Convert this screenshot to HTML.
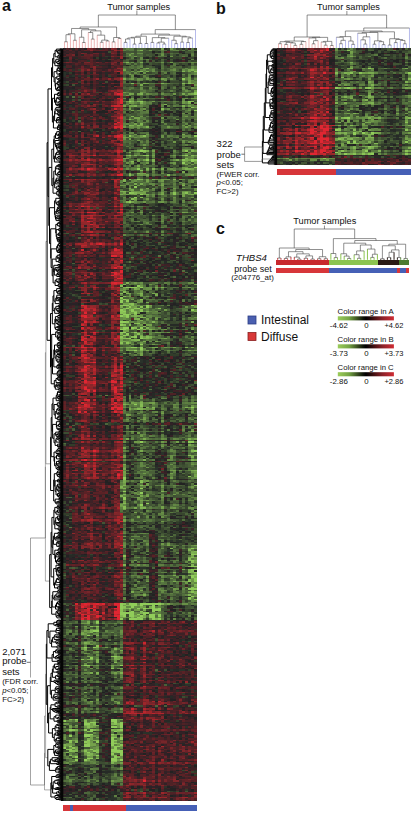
<!DOCTYPE html>
<html><head><meta charset="utf-8"><style>
html,body{margin:0;padding:0;background:#fff;}
body{width:413px;height:813px;overflow:hidden;position:relative;}
svg{position:absolute;left:0;top:0;}
text{font-family:"Liberation Sans",sans-serif;fill:#111;}
</style></head><body>
<svg width="413" height="813" viewBox="0 0 413 813">
<g shape-rendering="crispEdges" filter="url(#bl)"><path fill="none" stroke="#2a2225" stroke-width="1.5" d="M63 48.75h3m51 0h3m-42 1.5h3m-6 1.5h3m18 0h6m3 0h3m9 0h3m-54 1.5h3m6 0h3m21 3h3m62 1.5h3m-47 1.5h3m53 0h3m-107 1.5h6m18 0h6m32 0h3m39 0h3m6 0h3m-71 1.5h3m-57 1.5h3m18 1.5h3m-15 1.5h3m33 0h3m-42 1.5h3m33 0h3m-9 4.5h3m3 3h3m71 0h3m-104 1.5h3m30 0h3m-51 1.5h3m0 1.5h3m27 0h3m6 0h3m-39 1.5h3m45 0h3m-42 1.5h3m18 0h3m15 1.5h3m-54 1.5h3m3 0h3m3 0h3m3 0h3m3 0h3m83 0h3m-116 1.5h9m18 0h3m12 0h3m-3 1.5h3m-6 1.5h3m-33 3h3m-9 1.5h3m3 0h3m27 0h3m-36 1.5h3m27 0h3m35 0h3m27 0h3m-107 1.5h3m3 0h6m3 0h3m0 1.5h3m6 0h6m-30 1.5h3m6 0h3m-15 1.5h3m125 0h3m-128 1.5h3m3 0h3m-9 1.5h3m3 0h3m51 1.5h3m-63 1.5h3m15 0h3m21 0h3m-42 1.5h3m42 0h3m-48 1.5h3m18 0h3m18 0h3m56 0h3m-110 1.5h3m33 0h3m-33 1.5h3m27 0h3m-36 1.5h3m18 0h3m89 0h3m-24 1.5h3m-77 1.5h3m12 0h3m-27 1.5h3m12 0h3m12 0h6m41 0h3m21 0h3m-74 1.5h3m47 0h3m-86 1.5h3m24 0h3m3 0h3m-39 1.5h3m27 0h3m47 0h3m-89 1.5h3m33 0h3m-39 1.5h3m27 1.5h3m15 0h3m35 0h3m6 0h3m6 0h3m9 0h3m-95 1.5h3m12 0h3m-39 1.5h3m27 0h3m9 0h3m41 0h3m-86 1.5h3m27 0h3m50 0h3m-92 3h3m33 0h3m77 0h3m-104 1.5h3m3 0h3m65 0h3m-47 1.5h3m38 0h3m6 0h3m-95 1.5h9m9 0h3m65 0h3m-83 1.5h3m104 0h3m-77 1.5h3m-9 1.5h3m32 0h3m51 0h3m-113 1.5h3m9 0h3m9 0h3m3 0h3m-21 1.5h3m18 0h3m17 0h3m42 0h3m-15 1.5h3m-104 3h3m12 0h3m15 0h3m15 0h3m59 3h3m-95 1.5h3m15 0h3m29 0h3m-74 3h3m68 0h3m21 0h3m-98 1.5h3m30 0h3m56 0h3m-80 3h3m77 0h3m6 0h3m-107 1.5h3m9 0h3m30 3h3m-33 1.5h6m47 0h3m45 0h3m-74 4.5h3m3 0h3m53 0h3m-98 1.5h9m12 0h3m15 0h3m17 0h3m21 0h3m-50 3h3m-15 1.5h3m6 0h3m-45 6h3m18 0h3m12 0h3m-36 1.5h6m36 0h3m53 0h3m-104 1.5h3m30 0h3m9 3h3m-36 1.5h6m15 0h3m6 0h3m44 0h3m-89 1.5h3m-9 1.5h3m89 0h3m-95 1.5h3m119 0h3m-125 1.5h3m9 0h3m56 3h3m24 0h3m24 0h3m-83 3h3m18 0h2m18 0h3m15 0h3m3 0h3m-92 3h3m6 0h3m27 0h3m50 0h3m-27 1.5h3m-92 1.5h6m15 0h3m12 0h3m56 3h3m-83 1.5h3m-12 4.5h3m3 0h3m-15 3h3m45 0h3m6 0h3m-60 1.5h3m39 0h3m-39 1.5h3m24 0h3m18 0h3m35 0h6m15 0h3m-116 3h3m9 0h3m24 1.5h3m15 0h3m26 1.5h3m21 0h6m-98 1.5h3m33 0h3m41 0h3m6 0h6m-50 1.5h3m14 0h3m21 0h3m3 1.5h3m-98 1.5h3m42 0h3m3 0h2m9 0h3m6 0h3m21 0h6m6 0h3m-122 1.5h3m62 0h3m39 0h3m6 0h3m-12 1.5h3m-45 1.5h3m9 0h3m15 0h3m-59 1.5h3m21 0h2m6 0h3m51 0h3m-65 1.5h2m3 0h3m12 0h3m12 0h3m-95 1.5h3m24 0h3m35 0h3m39 0h3m-119 1.5h3m33 0h3m92 1.5h3m-101 1.5h3m50 0h3m30 0h3m3 0h3m-95 1.5h3m24 0h3m35 0h3m-101 1.5h3m3 0h3m39 0h3m77 0h6m-134 1.5h3m21 0h3m6 0h3m-36 1.5h3m92 0h3m3 0h3m12 0h3m-36 1.5h3m-83 1.5h3m54 0h3m41 0h3m-83 1.5h3m65 0h3m12 0h3m3 0h3m6 0h3m-89 1.5h3m47 1.5h3m-74 1.5h3m18 0h3m3 0h3m74 0h3m3 0h3m-104 1.5h3m3 0h3m65 0h6m-41 1.5h3m11 0h3m36 0h3m-59 1.5h3m8 0h6m18 0h6m9 0h3m18 0h3m-101 1.5h3m24 0h3m26 0h3m6 1.5h3m24 0h3m3 0h3m-107 1.5h3m6 0h3m32 0h3m-74 1.5h3m6 0h3m0 1.5h3m-15 3h3m33 0h3m6 0h3m47 0h3m3 0h3m3 0h3m-107 1.5h3m33 0h3m71 0h3m-77 3h3m-9 1.5h3m80 0h3m12 0h3m-125 1.5h3m80 0h3m18 0h3m-107 1.5h3m30 1.5h3m50 0h3m33 0h3m-134 1.5h9m30 0h3m3 0h3m9 0h3m-24 1.5h3m-27 1.5h3m-9 1.5h3m30 0h6m35 0h3m15 0h3m-101 3h15m74 0h3m15 0h3m18 0h3m-128 1.5h3m9 0h3m24 1.5h3m-45 1.5h3m12 0h3m21 0h3m3 0h3m59 0h3m-110 3h3m92 0h3m-92 1.5h6m24 0h3m-33 1.5h6m62 0h3m39 1.5h3m6 0h3m-113 1.5h3m-15 3h3m33 0h3m-30 1.5h3m24 1.5h3m26 0h3m51 0h3m-119 1.5h3m21 0h3m18 0h3m26 0h3m15 0h3m-98 1.5h3m12 0h3m21 0h3m59 0h3m18 0h3m-119 1.5h3m3 0h3m48 0h2m33 0h3m12 0h3m-104 1.5h3m-6 1.5h3m36 0h3m59 0h3m0 1.5h3m-77 1.5h3m56 0h3m-98 1.5h3m3 0h3m18 0h3m65 0h3m-101 1.5h3m101 0h3m3 3h3m-104 1.5h3m24 0h3m41 0h3m21 0h3m-101 1.5h6m92 0h3m-98 1.5h3m30 0h3m53 0h3m-92 1.5h3m95 0h3m-110 3h3m27 1.5h3m-24 1.5h3m21 0h3m-27 1.5h3m80 0h3m-83 1.5h3m18 0h3m9 0h3m-12 1.5h3m3 0h3m56 0h3m18 0h3m-51 1.5h3m15 0h3m15 0h3m15 0h3m-101 1.5h6m44 0h3m18 0h6m-15 1.5h3m-6 1.5h3m-86 1.5h3m30 0h3m15 0h3m26 0h3m3 0h3m33 0h3m-134 1.5h3m42 0h3m12 1.5h3m62 0h3m-128 1.5h3m42 0h3m15 0h3m35 1.5h3m24 0h3m-51 1.5h3m-74 1.5h6m56 0h3m42 0h3m3 0h3m-119 1.5h3m74 0h3m-53 1.5h3m35 0h3m6 0h3m18 0h3m-95 1.5h3m27 0h3m32 0h3m24 0h3m18 0h3m-116 1.5h3m24 0h3m35 0h3m48 0h9m-116 1.5h3m53 0h3m15 0h3m-18 1.5h3m12 1.5h3m15 0h3m-68 1.5h3m32 0h3m3 0h3m12 0h3m-101 1.5h3m33 0h3m50 0h3m12 0h3m3 0h3m-71 1.5h3m20 0h3m18 0h3m-77 1.5h3m50 0h3m21 0h3m-3 1.5h6m-98 1.5h3m3 0h3m48 0h3m3 0h8m18 0h3m9 0h3m24 0h3m-68 1.5h3m8 0h3m9 0h3m15 0h3m6 0h6m-110 1.5h3m0 1.5h3m48 0h3m17 0h3m-77 1.5h6m18 0h3m59 0h3m6 0h6m6 0h3m-119 1.5h6m-3 1.5h3m12 0h3m30 0h3m-51 3h3m36 4.5h3m-12 1.5h3m12 0h3m29 0h3m24 0h3m-77 3h3m9 0h3m-6 1.5h3m50 0h3m9 0h3m12 0h3m-113 1.5h6m15 0h3m3 0h3m-6 1.5h3m83 0h3m-89 1.5h3m56 0h3m-98 1.5h3m30 0h3m9 0h3m-30 1.5h3m15 0h3m50 0h3m15 0h3m9 0h3m-12 1.5h3m-113 3h6m27 0h3m59 0h3m18 0h3m3 0h3m-98 1.5h3m-15 1.5h3m18 0h3m3 0h3m6 0h3m32 0h3m18 0h3m3 0h3m6 1.5h3m-89 1.5h3m9 0h3m20 0h3m21 0h3m-95 1.5h3m39 0h3m47 0h3m6 0h3m-74 1.5h3m-36 1.5h3m9 3h3m18 0h3m6 0h3m12 0h3m23 0h6m27 0h3m12 0h3m-128 1.5h3m39 0h3m-42 1.5h3m110 0h3m-122 1.5h3m0 4.5h3m36 0h3m20 1.5h3m51 1.5h3m-80 1.5h3m23 0h3m18 0h3m6 0h3m-38 3h2m30 0h3m15 0h3m-24 1.5h3m3 0h3m-3 1.5h3m-59 1.5h3m15 0h3m2 4.5h3m-35 1.5h3m-39 1.5h3m15 0h3m15 0h3m27 0h2m27 0h3m18 0h3m-53 3h2m-53 3h3m50 0h3m30 0h3m-9 1.5h3m-80 3h3m12 0h3m56 0h3m9 0h3m9 0h3m-104 1.5h3m-18 3h3m24 0h3m12 0h3m18 0h3m5 0h3m-50 1.5h3m-18 3h3m12 0h6m15 0h3m59 1.5h3m-65 1.5h3m-21 1.5h3m38 1.5h3m-65 1.5h3m21 1.5h3m68 0h3m-98 1.5h3m21 0h3m35 0h3m-71 1.5h6m36 0h3m-42 1.5h3m9 0h3m-15 1.5h3m3 0h3m30 0h3m59 0h3m9 0h3m-119 1.5h3m21 3h3m-9 1.5h3m3 0h3m-12 1.5h3m30 0h3m65 0h3m-104 1.5h3m24 4.5h3m62 0h3m-107 1.5h3m24 0h3m6 0h3m21 0h3m44 0h3m6 3h3m-101 1.5h3m39 0h5m-2 1.5h2m27 0h3m-68 1.5h3m30 0h3m26 0h3m30 0h3m-119 3h3m45 0h3m-39 1.5h3m-18 1.5h3m62 0h3m6 0h3m39 0h3m-39 1.5h3m-59 1.5h6m-21 1.5h3m-15 1.5h3m110 0h3m-104 1.5h3m3 0h3m68 0h3m-80 1.5h3m24 0h3m3 0h3m-45 1.5h3m77 1.5h3m3 0h3m27 0h3m-83 1.5h3m-30 1.5h3m-15 1.5h3m9 0h3m3 0h3m-9 1.5h3m3 0h3m6 0h3m9 0h3m-36 1.5h3m21 0h3m27 0h5m-23 1.5h6m15 0h2m24 0h3m21 0h3m-101 1.5h3m24 0h3m9 0h3m14 0h3m27 0h3m-77 1.5h3m6 0h3m26 0h3m12 0h3m30 0h3m-116 1.5h3m21 0h3m9 0h3m-36 1.5h6m12 0h3m18 0h3m9 0h3m-39 1.5h3m15 0h3m47 0h3m-26 1.5h2m-56 1.5h3m3 0h3m3 0h3m9 0h3m62 0h3m-98 3h3m30 0h3m71 1.5h3m9 0h3m-116 1.5h6m18 0h3m47 0h6m-59 1.5h3m9 0h3m3 0h6m9 0h2m-65 1.5h3m39 1.5h3m35 0h3m0 1.5h3m-65 1.5h3m6 1.5h6m53 0h3m-95 1.5h3m36 0h3m47 0h3m-71 1.5h3m0 1.5h3m9 0h3m-33 1.5h3m6 0h3m21 0h6m41 0h3m3 0h3m-9 1.5h3m-80 1.5h3m77 0h3m-86 1.5h3m30 0h3m44 0h3m3 0h3m-53 1.5h3m3 0h3m41 0h3m-6 1.5h3m0 1.5h3m-86 1.5h3m27 0h3m-30 3h3m48 0h3m23 0h6m-74 1.5h3m12 0h3m-30 1.5h3m33 0h6m15 0h2m6 0h6m-44 1.5h3m21 0h3m11 0h3m27 0h3m9 3h3m-68 1.5h3m-12 3h3m83 0h3m-131 4.5h3m104 3h6m6 1.5h3m-107 1.5h3m48 0h2m6 0h3m6 0h3m15 0h3m9 0h6m-48 1.5h3m3 0h3m45 1.5h3m-113 1.5h3m18 0h3m21 0h3m20 0h3m12 0h6m15 0h3m6 0h3m-6 1.5h3m-57 1.5h3m3 0h3m12 0h3m18 1.5h3m9 0h3m-113 3h3m83 0h3m-24 1.5h3m-9 1.5h3m-47 1.5h3m30 0h3m32 0h3m15 0h3m3 0h3m6 0h3m-48 1.5h3m-80 1.5h3m27 0h3m26 0h3m36 0h3m21 0h3m-98 1.5h3m29 0h3m-68 4.5h3m33 0h3m21 0h3m11 0h3m15 0h3m9 0h6m-39 3h3m27 0h3m6 0h3m9 0h3m-89 1.5h3m18 0h3m14 0h3m3 0h3m15 0h3m-65 1.5h3m74 0h3m-113 1.5h3m6 0h3m27 0h3m26 0h3m-68 1.5h3m33 0h3m12 0h3m26 0h3m18 0h3m-27 1.5h3m12 0h3m15 0h3m-18 1.5h3m15 1.5h3m-80 1.5h3m35 0h6m-6 1.5h3m18 0h3m-68 1.5h3m3 0h3m74 0h3m-86 3h3m41 0h3m9 0h3m6 0h3m6 0h3m-107 1.5h3m3 0h3m24 0h3m15 0h3m-57 1.5h3m45 0h3m65 0h3m-42 1.5h3m-44 1.5h3m-30 1.5h3m21 0h3m32 0h3m-17 1.5h3m11 0h3m30 0h3m3 0h3m-101 1.5h3m27 0h3m26 0h3m51 1.5h3m-57 3h3m48 0h3m-122 1.5h3m9 0h3m9 0h3m3 0h3m24 0h3m50 0h6m-122 1.5h3m6 0h3m3 0h3m21 0h6m65 0h3m15 0h3m-6 1.5h3m-83 3h3m23 0h3m39 0h6m-104 1.5h3m107 0h3m-57 3h3m27 0h3m18 0h3m-89 1.5h3m-33 1.5h3m27 0h3m27 0h8m30 0h3m18 0h3m-122 1.5h3m98 0h3m15 0h3m-3 1.5h3m-27 1.5h3m-62 1.5h3m23 3h3m45 0h3m12 0h3m-134 1.5h3m45 0h3m20 0h3m15 0h3m24 0h3m-18 1.5h3m15 0h3m-45 1.5h3m15 0h6m-86 1.5h3m-3 1.5h3m3 0h3m33 0h3m-57 1.5h3m51 0h3m44 0h3m15 0h6m-113 1.5h3m30 0h6m20 0h3m51 0h3m-80 1.5h3m3 0h3m53 0h3m-9 1.5h3m12 0h3m6 0h3m-98 1.5h3m6 0h3m20 1.5h3m9 0h3m3 0h3m-44 1.5h3m18 0h2m3 0h3m9 0h3m6 0h3m-35 1.5h3m62 0h3m-89 1.5h3m29 0h3m42 0h3m-110 1.5h3m71 0h3m12 0h3m9 0h3m-74 3h3m65 0h3m6 0h3m6 0h3m-51 1.5h3m18 0h3m3 0h3m-47 1.5h3m8 0h3m21 0h3m0 1.5h3m-35 1.5h2m9 0h3m-44 1.5h3m21 0h6m56 0h3m-80 3h3m35 1.5h6m-12 1.5h3m18 0h3m18 0h3m-51 1.5h3m18 0h3m-35 1.5h3m29 0h3m-80 1.5h3m86 1.5h3m-9 1.5h3m12 0h3m-101 1.5h3m18 0h3m29 0h3m15 0h3m3 0h3m9 0h3m6 0h3m-33 1.5h3m18 0h3m-92 1.5h3m50 0h3m57 0h3m-86 1.5h3m18 0h2m27 0h3m15 0h3m9 0h3m-113 1.5h3m59 0h3m24 0h3m-92 1.5h3m45 0h3m11 0h3m36 0h3m6 3h3m-119 1.5h3m21 0h6m21 0h3m11 0h3m15 0h3m30 1.5h3m-110 1.5h3m15 0h3m27 1.5h2m15 0h3m6 0h3m30 0h3m-113 1.5h3m15 0h3m35 0h3m36 1.5h3m-77 1.5h3m32 0h3m24 0h3m12 0h3m-98 1.5h3m6 0h3m15 6h3m-36 1.5h3m116 0h3m-122 3h3m68 0h6m3 0h6m9 0h3m-104 1.5h3m9 0h3m15 0h3m9 0h3m3 0h3m6 0h3m-66 1.5h3m15 0h3m83 0h3m9 0h3m-101 1.5h3m12 0h3m21 0h6m17 0h6m3 0h3m33 0h3m-110 1.5h3m21 0h3m-36 1.5h6m101 0h3m-119 1.5h3m30 0h3m50 0h3m21 0h3m-71 3h3m62 0h3m-89 1.5h3m24 0h3m41 0h3m30 0h3"/>
<path fill="none" stroke="#502427" stroke-width="1.5" d="M66 48.75h3m42 1.5h3m-45 3h3m24 1.5h3m3 0h3m6 0h6m-33 3h3m68 0h3m-89 3h3m9 0h3m-12 1.5h3m18 0h3m12 0h3m-45 3h3m48 0h6m-57 1.5h6m24 0h6m18 0h3m-36 1.5h3m24 0h3m-54 1.5h3m24 0h3m3 0h3m12 0h3m-27 4.5h6m24 0h3m-27 1.5h3m62 0h3m-68 1.5h3m6 0h6m6 0h3m-42 1.5h3m33 0h3m-6 1.5h3m-18 1.5h3m0 1.5h3m18 0h3m-12 3h3m-27 1.5h3m6 0h3m21 0h3m-45 3h6m9 0h3m15 1.5h6m-21 1.5h6m3 0h3m6 0h3m-27 1.5h3m15 0h3m-33 1.5h3m24 0h3m6 0h3m12 0h3m26 0h3m21 0h3m-98 1.5h3m3 0h3m18 0h3m-39 1.5h3m89 0h3m-65 1.5h6m-42 1.5h3m3 0h3m3 0h3m18 0h3m-24 1.5h3m24 1.5h3m-42 3h3m15 0h3m62 0h3m-3 1.5h3m-80 1.5h3m33 1.5h3m-27 1.5h3m6 0h3m-30 3h3m15 0h3m12 0h3m6 0h3m-21 3h3m-6 1.5h3m3 0h3m-12 1.5h3m-24 1.5h3m12 0h3m21 0h3m-39 1.5h3m12 0h3m15 0h6m-9 1.5h6m74 3h3m-107 1.5h3m42 0h3m-57 3h3m36 0h3m-36 1.5h3m18 0h3m12 0h6m-30 3h3m9 0h3m-36 1.5h3m21 0h3m-15 1.5h3m9 0h3m3 1.5h3m53 1.5h3m-83 3h3m-6 1.5h3m33 1.5h3m-6 1.5h3m6 0h6m50 0h3m-83 3h3m21 0h3m-45 1.5h3m86 0h3m-86 3h3m9 0h3m12 0h3m-33 1.5h6m3 0h3m9 0h3m12 0h3m3 0h3m-48 1.5h9m24 3h3m6 0h3m-6 1.5h3m-42 1.5h3m3 0h3m30 0h3m-42 1.5h3m3 0h3m12 0h3m3 0h3m24 0h3m-21 1.5h3m6 0h3m-51 1.5h3m6 0h3m21 0h3m-6 1.5h3m38 0h3m51 0h3m-42 1.5h3m27 0h3m-86 1.5h3m-15 1.5h3m9 0h3m-36 1.5h3m12 0h3m9 0h3m-21 1.5h3m9 0h3m12 1.5h3m-27 1.5h3m3 0h3m3 0h3m24 1.5h3m50 0h3m-80 1.5h6m0 1.5h3m15 0h3m-39 1.5h3m18 0h3m-27 1.5h3m9 3h3m-15 1.5h3m15 0h3m6 0h3m-21 1.5h3m-6 1.5h3m9 0h6m-9 1.5h3m-18 1.5h3m21 0h6m-36 3h3m27 0h3m15 0h3m-45 3h3m12 0h3m-27 4.5h6m3 0h3m27 0h3m-42 1.5h3m36 1.5h3m-3 1.5h6m-45 1.5h3m6 0h6m30 0h3m6 0h3m-60 1.5h3m6 0h3m27 0h3m3 1.5h3m6 0h3m-18 1.5h3m-36 1.5h3m48 1.5h3m44 0h3m-101 1.5h6m15 0h3m12 0h3m9 0h3m-51 1.5h3m12 1.5h3m6 0h3m89 0h3m-119 1.5h3m6 0h3m27 0h3m9 0h3m-33 1.5h6m12 0h3m-30 1.5h3m-3 1.5h6m3 0h3m6 0h3m47 0h3m-47 1.5h3m6 0h3m-39 1.5h6m9 0h3m65 0h3m-47 3h3m44 0h3m18 0h3m-122 1.5h3m6 0h3m39 1.5h3m32 0h3m-77 1.5h3m21 0h3m-36 1.5h3m9 0h3m89 0h3m-110 1.5h3m3 0h3m21 0h6m80 0h3m-116 1.5h3m9 0h3m24 0h3m-48 1.5h3m9 0h3m9 0h3m3 0h3m56 1.5h3m-21 1.5h3m-71 1.5h6m15 0h3m6 0h3m-30 1.5h3m24 0h3m3 0h3m-24 1.5h3m18 0h3m32 0h3m-38 3h3m53 0h3m-59 1.5h3m68 1.5h3m-68 1.5h3m-48 3h6m6 0h3m27 0h6m18 0h2m-62 3h3m30 0h9m15 0h3m-51 1.5h6m-9 1.5h3m6 0h3m3 1.5h3m101 0h3m-131 1.5h3m9 0h3m15 1.5h3m18 1.5h3m59 0h3m-83 1.5h6m-9 1.5h3m-6 1.5h3m18 0h3m-24 3h3m-9 3h3m24 0h3m62 0h3m-65 1.5h3m50 0h6m-113 1.5h3m3 0h3m12 1.5h3m21 1.5h3m74 0h3m-77 1.5h3m-6 3h3m-42 1.5h3m-6 3h3m30 0h3m6 1.5h3m-15 1.5h3m3 1.5h3m-36 1.5h3m30 0h3m-36 1.5h3m-3 1.5h3m6 1.5h6m15 0h3m-15 4.5h3m-24 1.5h6m33 0h3m-39 1.5h3m15 1.5h3m53 0h3m39 0h3m-122 1.5h3m3 0h3m30 0h3m-15 3h3m-30 4.5h3m36 0h6m-42 1.5h3m9 0h3m12 0h3m-30 1.5h3m33 1.5h3m-24 1.5h3m71 0h3m-86 3h3m18 0h3m-30 1.5h3m33 0h3m-6 1.5h3m3 0h3m-9 1.5h3m-12 1.5h3m21 0h3m-42 1.5h3m33 0h6m-57 1.5h3m36 0h9m9 0h3m-51 1.5h6m27 0h3m23 0h3m-65 1.5h3m92 0h3m-98 1.5h3m107 0h3m-95 1.5h3m-12 1.5h3m74 0h3m-62 1.5h3m3 0h3m-9 1.5h3m18 0h3m38 0h3m-62 1.5h3m3 0h6m23 0h3m-68 1.5h3m57 0h2m-35 1.5h3m24 0h3m-63 1.5h3m92 0h3m18 0h3m-101 1.5h3m65 0h3m-71 1.5h3m45 0h2m3 0h3m12 0h3m-29 1.5h3m-54 1.5h3m24 0h3m77 0h3m-104 1.5h3m24 0h3m38 0h3m-77 1.5h3m95 0h3m-110 1.5h3m104 0h3m-68 1.5h3m-36 1.5h3m89 0h3m27 0h3m-134 1.5h3m3 0h3m3 0h3m-15 1.5h3m3 0h3m6 1.5h3m62 0h3m24 1.5h6m-18 1.5h3m6 0h3m-80 3h3m9 0h3m-15 1.5h3m12 0h3m-18 1.5h3m3 1.5h3m9 0h3m-42 1.5h3m24 0h3m-24 1.5h3m18 0h3m-33 1.5h3m6 1.5h3m18 0h6m-33 3h3m0 1.5h3m18 0h3m-15 1.5h3m36 0h3m-42 1.5h3m27 0h3m6 0h3m-42 1.5h3m3 0h3m0 1.5h3m3 0h3m-6 1.5h3m0 1.5h3m-15 1.5h3m24 1.5h3m-36 1.5h3m12 0h3m6 0h3m9 0h3m-36 1.5h3m27 0h3m3 1.5h3m-42 1.5h3m33 0h3m-15 1.5h3m12 0h3m-21 1.5h3m12 1.5h3m-9 3h3m53 1.5h3m-68 1.5h3m3 0h3m-18 1.5h3m-18 1.5h3m3 0h9m3 0h3m6 0h3m-15 1.5h3m-3 1.5h3m6 0h3m-24 1.5h3m-18 1.5h3m3 0h3m0 1.5h3m24 0h3m-33 3h3m89 0h3m-89 1.5h3m-3 1.5h3m107 0h3m-95 3h3m18 0h3m-15 3h3m-39 1.5h3m9 0h6m15 0h6m9 0h3m-48 1.5h3m33 0h3m0 3h3m-42 1.5h3m30 0h3m9 1.5h3m-54 1.5h3m3 0h3m24 0h3m-27 1.5h3m33 0h3m-12 1.5h3m3 0h3m-3 1.5h3m3 0h3m-48 1.5h3m21 0h3m9 0h3m9 0h3m-48 1.5h3m21 0h3m-21 1.5h3m21 0h3m-24 1.5h3m30 0h3m-51 1.5h3m9 0h3m3 0h3m12 0h3m-21 1.5h3m12 0h3m-15 1.5h3m15 0h6m6 0h3m-24 1.5h3m-12 1.5h3m83 0h3m-107 1.5h3m15 0h3m3 0h3m9 3h6m-24 1.5h3m3 0h3m9 0h3m-15 1.5h3m3 1.5h3m-12 1.5h6m21 0h3m-9 1.5h3m-39 1.5h3m6 0h3m9 0h6m-3 1.5h3m-21 1.5h3m30 0h3m-36 3h3m3 0h3m6 0h3m12 0h3m-3 1.5h3m-36 1.5h3m24 0h3m-24 1.5h3m12 0h3m-9 1.5h3m12 1.5h3m-27 1.5h3m15 0h3m3 0h3m3 0h3m-6 1.5h3m-9 3h3m9 0h3m-42 1.5h3m6 0h3m12 0h3m21 3h3m-48 1.5h3m12 0h3m12 0h3m3 0h3m-30 1.5h3m12 0h3m6 0h3m-6 3h3m6 0h3m32 0h3m-80 1.5h3m6 0h9m9 0h3m-33 1.5h3m24 0h6m3 0h6m-24 1.5h3m-15 1.5h3m-6 1.5h3m6 0h3m-6 1.5h3m3 0h3m-15 3h3m33 0h3m-36 1.5h3m12 0h3m3 0h3m-21 1.5h6m68 0h3m-74 1.5h3m21 0h3m-21 1.5h3m6 0h3m18 1.5h3m6 0h3m-15 1.5h3m-24 1.5h3m-18 3h6m21 0h3m41 0h3m-56 1.5h3m30 0h2m-17 1.5h3m-27 1.5h6m3 0h3m-24 4.5h3m-18 1.5h3m12 0h3m15 0h3m12 0h3m-18 1.5h3m15 0h6m6 0h3m-54 1.5h3m15 0h3m-21 1.5h3m6 0h3m3 0h3m6 0h3m3 0h3m-24 1.5h3m18 0h3m12 0h3m-48 1.5h3m3 0h3m9 0h3m0 1.5h3m0 3h3m-27 1.5h3m18 1.5h3m-24 3h3m21 0h3m-24 1.5h3m21 0h3m-27 1.5h3m18 0h3m-21 1.5h3m33 1.5h3m-48 1.5h3m18 0h3m24 0h3m-51 1.5h3m12 0h3m24 0h3m9 1.5h3m29 0h3m-89 1.5h3m-6 6h3m27 1.5h3m77 0h3m-110 1.5h3m3 0h3m86 0h3m-92 4.5h3m18 4.5h3m21 0h3m3 1.5h2m15 0h3m24 0h3m-42 1.5h3m-11 3h3m8 0h3m33 0h3m9 0h3m3 0h3m-33 1.5h3m12 0h6m-48 1.5h3m30 0h3m9 0h3m-21 1.5h3m6 0h3m-33 1.5h3m39 0h3m6 0h3m-57 1.5h3m12 0h3m18 0h3m-47 1.5h5m45 0h3m-36 1.5h6m30 0h3m-18 1.5h3m24 0h3m-63 1.5h3m-14 1.5h3m8 0h3m3 1.5h3m21 0h3m24 0h3m-48 1.5h3m18 0h3m-107 1.5h3m65 0h3m51 0h3m-9 1.5h3m3 0h3m3 0h3m-33 1.5h3m30 1.5h3m-57 1.5h3m12 0h3m24 0h3m-18 1.5h3m6 0h3m6 0h3m-59 1.5h2m3 0h3m21 0h3m30 0h3m-57 1.5h6m15 0h3m12 0h6m-45 1.5h3m33 0h3m12 0h6m-60 3h3m24 0h3m-32 1.5h2m6 0h3m18 0h3m18 0h3m0 1.5h3m-6 1.5h3m3 0h3m-57 1.5h6m24 0h3m30 0h3m-45 1.5h3m30 0h3m-110 1.5h3m45 0h3m62 0h3m-71 1.5h3m53 0h3m6 0h3m-30 3h6m6 0h3m18 0h3m-63 1.5h3m30 0h3m-39 1.5h3m42 0h3m6 0h6m-68 1.5h3m32 0h3m30 1.5h3m-39 1.5h3m3 0h6m3 0h3m-95 1.5h3m50 0h3m33 0h3m-9 1.5h3m-33 1.5h3m24 0h3m6 0h3m15 0h3m6 0h3m-3 1.5h3m-119 1.5h3m45 0h8m24 0h3m-30 1.5h3m27 0h3m27 0h3m-54 1.5h6m39 0h3m-39 1.5h6m24 0h3m-48 1.5h3m6 0h3m39 0h3m-65 1.5h3m20 0h3m-18 1.5h3m18 0h3m6 0h3m-41 1.5h3m-3 1.5h3m-3 1.5h3m8 0h3m18 0h3m15 0h3m-42 1.5h3m39 0h3m-101 1.5h3m-3 1.5h3m89 0h3m3 0h3m-18 1.5h3m21 0h3m3 0h3m-48 1.5h3m24 0h6m-15 1.5h3m6 0h3m-12 1.5h3m-95 1.5h3m86 0h3m-83 1.5h3m42 0h3m14 1.5h3m3 1.5h3m24 0h3m12 0h3m-71 1.5h3m5 0h3m-32 1.5h3m56 0h3m30 0h3m-74 1.5h3m44 0h3m9 0h3m-42 1.5h3m15 0h3m3 0h3m3 0h3m18 0h3m-60 1.5h3m36 0h3m-50 1.5h2m33 0h3m15 0h3m9 0h3m-54 1.5h3m12 0h3m15 0h3m-21 1.5h3m3 0h3m24 0h3m-128 1.5h3m30 0h3m62 0h3m-41 1.5h3m23 0h3m27 0h3m-62 3h6m23 0h3m6 0h3m3 0h3m-15 1.5h9m3 0h3m12 0h3m9 0h3m-60 1.5h6m24 0h6m18 0h3m-65 1.5h2m9 1.5h3m24 0h3m-36 1.5h6m18 0h3m-35 1.5h8m15 0h3m12 0h3m27 0h3m-68 1.5h5m51 0h3m6 0h3m-48 1.5h3m21 0h3m-47 1.5h5m36 0h3m18 0h3m-71 1.5h3m11 0h9m42 0h6m-77 3h3m29 0h3m6 0h3m18 0h3m3 0h3m-30 1.5h3m-18 1.5h3m18 0h6m-27 1.5h3m3 0h3m30 0h6m-65 1.5h3m26 0h3m39 0h3m-42 1.5h3m24 0h3m-33 1.5h3m15 0h3m-6 1.5h3m-44 1.5h3m50 0h6m-62 1.5h3m3 0h5m33 0h3m6 0h3m-45 1.5h3m3 0h3m18 0h3m27 0h3m-63 1.5h3m15 0h3m-21 1.5h3m54 0h3m-51 1.5h6m27 0h3m-42 1.5h3m33 0h3m3 0h3m3 0h3m6 0h6m-63 1.5h3m24 0h6m-18 1.5h3m9 0h3m30 0h3m-36 1.5h3m6 0h3m18 0h3m-63 1.5h3m9 0h3m12 0h3m9 0h3m-47 1.5h3m38 0h6m12 0h3m-51 1.5h3m6 0h3m27 0h3m-110 1.5h6m59 0h3m54 0h6m-113 1.5h3m59 0h3m36 0h3m6 0h3m-101 1.5h3m62 0h3m-18 3h3m6 0h3m12 0h6m0 1.5h3m-12 3h3m3 0h3m-53 1.5h3m35 0h6m6 0h3m18 0h3m-95 1.5h3m24 0h2m15 0h3m18 0h3m9 0h3"/>
<path fill="none" stroke="#3d2326" stroke-width="1.5" d="M69 48.75h3m9 0h3m12 0h3m9 0h3m77 0h3m-116 1.5h3m30 0h3m-45 1.5h6m18 0h3m71 0h3m-104 1.5h3m6 0h3m15 0h3m6 0h3m15 0h3m-54 3h3m6 0h3m15 0h3m-18 1.5h3m33 0h3m-3 1.5h3m-24 1.5h3m53 0h3m15 0h3m-95 1.5h3m-12 1.5h3m3 0h3m6 0h3m12 0h3m6 0h3m9 0h3m-33 1.5h3m3 0h3m15 0h3m53 0h3m-95 1.5h6m3 0h6m12 0h6m6 0h3m-6 1.5h3m-48 1.5h3m36 0h3m-42 1.5h3m21 0h3m6 0h3m9 0h3m-39 1.5h3m24 0h3m6 0h3m-45 1.5h3m12 0h3m-12 1.5h3m6 0h3m9 0h3m21 0h3m-27 1.5h3m-21 1.5h3m18 0h3m-27 1.5h3m18 1.5h3m-36 1.5h3m3 0h3m18 0h3m12 0h6m-27 1.5h3m21 0h3m47 0h3m-65 1.5h3m59 0h3m-86 1.5h6m6 0h3m18 0h3m47 1.5h3m-92 1.5h6m21 0h3m-36 1.5h3m3 0h3m9 0h3m6 0h3m9 0h3m-42 3h3m33 0h3m-6 1.5h3m6 0h3m50 0h3m3 0h3m-92 1.5h3m27 0h3m-24 1.5h3m-18 1.5h3m27 0h3m-36 1.5h3m18 0h3m3 0h3m-12 1.5h3m18 0h3m50 0h3m33 0h3m-101 1.5h3m-12 1.5h6m3 0h3m3 0h3m3 0h3m-36 1.5h3m3 0h3m12 0h6m-3 1.5h3m3 0h3m-42 1.5h3m0 1.5h3m9 0h3m24 0h3m3 0h3m-39 1.5h6m24 1.5h3m-48 1.5h3m18 0h3m9 0h3m56 0h3m-89 1.5h3m24 0h3m27 1.5h3m-42 1.5h3m9 0h3m-12 1.5h3m9 0h3m-42 1.5h3m42 0h3m-45 3h6m3 0h3m6 1.5h3m21 0h3m-36 1.5h3m56 0h3m18 0h3m-74 1.5h3m-12 1.5h3m36 0h3m-18 1.5h3m53 0h3m-92 1.5h3m27 0h3m56 0h3m-83 1.5h3m3 0h3m12 0h9m-36 1.5h3m6 0h3m9 0h3m62 0h3m-89 3h3m24 0h6m3 0h3m-33 1.5h3m21 0h3m9 0h3m-48 1.5h3m12 1.5h3m30 0h3m50 3h3m-86 1.5h3m9 0h3m9 0h3m56 1.5h3m-12 1.5h3m-98 1.5h3m9 0h3m18 0h3m3 0h3m3 1.5h3m50 0h3m-98 4.5h3m95 0h3m-68 1.5h3m-36 1.5h3m9 1.5h3m15 0h3m0 4.5h3m32 0h3m-71 1.5h3m6 0h3m27 1.5h3m9 1.5h6m32 0h3m-68 1.5h3m83 0h3m-107 3h6m21 0h3m6 0h3m-39 1.5h3m21 0h3m-18 1.5h3m9 0h3m3 0h6m3 0h3m-30 1.5h3m9 0h3m6 0h3m50 0h3m21 0h3m-89 1.5h3m6 0h6m-3 1.5h3m-36 3h3m30 0h3m3 0h3m-9 1.5h3m-27 1.5h3m-15 1.5h3m3 0h3m24 0h3m-36 3h6m24 0h3m6 0h6m-33 1.5h3m12 0h3m6 0h3m80 0h3m-125 1.5h3m36 1.5h3m3 0h3m-48 1.5h3m36 0h3m3 0h3m-9 1.5h3m71 1.5h3m-80 1.5h6m-36 1.5h3m30 0h3m-42 1.5h3m36 0h3m-30 1.5h3m21 0h3m6 3h3m-48 3h3m9 0h3m21 1.5h3m-27 1.5h3m15 0h3m71 0h3m-95 3h3m18 0h3m6 0h3m47 0h3m-95 1.5h3m3 0h9m74 0h3m-86 1.5h3m39 0h3m74 0h3m-110 1.5h3m24 0h3m26 3h3m3 0h3m-74 1.5h3m33 0h3m-45 1.5h3m57 0h2m24 0h3m-92 1.5h3m18 0h3m89 0h3m12 0h3m-131 1.5h3m39 0h3m12 0h3m32 0h3m-86 1.5h3m21 0h3m9 0h3m3 0h3m71 0h3m-122 1.5h3m-3 1.5h3m-9 1.5h3m77 1.5h3m24 0h3m-98 1.5h3m9 0h3m15 0h3m68 0h3m12 0h3m-134 1.5h3m3 0h3m15 0h3m53 0h3m9 0h3m9 0h3m-104 1.5h3m36 0h3m23 1.5h3m33 0h3m-107 1.5h6m6 0h3m48 0h3m2 0h6m9 0h3m15 0h3m-101 1.5h3m80 0h3m18 0h3m6 0h3m-101 1.5h3m30 0h6m17 0h3m-74 1.5h3m33 0h6m-33 1.5h6m12 0h3m6 0h6m23 0h3m6 0h3m-59 1.5h3m12 0h3m3 0h3m0 1.5h3m-48 1.5h3m24 0h3m6 0h3m29 0h6m27 0h6m-80 1.5h3m-21 1.5h3m21 0h3m65 0h3m9 0h3m9 0h3m-116 1.5h3m33 0h3m15 0h2m48 0h3m-116 1.5h6m3 0h3m24 0h3m0 1.5h3m50 0h3m-62 1.5h3m-39 1.5h3m3 0h3m57 0h2m30 0h3m-101 1.5h6m92 1.5h3m21 0h3m3 0h3m-125 1.5h3m18 0h3m9 0h6m3 0h3m38 0h3m3 0h3m3 0h3m15 0h3m-98 1.5h3m-15 3h3m9 0h6m-24 1.5h3m-6 1.5h3m-6 1.5h3m12 0h3m18 0h3m6 1.5h3m65 0h3m-92 1.5h3m89 0h3m-68 1.5h3m-36 1.5h3m33 0h3m-15 1.5h3m65 0h3m-86 1.5h3m6 1.5h6m-39 1.5h3m48 0h3m74 0h3m-134 1.5h3m6 0h3m30 0h3m-12 1.5h3m15 0h3m32 0h3m36 0h3m-119 1.5h3m-6 1.5h3m6 0h3m21 0h3m74 0h3m-77 1.5h3m-42 1.5h3m33 0h3m-3 1.5h3m-27 3h3m12 0h3m12 0h3m62 0h3m-110 1.5h3m36 0h3m-45 1.5h3m6 0h3m30 0h3m-45 1.5h3m12 1.5h3m24 0h6m-48 1.5h3m6 0h3m30 0h6m-45 1.5h3m24 0h9m6 0h3m68 0h3m-65 1.5h3m-30 1.5h3m3 0h3m3 3h3m-27 1.5h3m30 0h3m50 0h3m-92 1.5h3m12 1.5h3m3 0h3m47 0h3m-50 1.5h3m-30 1.5h3m27 0h3m-9 3h6m-30 1.5h3m104 1.5h3m-113 1.5h6m95 1.5h3m6 0h3m-77 3h3m-9 1.5h3m9 1.5h6m62 0h3m-119 3h3m39 0h3m6 0h3m-51 1.5h3m74 0h3m9 0h3m33 0h3m-60 1.5h3m9 0h3m33 0h3m-122 1.5h3m39 1.5h3m3 0h3m12 0h3m2 0h6m-71 1.5h3m27 0h3m9 0h3m41 0h3m15 1.5h3m9 0h3m-68 1.5h3m9 0h2m60 0h3m-63 1.5h3m18 0h3m18 0h3m-101 1.5h3m27 0h3m-36 1.5h3m95 0h3m-101 1.5h3m77 0h3m-86 1.5h3m30 0h3m65 0h3m21 0h3m-101 1.5h3m62 0h6m-89 1.5h3m18 0h3m86 0h3m-125 1.5h3m30 0h3m6 0h3m68 0h3m6 0h3m-86 1.5h3m32 0h3m12 0h3m-92 1.5h3m33 0h3m56 0h3m-3 3h3m-98 1.5h3m3 0h3m3 0h3m18 0h3m80 0h3m-113 1.5h3m21 0h3m27 0h3m17 0h3m42 0h3m-98 1.5h3m71 0h6m-68 1.5h3m77 0h3m-57 1.5h3m27 0h3m6 0h6m9 0h3m-42 1.5h3m3 0h3m-59 1.5h3m3 0h3m26 0h3m-65 3h3m33 0h6m29 0h3m-53 1.5h3m83 1.5h3m-86 1.5h3m3 0h3m-39 1.5h3m3 1.5h3m24 0h3m3 0h3m-42 1.5h6m0 4.5h3m30 0h3m41 0h3m-47 1.5h6m-36 1.5h3m12 0h3m18 0h3m-36 1.5h3m9 0h3m21 0h3m-54 1.5h3m63 0h2m39 0h3m12 0h3m-122 1.5h3m36 0h3m3 0h6m-42 1.5h6m33 0h3m47 0h3m-101 1.5h3m95 1.5h3m18 0h3m-101 1.5h3m30 0h3m32 0h3m18 0h3m3 0h6m-113 1.5h3m15 0h3m6 0h3m9 0h3m77 1.5h3m-95 1.5h3m-36 1.5h3m21 0h3m-33 1.5h6m24 0h3m3 0h3m-27 1.5h6m9 0h3m3 1.5h3m3 0h3m44 0h3m-86 1.5h3m21 0h3m6 0h3m-12 1.5h6m9 0h3m-12 1.5h3m-36 1.5h3m86 0h3m15 0h6m-95 3h6m15 0h3m0 1.5h6m-48 1.5h12m21 0h3m6 0h3m-30 1.5h3m-15 1.5h3m36 0h3m-30 1.5h3m-18 1.5h3m9 0h3m53 0h3m21 0h3m-62 1.5h3m-36 3h3m6 0h3m24 0h3m-30 1.5h3m6 0h3m18 0h3m6 0h3m41 0h3m21 0h3m-48 3h3m30 0h3m-104 1.5h6m48 0h3m-45 1.5h3m48 0h2m-68 3h3m12 0h3m83 0h3m-77 1.5h3m3 0h3m-30 1.5h3m6 0h3m-6 1.5h3m86 1.5h3m-68 1.5h3m-39 1.5h3m3 0h3m6 1.5h3m-9 1.5h3m83 0h3m3 0h3m-95 1.5h3m12 0h3m74 0h3m-89 1.5h6m15 0h6m6 0h3m3 0h3m-42 1.5h3m62 0h3m30 0h3m-68 3h3m-48 1.5h3m6 0h3m6 0h3m12 0h3m-15 1.5h3m15 0h3m-42 1.5h3m12 0h3m-15 1.5h3m21 1.5h3m-30 1.5h3m48 1.5h3m-48 1.5h3m27 0h3m-27 1.5h3m9 0h3m15 0h3m-21 1.5h3m12 0h3m-30 1.5h3m18 0h3m-30 1.5h6m12 0h3m6 0h3m-36 1.5h3m9 1.5h3m-9 1.5h3m18 0h3m3 1.5h3m-15 1.5h3m21 0h3m-18 6h6m3 0h3m3 0h3m-15 4.5h3m12 0h3m65 0h3m-74 1.5h3m-27 1.5h3m6 0h3m18 0h3m65 0h3m-104 1.5h3m-9 1.5h3m104 0h3m3 0h3m-131 1.5h3m51 0h3m9 0h2m18 0h6m-83 1.5h3m18 0h3m12 0h3m-45 3h9m6 0h6m18 0h3m44 0h3m-89 1.5h3m86 0h3m-50 1.5h3m38 0h3m-89 3h3m6 0h3m9 0h3m3 0h3m3 0h3m-21 1.5h3m27 0h3m38 0h3m-86 1.5h3m83 0h3m-53 1.5h3m-3 1.5h3m47 0h3m-53 1.5h3m50 0h3m-47 1.5h3m12 0h3m20 0h3m3 0h3m21 0h3m-113 1.5h3m3 0h3m21 0h3m9 0h3m3 0h3m29 0h3m-86 1.5h3m3 0h3m3 0h3m-3 1.5h3m71 0h3m24 0h3m-33 1.5h3m15 0h3m-59 1.5h3m6 0h3m29 0h3m-89 1.5h3m15 0h3m12 0h3m-27 1.5h3m-12 1.5h3m6 0h3m33 0h6m-51 1.5h3m24 0h3m18 0h6m6 0h3m-54 3h3m48 0h3m50 0h3m-113 3h3m57 0h2m-29 1.5h3m21 0h3m23 0h6m21 0h3m-92 1.5h3m6 1.5h3m-36 1.5h6m6 0h3m-3 1.5h3m74 0h3m-86 1.5h3m36 0h6m-27 1.5h3m-18 1.5h3m27 0h3m3 1.5h3m35 0h3m27 0h3m-107 1.5h3m101 0h3m-98 1.5h3m12 0h6m3 0h3m15 0h3m56 0h3m-113 1.5h3m24 0h3m9 0h3m62 0h3m-116 1.5h3m30 0h3m-15 1.5h3m18 0h3m-45 1.5h3m30 0h3m9 0h3m41 0h3m-89 1.5h3m3 0h3m33 0h3m-39 1.5h3m6 0h3m21 0h3m-39 1.5h3m15 0h3m21 0h3m-18 1.5h6m62 0h3m-104 1.5h3m12 0h3m12 0h3m-6 1.5h6m18 0h3m59 1.5h3m-110 1.5h3m-6 3h6m92 1.5h3m-74 1.5h3m-36 1.5h3m39 0h3m-42 1.5h3m36 0h3m-42 1.5h3m3 0h3m36 0h3m0 3h3m41 3h3m-35 1.5h3m26 0h3m-29 1.5h2m24 0h3m9 0h3m24 0h3m-68 1.5h2m9 0h6m12 0h3m9 0h3m6 0h3m12 1.5h3m-66 1.5h3m18 0h3m27 0h3m-107 1.5h3m45 0h3m2 0h3m9 0h3m-6 1.5h3m12 0h3m9 1.5h3m-36 1.5h3m39 0h9m3 0h3m-57 1.5h3m21 0h3m3 0h3m27 0h3m-68 1.5h2m36 0h3m6 0h3m-48 1.5h6m36 0h3m6 0h6m3 0h3m-95 1.5h3m21 0h3m17 0h3m27 0h6m12 0h3m-36 1.5h3m6 0h3m21 0h3m-39 1.5h3m21 0h6m9 0h3m-9 1.5h3m-77 1.5h3m12 0h2m18 0h3m9 0h3m30 0h3m-51 1.5h3m39 0h3m-12 1.5h3m3 0h3m-95 1.5h3m3 0h3m47 0h3m3 0h3m12 0h3m-15 1.5h3m15 0h3m6 0h3m6 0h3m-68 1.5h2m27 0h3m21 0h3m6 0h3m-27 1.5h3m9 0h3m-45 3h3m9 0h3m21 0h3m-21 1.5h3m15 0h3m18 0h3m-57 1.5h6m6 0h3m-32 1.5h3m26 0h3m6 0h3m9 0h3m18 0h3m-68 1.5h2m15 0h3m9 0h3m12 1.5h3m-36 1.5h3m30 0h3m15 0h3m-39 1.5h9m6 0h6m3 0h3m-83 1.5h3m6 0h3m12 0h3m8 0h3m-3 3h3m15 0h3m15 0h3m15 0h3m3 0h3m-63 1.5h3m39 0h3m-39 1.5h3m3 0h3m15 0h3m12 0h3m3 0h6m-39 1.5h6m24 0h3m-51 1.5h3m3 0h3m6 0h3m15 0h3m15 0h3m6 0h3m-42 1.5h3m-12 1.5h3m12 1.5h3m30 0h3m-107 1.5h3m41 3h6m33 0h3m9 0h3m-48 1.5h3m9 0h3m6 0h3m30 0h3m-71 1.5h3m17 0h3m24 0h3m3 0h3m-56 1.5h3m5 0h3m51 0h3m-128 1.5h3m12 0h3m48 0h5m60 0h3m-74 1.5h3m26 0h3m9 0h3m6 0h6m-116 1.5h3m92 0h6m27 0h3m-65 1.5h2m9 0h3m48 0h3m-125 1.5h3m95 0h3m12 0h3m-9 1.5h3m6 0h3m-6 3h3m-113 1.5h3m9 0h3m12 0h3m65 0h6m-12 1.5h3m3 0h3m15 0h6m-83 1.5h3m26 0h3m36 0h3m15 0h3m-119 1.5h3m53 0h3m30 0h3m21 0h6m-21 1.5h3m-113 1.5h3m3 0h3m101 0h3m-101 1.5h3m3 0h3m3 0h3m33 0h3m26 0h3m36 0h3m-51 1.5h3m6 0h3m12 0h3m12 0h3m6 0h3m-98 1.5h3m65 0h3m3 0h3m6 0h3m6 0h3m-128 1.5h3m39 0h3m77 0h3m-65 1.5h3m29 0h3m9 0h6m18 0h3m-63 1.5h3m9 0h3m15 0h3m15 0h3m-36 1.5h3m21 0h9m6 0h6m-86 1.5h3m15 0h3m20 0h3m39 0h3m-45 1.5h3m6 0h3m30 0h3m-54 1.5h3m9 0h3m-47 1.5h3m-3 1.5h3m15 0h3m14 0h3m3 0h3m21 1.5h3m12 0h3m-51 1.5h3m30 0h6m6 0h3m-45 1.5h3m18 0h3m6 0h3m12 0h3m-86 1.5h3m41 0h3m30 0h3m-48 1.5h3m24 0h3m3 0h3m3 0h3m-53 1.5h5m57 0h3m-39 1.5h3m27 0h3m-62 1.5h3m17 0h3m6 0h3m21 0h3m9 0h3m-36 1.5h3m6 0h3m24 0h3m-21 1.5h3m-71 1.5h3m-6 1.5h9m29 0h3m18 0h3m-62 1.5h3m59 0h3m9 0h6m-77 1.5h3m65 0h3m-68 1.5h3m18 0h2m6 0h3m6 0h3m-47 1.5h3m18 0h3m3 0h5m36 0h3m21 0h3m-74 1.5h3m3 0h2m12 0h3m15 0h3m9 0h3m9 0h3m-65 1.5h6m2 0h3m21 0h3m27 0h3m-65 1.5h6m8 0h3m36 0h3m-74 1.5h3m77 0h3m-57 1.5h3m-17 1.5h3m26 0h6m9 0h3m12 0h3m-116 1.5h3m65 0h3m6 0h3m6 0h3m9 0h3m9 0h3m6 0h6m3 0h3m-116 1.5h3m48 0h2m60 0h3m-60 1.5h3m3 0h3m6 0h3m12 0h3m21 0h9m-134 1.5h3m104 0h3m6 0h3m-56 1.5h3m17 0h3m9 0h3m6 0h3m12 0h3m-101 1.5h3m36 0h3m44 0h3m18 0h3m-27 1.5h6m15 0h3m-51 3h3m33 0h3m9 0h3m-39 1.5h3m-18 3h3m6 0h6m24 0h6m-59 1.5h3m-39 1.5h3m12 0h3m62 0h3m3 0h3m-71 1.5h3m21 0h2m45 0h3m3 0h9m-119 1.5h3m15 0h3m62 0h3m9 0h3m-47 1.5h3m3 0h2m51 0h3m-119 1.5h3m39 0h3m71 0h3m-27 1.5h3m-83 1.5h3m21 0h3m50 0h3m15 0h3m12 0h3m-60 1.5h3m24 0h3m15 0h3m-48 1.5h3m0 1.5h3m6 0h6m-50 1.5h3m21 0h3m5 0h6m39 0h3"/>
<path fill="none" stroke="#262b27" stroke-width="1.5" d="M72 48.75h3m89 0h3m-83 3h3m107 0h3m-89 1.5h3m-30 1.5h3m15 0h3m-27 3h3m24 0h3m12 0h3m23 0h3m6 0h3m30 0h3m-110 1.5h3m24 0h3m50 0h3m24 0h3m6 0h3m-131 1.5h3m33 0h3m38 0h3m9 0h3m15 0h3m-30 3h3m15 0h3m3 0h3m15 0h3m-119 1.5h3m27 0h3m71 0h3m-21 1.5h3m-95 1.5h3m-3 4.5h3m21 0h3m12 0h3m68 0h6m-110 1.5h3m30 0h3m71 0h3m-113 1.5h3m27 0h3m35 0h3m12 0h3m36 0h3m-86 1.5h3m56 3h3m9 0h3m-110 1.5h3m24 0h3m-36 1.5h3m6 1.5h6m18 0h3m83 0h3m-83 1.5h3m26 0h3m18 0h3m9 1.5h3m-107 1.5h3m3 0h6m21 0h3m65 0h3m12 0h3m-27 1.5h3m-95 6h3m77 0h3m6 0h3m21 0h3m3 0h3m3 0h3m-125 1.5h3m110 0h3m-119 1.5h9m98 0h3m3 0h3m6 0h3m-30 3h3m-98 1.5h3m113 0h3m-33 1.5h3m-74 1.5h3m18 0h3m65 0h3m-92 1.5h3m-18 1.5h3m83 0h3m-65 1.5h3m77 0h3m6 0h3m-83 1.5h3m50 0h3m15 0h3m-68 1.5h3m47 0h3m21 0h3m12 0h3m-125 1.5h6m3 0h3m-15 1.5h3m3 0h3m30 0h3m44 1.5h6m-89 1.5h3m24 0h3m12 0h3m44 0h3m6 0h3m21 0h3m-36 1.5h3m18 0h3m-24 1.5h3m-89 1.5h3m80 0h3m-80 3h3m45 0h3m-42 1.5h3m74 0h3m27 0h3m-113 1.5h3m12 0h3m3 0h3m41 0h3m6 0h3m21 0h3m-95 1.5h3m56 0h3m3 0h3m9 0h3m9 0h3m-119 1.5h3m42 0h3m47 0h3m15 0h3m12 0h3m-36 3h3m-95 3h3m30 1.5h3m-36 1.5h3m89 0h3m3 0h3m-95 1.5h3m59 0h3m-35 1.5h3m62 0h3m6 0h6m-77 1.5h3m50 0h3m18 0h3m-107 1.5h3m6 0h3m77 0h3m3 0h3m-83 7.5h3m30 0h3m29 0h3m-9 1.5h3m24 0h3m-18 1.5h3m-86 4.5h3m53 0h3m30 0h3m-39 1.5h3m30 3h3m-104 1.5h3m89 0h3m-74 1.5h3m21 0h3m38 0h3m12 0h3m-9 1.5h3m9 0h3m-110 3h3m9 0h3m53 0h3m9 0h3m-83 1.5h3m33 0h3m65 0h3m-44 1.5h3m-66 1.5h6m110 0h3m-59 1.5h3m-60 1.5h3m57 3h3m62 0h3m-30 3h3m-98 1.5h3m83 0h3m9 1.5h3m-107 3h3m60 0h3m14 0h3m-83 1.5h3m6 0h3m24 0h3m77 0h3m-104 1.5h3m86 0h3m-98 1.5h3m62 0h6m24 3h3m-62 1.5h3m29 0h3m21 0h3m-9 1.5h3m3 0h6m-107 1.5h3m57 0h3m8 0h3m15 0h9m-6 1.5h6m-98 1.5h3m51 0h3m14 0h3m27 0h3m-33 1.5h3m9 0h3m27 1.5h3m0 1.5h3m-33 1.5h3m18 0h3m3 0h6m-48 3h3m39 0h3m-15 1.5h3m-56 1.5h3m53 1.5h3m21 0h3m-125 1.5h3m3 0h3m68 0h6m21 0h3m-113 3h6m21 0h3m6 0h6m29 0h3m15 0h3m24 0h3m-27 1.5h6m6 0h6m-44 3h2m6 0h3m39 0h3m-116 1.5h3m89 0h3m-56 1.5h3m23 0h3m33 0h3m9 0h3m-110 1.5h3m62 0h3m9 0h3m18 0h3m-110 1.5h3m3 0h3m39 0h3m29 0h3m9 0h3m-21 1.5h3m24 0h3m21 0h3m-54 1.5h3m12 0h3m15 0h3m18 0h3m-65 1.5h2m9 0h3m6 0h9m6 0h3m3 0h3m9 0h6m-33 1.5h3m-47 1.5h3m9 0h3m23 0h3m6 0h3m6 0h3m15 0h3m-122 1.5h3m18 0h3m15 0h3m29 0h3m21 0h3m21 0h3m-65 1.5h3m3 0h2m18 0h6m15 0h3m15 0h3m-45 1.5h3m12 0h3m30 0h3m-54 1.5h3m9 0h3m6 0h3m-24 1.5h3m9 0h3m-86 1.5h3m77 0h3m39 0h3m-122 1.5h3m27 0h6m23 0h3m9 0h3m-50 1.5h3m77 0h3m-110 1.5h3m24 0h3m35 0h3m21 0h3m3 0h3m24 0h3m-63 1.5h3m21 0h3m3 0h3m6 0h3m-107 1.5h3m24 0h6m24 0h5m21 0h3m9 0h3m12 0h3m-116 1.5h3m71 0h3m48 0h3m-57 1.5h3m3 0h3m6 0h3m6 0h3m9 0h3m12 0h3m-39 1.5h3m3 0h3m6 0h3m3 0h3m18 0h3m-116 1.5h3m53 0h3m9 0h6m3 0h3m-38 1.5h3m3 0h2m27 0h3m27 0h3m-68 1.5h3m3 0h2m42 0h6m9 0h3m3 0h3m-21 1.5h3m-45 1.5h3m3 0h6m39 0h3m6 0h3m-48 1.5h3m24 0h3m9 1.5h3m-65 1.5h3m2 0h3m9 0h3m9 0h3m36 0h3m-131 1.5h6m30 0h3m3 0h3m26 0h3m12 0h3m9 0h3m21 0h3m-119 3h3m3 0h3m21 0h3m-42 1.5h3m33 0h3m44 0h3m15 0h3m3 0h6m-113 1.5h3m9 0h3m-12 1.5h3m3 0h3m15 0h3m59 0h3m9 0h3m12 0h3m-116 1.5h3m3 0h3m24 0h3m56 0h3m9 0h6m9 0h3m-122 1.5h6m18 0h3m6 0h3m6 0h3m18 0h2m54 0h3m3 0h3m-116 1.5h3m77 0h3m12 0h3m-110 1.5h6m6 0h3m9 0h3m74 0h3m6 0h6m-30 1.5h3m21 0h3m-110 1.5h3m3 0h3m3 0h6m6 0h3m9 0h3m53 0h3m12 0h3m-113 1.5h3m3 0h3m101 0h3m6 1.5h3m3 0h3m-128 1.5h3m104 0h3m-83 1.5h3m12 0h3m50 0h3m12 0h3m-116 1.5h3m9 0h3m95 0h3m-113 1.5h3m104 0h3m-98 1.5h3m110 1.5h3m-116 1.5h3m98 0h3m-113 1.5h3m36 0h3m35 0h3m24 0h3m-98 1.5h3m92 1.5h6m-104 3h3m-12 1.5h3m9 0h3m18 0h3m71 0h3m3 0h3m15 0h3m-125 3h6m27 1.5h3m62 0h9m-80 1.5h3m59 0h3m-89 1.5h3m24 0h3m65 0h3m9 0h3m3 1.5h3m-125 1.5h3m36 0h6m71 0h3m-77 3h3m50 0h3m9 0h3m9 0h3m6 0h3m-119 1.5h3m110 0h3m-116 1.5h3m-9 3h3m33 1.5h3m65 0h3m-9 3h6m3 0h3m-77 1.5h9m23 0h3m12 0h3m9 0h3m-101 4.5h3m57 1.5h3m20 0h3m24 0h3m-107 1.5h3m3 0h3m24 0h3m18 1.5h3m5 1.5h3m15 0h3m21 0h3m-6 1.5h3m-68 1.5h3m15 0h3m44 0h3m18 0h3m-89 1.5h3m32 0h3m-9 1.5h3m3 0h3m24 0h3m18 0h3m-86 1.5h3m29 0h3m24 0h3m-98 1.5h3m51 0h3m14 0h3m24 0h3m-6 1.5h6m21 0h3m-95 1.5h3m38 0h6m12 0h3m-18 1.5h3m-9 1.5h3m3 0h3m33 0h3m9 0h3m-45 1.5h3m-47 1.5h3m41 0h3m27 0h3m-77 1.5h3m41 0h3m-29 1.5h3m26 0h3m-92 1.5h3m77 0h6m6 0h3m-30 1.5h3m36 0h3m-30 1.5h3m21 0h3m9 0h6m-56 1.5h2m48 0h3m9 0h3m-57 1.5h3m12 0h3m3 0h3m33 0h3m-68 1.5h2m12 0h3m36 0h3m-51 1.5h9m3 0h3m33 0h3m-42 1.5h6m3 0h3m3 0h3m6 0h3m3 0h3m6 0h3m-48 1.5h3m3 0h6m3 0h3m15 0h3m18 0h3m-128 1.5h3m65 0h3m39 0h3m3 0h3m3 0h3m-89 1.5h3m26 0h3m18 0h3m3 0h3m-71 1.5h3m53 0h3m3 0h3m9 0h3m18 0h6m-125 1.5h6m80 0h3m24 0h3m-56 1.5h3m8 0h3m48 0h3m-95 1.5h3m27 0h3m41 0h3m6 3h3m-3 3h3m-56 3h3m38 0h3m-95 1.5h3m21 0h3m6 0h3m41 0h6m-92 1.5h3m86 1.5h3m6 1.5h3m12 0h3m-30 1.5h6m-86 1.5h3m80 0h3m9 0h3m-21 1.5h3m33 0h3m6 0h3m-39 1.5h3m-98 1.5h9m30 0h6m15 0h8m9 0h3m15 0h3m-80 1.5h3m18 0h3m32 0h3m-74 1.5h6m57 0h2m21 0h3m15 0h3m3 0h3m-107 1.5h6m12 0h3m30 0h3m8 0h6m30 1.5h3m6 0h3m-107 1.5h3m18 0h3m24 0h3m3 0h2m54 0h3m-24 1.5h3m-62 1.5h3m56 0h3m6 0h3m18 0h3m-33 1.5h3m12 0h3m-107 1.5h3m3 4.5h3m24 0h6m41 0h3m3 0h3m12 0h3m-50 1.5h2m-56 1.5h3m53 0h3m24 0h3m-32 4.5h2m-68 1.5h3m60 0h8m42 0h3m-53 3h3m47 1.5h3m6 0h3m-36 3h3m27 0h3m-122 1.5h3m24 0h3m3 0h3m32 0h3m9 0h3m3 0h6m27 0h3m-27 1.5h3m-89 1.5h3m12 0h3m21 0h3m29 0h3m-20 1.5h3m26 0h3m18 0h3m-116 1.5h3m39 0h3m53 0h3m12 0h3m-24 1.5h3m-83 1.5h3m107 1.5h3m-30 1.5h3m3 0h3m-9 3h3m-24 3h3m15 0h3m-29 1.5h2m15 0h3m-86 1.5h3m9 0h3m30 0h3m15 0h3m2 0h3m15 0h3m24 0h3m3 0h3m-18 1.5h3m-33 1.5h3m54 1.5h3m-12 1.5h3m-42 1.5h3m3 1.5h3m-9 1.5h3m-15 1.5h3m-29 1.5h3m15 0h3m-24 1.5h3m50 0h3m27 0h3m-113 1.5h3m-18 1.5h3m104 0h3m12 1.5h3m-24 1.5h3m-47 1.5h3m29 0h3m-86 1.5h3m3 0h3m30 0h3m80 3h3m-128 3h3m62 0h3m9 0h3m-3 1.5h3m18 0h3m-104 1.5h3m-3 4.5h6m80 0h3m21 0h3m-113 1.5h3m110 0h3m12 0h6m-128 4.5h3m21 0h3m38 0h3m18 0h3m6 0h3m6 0h3m12 0h3m-92 1.5h6m21 0h3m11 0h6m6 0h3m21 0h3m6 0h6m-122 1.5h3m30 0h3m24 0h2m18 0h3m6 0h3m12 0h3m-21 1.5h6m18 0h3m-116 1.5h3m60 0h2m39 0h3m3 0h3m3 0h3m-107 1.5h3m83 0h3m-101 1.5h3m77 0h3m6 0h3m6 0h3m3 0h3m-104 1.5h3m6 0h3m45 1.5h3m56 0h3m-125 3h3m89 0h3m18 0h3m9 1.5h3m3 0h3m-68 1.5h2m60 0h3m-39 1.5h3m18 0h3m-53 4.5h3m20 0h3m-89 1.5h3m15 1.5h3m15 0h3m12 0h3m12 0h2m12 0h3m-6 1.5h3m9 1.5h3m-92 1.5h3m6 0h3m54 0h2m45 0h3m-110 1.5h6m6 0h6m-24 1.5h3m3 0h3m33 0h3m21 0h2m24 0h3m21 0h3m-107 1.5h3m3 0h3m6 0h3m86 0h3m-119 1.5h3m101 0h3m-101 1.5h3m-3 1.5h3m30 0h3m35 0h3m-38 1.5h3m-42 1.5h3m18 1.5h3m9 0h3m44 0h3m3 4.5h3m24 0h3m-77 1.5h3m21 0h2m18 0h3m12 0h3m12 3h3m-39 1.5h3m-47 1.5h3m3 0h3m-3 3h3m18 0h3m5 0h3m-11 1.5h3m-66 1.5h3m6 0h3m21 0h3m62 0h3m6 0h3m-98 3h3m101 0h3m-30 1.5h3m-80 1.5h3m74 1.5h3m-6 1.5h3m-74 1.5h3m18 0h3m6 0h3m-3 1.5h3m32 0h3m33 0h3m-107 1.5h3m12 0h3m15 0h6m35 0h3m3 0h3m-95 1.5h9m6 0h3m39 0h3m11 0h3m24 0h3m12 0h3m-116 1.5h3m12 0h6m18 0h3m35 0h3m48 3h3m-131 1.5h6m113 0h3m-122 1.5h3m6 0h3m-12 1.5h3m3 0h3m-3 1.5h3m74 0h3m15 0h3m6 0h3m-104 1.5h3m-6 1.5h3m104 1.5h3m-110 1.5h3m107 0h3m-12 1.5h3m-104 1.5h3m33 0h3m32 0h3m39 0h3m6 0h3m-122 4.5h6m95 0h3m12 0h3m-113 1.5h3m33 0h3m20 3h3m24 1.5h3m-74 4.5h3m38 1.5h3m36 0h3m-104 1.5h3m3 0h3m80 0h3m-89 1.5h3m15 0h3m41 0h3m39 0h3m6 0h3m-116 1.5h3m39 0h3m44 0h3m12 0h3m3 1.5h3m-119 3h3m65 0h3m12 0h3m9 0h3m15 0h3m-74 1.5h3m-36 1.5h3m27 1.5h3m62 0h3m3 0h3m3 0h3m6 3h3m-134 1.5h3m15 0h3m36 0h3m23 0h3m15 0h3m15 0h3m3 0h3m-113 3h3m24 0h6m-6 1.5h3m-45 1.5h3m39 0h3m29 0h3m9 1.5h3m-89 1.5h3m68 0h3m33 0h6m-98 1.5h3m-15 1.5h3m30 0h3m6 0h3m44 0h3m-53 3h3m50 0h3m12 0h6m-77 1.5h3m50 1.5h3m36 3h3m-92 3h3m74 0h3m-74 1.5h3m-48 3h3m18 0h6m3 0h3m18 0h9m38 0h3m-101 1.5h3m12 0h6m6 0h3m18 0h3m3 0h3m11 0h3m21 0h3m21 0h3m-104 1.5h3m15 0h3m-33 3h3m21 0h3m6 0h3m32 0h3m6 0h3m-86 1.5h6m42 0h6m12 0h2m24 0h3m-65 3h3m15 0h3m32 0h3m39 0h3m-89 1.5h3m59 1.5h3m3 0h3m6 0h3m-36 1.5h3m-71 1.5h3m-18 3h3m12 0h3m27 3h6m71 0h3m-107 1.5h3m24 0h3m-21 3h3m44 0h3m24 0h3m-104 1.5h3m24 1.5h3m12 0h3m-27 1.5h3m24 0h9m47 0h3m9 0h3m12 0h3m-128 1.5h3m15 0h3m21 0h3m-42 1.5h3m3 0h3m86 3h6m-41 1.5h2m39 0h3m-92 1.5h3m12 0h3m0 1.5h3m-21 3h3m18 0h3m18 0h6m-24 1.5h3m-45 3h3m65 0h3m18 0h3m36 0h3m-122 1.5h3m24 0h3m-24 1.5h3m24 0h3m9 0h3m14 0h3m42 0h3m3 0h3m-89 1.5h6m86 0h3m-113 1.5h3m24 1.5h3m32 1.5h3m30 0h3m-45 1.5h3m45 0h3m-59 1.5h3m47 0h3m9 0h3m-86 1.5h6m-30 1.5h3m18 0h3m38 3h3m-38 1.5h3m12 1.5h3m59 0h3m-110 1.5h3m107 1.5h3m-45 1.5h3m-44 1.5h3m29 1.5h3m3 0h3m42 0h3m-113 3h3m18 0h3m3 1.5h3m9 0h3m-21 1.5h3m35 0h3m-38 1.5h3m-30 1.5h3m48 0h3m8 0h3m-38 1.5h9m44 0h3m27 0h3m-125 1.5h6m24 0h3m-24 3h3m27 0h3m-21 1.5h3m12 1.5h3m-24 3h3m113 0h3m-89 1.5h3m-12 1.5h3m-15 3h3m3 0h3m68 1.5h3m-53 1.5h3m9 0h3m2 0h3m-68 1.5h6m6 0h3m18 0h3m6 0h3m3 0h3m-33 1.5h3m24 0h6m29 0h3m-83 1.5h6m6 0h3m24 0h6m-15 1.5h6m6 0h3m-48 1.5h3m9 0h3m15 0h3m62 1.5h3m9 0h3"/>
<path fill="none" stroke="#5a2428" stroke-width="1.5" d="M75 48.75h3m15 0h3m9 0h3m-39 1.5h3m15 0h3m3 0h6m6 0h3m59 1.5h3m-68 1.5h3m-39 1.5h6m15 0h3m-27 1.5h3m3 0h3m9 0h12m-6 1.5h3m27 1.5h3m-30 1.5h3m21 0h6m-57 1.5h3m12 0h3m9 0h3m6 0h3m-27 1.5h3m9 0h3m24 0h3m-27 1.5h3m21 0h3m-6 1.5h3m3 0h3m-42 1.5h3m3 0h3m-18 1.5h3m12 0h3m30 0h3m-42 1.5h3m12 0h3m12 0h3m-30 1.5h3m3 0h3m24 0h3m-9 1.5h6m-39 3h3m27 1.5h3m-15 1.5h3m15 0h3m-42 3h3m18 0h3m18 0h3m-36 4.5h3m36 0h3m-36 1.5h3m24 0h3m-36 1.5h3m0 1.5h3m18 1.5h3m-33 1.5h3m6 0h3m24 0h3m-33 1.5h3m3 1.5h3m3 0h3m-3 3h3m-9 3h3m21 0h6m-42 1.5h3m6 0h3m15 0h3m-33 3h3m18 1.5h3m12 1.5h3m-39 1.5h6m15 0h3m-3 1.5h3m-21 1.5h3m21 0h3m-21 3h3m6 0h3m12 0h3m3 0h3m-12 6h3m3 1.5h3m-30 1.5h3m6 0h6m21 1.5h3m-51 1.5h3m21 0h3m-3 1.5h3m6 0h3m9 0h3m-15 1.5h3m-36 1.5h3m30 0h3m-30 1.5h3m30 1.5h3m-36 1.5h3m15 0h3m6 0h3m-12 1.5h3m12 0h3m3 0h3m-36 1.5h6m21 0h6m-51 1.5h3m54 1.5h3m-48 1.5h3m36 1.5h3m-45 1.5h3m3 0h3m9 0h3m6 0h3m3 0h3m-36 1.5h6m12 0h3m21 0h3m-54 3h3m12 0h3m-3 1.5h3m-12 1.5h3m24 0h6m-39 1.5h3m30 0h3m59 0h3m-86 1.5h3m9 0h3m3 1.5h3m3 0h3m-6 1.5h3m3 0h3m6 0h3m-27 1.5h3m24 0h3m3 0h3m-12 1.5h3m-48 1.5h3m30 0h6m-30 3h3m12 1.5h3m15 0h3m-45 1.5h3m15 0h3m12 0h3m18 3h3m-60 1.5h3m36 1.5h6m-33 3h3m-9 1.5h3m15 0h6m12 0h3m-33 3h3m6 0h3m6 0h3m-21 1.5h3m36 0h3m-33 1.5h3m6 0h3m6 0h3m12 0h3m-48 1.5h3m6 0h3m18 0h3m-36 1.5h3m15 0h3m24 0h3m-24 1.5h3m-21 1.5h3m12 0h3m9 0h3m12 1.5h3m-18 3h6m3 0h3m3 0h3m-21 1.5h3m-30 1.5h3m18 0h3m-30 1.5h3m15 1.5h3m27 0h3m-54 1.5h3m45 0h3m-36 1.5h3m15 0h6m-6 3h3m-21 1.5h3m18 1.5h3m18 0h3m-60 1.5h3m3 0h3m12 0h3m-15 1.5h3m27 0h3m6 0h3m-15 1.5h3m-12 1.5h3m12 0h3m6 0h3m-6 4.5h3m-33 1.5h3m-21 1.5h3m27 0h3m3 0h6m-39 1.5h3m36 0h3m12 0h3m26 1.5h3m-38 3h3m-21 1.5h3m21 0h3m-30 1.5h3m-15 1.5h3m6 0h3m3 0h3m3 0h3m3 0h3m-3 1.5h3m6 0h3m-15 3h3m0 1.5h3m3 0h3m3 0h3m-30 1.5h3m50 0h3m-53 1.5h3m68 1.5h3m-101 1.5h3m6 1.5h3m6 0h3m-9 1.5h3m59 0h3m-6 1.5h3m45 0h3m-113 4.5h3m98 3h3m-101 1.5h3m71 0h3m-83 1.5h3m77 0h3m-41 1.5h3m26 0h3m-71 1.5h3m3 0h3m-24 1.5h3m27 0h9m6 0h3m71 0h3m-119 3h3m33 0h3m-30 1.5h3m3 0h3m6 0h6m15 0h3m-6 1.5h3m-45 1.5h3m110 1.5h3m-3 3h3m-74 4.5h3m-15 3h3m-6 3h3m89 0h3m-98 1.5h3m18 0h3m-48 1.5h3m6 3h3m39 1.5h3m-3 1.5h3m-15 1.5h3m-27 3h3m-21 1.5h3m6 0h3m24 0h3m3 0h3m-39 1.5h3m39 3h3m-45 1.5h3m-6 1.5h3m-3 1.5h3m9 0h3m21 0h3m26 0h3m-68 3h6m-9 1.5h3m119 1.5h3m-95 1.5h3m-24 3h3m21 0h3m-9 1.5h3m77 0h3m-86 1.5h3m9 0h3m-21 1.5h3m95 0h3m-77 1.5h3m-3 1.5h3m-36 1.5h3m21 0h3m6 0h3m-21 3h3m3 1.5h3m-30 1.5h3m33 1.5h3m-9 1.5h3m-36 1.5h3m3 0h3m15 0h6m-30 1.5h3m42 0h3m-27 3h3m24 0h3m-39 3h3m92 0h3m-77 1.5h6m9 0h3m56 0h3m-98 4.5h3m39 0h3m-36 1.5h3m24 0h3m-33 1.5h3m21 0h3m-9 1.5h3m6 0h3m-9 3h3m68 0h3m-71 1.5h3m-30 1.5h3m9 0h3m24 0h3m29 0h3m9 0h3m-65 1.5h3m3 0h3m23 0h3m-44 1.5h3m-24 1.5h3m3 0h3m33 0h3m-51 3h3m3 0h3m3 0h3m62 0h3m-77 1.5h9m21 0h3m35 0h3m-68 1.5h3m3 0h3m3 0h3m39 0h3m-60 4.5h6m33 0h3m-12 1.5h3m6 0h3m-6 1.5h6m3 3h3m-36 1.5h3m-3 3h3m27 0h3m-9 1.5h3m3 0h3m3 0h3m-54 1.5h3m3 1.5h6m3 0h3m-18 1.5h3m9 0h3m3 0h3m9 1.5h3m6 0h3m-33 1.5h3m30 0h3m-24 3h3m3 0h6m6 0h3m-30 1.5h3m24 3h3m-3 3h3m-33 1.5h3m12 0h3m27 0h3m-33 1.5h3m30 0h3m41 3h6m-89 1.5h3m3 0h3m-6 3h3m33 0h3m-36 1.5h3m89 0h3m-107 1.5h3m12 0h3m9 0h3m-36 1.5h3m21 0h3m24 0h3m-48 1.5h6m-6 3h3m24 0h3m15 0h3m-48 4.5h6m9 0h3m-6 1.5h3m24 0h3m-24 3h3m18 0h3m-51 1.5h3m3 0h3m9 0h3m18 0h3m3 1.5h3m-48 3h6m9 0h3m-15 1.5h6m39 0h3m-42 1.5h3m21 0h3m3 0h3m12 0h3m-33 1.5h3m3 0h3m3 0h3m-12 1.5h3m24 0h3m-60 1.5h3m36 0h3m53 1.5h3m15 0h3m-98 1.5h3m15 0h3m3 0h3m6 0h3m47 0h3m-98 1.5h3m33 1.5h6m-30 1.5h3m12 0h3m3 0h3m15 0h3m-57 1.5h3m36 0h3m3 0h3m-12 1.5h3m0 1.5h3m-39 1.5h3m9 1.5h3m30 0h3m12 0h2m-32 1.5h3m-39 1.5h3m15 0h3m3 1.5h3m27 0h3m-27 1.5h3m3 0h3m-36 1.5h3m18 1.5h3m27 0h3m-57 1.5h3m24 0h6m9 0h3m-21 1.5h3m9 0h3m-6 1.5h3m12 0h3m-36 1.5h3m3 1.5h3m18 0h3m9 0h3m-36 1.5h6m3 0h12m12 0h3m-48 1.5h6m12 0h3m-12 1.5h3m12 0h3m3 0h3m12 0h3m-33 1.5h3m-15 1.5h6m3 0h3m30 0h3m-27 1.5h3m6 0h3m6 1.5h3m-18 1.5h3m15 0h3m-39 1.5h3m-6 1.5h3m9 0h3m21 0h3m-45 1.5h6m0 3h3m9 0h3m-9 3h3m9 0h3m15 0h3m-33 1.5h9m21 0h3m-12 1.5h3m-30 1.5h3m27 3h3m3 0h3m6 1.5h3m-36 1.5h3m27 0h3m-30 1.5h3m0 1.5h3m18 0h6m-21 1.5h3m9 1.5h6m-33 1.5h3m-24 1.5h3m9 0h3m36 0h3m-42 1.5h6m68 0h3m-77 3h3m18 0h3m-6 1.5h3m-3 1.5h3m3 0h3m-18 1.5h6m15 0h3m-33 1.5h3m15 0h3m-24 1.5h3m21 0h3m-36 1.5h3m27 0h3m3 1.5h3m15 1.5h3m-33 1.5h3m15 0h3m-18 1.5h3m3 0h3m53 3h3m-74 1.5h3m3 0h3m6 0h3m-3 1.5h3m18 0h3m-48 1.5h3m15 0h3m18 0h3m35 0h3m-65 1.5h3m6 0h3m-9 1.5h3m86 0h3m-113 1.5h3m3 0h6m27 0h6m0 1.5h3m38 0h3m-65 1.5h3m65 0h3m-77 1.5h3m3 0h3m-3 1.5h3m-3 1.5h3m-24 1.5h3m65 0h3m-56 1.5h3m12 0h3m6 1.5h3m38 0h3m-77 1.5h3m9 0h6m-24 1.5h3m80 0h3m-80 1.5h3m27 0h3m-27 1.5h3m3 1.5h3m24 1.5h3m32 0h3m-56 1.5h3m3 0h3m-12 1.5h3m6 0h3m44 0h3m-62 1.5h3m24 0h3m-51 1.5h3m18 0h3m18 0h3m3 0h3m-33 1.5h3m-27 1.5h3m18 0h3m-9 1.5h3m3 1.5h6m24 1.5h3m-30 3h3m12 3h3m-9 1.5h3m6 1.5h3m0 1.5h3m-15 3h3m-18 3h3m18 3h3m35 3h3m6 0h3m15 1.5h3m3 0h12m-21 1.5h3m-47 1.5h3m3 0h2m12 0h3m3 0h3m18 0h3m-50 1.5h3m20 0h6m18 0h3m15 0h3m-68 1.5h3m3 0h2m27 0h3m12 0h3m9 0h3m-65 3h6m2 0h3m12 0h3m30 0h3m-53 1.5h2m15 0h3m-26 1.5h3m14 0h3m3 0h6m-29 1.5h3m0 1.5h3m14 0h3m6 0h3m-77 1.5h3m48 0h2m9 0h3m6 0h3m-23 1.5h2m12 0h3m36 0h3m-36 1.5h3m21 0h3m12 0h3m0 1.5h3m-51 1.5h3m-12 1.5h3m33 0h3m-50 1.5h3m8 0h3m12 0h6m9 0h3m-41 1.5h3m38 0h3m-24 1.5h3m21 0h3m18 0h3m-42 1.5h3m-24 1.5h3m21 1.5h3m12 0h3m12 0h3m-48 1.5h6m15 0h3m-15 1.5h6m9 0h3m12 1.5h6m-9 1.5h3m3 0h3m-54 1.5h3m9 0h3m-9 1.5h3m-17 1.5h3m26 0h3m24 0h3m-56 1.5h3m11 1.5h3m9 0h3m-29 1.5h3m14 0h3m21 0h3m12 0h3m6 0h3m-54 1.5h3m30 0h3m6 0h3m6 0h3m-71 1.5h3m14 0h3m27 0h3m6 0h3m3 0h3m3 0h3m-65 1.5h2m60 0h3m-54 1.5h3m24 0h3m9 0h3m9 0h3m-54 3h3m9 0h3m12 0h3m6 0h3m-39 1.5h3m30 0h3m-53 3h3m-3 1.5h3m23 0h3m9 0h6m24 0h3m-48 1.5h3m18 0h3m9 0h3m9 0h3m-51 1.5h3m21 0h3m-12 1.5h3m-30 1.5h3m42 1.5h3m-50 1.5h2m27 0h6m-41 3h6m50 0h3m-24 1.5h3m-27 1.5h3m0 1.5h6m27 0h3m18 0h3m-54 1.5h3m30 0h3m12 0h3m-39 1.5h3m-12 1.5h3m3 0h3m-23 1.5h2m21 1.5h3m-15 1.5h3m18 0h3m-71 3h3m33 0h2m18 0h3m-26 3h5m3 0h3m18 0h6m-27 3h3m3 0h3m39 0h3m-54 3h3m6 0h3m15 0h3m3 1.5h3m-41 1.5h3m32 0h3m18 0h3m-45 3h3m12 0h3m9 0h3m15 0h3m-33 1.5h3m3 0h3m3 0h3m-92 1.5h3m89 0h3m-30 1.5h3m15 0h3m-35 1.5h5m24 1.5h3m-56 1.5h3m21 0h2m57 0h6m-60 1.5h3m45 0h3m-62 1.5h3m5 0h3m60 0h3m-92 1.5h3m18 0h3m32 0h3m21 0h3m3 0h3m-45 1.5h3m15 0h6m-30 1.5h3m33 0h3m-9 1.5h3m3 0h3m9 0h3m-36 1.5h3m3 0h3m-21 1.5h9m6 0h3m30 0h3m-63 1.5h3m33 0h3m12 0h3m-62 1.5h3m32 0h3m9 1.5h6m3 0h3m-36 1.5h3m3 0h3m12 0h3m0 1.5h3m3 0h3m-3 1.5h3m-9 1.5h3m-33 1.5h3m45 0h3m-51 1.5h3m12 0h3m3 0h3m12 0h3m-18 3h9m-47 1.5h3m8 0h3m33 0h3m-45 1.5h3m33 0h3m-30 1.5h3m18 0h3m15 0h3m6 0h3m-65 1.5h3m23 0h3m12 0h3m6 0h3m15 0h3m-74 1.5h3m3 0h5m15 0h6m24 0h6m-42 1.5h9m33 0h6m-45 1.5h6m18 0h3m18 0h6m-30 1.5h3m9 0h3m-15 1.5h3m12 0h3m9 0h3m-68 1.5h2m21 1.5h3m18 0h3m-45 1.5h3m24 0h3m3 0h3m3 0h3m12 0h3m-101 1.5h3m89 0h3m-59 1.5h3m-36 1.5h3m50 0h3m3 3h3m9 1.5h3m21 0h3m3 0h3m-60 1.5h3m3 0h3m12 0h3m6 0h6m0 1.5h3m15 0h3m-65 1.5h3m8 0h6m9 0h3m3 0h3m6 0h3m-6 1.5h3m18 0h3m3 0h3"/>
<path fill="none" stroke="#332325" stroke-width="1.5" d="M78 48.75h3m-15 1.5h3m3 0h3m-12 1.5h3m15 0h3m3 0h3m12 0h3m74 0h3m-95 1.5h3m15 0h3m-45 1.5h3m39 0h6m-39 3h3m30 0h3m-45 1.5h3m15 0h6m92 1.5h3m-101 1.5h3m18 0h3m-36 1.5h3m36 0h3m-33 1.5h3m18 0h3m3 0h3m-36 3h3m21 0h9m3 0h3m-9 1.5h3m-21 1.5h3m-9 1.5h3m15 0h3m9 0h3m47 0h3m-62 1.5h3m53 1.5h3m-95 1.5h3m18 0h3m-21 1.5h9m3 1.5h3m33 0h3m-42 1.5h3m24 0h3m3 0h6m20 0h3m-41 3h3m12 0h3m-39 1.5h3m9 0h3m6 1.5h3m3 0h3m9 0h3m-42 1.5h3m21 0h6m-6 1.5h3m3 0h3m-21 1.5h3m68 0h3m-95 1.5h3m27 1.5h3m-12 1.5h3m24 0h6m47 1.5h3m-74 1.5h3m3 0h3m6 0h3m44 0h3m-83 1.5h3m-9 1.5h3m3 0h3m18 0h3m-27 1.5h3m30 0h3m41 1.5h3m-74 1.5h3m71 0h3m0 3h3m-83 3h3m3 0h9m9 0h3m74 0h3m-119 1.5h6m21 0h3m12 0h3m59 0h3m-107 1.5h3m27 0h6m9 1.5h3m41 0h3m-47 1.5h3m-27 1.5h6m-21 1.5h3m12 0h3m9 1.5h3m77 0h3m-101 1.5h3m3 0h3m-21 1.5h3m3 0h3m3 0h3m-9 1.5h3m9 0h3m36 0h3m-54 1.5h6m3 0h3m21 0h3m44 0h3m33 1.5h3m-128 1.5h3m6 0h3m24 0h3m-30 1.5h3m3 0h3m30 0h3m-36 1.5h3m9 0h3m-15 1.5h3m68 0h3m-65 1.5h3m24 0h3m-30 1.5h3m15 0h3m-18 1.5h3m24 0h3m-30 1.5h6m53 0h3m-56 1.5h3m3 0h3m3 0h3m44 0h3m-83 1.5h3m3 0h6m6 0h6m15 0h3m20 0h3m51 0h3m-98 1.5h6m-24 1.5h3m18 0h3m56 0h3m18 0h3m-107 1.5h3m-15 1.5h3m119 0h3m-33 3h3m3 0h3m-65 1.5h3m3 0h3m-3 1.5h3m71 0h3m-27 1.5h3m-83 4.5h3m27 0h3m47 0h3m-95 1.5h3m30 0h3m3 0h3m6 0h3m-12 1.5h3m-42 1.5h3m12 1.5h3m45 0h3m-27 1.5h3m9 0h3m-54 1.5h3m30 0h3m-30 3h3m6 0h3m3 0h3m15 0h3m6 0h3m44 0h3m-95 1.5h6m15 0h3m3 0h3m9 0h6m18 0h2m60 0h3m-116 3h3m-18 3h3m45 0h3m-36 1.5h3m-3 1.5h3m3 0h3m24 0h3m-36 1.5h3m0 1.5h3m24 0h3m-45 3h6m-6 1.5h3m30 0h3m3 0h3m-24 1.5h3m9 0h3m6 0h3m-30 1.5h6m42 0h3m-36 3h3m15 0h3m12 0h3m38 0h3m-98 1.5h3m3 0h3m27 0h3m32 3h6m-74 3h3m3 0h3m27 0h3m-48 1.5h3m39 1.5h3m26 0h3m3 0h3m9 0h3m3 0h3m-56 1.5h3m56 0h3m-101 1.5h3m0 3h6m24 0h6m-6 1.5h3m53 1.5h3m-98 4.5h3m3 0h3m6 0h3m-9 1.5h3m9 0h3m18 0h3m59 0h3m9 0h3m-71 3h3m50 0h3m-101 1.5h3m9 0h3m27 0h3m9 0h3m53 0h3m-101 1.5h3m30 0h3m-33 1.5h3m59 0h3m18 0h3m6 0h6m-113 3h3m6 0h3m9 0h3m9 0h3m9 0h3m-51 1.5h3m33 0h9m38 0h3m-77 1.5h9m53 0h3m39 0h3m12 0h3m-131 1.5h3m92 0h3m-56 1.5h3m56 0h6m-47 3h3m11 0h3m33 0h3m-107 1.5h6m65 0h3m27 0h3m-104 1.5h3m9 0h3m12 0h3m3 0h3m77 0h3m-110 1.5h3m56 0h3m24 0h3m9 0h6m-104 1.5h3m101 0h3m-89 1.5h3m92 0h6m-110 1.5h3m3 0h3m9 0h6m15 0h3m26 0h3m3 0h3m-24 1.5h3m51 0h3m-101 1.5h6m27 0h3m44 0h3m-95 1.5h3m68 0h3m15 0h6m-53 1.5h3m50 0h3m-113 1.5h3m42 0h3m29 0h3m9 0h3m-9 1.5h3m6 0h3m15 0h3m-110 1.5h3m24 0h3m21 0h3m20 0h6m33 0h3m-122 1.5h3m80 0h3m27 0h3m-39 1.5h3m36 0h3m-98 1.5h3m27 0h3m14 0h3m9 0h3m15 0h3m-101 1.5h3m24 0h3m12 0h3m3 0h3m17 0h3m15 0h3m27 0h3m-51 1.5h3m-38 1.5h3m65 0h3m-80 1.5h3m59 0h3m21 0h3m12 0h6m-98 1.5h3m44 0h3m-80 1.5h3m3 0h3m98 0h6m3 0h3m-98 1.5h3m18 0h3m-30 1.5h6m9 0h3m6 0h3m41 0h3m18 0h3m-98 1.5h3m-12 1.5h3m36 0h3m-12 1.5h3m6 0h3m-39 4.5h3m15 0h3m21 0h3m-33 1.5h3m21 0h3m-33 1.5h3m30 0h3m-27 1.5h3m12 1.5h3m-30 1.5h3m12 0h3m6 0h3m50 0h3m3 0h3m21 0h3m-104 1.5h3m24 0h6m-12 1.5h3m77 0h3m-107 1.5h6m12 0h3m68 0h3m24 0h6m-113 1.5h3m3 0h3m86 0h9m-119 1.5h3m27 1.5h3m-27 3h3m30 0h3m68 3h3m-119 3h3m9 0h3m30 0h3m-36 3h3m-6 1.5h3m24 0h3m89 0h3m-125 3h3m6 0h3m110 0h3m-128 1.5h3m18 0h3m6 0h3m65 0h3m12 0h3m-119 1.5h3m113 0h3m-119 3h3m9 0h3m59 1.5h3m51 1.5h3m-125 1.5h3m95 0h6m-110 1.5h3m42 0h3m56 0h3m9 0h6m-110 1.5h3m9 0h3m18 0h3m-48 1.5h3m36 1.5h3m-42 3h6m30 0h6m3 0h3m65 0h3m-116 1.5h3m30 0h6m92 0h3m-104 1.5h3m3 0h3m15 0h3m71 0h3m-95 3h3m-6 3h3m-36 1.5h3m24 0h3m3 0h6m-36 1.5h3m110 0h3m-83 1.5h3m27 0h2m15 0h3m9 0h3m-92 3h3m30 0h3m29 0h3m6 0h3m45 0h3m-131 1.5h3m30 0h3m74 0h3m3 0h3m9 0h3m-131 1.5h3m63 0h2m45 0h3m-116 1.5h3m3 0h3m24 0h6m35 0h3m3 0h3m-80 1.5h3m33 0h3m62 0h3m6 0h3m-50 1.5h2m6 0h3m45 0h3m-119 1.5h6m24 0h3m27 0h5m3 0h3m-77 1.5h3m110 1.5h6m3 0h3m-122 1.5h3m30 0h3m35 0h3m3 0h3m-44 1.5h3m29 0h3m-32 1.5h3m86 0h3m-134 1.5h3m30 0h3m44 0h6m3 0h3m18 0h3m-9 1.5h3m-53 1.5h3m65 0h3m-33 1.5h3m-92 1.5h3m39 0h3m41 0h3m33 0h3m-60 1.5h3m51 0h3m-125 1.5h3m33 0h3m6 0h3m41 0h3m-29 1.5h3m-57 1.5h3m-9 1.5h3m113 0h3m-48 1.5h3m39 0h3m-119 1.5h9m119 0h3m-71 1.5h3m5 0h3m3 0h3m9 0h3m18 0h3m-110 1.5h3m-3 1.5h3m21 0h3m9 0h3m-30 1.5h6m-9 1.5h9m21 0h3m6 0h3m68 0h3m-56 9h3m-60 3h3m27 0h9m-36 1.5h3m89 1.5h6m-92 1.5h3m15 0h3m3 1.5h3m3 0h3m-39 1.5h3m3 1.5h3m36 0h3m26 0h3m-86 1.5h3m6 0h3m48 0h3m44 0h3m15 0h3m-95 1.5h3m68 0h3m-83 1.5h3m9 1.5h3m32 0h3m27 0h6m-68 1.5h3m53 0h3m-89 3h3m21 0h3m9 0h3m-21 1.5h3m12 0h3m-3 1.5h3m62 0h3m-104 1.5h6m3 0h3m-12 3h3m12 0h3m39 0h5m9 0h3m24 0h3m12 0h3m-86 3h3m9 0h3m35 0h3m12 0h3m15 0h3m-107 1.5h3m9 0h3m6 0h3m9 0h3m15 0h2m36 0h3m-59 1.5h3m-51 1.5h3m6 1.5h6m12 0h3m6 0h3m56 1.5h3m3 1.5h3m-104 1.5h3m9 0h3m12 0h3m6 0h3m56 0h3m-47 3h3m59 0h3m-113 1.5h3m30 0h3m12 0h3m12 0h2m30 0h3m24 0h3m-107 3h3m33 0h3m59 0h6m-59 1.5h2m30 0h3m-101 3h3m3 0h3m86 0h3m-92 3h3m36 0h3m-39 3h3m21 0h3m65 0h3m-59 3h3m-33 1.5h3m24 0h3m6 0h3m12 0h2m-47 3h3m42 0h2m54 0h3m-104 1.5h3m21 0h3m6 0h3m-30 1.5h3m-24 1.5h3m21 0h3m18 0h3m-51 3h3m-6 1.5h3m3 0h3m33 0h3m-45 1.5h3m6 0h6m15 0h3m12 0h3m-33 1.5h3m12 0h3m15 0h3m-51 1.5h3m3 1.5h3m-9 1.5h3m24 0h3m6 0h3m6 0h3m-33 1.5h3m24 0h3m-45 1.5h6m21 0h3m15 0h6m50 0h3m-86 1.5h3m15 0h3m-21 1.5h9m3 1.5h3m47 0h3m-65 1.5h3m12 0h3m-33 3h3m30 1.5h3m9 0h3m38 0h3m9 0h3m-74 1.5h3m3 1.5h3m-24 1.5h3m18 0h6m86 0h3m-113 3h3m101 0h3m-107 1.5h3m24 0h3m-45 1.5h3m6 3h6m30 0h3m-42 1.5h3m9 0h3m50 0h3m30 0h3m6 0h3m-107 1.5h6m-15 1.5h3m9 0h3m-18 1.5h3m27 0h3m77 0h3m-77 1.5h9m-21 1.5h3m9 0h3m50 0h3m-53 1.5h3m-42 1.5h3m116 0h3m-116 1.5h3m80 0h3m39 0h3m-86 3h3m-39 1.5h3m3 0h3m65 0h3m-89 1.5h3m15 0h3m27 3h3m-45 1.5h3m39 0h3m20 0h3m-71 3h3m18 0h3m12 0h3m47 0h3m-92 1.5h3m36 0h3m74 0h3m-15 1.5h3m-104 1.5h3m24 0h3m30 0h3m11 0h3m6 0h3m-77 1.5h3m27 0h6m18 0h2m-53 1.5h3m21 1.5h6m65 0h3m-77 1.5h3m50 1.5h3m-12 1.5h3m21 0h6m-71 1.5h3m-18 1.5h3m-24 1.5h3m51 0h3m26 0h3m21 0h3m-71 1.5h3m29 1.5h3m27 0h3m-68 1.5h3m44 0h3m-68 1.5h3m15 0h3m32 0h3m15 0h3m18 0h3m-89 1.5h3m-24 1.5h3m30 0h3m44 1.5h3m27 0h3m-116 1.5h3m80 0h3m-86 1.5h3m3 0h3m36 0h3m-48 1.5h3m24 0h3m6 0h3m3 0h3m41 0h3m-71 1.5h3m24 0h3m38 0h3m-89 1.5h3m9 0h3m30 0h3m-45 1.5h3m39 0h3m3 0h3m-57 1.5h3m12 0h3m45 0h3m-57 1.5h3m9 0h3m3 0h3m33 0h3m-21 1.5h3m-30 1.5h3m6 1.5h3m3 0h3m-6 1.5h6m30 0h2m9 0h3m6 0h3m3 0h3m9 0h3m-104 1.5h6m6 0h3m24 0h3m-6 1.5h3m21 0h3m-42 1.5h6m12 0h3m23 0h3m21 0h3m-92 1.5h6m62 0h3m18 0h3m-95 3h3m3 0h3m39 1.5h3m56 0h3m-3 1.5h3m-101 1.5h3m-9 1.5h3m57 0h3m62 0h3m-125 4.5h3m77 4.5h6m12 0h3m15 0h3m-51 1.5h3m18 0h3m9 0h3m3 0h3m6 0h9m-57 1.5h3m-6 1.5h3m-3 1.5h3m9 0h3m27 0h3m3 0h3m-113 1.5h3m83 0h3m3 0h3m18 0h3m-42 1.5h3m3 0h6m-80 1.5h3m56 1.5h3m9 0h3m21 0h3m-21 1.5h3m6 0h3m-6 1.5h3m12 0h3m-42 1.5h3m12 0h3m15 0h3m-33 1.5h3m3 0h3m9 0h3m-35 1.5h3m-57 1.5h3m3 0h3m45 0h3m23 0h3m15 0h3m3 0h3m-9 1.5h3m-36 1.5h6m12 0h3m15 0h3m3 0h3m-59 1.5h3m29 0h3m-21 1.5h3m9 0h3m24 0h3m3 0h3m-30 1.5h3m12 0h3m-107 1.5h3m36 0h3m21 0h2m-53 1.5h3m71 0h3m-50 1.5h3m26 0h3m3 0h3m3 0h3m24 0h3m3 0h3m-104 1.5h3m107 1.5h6m-30 1.5h3m24 0h3m-33 1.5h3m3 0h3m18 0h3m-57 1.5h3m33 0h3m3 0h3m6 0h3m3 0h3m-39 1.5h3m12 0h3m15 0h6m-116 1.5h3m59 0h3m9 0h3m21 0h3m12 0h6m-42 1.5h3m-68 1.5h3m33 0h3m8 0h3m9 0h3m12 0h3m21 0h3m-54 1.5h3m27 0h3m6 0h3m3 0h3m3 0h3m-128 1.5h3m6 0h3m27 0h3m41 0h6m9 0h3m-30 1.5h6m21 0h3m6 0h6m18 0h3m-51 1.5h3m15 0h6m-15 1.5h3m24 0h3m-33 1.5h3m18 0h3m6 0h3m-21 1.5h3m-6 1.5h3m6 0h3m3 0h3m-80 1.5h3m3 0h3m62 0h3m15 0h3m-119 3h3m68 0h3m6 0h3m-86 1.5h3m3 0h3m21 0h3m44 0h9m21 0h3m-101 1.5h3m21 0h3m32 0h3m33 0h6m-107 1.5h3m12 1.5h3m59 0h3m33 0h3m-65 1.5h3m11 0h3m24 0h3m3 0h3m12 0h3m-80 1.5h3m-39 1.5h3m24 0h3m3 0h3m15 0h3m47 0h3m15 0h3m-68 1.5h3m8 0h3m30 0h3m6 0h3m-104 1.5h3m68 0h6m18 0h3m-21 1.5h3m15 0h3m9 0h3m-62 1.5h3m56 0h3m-51 1.5h3m42 0h3m6 0h3m-6 1.5h3m-128 1.5h3m119 0h3m-122 1.5h6m3 0h3m3 0h3m65 0h3m9 0h3m-65 1.5h3m-24 1.5h3m59 0h3m12 0h3m-65 4.5h3m6 0h3m6 0h3m3 0h3m-24 1.5h6m41 0h6m33 0h3m-92 1.5h3m33 0h2m12 0h3m12 0h3m21 0h3m-113 1.5h3m12 0h3m6 0h3m9 0h3m59 0h3m15 0h3m-48 1.5h3m-17 1.5h2m12 0h6m30 0h3m-77 1.5h6m62 0h3m3 0h3m3 0h6m-48 1.5h3m-68 1.5h3m65 0h3m30 0h9m-45 1.5h3m24 0h3m-42 1.5h3m3 0h3m15 0h6m9 0h3m12 0h6m-68 3h3m3 0h2m3 0h9m39 0h3m-104 1.5h3m24 0h3m44 0h6m18 0h6m-48 1.5h3m-41 1.5h3m47 0h6m-74 1.5h3m80 0h3m3 0h6m3 0h3m6 0h3m-57 1.5h3m36 0h3m-21 1.5h3m27 1.5h3m-51 1.5h3m39 0h3m-83 1.5h3m41 0h3m39 0h3m-80 3h3m32 0h3m18 0h3m-38 1.5h2m54 0h3m-80 1.5h3m12 0h6m2 1.5h3m15 0h3m3 0h3m6 0h3m-65 1.5h3m35 0h3m21 0h3m3 0h3m6 0h3m-77 3h3m29 0h3m27 0h3m6 0h3m-74 1.5h3m29 0h3m15 1.5h6m9 0h3m-65 1.5h3m56 0h3m12 0h3m6 0h3m-39 3h3m27 0h3m-62 1.5h3m14 0h6m9 0h3m3 0h3m9 0h6m-48 1.5h3m9 0h3m45 0h3m-92 1.5h3m47 0h3m24 0h3m-68 1.5h3m-54 1.5h6m92 0h3m6 0h3m-77 1.5h3m38 0h6m3 0h3m12 0h3m12 0h3m-104 1.5h3m65 0h3m-23 1.5h3m8 0h3m15 0h3m-21 1.5h3m15 0h3m21 0h6m0 4.5h3m-24 1.5h3m12 0h3m6 0h3m-83 1.5h3m44 0h3m30 0h3m-125 1.5h3m9 0h3m3 0h3m9 0h3m9 0h3m29 0h3m9 0h3m18 0h3m-110 1.5h3m6 0h3m30 0h3m3 0h3m20 0h3m9 0h3m12 0h3m9 0h3m3 0h3m3 0h3m-125 1.5h3m3 0h3m9 0h6m3 0h3m6 0h3m15 0h3m65 0h3m-128 1.5h3m3 0h6m9 0h3m15 0h6m53 0h6m-104 1.5h3m42 1.5h3m-27 1.5h3m98 0h3m-57 3h3m21 0h3m-83 1.5h3"/>
<path fill="none" stroke="#202224" stroke-width="1.5" d="M84 48.75h3m6 3h3m56 0h3m27 1.5h3m-110 1.5h3m39 0h3m35 0h3m30 0h3m-24 1.5h3m18 0h3m-128 1.5h6m24 0h3m3 0h3m6 0h3m12 0h3m20 0h3m45 0h3m-125 1.5h3m24 0h3m65 0h3m18 0h3m-128 1.5h3m39 0h6m-48 4.5h3m42 0h3m15 0h3m23 0h3m27 0h3m-95 3h3m65 0h3m-98 3h3m6 1.5h3m9 0h3m30 0h3m-54 1.5h3m21 1.5h3m24 0h3m14 0h3m39 0h3m-110 1.5h6m15 0h3m6 0h3m53 0h6m-98 3h3m6 0h3m9 1.5h3m3 0h3m21 0h3m9 0h3m26 0h3m9 0h3m-101 3h3m18 0h3m9 0h6m6 0h3m-54 1.5h3m45 0h3m77 0h3m-122 1.5h3m24 0h3m56 0h3m-95 1.5h3m-3 1.5h3m-3 1.5h3m9 1.5h3m18 0h3m-18 3h3m42 0h2m3 0h3m-41 1.5h3m35 0h3m-32 1.5h6m68 0h3m-113 4.5h3m18 0h3m6 1.5h3m53 0h3m6 0h3m-74 1.5h3m9 0h3m41 0h3m6 0h3m15 0h6m3 0h3m-83 1.5h3m41 0h3m3 0h6m-89 1.5h3m3 0h3m21 0h3m-42 1.5h3m30 0h12m18 0h3m20 0h3m3 0h3m6 0h3m12 0h3m9 0h3m-36 1.5h3m12 0h3m9 0h3m-39 1.5h3m27 0h3m-80 1.5h6m56 1.5h3m-101 1.5h3m9 0h3m110 0h3m-128 1.5h3m30 0h3m-39 1.5h3m6 0h3m51 0h3m23 0h3m-89 1.5h3m21 1.5h3m62 1.5h3m-53 1.5h3m44 0h3m3 0h3m30 0h3m-128 1.5h6m6 0h3m15 0h6m24 0h3m2 0h3m21 0h3m18 0h3m-113 1.5h3m12 0h3m24 0h3m20 0h3m9 0h3m6 0h3m12 0h3m-92 1.5h3m77 0h3m15 0h3m12 0h3m-110 1.5h3m18 0h3m47 0h3m21 0h3m12 0h3m-125 1.5h3m9 0h3m65 1.5h3m-92 1.5h6m3 1.5h3m3 1.5h3m74 1.5h3m30 0h3m-122 1.5h3m12 0h3m3 0h3m65 0h3m-92 1.5h3m36 0h3m74 0h3m-119 1.5h6m77 0h6m3 0h3m27 0h3m-128 1.5h3m27 0h3m6 0h3m41 0h3m9 0h3m-3 1.5h3m6 1.5h3m-15 1.5h6m-98 3h3m89 0h3m3 0h6m-92 1.5h3m83 0h3m3 0h3m-6 3h3m-33 1.5h3m-32 3h3m68 0h3m-116 1.5h3m45 0h3m38 0h6m-98 4.5h3m39 0h3m3 0h3m12 0h3m29 0h3m24 0h3m-116 1.5h3m30 3h3m15 0h3m23 0h3m21 0h6m-107 1.5h3m9 0h3m15 0h3m18 0h3m-57 4.5h3m39 0h3m65 4.5h3m12 0h3m-134 1.5h3m3 0h3m9 0h3m15 1.5h6m53 0h3m-98 1.5h3m12 0h3m30 4.5h3m65 0h3m-74 1.5h3m-45 1.5h3m-3 1.5h6m6 0h3m18 0h3m77 1.5h3m-119 1.5h3m77 0h3m15 0h3m-6 1.5h3m-95 3h3m57 0h3m47 0h3m-12 1.5h3m-68 1.5h3m53 0h3m-18 3h3m24 0h3m-110 3h3m9 1.5h3m56 0h3m39 0h3m-24 4.5h6m18 0h3m-107 1.5h3m80 0h3m-30 1.5h3m3 0h3m48 0h3m-57 1.5h3m12 0h3m33 0h3m-110 1.5h3m24 0h6m15 0h3m11 0h3m45 0h3m-12 1.5h3m-110 3h3m24 0h3m3 1.5h3m-30 1.5h3m53 0h3m39 0h3m-110 1.5h3m21 0h3m12 0h3m23 0h3m15 0h3m18 0h3m-50 1.5h3m23 0h3m12 0h3m9 0h3m3 0h3m-122 1.5h9m54 1.5h2m3 0h3m6 0h3m42 0h3m3 0h3m-74 1.5h3m11 0h3m27 0h3m9 0h3m-110 1.5h3m51 0h3m50 0h6m-122 1.5h3m60 0h3m23 0h3m39 0h3m-134 1.5h3m9 0h3m6 0h3m36 0h3m32 0h3m6 0h3m6 0h3m-95 1.5h3m18 0h3m18 0h3m17 0h3m9 0h3m33 0h3m-125 1.5h3m48 0h3m11 0h3m24 0h3m3 0h3m-50 1.5h3m26 0h3m21 0h3m-9 1.5h3m21 0h3m-24 1.5h3m-92 1.5h3m3 0h3m30 0h3m35 0h3m15 0h3m-33 1.5h3m9 0h6m-41 1.5h3m5 0h3m9 0h6m3 0h3m-86 1.5h3m62 0h3m12 0h3m24 0h3m9 0h6m-122 1.5h6m30 0h3m17 0h3m12 0h3m24 0h3m6 0h3m-36 1.5h3m-80 1.5h6m62 0h3m6 0h3m33 0h3m-51 1.5h3m3 0h3m-77 1.5h3m18 0h3m3 0h3m9 0h3m29 0h3m12 0h3m27 0h3m3 0h3m-98 1.5h3m35 0h3m9 0h3m3 0h3m12 0h3m0 1.5h3m-3 1.5h3m12 0h3m-107 1.5h3m71 0h3m12 0h3m3 0h6m-83 1.5h3m32 0h3m21 0h3m3 0h6m12 0h3m-59 1.5h8m36 0h3m21 0h3m-101 1.5h6m38 0h3m27 0h3m3 0h6m-110 1.5h3m68 0h6m6 0h3m18 0h3m-110 1.5h3m-3 1.5h3m51 1.5h3m5 0h3m45 1.5h3m-107 1.5h3m51 0h2m-68 1.5h3m36 0h3m86 0h3m-131 1.5h3m9 0h6m65 0h3m-83 1.5h3m33 0h6m15 0h3m-63 1.5h3m36 0h3m3 0h3m26 1.5h3m18 0h3m21 0h3m-122 1.5h3m36 0h3m59 0h3m15 0h3m3 0h3m-12 1.5h3m-119 1.5h3m12 0h3m6 0h3m18 0h3m-9 1.5h3m77 0h3m3 0h3m-113 1.5h3m6 0h3m68 0h3m3 0h3m6 0h3m-6 1.5h3m3 0h3m-107 6h3m-12 1.5h3m9 0h3m24 0h3m12 0h3m20 0h3m42 0h3m-122 1.5h3m3 1.5h3m24 3h3m77 0h3m-80 3h3m-42 3h3m6 0h6m-9 1.5h3m36 0h3m83 0h3m-21 1.5h3m-116 3h3m3 0h6m6 0h3m68 0h3m3 0h3m30 0h3m-128 3h3m30 0h3m80 0h3m-119 1.5h3m107 0h3m15 0h3m-119 3h3m-6 1.5h3m116 0h3m-134 1.5h3m12 0h3m71 0h3m-53 3h3m71 0h3m-83 1.5h3m50 0h3m30 0h3m-113 3h3m80 0h3m24 0h3m-113 1.5h3m104 0h3m-24 1.5h3m-92 1.5h3m45 0h3m-45 1.5h3m18 0h3m56 0h3m9 0h3m-33 1.5h6m18 0h3m15 0h3m3 0h3m-122 1.5h3m74 0h3m3 0h3m3 0h3m3 0h3m-86 1.5h3m56 0h3m12 0h3m6 0h3m15 0h3m-116 1.5h3m30 0h3m50 0h3m6 0h3m6 0h3m12 0h6m-119 1.5h3m51 0h3m56 0h3m-113 1.5h3m39 0h3m11 0h3m21 0h3m6 0h3m6 0h3m-36 1.5h3m3 0h3m30 0h3m-48 1.5h3m6 0h3m9 1.5h3m9 0h3m6 0h3m-56 1.5h3m11 0h9m3 0h3m9 0h3m3 0h3m-9 1.5h3m3 0h3m-107 1.5h3m60 0h3m38 0h3m-98 1.5h3m92 0h3m3 0h3m12 0h3m3 0h3m-134 1.5h3m9 0h3m24 0h3m18 0h6m32 0h3m3 1.5h3m12 0h3m9 0h3m-128 1.5h3m24 0h3m44 0h3m-12 1.5h3m15 0h3m12 0h3m21 0h3m-33 1.5h3m24 0h6m-63 1.5h3m42 0h3m6 0h3m-86 1.5h3m56 0h3m12 0h6m-48 1.5h3m3 0h3m15 0h3m33 0h3m-36 1.5h3m12 0h3m9 0h3m-125 1.5h3m57 0h3m41 0h3m18 0h3m-122 1.5h3m51 0h3m32 0h3m3 0h3m-98 1.5h6m18 0h15m29 0h3m15 0h3m12 0h3m18 0h3m-122 1.5h3m12 0h3m3 0h3m9 0h3m74 0h3m6 0h3m-116 1.5h6m15 0h3m68 0h3m-71 1.5h3m23 0h3m-68 1.5h6m77 0h3m-83 1.5h3m95 0h3m-15 1.5h3m-59 1.5h3m3 0h3m35 4.5h3m12 3h3m27 0h3m-77 3h3m17 0h3m48 0h3m-125 1.5h3m3 0h3m27 0h3m6 0h3m56 0h3m-98 1.5h3m15 0h3m83 0h3m-89 1.5h3m15 0h3m23 0h3m27 0h3m-101 1.5h3m3 3h3m15 0h3m-24 1.5h3m27 0h3m24 0h3m5 0h3m12 0h3m-47 1.5h3m-9 1.5h3m3 0h6m56 0h3m-95 1.5h3m27 0h6m-21 1.5h3m15 0h3m23 0h3m-65 1.5h3m30 0h3m6 1.5h3m6 0h3m44 0h3m-110 1.5h3m104 0h3m-110 1.5h3m6 0h3m92 0h3m-71 1.5h3m6 0h3m18 0h2m-68 1.5h3m3 0h3m0 1.5h3m18 0h3m6 0h3m53 0h3m-98 1.5h6m98 0h3m-101 1.5h3m21 0h3m33 0h2m36 0h3m6 0h6m3 1.5h3m-59 1.5h2m6 3h3m15 0h3m3 0h3m21 0h3m-59 3h2m12 0h3m12 0h3m-35 1.5h3m-66 1.5h3m80 1.5h3m-80 1.5h3m12 0h3m21 0h3m15 0h3m26 1.5h3m-92 1.5h3m12 0h3m68 0h3m33 0h3m-128 1.5h3m89 1.5h3m-86 4.5h3m89 0h3m-36 1.5h3m33 1.5h3m6 0h3m-48 6h3m24 0h3m-92 1.5h3m30 0h3m-36 1.5h3m33 0h3m-3 1.5h6m35 0h3m18 0h3m-62 1.5h6m53 0h3m9 0h6m-54 3h3m-53 1.5h3m45 0h2m39 0h3m-107 1.5h3m62 0h3m30 0h3m12 0h3m-116 3h3m42 0h3m0 1.5h3m-45 1.5h3m30 0h3m0 1.5h3m59 1.5h3m6 0h3m-110 1.5h3m24 1.5h3m6 0h3m53 0h3m-3 1.5h3m18 0h3m-119 1.5h3m36 0h6m-6 1.5h3m-48 1.5h3m12 1.5h3m15 0h3m6 0h3m86 0h3m-134 1.5h3m39 0h3m-39 1.5h3m21 0h6m32 0h3m54 0h3m-15 3h6m-24 1.5h3m30 0h3m-24 1.5h3m12 0h3m-119 1.5h3m-9 1.5h3m125 0h3m-128 1.5h3m18 0h3m95 0h3m3 0h3m-125 1.5h3m6 0h6m9 0h6m6 0h3m23 0h3m48 0h3m-113 1.5h3m104 0h3m-80 1.5h3m65 0h3m-68 1.5h3m18 0h3m50 0h3m-113 1.5h3m15 0h3m3 0h6m27 0h3m47 0h3m3 0h3m-56 1.5h2m18 0h3m27 0h3m6 0h3m-125 1.5h3m83 0h3m-53 1.5h3m74 0h3m-80 1.5h3m-36 1.5h3m30 0h3m-18 1.5h3m12 0h3m44 0h3m-86 1.5h3m95 0h3m3 1.5h6m-98 1.5h3m15 3h3m53 1.5h3m12 0h3m-62 1.5h3m-27 1.5h3m27 0h3m38 0h3m-74 3h3m12 0h3m-36 1.5h3m30 0h3m9 0h3m56 0h3m-101 1.5h3m51 0h3m-66 1.5h3m12 0h3m30 0h6m35 0h3m6 0h3m3 0h3m-104 1.5h3m86 0h3m21 0h3m-119 1.5h3m6 1.5h3m30 0h6m35 0h3m-23 1.5h3m26 0h3m-80 1.5h3m0 1.5h3m6 0h3m21 0h3m14 0h3m3 0h3m15 0h6m9 0h3m12 0h3m-125 1.5h3m24 0h3m9 0h3m21 0h3m-57 1.5h3m9 0h6m50 0h3m51 0h3m-92 1.5h3m-42 1.5h3m6 0h3m12 0h6m15 0h3m41 1.5h3m-50 1.5h3m-45 1.5h6m-3 1.5h3m68 0h3m-80 1.5h3m3 0h3m83 0h3m-95 1.5h3m3 0h3m6 0h3m-15 1.5h3m3 0h3m12 1.5h3m39 0h2m33 0h3m-89 1.5h3m45 0h3m-51 3h3m21 0h3m24 0h2m-5 1.5h3m-24 1.5h3m18 0h3m20 0h3m-83 1.5h3m6 0h3m30 0h3m38 0h3m-86 1.5h3m33 0h3m3 0h3m9 0h6m-45 1.5h3m42 0h2m6 0h3m9 0h3m-53 3h3m12 0h3m50 0h3m-95 1.5h3m18 0h3m9 0h6m35 0h3m18 3h3m-65 1.5h3m56 0h3m3 0h3m3 0h3m-12 3h6m6 0h3m-86 4.5h3m-30 1.5h3m116 0h3m-86 1.5h6m62 0h3m12 1.5h3m-131 1.5h3m36 0h3m21 0h3m14 0h3m27 0h3m-98 1.5h3m74 3h3m27 0h3m-110 3h3m6 1.5h3m47 1.5h3m-71 3h3m83 1.5h3m-83 1.5h3m33 0h3m26 0h3m12 0h3m33 0h3m-131 1.5h3m45 0h3m62 0h3m9 0h3m-86 1.5h3m77 0h3m-119 1.5h3m36 0h3m3 0h3m20 0h3m6 0h6m21 0h3m-42 3h3m-50 1.5h3m21 0h3m62 0h3m15 3h3m-134 1.5h3m9 0h3m-15 1.5h3m63 0h2m42 0h3m12 0h3m-119 1.5h3m27 0h3m83 0h3m-86 1.5h3m32 0h3m6 0h3m24 0h3m6 0h3m6 0h3m-18 1.5h3m-107 1.5h3m21 0h3m35 1.5h3m15 1.5h3m30 0h3m-119 3h6m86 0h3m-104 3h3m119 0h3m-42 1.5h3m42 0h3m-27 1.5h3m24 0h3m-119 1.5h3m95 0h3m-101 1.5h3m77 0h3m-53 1.5h3m77 0h3m-65 1.5h3m29 0h3m-98 3h3m12 0h3m6 0h3m21 0h3m23 0h3m6 0h3m3 0h3m24 0h3m-80 1.5h3m59 0h3m-89 1.5h3m24 0h3m26 0h3m15 0h3m21 0h3m3 0h3m-77 1.5h3m3 0h3m32 0h3m18 0h3m18 0h3m-77 1.5h3m9 0h2m9 0h3m36 0h3m-80 3h3m50 0h3m12 0h3m-3 1.5h3m9 0h3m-116 1.5h6m18 0h3m9 0h3m32 0h3m9 0h3m27 0h3m-83 1.5h3m50 0h3m-50 1.5h3m26 0h3m9 1.5h3m-26 1.5h3m8 0h3m-6 1.5h3m12 0h3m-65 1.5h3m9 0h3m68 0h6m-21 1.5h3m30 0h3m-119 3h3m3 0h3m21 0h3m59 0h3m-65 1.5h6m12 0h3m6 0h2m60 0h3m-101 1.5h3m30 0h3m17 0h3m15 0h3m15 0h3m-30 3h3m24 0h3m3 0h3m-128 3h3m48 0h3m-48 1.5h3m45 0h3m17 0h3m-50 1.5h3m71 0h3m21 0h3m-128 1.5h3m12 0h3m83 0h3m27 0h3m-119 3h3m0 1.5h3m53 0h3m18 0h3m15 0h3m-18 1.5h3m-83 1.5h3m18 0h3m71 0h3m-74 1.5h6m12 0h3m5 0h3m0 1.5h3m42 0h3m-80 1.5h3m26 0h6m-65 3h3m48 0h6m56 0h3m-110 1.5h6m45 0h2m48 0h3m-80 1.5h3m50 0h3m12 0h3m-95 1.5h3m-3 1.5h3m98 0h3m-59 1.5h3m44 3h3m-65 1.5h3m20 0h3m-56 1.5h3m77 0h3m-6 3h3m-15 4.5h3m45 0h3m-86 1.5h3m-3 4.5h3m20 1.5h3m21 0h3m18 0h3m-116 3h6m68 0h3m-32 1.5h3m59 0h3m21 0h3m-74 1.5h3m-48 1.5h3m-12 1.5h3m6 0h3m18 0h3m21 0h3m23 0h3m24 0h3m-98 1.5h3m15 0h3m27 0h2m39 0h3m-98 1.5h3m59 0h3m15 0h3m-95 1.5h3m18 0h3m50 0h3m51 0h3m-15 1.5h3m-104 1.5h3m95 1.5h3m-98 3h3m71 0h3m33 0h3m-92 1.5h3m-39 1.5h3m9 0h3m9 0h3m12 0h3m-45 1.5h3m24 0h6m6 0h3m6 0h6m14 0h3m3 0h3m27 0h3m-92 1.5h3m50 0h6m21 0h3m9 0h6m-107 1.5h3m3 0h3m30 0h3m3 0h3m32 0h6m3 0h3m9 0h6m15 0h3m-95 1.5h3m27 0h2m27 0h3m18 0h3m9 0h3m-128 3h3m27 0h6m27 0h2m6 0h3m24 0h3m-68 1.5h6m12 0h3m50 0h3m6 0h3m-110 1.5h3m3 1.5h3m12 1.5h3m77 0h3"/>
<path fill="none" stroke="#80252a" stroke-width="1.5" d="M87 48.75h3m-9 4.5h3m27 0h3m-3 3h3m-27 6h3m24 0h3m-24 6h3m-15 1.5h3m30 9h6m0 1.5h3m-3 1.5h3m-9 4.5h3m0 3h3m-39 4.5h3m12 7.5h3m12 0h6m-3 1.5h3m-36 7.5h3m33 1.5h3m-27 7.5h3m18 0h3m-24 7.5h3m21 4.5h6m-6 3h3m-9 7.5h3m-27 6h3m-3 1.5h3m3 1.5h3m-21 4.5h3m15 6h3m-9 1.5h3m27 3h3m-39 1.5h3m9 3h3m18 0h3m-36 4.5h3m3 1.5h3m-21 3h3m12 0h3m3 0h3m-6 3h3m27 0h3m-33 7.5h3m6 0h3m-24 1.5h3m-3 1.5h3m6 1.5h3m3 7.5h3m6 4.5h3m18 1.5h3m-42 1.5h6m27 0h3m-24 4.5h3m-24 1.5h3m9 1.5h3m27 0h3m-6 1.5h3m3 4.5h3m-48 1.5h3m24 0h6m-21 3h3m6 1.5h3m-3 3h3m3 0h3m-15 3h3m24 3h3m3 1.5h3m-21 3h3m6 1.5h3m-21 1.5h3m-9 1.5h3m-6 9h3m30 3h3m-36 4.5h3m-6 1.5h3m0 3h6m-3 4.5h3m-6 1.5h3m24 0h3m0 4.5h3m-36 1.5h3m33 1.5h6m-33 1.5h9m9 0h3m-27 3h3m6 0h3m-24 1.5h3m3 0h3m3 0h6m-6 4.5h3m-3 7.5h3m6 1.5h3m-15 1.5h3m12 3h3m12 0h3m-27 1.5h3m6 3h3m-12 1.5h3m3 0h3m15 0h3m0 1.5h3m-33 1.5h3m9 1.5h3m15 0h3m-24 3h3m15 4.5h3m3 0h3m-30 1.5h3m18 0h3m-3 1.5h3m-21 1.5h3m-12 3h3m-3 6h3m3 1.5h3m0 3h3m21 0h3m-33 1.5h3m-9 1.5h3m30 1.5h3m-51 1.5h3m12 1.5h3m33 0h3m-33 10.5h3m-3 1.5h3m24 1.5h3m-24 3h3m15 0h3m-36 1.5h3m24 0h3m3 0h3m-24 3h3m-18 1.5h3m33 0h3m0 1.5h3m0 3h3m-30 1.5h3m27 3h3m-48 1.5h3m30 0h3m-9 1.5h6m3 0h3m-30 1.5h3m0 3h3m30 0h3m-42 1.5h3m-6 1.5h3m3 0h3m3 0h3m18 0h3m6 0h3m-36 3h3m-3 1.5h3m21 0h3m29 0h3m-62 1.5h3m6 0h3m-21 6h3m12 0h3m9 4.5h3m-36 1.5h3m21 6h3m24 4.5h3m-54 7.5h3m15 1.5h3m-3 3h3m30 0h3m-6 13.5h6m-54 3h3m24 0h3m-18 1.5h3m36 0h3m-15 1.5h6m-18 1.5h3m-15 1.5h3m-21 3h3m9 0h3m3 0h3m6 0h3m-27 3h3m18 0h3m12 0h6m9 0h3m-45 3h3m-9 1.5h3m24 0h3m-12 1.5h3m-9 1.5h3m-3 1.5h3m-21 1.5h3m42 1.5h6m-15 1.5h3m-3 1.5h3m6 1.5h3m-30 1.5h3m-12 4.5h3m6 0h3m-6 3h3m18 0h3m9 0h6m-18 1.5h3m9 3h3m-42 6h3m-3 4.5h3m36 1.5h3m-33 4.5h3m-3 1.5h3m-3 1.5h3m30 0h3m-36 3h3m30 0h3m-36 1.5h3m27 0h6m-36 6h3m9 0h3m9 0h3m-21 1.5h3m15 4.5h3m-24 1.5h3m24 1.5h3m-27 1.5h3m27 1.5h3m-6 1.5h3m-30 1.5h3m6 1.5h3m-12 1.5h3m27 3h3m-51 1.5h3m15 0h3m-3 1.5h3m3 0h3m15 1.5h3m-36 1.5h6m3 0h3m24 0h3m-39 1.5h3m6 0h3m3 0h3m15 4.5h3m0 4.5h3m-54 7.5h3m51 1.5h3m-36 15h3m-9 3h3m30 0h3m-3 6h6m-3 1.5h3m-3 1.5h3m-3 4.5h3m-9 6h3m-9 3h3m3 1.5h3m-39 1.5h6m3 3h3m3 0h3m-18 1.5h3m18 0h3m9 0h3m-21 1.5h3m15 0h3m-36 3h3m30 0h3m83 3h3m-74 1.5h3m5 3h3m18 0h3m-6 4.5h3m6 0h3m18 0h3m-30 1.5h3m6 0h3m6 0h3m-3 3h3m3 7.5h3m-18 1.5h3m-35 3h5m33 0h3m-21 4.5h3m-26 1.5h3m2 0h3m-3 3h3m27 0h3m-41 1.5h8m-5 1.5h5m9 0h3m36 0h3m-39 6h3m48 3h3m-54 1.5h3m12 1.5h3m-35 1.5h5m-2 1.5h2m12 3h3m-17 1.5h2m27 1.5h3m-21 7.5h6m-15 7.5h3m45 4.5h3m-53 3h2m33 0h3m-38 1.5h2m18 4.5h3m-9 1.5h3m3 0h3m-18 1.5h3m18 0h3m21 1.5h3m12 0h3m-63 1.5h3m24 1.5h3m-24 1.5h3m6 0h6m6 0h3m-18 1.5h3m3 1.5h3m-15 4.5h3m6 4.5h3m21 10.5h3m18 4.5h3m-15 6h3m9 1.5h3m-9 1.5h3m-9 4.5h3m9 1.5h3m-57 3h3m18 0h3m21 4.5h3m-45 4.5h3m12 3h3m-32 6h2m42 0h6m-42 3h3m42 0h3m-24 1.5h3m-30 7.5h3m3 0h3m21 0h3m-44 1.5h3m68 1.5h3m-57 1.5h3m36 0h3"/>
<path fill="none" stroke="#762529" stroke-width="1.5" d="M90 48.75h3m21 0h3m0 1.5h3m0 3h3m-51 1.5h3m-9 7.5h3m15 0h3m9 0h3m12 1.5h3m6 0h3m-30 6h3m24 0h3m-42 1.5h3m9 1.5h3m24 1.5h3m-36 3h3m30 0h3m-42 6h3m27 0h3m6 6h3m-30 1.5h3m18 0h3m-42 3h3m30 0h3m-21 1.5h3m21 0h3m-45 6h3m9 0h3m15 0h3m-12 4.5h3m-6 3h3m15 1.5h6m-21 1.5h3m18 0h3m3 0h3m-6 3h3m-30 1.5h3m24 3h3m-3 1.5h3m-39 1.5h3m3 3h3m3 0h3m18 0h3m-21 1.5h3m9 1.5h3m-30 7.5h3m-3 1.5h3m9 1.5h3m21 1.5h3m-24 1.5h3m-36 1.5h3m54 0h3m-42 1.5h3m0 3h3m33 0h3m-39 3h3m9 0h3m9 0h3m-30 1.5h3m27 0h3m-30 1.5h3m6 0h3m9 1.5h3m-39 1.5h3m9 0h3m30 1.5h6m-42 1.5h3m21 0h3m6 0h3m0 1.5h3m-33 1.5h3m-6 3h3m9 0h3m3 0h3m-9 1.5h3m-21 1.5h3m6 0h3m3 1.5h3m24 0h6m-45 4.5h3m6 0h3m12 0h3m9 0h3m-39 4.5h3m6 1.5h6m24 0h3m-39 1.5h3m12 1.5h3m-9 4.5h3m-12 3h3m6 0h3m3 3h3m-6 3h3m18 4.5h3m-48 1.5h3m36 0h3m6 0h3m-51 1.5h3m15 0h3m6 0h3m15 0h3m-39 1.5h3m15 0h3m-6 3h3m12 0h3m6 0h3m-39 1.5h3m-12 1.5h6m3 1.5h3m-21 1.5h3m21 1.5h3m9 3h3m15 0h3m-27 1.5h3m-3 6h3m18 0h6m-39 4.5h3m18 0h3m3 0h3m6 0h3m-18 3h3m-15 3h3m24 1.5h3m-33 4.5h3m15 0h3m-21 1.5h6m3 1.5h3m21 1.5h3m-12 1.5h3m-12 3h3m3 0h3m9 1.5h3m-3 4.5h3m-39 1.5h3m104 0h3m-86 1.5h3m3 1.5h3m3 0h3m-39 3h6m24 4.5h6m-54 1.5h6m3 3h3m30 0h3m-42 3h3m21 0h3m-18 1.5h3m30 1.5h6m-54 1.5h3m39 0h3m-18 3h3m15 1.5h3m-30 1.5h3m33 3h3m-30 1.5h3m18 1.5h3m-3 4.5h3m-18 7.5h3m18 0h3m-3 4.5h3m-39 1.5h3m6 0h3m3 4.5h3m18 0h3m-6 6h3m-3 3h3m-33 1.5h3m30 1.5h3m-6 4.5h3m-48 4.5h3m36 0h3m0 6h3m47 1.5h3m-62 1.5h3m3 0h3m0 3h3m-21 1.5h3m21 0h3m-33 3h3m3 3h3m-3 6h3m-6 1.5h3m30 0h3m-45 1.5h3m27 3h3m-27 1.5h3m-3 7.5h3m21 0h3m-27 1.5h3m104 0h3m-80 3h3m-57 4.5h3m12 0h3m0 4.5h3m6 4.5h3m-12 3h3m6 4.5h3m15 0h3m-30 6h3m33 0h3m-24 1.5h3m-12 3h3m-12 6h3m33 0h6m0 1.5h3m56 1.5h3m-98 1.5h3m24 1.5h3m3 1.5h3m0 1.5h3m-36 3h3m30 3h3m-33 3h3m-27 1.5h3m27 1.5h3m21 1.5h3m-6 3h3m-18 1.5h3m-9 1.5h3m15 0h3m-45 1.5h3m12 3h3m3 0h3m21 0h3m-48 1.5h3m27 0h3m12 1.5h3m-45 6h3m33 0h3m-33 1.5h3m3 0h3m6 1.5h3m-33 1.5h3m45 0h3m-30 1.5h3m71 0h3m-80 1.5h3m9 0h3m-9 1.5h3m-18 1.5h3m27 0h3m-24 1.5h3m-6 1.5h3m36 0h3m-57 1.5h3m39 0h3m3 0h3m-42 3h3m3 0h3m27 0h3m-18 4.5h6m6 1.5h3m-9 1.5h3m12 0h3m-33 3h3m24 0h3m-33 3h3m-3 1.5h3m-3 1.5h3m24 0h3m0 1.5h3m0 1.5h3m-6 4.5h6m-39 1.5h3m18 0h3m-30 1.5h3m3 0h3m24 0h3m-9 3h3m-30 3h3m9 3h6m15 0h3m3 0h3m3 3h3m-48 1.5h3m3 0h3m30 0h3m-27 1.5h3m-9 3h3m33 0h3m-33 1.5h3m-6 1.5h3m6 0h3m18 0h3m-6 3h3m-12 1.5h3m9 1.5h6m-42 1.5h3m30 1.5h3m-42 1.5h3m39 1.5h3m-6 1.5h3m3 0h3m-39 1.5h3m21 0h3m-30 1.5h3m3 0h3m18 0h3m-24 1.5h3m9 0h3m6 0h3m-18 10.5h3m3 4.5h3m18 0h3m-36 10.5h3m18 0h3m6 0h3m-3 3h3m-48 1.5h3m45 0h3m-3 4.5h3m-33 6h6m24 0h3m-39 1.5h3m0 3h3m12 19.5h3m-30 1.5h3m33 0h3m-36 4.5h3m9 0h3m38 4.5h3m33 0h3m-27 1.5h6m9 0h3m30 0h3m-30 6h3m-38 1.5h5m54 0h3m-48 1.5h3m-20 1.5h3m56 0h3m-36 1.5h3m6 4.5h3m-6 3h6m-35 1.5h2m33 0h3m27 0h3m-98 1.5h3m21 1.5h3m26 0h3m9 0h3m-24 4.5h3m-17 4.5h2m27 1.5h3m9 1.5h3m-6 1.5h3m-36 4.5h3m9 0h3m-6 1.5h3m-17 1.5h2m-2 3h2m-8 1.5h3m5 0h3m9 0h3m-17 4.5h2m27 0h3m-30 1.5h3m-5 1.5h5m9 0h3m3 0h3m9 0h3m-38 1.5h3m2 3h3m-8 1.5h3m-6 1.5h3m32 0h3m21 4.5h3m-24 7.5h3m27 0h3m-68 1.5h3m14 0h3m3 1.5h6m12 0h3m12 0h3m-39 1.5h3m12 0h3m6 0h3m-15 3h3m-35 1.5h3m41 0h3m6 1.5h3m12 1.5h3m-66 3h3m0 4.5h3m3 0h3m15 0h3m18 0h3m-53 7.5h2m9 0h3m-17 3h3m17 0h3m12 0h3m18 0h3m-39 1.5h3m45 4.5h3m-54 3h3m48 1.5h3m-57 1.5h3m12 0h3m3 0h6m-36 1.5h3m39 0h3m-30 3h3m21 1.5h3m-42 1.5h3m18 0h3m24 0h6m9 0h3m-24 1.5h3m-33 4.5h3m6 1.5h3m-24 3h3m18 0h3m-21 1.5h3m24 0h3m-41 1.5h8m6 0h3m36 0h3m3 1.5h3m-27 4.5h6m21 1.5h3m-36 6h3m12 0h3m-44 1.5h3m44 0h3m-50 1.5h8m3 0h3m24 0h3m21 0h3m-60 1.5h3m6 0h3m21 0h3m-33 3h3m6 0h3m3 0h3m6 0h3m-27 6h3m15 3h3m21 0h3m-36 1.5h3m21 0h3m-41 1.5h2m3 1.5h3m6 0h6m42 0h6m-21 1.5h3m3 0h3m-33 1.5h3"/>
<path fill="none" stroke="#2b3329" stroke-width="1.5" d="M99 48.75h3m80 0h3m-18 1.5h3m-12 1.5h3m21 0h3m-18 3h3m6 0h3m-71 1.5h3m23 1.5h3m30 0h3m-104 1.5h3m83 0h3m18 0h3m3 0h3m-95 1.5h3m74 0h3m-24 3h3m9 1.5h6m-98 1.5h3m89 0h3m-86 3h3m-12 3h3m74 0h3m24 0h3m-107 1.5h3m-3 1.5h3m6 0h3m3 0h3m45 0h3m20 0h3m18 0h3m-36 1.5h3m36 0h3m-3 1.5h3m-27 1.5h3m3 0h3m-98 1.5h3m65 0h3m6 0h3m3 0h3m3 0h3m24 3h3m-71 4.5h3m74 0h3m-15 1.5h3m-9 1.5h3m-15 3h3m12 0h3m-83 1.5h3m12 0h3m38 0h3m-26 1.5h3m47 0h3m-53 1.5h3m17 0h3m6 0h3m6 0h3m-77 3h3m59 1.5h3m-86 1.5h3m-9 1.5h6m3 0h3m36 0h3m50 0h3m6 0h3m-39 1.5h3m-74 1.5h3m15 0h3m77 0h3m9 0h3m-95 1.5h3m65 0h3m-89 1.5h3m86 0h3m33 0h3m-86 1.5h3m62 0h3m-86 3h3m-21 1.5h3m83 0h3m-59 1.5h3m59 0h3m-33 1.5h3m15 3h3m3 1.5h3m-65 1.5h3m56 0h3m-44 1.5h3m53 0h6m-113 1.5h3m24 0h3m47 0h3m3 0h3m15 0h3m3 0h6m9 0h3m-83 1.5h3m18 0h3m59 0h3m-54 1.5h3m18 1.5h3m-92 3h6m30 0h3m47 0h3m15 0h3m-77 1.5h3m35 1.5h3m18 0h3m3 0h3m18 1.5h3m-122 1.5h3m9 0h3m95 0h3m-27 1.5h3m-44 1.5h3m12 1.5h3m38 0h3m-44 1.5h3m41 0h3m-50 1.5h3m-3 1.5h3m17 0h3m9 0h3m21 0h3m-3 3h3m-119 1.5h3m92 0h3m3 1.5h3m-18 3h3m-26 1.5h3m32 0h6m-62 1.5h3m56 0h3m3 1.5h3m9 3h3m-80 3h3m59 0h3m-80 3h3m3 0h3m27 0h3m65 0h3m-86 1.5h3m38 0h3m33 0h3m-36 4.5h3m18 0h3m6 0h3m-24 3h3m-104 1.5h3m6 1.5h3m36 0h3m56 0h3m-18 1.5h3m-86 6h3m54 0h2m63 0h3m-3 1.5h3m-39 3h3m9 0h3m6 0h3m12 0h3m-39 3h3m18 0h3m-119 1.5h3m71 0h3m15 0h3m12 0h3m-21 1.5h3m6 0h3m-59 1.5h3m56 0h3m-56 3h3m32 0h3m3 0h3m-12 1.5h3m15 0h3m-15 1.5h3m6 0h3m-32 3h2m57 0h3m-65 1.5h3m20 0h3m18 0h3m12 0h3m-113 1.5h3m71 0h3m-26 1.5h3m0 1.5h2m3 0h3m3 0h3m21 0h3m9 0h3m-15 1.5h3m9 0h6m12 0h3m-27 1.5h3m12 0h3m3 0h3m-119 3h3m59 0h3m21 0h3m27 1.5h3m-42 1.5h3m3 0h3m9 0h3m6 0h3m-113 1.5h3m33 0h9m17 0h3m18 0h3m27 0h3m6 0h6m-9 1.5h3m-128 1.5h3m57 0h3m26 0h3m-26 1.5h2m33 0h3m21 0h3m-60 1.5h3m30 0h3m21 0h3m-36 1.5h3m9 0h3m-59 1.5h3m65 0h3m-119 1.5h3m77 0h3m15 0h3m27 0h3m-36 1.5h3m9 0h3m15 0h3m-48 1.5h3m-47 1.5h3m24 0h3m11 0h3m-12 1.5h3m-38 1.5h3m27 0h5m3 0h3m15 0h6m33 0h3m-48 1.5h3m9 0h3m-62 1.5h3m27 0h2m9 0h3m-14 1.5h2m9 0h3m12 0h3m-86 1.5h3m12 0h3m9 0h6m44 0h3m15 0h3m-44 1.5h3m14 0h3m48 0h3m-68 1.5h2m51 0h6m-65 1.5h3m56 0h3m3 0h3m-98 1.5h3m9 0h3m62 0h3m18 0h3m-122 1.5h3m51 0h3m8 0h3m33 0h3m12 0h3m-27 1.5h3m-44 1.5h3m5 0h3m36 0h3m18 0h3m-27 1.5h3m-71 1.5h3m83 0h3m3 0h3m-45 1.5h3m12 0h3m24 0h3m-68 1.5h3m17 0h3m3 0h6m33 0h3m-122 1.5h3m56 0h3m33 0h3m12 0h3m-113 1.5h3m56 0h3m3 0h3m39 0h3m-39 1.5h6m30 0h3m-53 1.5h2m3 0h3m30 0h3m15 0h6m-113 1.5h3m45 0h3m5 0h3m3 0h3m30 0h3m18 1.5h3m-51 1.5h3m-68 1.5h3m3 0h3m92 0h3m3 0h3m-18 3h3m12 0h3m-3 1.5h3m-21 1.5h6m-12 1.5h3m15 0h3m-33 1.5h3m9 0h3m24 0h3m-122 1.5h3m110 0h3m-48 1.5h3m15 0h3m24 0h3m3 1.5h3m-122 1.5h3m98 0h3m-107 1.5h3m27 0h3m32 0h3m6 0h3m15 0h3m-98 4.5h3m6 0h3m89 0h3m6 0h3m-113 1.5h3m0 1.5h3m116 3h3m-128 1.5h3m104 0h3m6 0h6m0 1.5h3m-9 1.5h3m-24 1.5h3m9 0h3m-42 1.5h3m33 0h3m9 0h3m12 1.5h3m-119 3h3m21 0h3m-3 1.5h3m80 0h3m-27 1.5h3m-65 3h3m18 0h3m23 0h3m18 0h3m3 0h3m12 0h3m-15 1.5h3m3 0h3m-113 1.5h6m24 0h3m12 0h3m56 0h3m-107 1.5h3m98 0h3m-39 3h3m-62 1.5h3m77 0h3m12 0h3m3 1.5h3m6 0h3m-45 1.5h3m24 0h3m-15 1.5h3m-98 1.5h6m62 0h3m39 0h3m9 0h3m-21 3h3m-95 1.5h3m80 0h3m-98 1.5h3m36 0h3m62 0h3m9 0h3m-119 1.5h3m51 0h3m11 0h3m36 0h3m3 0h3m-30 1.5h3m3 0h3m3 0h3m24 0h6m-74 1.5h3m47 0h3m-45 1.5h3m30 0h3m12 0h3m3 0h3m-48 1.5h3m-71 1.5h3m65 0h3m3 0h3m-18 1.5h3m6 0h3m3 0h3m12 0h6m6 0h3m9 1.5h9m-125 1.5h3m27 0h3m29 0h3m15 0h3m12 0h3m18 0h3m6 0h3m-74 3h3m8 0h3m12 0h6m27 0h3m3 0h6m-65 1.5h2m27 0h3m21 0h3m9 0h3m-33 1.5h3m6 0h3m-47 1.5h5m21 0h3m-35 1.5h3m44 0h3m3 0h3m-42 1.5h3m27 0h3m3 0h3m3 0h6m-54 1.5h3m24 0h3m-53 1.5h3m50 0h3m6 0h3m12 0h3m-45 1.5h3m30 0h3m3 0h3m-36 1.5h3m-26 1.5h3m11 0h12m15 0h3m-39 3h3m27 0h3m-41 1.5h3m23 0h3m3 0h3m21 0h3m-45 1.5h6m51 0h3m-68 1.5h2m9 0h3m6 0h3m33 0h3m-65 1.5h3m41 0h3m-15 1.5h3m3 0h3m-38 1.5h3m32 0h3m-15 1.5h3m3 0h3m12 0h3m-74 3h3m59 0h6m-62 1.5h3m18 0h3m29 0h3m33 0h3m-39 4.5h3m6 1.5h3m9 0h3m-27 1.5h3m-89 1.5h3m65 0h3m27 0h3m15 0h3m-122 3h3m89 0h3m12 0h3m6 0h3m3 0h3m-54 3h3m39 0h3m6 0h3m3 0h3m-66 1.5h3m15 0h3m-83 1.5h3m95 1.5h3m15 0h3m-9 1.5h3m9 0h3m-80 1.5h3m14 0h3m9 0h3m15 0h3m27 0h3m-95 1.5h3m27 1.5h2m18 0h6m9 0h3m3 0h3m-50 1.5h3m-63 1.5h3m98 0h3m6 0h3m12 0h3m-122 1.5h3m95 0h3m9 0h3m-36 1.5h9m12 0h3m6 0h3m-6 1.5h6m-71 1.5h3m-45 1.5h3m98 1.5h3m-92 1.5h3m33 0h6m11 0h6m6 0h3m-80 3h3m54 0h6m41 0h3m18 0h3m-68 1.5h3m5 0h3m21 1.5h3m-27 1.5h3m21 0h3m6 0h3m12 1.5h3m-56 1.5h2m3 0h3m-3 1.5h3m24 0h3m-18 1.5h3m12 0h3m-86 1.5h3m50 1.5h3m3 0h3m45 0h3m-110 1.5h3m24 0h3m53 1.5h3m-65 1.5h3m3 0h3m21 0h5m3 0h3m30 0h3m21 0h3m-39 1.5h3m-35 1.5h3m29 0h3m3 1.5h3m-38 1.5h5m21 0h3m-80 1.5h3m45 0h3m26 0h3m18 0h3m-50 1.5h2m-50 1.5h3m71 0h3m24 0h3m-24 1.5h3m12 0h6m-45 1.5h3m15 0h6m15 0h3m-53 1.5h3m2 0h3m30 0h6m-9 1.5h3m12 0h3m-80 1.5h3m32 0h6m54 0h3m-134 3h3m92 0h3m18 0h3m3 1.5h3m-3 4.5h3m-98 1.5h3m59 0h6m27 0h3m-6 1.5h3m-113 6h3m15 0h3m74 0h3m-36 1.5h3m21 0h3m-92 1.5h3m59 0h3m33 1.5h3m9 0h3m3 0h3m6 0h3m-45 1.5h6m-24 1.5h3m-74 1.5h3m68 3h3m-29 1.5h3m18 0h2m57 0h3m-39 1.5h3m-6 1.5h3m21 0h3m-113 1.5h3m3 0h3m107 3h3m-119 1.5h3m122 0h3m-3 1.5h3m-95 1.5h3m44 0h3m33 0h3m-18 3h3m24 0h3m-131 1.5h3m77 0h3m0 1.5h3m9 0h3m-18 1.5h3m27 0h3m3 0h3m3 0h3m3 0h3m-63 1.5h3m3 0h6m15 1.5h3m12 0h3m15 0h3m-39 1.5h3m12 0h3m15 0h3m3 0h3m-21 1.5h3m6 1.5h3m-122 1.5h3m57 0h3m56 0h3m-119 1.5h3m30 0h3m32 0h6m15 0h3m9 0h3m3 0h6m-116 1.5h3m83 0h3m3 0h6m15 0h3m12 0h3m-128 1.5h3m68 0h3m-17 1.5h3m20 0h3m3 1.5h3m-9 1.5h3m-80 1.5h3m92 0h6m-6 1.5h3m15 0h3m-51 1.5h3m6 0h3m15 0h3m3 0h3m-104 1.5h3m3 0h3m27 0h3m26 0h3m51 0h3m-113 1.5h3m9 0h3m62 3h3m12 0h3m-47 1.5h3m-3 1.5h3m5 0h3m12 1.5h3m30 0h6m-39 1.5h3m-68 1.5h3m9 0h3m30 0h2m-53 1.5h3m15 0h3m3 0h3m35 0h6m-35 1.5h3m65 0h3m-116 1.5h3m30 0h3m9 0h3m62 0h3m-110 3h3m71 0h3m33 0h9m-62 3h3m0 1.5h2m33 0h3m-38 1.5h2m54 0h3m-39 1.5h3m-89 3h3m63 0h2m-26 1.5h3m15 1.5h3m23 0h3m-9 1.5h3m-80 1.5h3m-6 1.5h3m63 0h2m36 0h3m-104 1.5h3m33 0h3m24 1.5h2m6 1.5h3m12 0h3m24 0h3m3 0h3m-77 1.5h6m14 0h3m30 1.5h3m12 0h3m-98 1.5h3m62 0h6m-71 1.5h3m44 0h3m12 0h3m12 0h3m12 4.5h3m15 0h3m-107 3h3m-30 3h3m101 0h3m9 0h3m12 0h3m-27 1.5h3m-110 1.5h3m98 0h3m3 0h3m12 0h3m-119 3h3m92 0h3m-59 1.5h3m3 0h3m38 0h3m-59 1.5h3m0 3h3m12 0h3m-57 3h3m33 0h3m-3 1.5h3m80 0h3m3 3h3m-92 1.5h3m-24 1.5h3m107 0h3m-54 3h3m-74 1.5h3m15 0h3m95 0h3m-80 1.5h3m3 0h3m26 0h3m12 0h3m27 0h3m-110 1.5h3m-18 1.5h3m24 1.5h3m24 0h3m-48 1.5h3m62 3h3m42 0h3m3 0h3m-54 1.5h3m-77 1.5h3m9 0h3m21 0h3m68 0h3m-107 1.5h3m68 0h3m-68 1.5h3m24 0h3m0 1.5h3m-33 3h3m24 0h3m71 0h3m-98 1.5h3m18 0h3m9 0h3m-45 1.5h3m21 0h3m41 0h3m-35 3h3m12 0h3m-15 1.5h3m-45 1.5h3m45 0h3m20 0h3m30 0h3m6 0h6m-122 1.5h3m98 0h3m-95 1.5h3m24 0h3m-3 1.5h3m-6 1.5h3m6 0h3m47 0h3m-59 1.5h3m3 0h3m-36 1.5h3m6 0h3m15 0h3m6 0h3m53 0h3m-95 1.5h3m3 0h3m27 0h3m9 0h3m71 0h3m-128 1.5h3m30 0h3m-21 1.5h3m24 0h3m41 0h3m-62 1.5h3m38 0h3m15 0h3m9 0h3m15 0h6m3 0h3m-128 1.5h3m36 1.5h3m-48 1.5h3m9 0h3m33 0h3m41 0h3m30 0h3m-89 1.5h3m71 0h3m15 0h3m-119 1.5h3m12 0h3m9 0h3m-39 1.5h3m18 0h3m9 0h3m35 0h3m-80 1.5h3m21 0h3m-24 1.5h3m6 0h3m27 0h6m29 0h3m-38 1.5h3m-45 1.5h3m24 0h3m62 0h3m-44 4.5h3m-30 1.5h3m27 0h3m6 0h3m-54 1.5h3m27 0h3m29 0h3m15 0h3m-53 4.5h3m-39 1.5h3m24 0h6m-15 1.5h3m80 0h3m6 0h3m-110 1.5h3m12 0h3m6 0h3m3 0h3m-21 1.5h3m18 0h3m3 0h3m3 0h3m-42 1.5h6m15 0h3m53 1.5h3m-32 1.5h3m38 0h3m-71 1.5h9m-45 1.5h3m63 0h2m24 0h3m-80 1.5h3m18 0h3m83 0h3m-77 1.5h3m62 0h3m-98 3h3m15 0h3m83 0h3m-74 1.5h3m12 0h2m3 0h3m6 0h9m-44 1.5h3m38 0h3m-71 1.5h3m24 1.5h3m20 0h3m21 0h3m-56 1.5h3m3 0h3m-33 1.5h3m0 1.5h3m-9 1.5h3m21 0h3m-21 1.5h3m-6 3h3m-18 1.5h3m39 1.5h3m-42 3h3m36 0h3m-3 1.5h3m-27 1.5h3m24 0h3m-48 3h3m30 0h6m-21 1.5h3m-9 3h3m116 0h3m-128 1.5h3m3 0h3m6 0h6m24 0h3m71 0h3m-101 1.5h3m-18 1.5h3m9 0h3m-9 1.5h3m3 0h3m6 0h3m6 0h6m83 0h3m-122 1.5h3m33 0h3m3 0h3m-15 1.5h3m-18 1.5h3m-24 1.5h3m18 1.5h3m15 1.5h3m-12 1.5h3m-27 1.5h3m6 0h3m9 0h3m-27 1.5h3m15 0h3m6 0h3m3 0h3m-33 1.5h3m18 0h3m0 1.5h3m62 0h3m-12 3h3m-83 1.5h3m12 0h3m18 0h3m41 0h3m15 0h3m18 0h3m-86 1.5h3m3 0h3m-39 1.5h3m-12 1.5h3m36 0h3m74 0h3m-110 1.5h3m3 0h3m21 0h3m-30 1.5h3m21 0h9m-54 1.5h3m3 0h3m33 0h3"/>
<path fill="none" stroke="#462326" stroke-width="1.5" d="M102 48.75h3m-42 1.5h3m15 0h3m-12 1.5h3m3 0h3m-3 1.5h3m-3 1.5h3m12 0h3m-24 1.5h3m3 0h3m15 0h3m3 0h3m-24 1.5h3m6 0h3m18 0h3m68 0h3m-110 1.5h3m9 0h3m3 0h6m3 0h3m-27 1.5h3m3 0h3m24 0h3m6 0h3m59 0h3m-107 3h3m12 0h3m3 0h6m-36 1.5h3m3 0h3m3 0h3m-21 3h3m9 0h3m-3 1.5h3m21 0h3m-33 1.5h6m12 0h3m6 0h3m6 0h3m-30 3h3m21 0h3m9 0h3m-51 1.5h3m12 0h3m18 0h3m6 0h6m-36 3h3m6 0h3m-24 1.5h3m12 0h3m3 0h3m6 0h6m-18 1.5h3m68 0h3m-77 1.5h3m-6 1.5h3m3 0h3m3 0h3m59 0h3m33 0h3m-125 1.5h3m21 0h3m3 0h3m9 1.5h3m-33 1.5h3m24 0h3m-48 1.5h3m9 1.5h3m12 1.5h3m-3 3h3m6 1.5h3m12 0h3m-30 1.5h3m9 0h3m-6 3h3m6 0h6m-48 3h3m12 0h3m77 0h3m-92 1.5h3m3 0h3m-15 1.5h3m9 1.5h3m9 0h6m-12 1.5h3m68 1.5h3m-83 1.5h3m9 0h3m24 0h3m50 0h3m-86 1.5h3m3 3h3m-9 1.5h3m-9 1.5h3m24 0h3m3 0h9m-54 1.5h3m3 0h3m6 0h3m3 0h3m24 0h3m-39 1.5h3m-3 1.5h3m12 0h3m18 1.5h3m0 3h3m74 0h6m-128 1.5h3m15 0h3m-24 1.5h3m18 1.5h3m-21 1.5h3m18 0h3m12 0h3m3 1.5h3m-51 1.5h3m36 1.5h6m-21 3h3m-12 1.5h3m6 0h6m0 1.5h3m-24 1.5h3m33 0h3m-48 1.5h3m89 0h3m-92 1.5h6m27 0h3m3 0h3m47 0h3m-86 1.5h6m12 0h3m9 0h3m15 0h3m41 1.5h3m-74 1.5h3m-21 1.5h3m15 0h3m-30 3h3m12 0h3m6 0h3m3 0h3m3 0h3m3 0h3m-9 1.5h3m3 0h3m-48 1.5h3m42 0h3m-42 1.5h3m18 0h3m-21 1.5h3m9 0h3m9 3h3m3 0h3m-36 1.5h3m71 0h3m-77 1.5h3m12 0h3m12 0h3m-3 3h3m77 0h3m-65 1.5h3m6 0h3m2 0h3m21 0h3m-86 1.5h3m33 0h3m-45 3h3m6 0h3m15 0h3m-27 1.5h3m6 0h3m24 0h3m-24 1.5h3m9 0h3m9 0h6m3 0h3m-51 1.5h3m18 0h3m6 0h3m6 0h3m-12 1.5h3m6 0h3m-27 1.5h3m18 0h3m-21 1.5h3m-27 1.5h3m42 0h6m-36 1.5h3m21 0h3m3 0h3m3 1.5h6m-15 1.5h3m9 0h3m-15 1.5h3m-33 1.5h3m9 0h3m12 0h3m-36 1.5h3m45 3h3m-48 1.5h3m-3 1.5h3m27 0h3m38 0h3m-77 3h3m122 0h3m-134 1.5h3m9 1.5h3m36 0h3m62 0h3m-104 3h3m36 0h3m-57 3h3m101 0h3m-107 1.5h3m0 1.5h3m39 0h3m9 0h3m-57 1.5h3m36 0h3m3 0h3m-30 4.5h3m-12 1.5h3m-6 1.5h3m12 1.5h6m21 0h3m6 0h3m8 0h3m18 0h6m-98 1.5h3m48 0h3m-33 1.5h3m15 0h3m32 0h3m3 0h3m-71 1.5h3m77 0h3m-53 1.5h3m-15 1.5h3m-33 1.5h3m3 0h3m3 0h3m45 0h3m29 0h3m-27 1.5h3m-35 1.5h3m-24 1.5h3m18 0h3m9 1.5h3m29 0h3m24 0h6m-110 1.5h3m21 1.5h3m9 0h3m3 0h3m20 0h3m6 0h3m33 0h3m-116 1.5h3m39 0h3m32 0h3m42 0h3m-15 1.5h3m-71 1.5h6m-33 1.5h3m74 0h3m12 0h3m-104 1.5h3m3 0h6m9 0h6m12 0h3m-3 1.5h3m-48 1.5h3m27 0h3m-9 1.5h3m-15 1.5h3m24 0h6m53 0h3m-68 1.5h3m6 0h6m56 0h3m-107 1.5h6m24 0h3m41 3h6m-71 1.5h3m3 1.5h3m6 0h3m89 0h3m-92 1.5h3m6 0h3m24 0h3m29 0h3m-38 1.5h3m3 0h2m-44 1.5h3m6 0h3m68 0h3m-77 1.5h3m53 0h3m21 0h3m-83 1.5h3m-24 1.5h3m6 1.5h3m-12 1.5h3m3 0h3m77 0h3m-56 1.5h3m-39 1.5h3m15 0h3m0 1.5h3m89 0h3m-74 1.5h3m80 0h3m-98 1.5h3m71 1.5h3m-80 1.5h3m32 0h3m-20 1.5h3m-24 1.5h3m0 1.5h3m15 0h3m53 0h3m-83 1.5h3m3 0h3m80 0h3m-83 3h3m6 0h3m-39 1.5h3m24 1.5h3m-24 3h3m24 0h6m-15 1.5h3m0 1.5h6m-30 3h3m21 0h3m6 0h3m-6 1.5h6m6 1.5h3m65 0h3m-101 3h3m15 0h3m-45 4.5h3m30 0h6m6 1.5h3m68 1.5h3m-119 1.5h3m12 0h3m27 0h3m-24 1.5h3m12 1.5h3m-42 1.5h3m3 0h3m24 0h6m77 0h3m-107 1.5h3m-15 1.5h3m3 0h3m-6 1.5h3m30 0h3m12 0h3m-21 1.5h3m6 0h3m-30 1.5h3m6 1.5h3m18 3h3m-42 3h3m6 0h3m6 0h3m18 1.5h3m-3 1.5h3m-42 1.5h6m21 0h3m65 0h3m27 0h3m-128 1.5h3m45 0h3m35 1.5h3m-83 1.5h3m24 0h3m12 0h3m29 0h3m15 0h3m-71 1.5h6m-27 1.5h3m68 0h3m-56 1.5h3m35 0h3m24 0h3m-101 1.5h3m6 0h3m-9 1.5h3m42 0h3m26 0h3m21 0h3m-98 1.5h3m80 0h3m-53 1.5h3m3 0h3m26 0h3m-35 1.5h3m50 0h3m3 0h3m-92 1.5h3m15 1.5h3m35 0h3m24 0h3m9 0h3m-3 1.5h3m3 0h3m-116 1.5h3m9 0h6m21 0h3m29 0h3m-32 1.5h6m-15 3h3m-3 1.5h3m47 0h3m6 0h3m-89 1.5h3m30 1.5h3m38 0h3m-50 3h3m9 0h3m68 0h3m3 1.5h3m-71 3h3m35 0h3m9 1.5h3m-50 4.5h3m-21 1.5h3m0 3h3m-39 1.5h3m24 0h6m6 0h3m-45 1.5h3m110 1.5h3m-119 1.5h3m6 0h3m12 0h3m9 0h3m-15 4.5h3m15 0h3m50 0h3m-86 1.5h3m39 0h3m-15 1.5h3m-18 1.5h3m6 0h3m32 1.5h3m9 1.5h3m3 0h3m-92 1.5h3m24 0h3m-30 3h3m12 0h3m12 0h6m15 0h3m-6 1.5h3m80 0h3m-89 1.5h3m-27 1.5h3m92 0h3m-113 1.5h3m12 0h3m6 0h3m0 3h3m-12 3h3m18 1.5h3m-33 1.5h3m24 0h3m-12 1.5h3m-24 1.5h6m18 0h6m3 0h3m-3 1.5h6m17 0h3m-32 1.5h3m0 3h6m71 0h3m-119 1.5h3m33 0h6m21 0h2m-23 1.5h3m53 0h3m-59 1.5h3m-24 1.5h3m77 0h3m-21 3h3m3 0h3m21 0h3m-74 1.5h3m-15 1.5h3m9 0h3m-39 1.5h3m86 0h3m-44 3h3m-60 1.5h3m-3 1.5h3m12 0h3m18 0h3m59 0h3m-92 3h3m15 0h3m9 1.5h3m-36 1.5h3m-6 1.5h3m21 0h3m27 0h3m-27 1.5h3m-33 3h3m12 0h3m-18 1.5h3m0 1.5h6m15 0h6m9 0h3m-24 3h3m30 0h3m-57 1.5h3m3 0h3m3 0h3m18 0h3m3 0h3m-27 1.5h3m15 1.5h9m3 0h6m-3 1.5h3m0 1.5h3m59 1.5h3m-107 3h6m18 0h3m3 0h3m-24 1.5h3m6 0h3m0 1.5h3m-24 1.5h3m21 0h3m6 0h3m-6 3h3m-36 1.5h3m18 0h3m3 0h3m-33 1.5h3m3 0h3m33 0h3m-15 1.5h3m-3 1.5h3m3 0h3m-12 6h3m-24 1.5h3m6 0h3m-9 1.5h3m12 0h3m15 0h3m62 0h3m-113 1.5h3m15 0h3m21 0h3m74 0h3m-110 1.5h3m21 0h3m-33 1.5h3m12 0h3m15 0h3m6 0h3m-42 1.5h6m3 0h3m24 0h3m-30 1.5h3m12 0h3m18 0h3m-12 3h3m-39 1.5h3m21 0h3m12 0h3m-36 1.5h3m30 0h3m38 0h3m-92 1.5h3m6 0h3m77 0h3m0 1.5h3m-65 1.5h3m3 0h6m6 0h3m-12 1.5h3m6 0h3m41 1.5h3m-92 1.5h3m36 0h3m-21 1.5h3m15 0h3m-45 1.5h3m24 1.5h6m12 0h3m-42 1.5h3m3 0h3m6 0h3m15 0h3m21 0h3m-42 3h3m6 0h3m56 0h3m6 0h3m-92 1.5h3m6 0h3m12 0h3m24 1.5h3m-60 1.5h3m36 0h3m-21 1.5h3m-15 1.5h3m3 0h3m50 0h3m15 0h3m-74 1.5h3m12 0h3m-30 1.5h3m30 0h3m3 0h3m3 1.5h3m9 0h2m33 0h3m-101 1.5h3m15 0h3m68 0h3m-89 1.5h3m18 0h3m56 0h3m-83 1.5h9m3 0h3m30 0h3m-36 1.5h3m3 0h3m-9 1.5h3m15 0h3m3 0h6m41 0h3m-89 1.5h3m12 0h3m65 0h3m-50 1.5h3m3 0h3m-33 1.5h3m3 0h3m21 0h6m3 0h3m-21 1.5h3m50 0h3m-83 1.5h6m12 0h3m3 1.5h3m9 0h3m-30 1.5h3m6 0h3m-12 1.5h3m3 0h3m18 0h3m-39 1.5h3m39 0h3m-48 1.5h3m77 0h3m-83 1.5h3m33 0h3m-36 1.5h3m18 0h3m12 0h3m-12 1.5h3m53 0h3m-83 1.5h3m9 0h3m-9 1.5h3m12 0h3m-30 1.5h3m33 0h3m44 0h3m-80 1.5h3m24 0h3m74 0h3m-89 1.5h3m18 0h6m-36 6h3m18 0h3m-9 3h3m68 0h3m-110 6h3m39 0h3m-36 1.5h3m24 0h3m29 1.5h3m27 0h3m30 0h3m-33 1.5h3m-41 3h3m47 0h3m15 0h3m-57 1.5h3m15 0h12m-44 1.5h3m8 0h3m51 0h6m-57 1.5h3m6 0h3m9 0h3m6 0h3m18 0h3m0 1.5h3m-42 1.5h3m-35 1.5h3m41 0h3m12 1.5h6m3 0h3m-116 1.5h3m50 0h3m9 0h3m12 0h3m3 0h3m-3 1.5h3m3 0h3m6 0h3m-119 1.5h3m80 0h3m3 0h3m9 0h3m-6 1.5h3m-18 1.5h3m-26 1.5h3m23 0h3m24 0h3m3 0h3m-107 1.5h3m53 0h3m30 0h3m-15 1.5h3m15 0h3m18 0h3m-24 1.5h3m-98 1.5h3m71 0h3m21 0h3m-74 1.5h3m15 0h3m8 0h3m27 0h3m-18 1.5h3m9 0h6m-41 1.5h3m41 0h3m-39 1.5h3m9 0h3m3 0h3m12 0h3m6 1.5h9m-39 1.5h3m27 0h3m3 0h3m-107 1.5h3m42 0h6m32 0h6m-41 1.5h3m35 0h3m18 0h3m-65 1.5h3m23 0h3m15 0h3m18 1.5h3m-113 1.5h3m89 0h3m9 0h3m-21 1.5h3m-38 1.5h2m21 1.5h3m30 0h3m-51 1.5h3m21 0h3m15 0h3m3 0h3m-39 3h3m9 0h3m-30 1.5h3m36 0h3m-3 1.5h3m12 0h3m-68 1.5h3m8 0h6m6 0h3m24 0h3m6 0h6m-39 1.5h3m6 0h3m-98 1.5h3m92 0h3m-18 1.5h3m24 0h3m-33 1.5h3m27 0h3m-21 1.5h3m27 0h3m3 0h3m-68 1.5h3m38 0h3m6 0h3m-9 1.5h3m-33 1.5h3m6 0h3m15 0h3m6 0h3m18 0h3m-80 1.5h3m6 0h3m14 0h3m9 0h6m9 0h3m-33 1.5h3m24 0h3m12 0h3m3 0h3m3 0h3m-125 1.5h3m101 0h3m-42 1.5h3m24 0h6m6 0h3m3 0h3m9 0h3m-63 1.5h3m12 0h6m9 0h3m9 0h3m-9 1.5h3m3 1.5h3m15 1.5h3m-134 1.5h3m48 0h3m6 0h3m20 0h3m9 0h3m21 0h3m-62 1.5h3m3 0h2m9 0h3m48 0h3m-21 1.5h3m3 0h3m6 0h3m-21 1.5h3m12 0h3m-18 1.5h3m15 0h3m-128 3h3m86 0h3m18 0h3m-71 1.5h3m12 0h3m8 0h3m6 0h3m6 0h6m12 0h3m6 0h3m-56 1.5h3m11 0h3m39 0h3m3 0h3m-83 1.5h3m15 0h3m5 0h3m27 0h3m3 0h3m3 0h3m-39 1.5h3m9 0h3m33 0h9m-95 1.5h3m38 0h3m48 0h3m-68 1.5h3m8 0h3m27 0h3m15 0h3m6 0h3m-66 1.5h3m3 0h3m18 0h3m9 0h3m-27 1.5h3m6 0h3m15 0h3m-98 1.5h3m18 0h3m41 0h3m45 0h3m-71 1.5h3m26 0h3m15 0h3m15 0h3m-86 1.5h3m23 0h3m39 0h6m-77 1.5h3m89 0h3m-92 1.5h3m23 0h3m12 0h3m6 0h3m36 0h3m-89 1.5h3m12 0h6m8 0h6m15 0h3m6 0h3m6 0h3m12 0h3m-57 1.5h3m3 0h3m30 0h3m6 0h3m-57 1.5h3m6 0h3m3 0h6m-21 1.5h3m9 0h12m21 0h3m6 0h3m-51 1.5h3m6 0h6m15 0h3m3 0h3m3 0h3m-27 1.5h3m-53 1.5h3m21 0h2m15 0h3m-12 1.5h3m27 0h6m3 0h3m6 0h3m3 0h3m-68 1.5h3m5 0h9m6 0h6m12 0h3m6 0h3m-53 1.5h3m8 0h3m27 0h3m6 0h3m-42 1.5h3m15 0h3m-32 1.5h3m17 0h3m33 0h3m-51 1.5h3m45 0h3m9 0h3m-71 1.5h3m5 0h6m12 0h6m6 0h3m21 0h3m-89 1.5h3m35 0h3m3 0h3m45 0h3m-63 1.5h3m3 0h3m6 0h3m9 0h3m27 0h6m-33 1.5h3m6 0h3m-18 1.5h3m-27 1.5h3m9 0h3m-20 1.5h5m33 0h3m-36 1.5h3m3 1.5h3m12 0h9m9 0h6m-9 1.5h3m12 0h3m-45 1.5h3m12 0h3m3 0h3m6 0h3m-53 1.5h3m50 0h3m-50 1.5h2m3 0h3m9 0h3m33 0h3m-59 1.5h3m26 0h3m6 0h3m18 0h3m-48 1.5h3m21 0h3m18 1.5h3m-65 1.5h3m20 0h3m6 0h3m-3 1.5h3m21 0h3m-56 1.5h3m32 0h9m3 0h3m12 0h3m-74 1.5h3m26 0h3m12 0h3m12 0h3m12 0h3m-45 1.5h3m-35 1.5h3m3 0h3m-63 1.5h3m30 0h3m21 0h3m56 0h3m-71 1.5h3m62 0h3m15 0h3m-119 1.5h3m53 0h3m3 3h3m6 0h6m15 0h3m9 0h3m9 0h3m-74 1.5h3m56 0h3m6 0h3m-92 1.5h3m-24 1.5h3m45 0h2m54 0h3m-110 1.5h3m56 0h6m6 0h3m42 0h3"/>
<path fill="none" stroke="#8a252b" stroke-width="1.5" d="M111 48.75h3m-24 1.5h3m27 12h3m-30 4.5h3m24 1.5h3m-36 1.5h3m24 1.5h3m-36 9h3m36 6h3m-39 4.5h3m24 0h3m-21 13.5h3m-9 1.5h3m30 1.5h3m-6 1.5h3m0 4.5h3m-12 3h9m-39 7.5h3m36 6h3m-30 6h3m6 1.5h3m12 7.5h3m-3 3h3m-27 1.5h3m-15 1.5h3m0 4.5h3m15 0h3m3 0h9m0 6h6m-39 3h3m6 0h3m24 0h3m-45 4.5h3m30 0h3m-27 4.5h3m3 1.5h3m-15 6h3m3 3h3m-6 9h3m9 0h3m-9 1.5h3m-6 9h3m24 0h3m3 0h3m-42 1.5h3m6 1.5h3m-6 1.5h3m-12 4.5h3m15 0h3m-3 3h3m18 3h6m-30 1.5h3m24 0h3m-42 4.5h6m0 1.5h3m0 1.5h3m-6 1.5h3m-9 1.5h3m12 1.5h3m89 1.5h3m-95 1.5h3m21 1.5h3m-6 1.5h3m-6 1.5h3m-30 1.5h3m30 0h3m-33 1.5h3m3 0h6m12 0h3m-24 1.5h3m-27 1.5h3m42 0h3m-42 7.5h6m36 9h3m-9 3h3m3 0h3m-42 1.5h3m33 0h3m-36 6h6m3 0h3m0 3h3m-18 1.5h3m36 0h3m-36 12h3m6 0h3m18 0h3m-36 1.5h3m0 3h3m3 7.5h3m-9 1.5h3m0 3h6m-3 4.5h3m18 0h6m-27 1.5h3m21 0h3m-30 3h6m24 0h3m-33 4.5h3m21 0h3m-18 3h3m15 0h3m-27 1.5h3m-3 4.5h3m24 4.5h3m-9 1.5h3m-3 1.5h3m-27 3h3m27 1.5h3m-9 3h3m-39 7.5h3m6 1.5h3m3 4.5h3m18 0h3m-3 3h3m-21 1.5h3m24 1.5h3m-36 4.5h3m-12 1.5h3m9 3h3m-3 3h3m-6 1.5h3m-12 1.5h3m24 0h3m-18 1.5h3m24 0h3m-42 1.5h3m0 1.5h3m6 3h3m24 0h3m-42 1.5h3m12 0h3m-21 1.5h3m12 0h3m24 3h3m-33 1.5h3m-12 1.5h3m33 1.5h3m-36 1.5h3m-6 3h3m36 1.5h3m-18 3h3m-30 3h3m3 1.5h3m6 0h3m18 3h3m-33 1.5h3m27 7.5h3m6 4.5h3m-6 1.5h6m-39 4.5h3m-12 7.5h3m15 0h3m21 0h3m-33 3h3m12 0h3m9 0h3m0 6h6m-36 1.5h3m3 0h3m24 1.5h3m-12 1.5h3m6 0h3m-42 3h3m6 0h3m3 0h3m12 0h3m-33 1.5h3m3 0h3m-18 3h3m24 0h3m-36 4.5h3m48 1.5h3m-33 1.5h3m3 0h3m-24 3h3m6 0h3m9 0h3m15 0h3m-30 1.5h3m-21 3h3m-3 1.5h3m21 1.5h3m27 0h3m-9 4.5h3m-15 22.5h3m9 1.5h6m-21 1.5h3m12 4.5h3m3 3h3m-39 1.5h3m3 1.5h3m24 0h3m-27 1.5h3m-9 1.5h3m9 0h3m-15 12h3m18 3h3m9 7.5h3m-54 1.5h3m48 6h3m-45 9h3m12 0h6m-3 4.5h3m21 10.5h3m-9 1.5h3m-30 1.5h3m30 1.5h3m-9 1.5h3m3 4.5h3m-36 3h3m24 4.5h3m3 0h3m-3 1.5h3m-21 12h3m-24 1.5h3m9 0h3m6 0h3m-3 1.5h3m3 0h3m-3 1.5h3m-9 3h3m-12 1.5h3m-6 3h3m3 0h3m83 3h3m-62 16.5h3m-3 4.5h8m-5 1.5h3m29 0h3m-32 4.5h2m63 9h3m-63 10.5h3m6 0h3m-3 6h3m-20 3h3m-3 3h3m14 1.5h3m0 19.5h3m-3 1.5h3m9 0h3m-12 1.5h6m-21 4.5h3m9 0h3m9 0h3m6 0h3m-47 1.5h3m5 0h3m-5 1.5h2m27 0h3m30 1.5h3m-63 4.5h3m-5 1.5h2m21 27h3m-9 3h3m9 1.5h3m27 0h3m-24 12h3m-27 15h3m-6 1.5h3m30 0h3m-42 1.5h3m21 0h3m-30 3h3m6 0h3m51 1.5h3m-68 7.5h2m-5 3h3m23 1.5h3"/>
<path fill="none" stroke="#632428" stroke-width="1.5" d="M120 48.75h3m-39 1.5h3m12 0h6m6 1.5h6m3 0h3m-39 3h3m33 0h3m-9 1.5h6m-51 3h3m18 0h3m18 0h3m-9 3h3m-24 1.5h3m3 0h3m-3 3h3m-18 4.5h3m24 0h3m-30 3h3m15 0h6m-18 3h3m33 0h3m-36 1.5h6m12 0h3m-18 1.5h3m-9 1.5h3m50 3h3m-56 1.5h3m18 0h3m12 0h3m-36 3h3m0 1.5h3m-27 3h3m18 0h3m-9 1.5h6m9 0h3m12 0h3m-9 3h3m3 0h3m-48 3h3m21 0h6m18 1.5h3m-18 1.5h3m3 0h3m15 0h3m-33 1.5h3m-9 1.5h3m15 1.5h3m12 1.5h3m-15 3h3m-33 1.5h3m80 0h3m-77 1.5h3m-12 1.5h3m3 0h3m9 0h3m3 0h3m12 0h3m-15 1.5h3m-12 3h3m12 1.5h3m-24 3h3m-3 1.5h3m86 3h3m-68 1.5h3m-27 1.5h6m3 0h3m-36 1.5h3m18 1.5h6m0 1.5h3m-12 3h3m18 1.5h3m9 1.5h3m-6 1.5h3m3 0h3m-18 3h3m15 0h3m-54 1.5h3m30 0h3m-27 1.5h3m-15 1.5h3m36 0h3m-42 1.5h3m27 0h3m-27 1.5h3m12 0h3m21 0h6m-45 1.5h3m15 0h3m18 0h3m-48 1.5h3m36 0h3m3 1.5h3m-33 1.5h3m-9 3h3m9 1.5h3m-15 3h3m12 1.5h3m83 0h3m-101 1.5h3m12 0h3m-21 1.5h3m30 0h3m-30 1.5h3m80 0h3m-101 3h3m30 0h3m-33 1.5h3m21 0h3m-12 1.5h3m15 0h3m12 1.5h3m-48 3h3m21 1.5h3m-9 4.5h3m-27 3h3m18 0h6m-9 1.5h3m9 0h3m12 0h3m-33 1.5h3m6 0h3m-3 1.5h3m21 0h3m-18 1.5h3m-36 1.5h3m3 0h6m24 0h3m3 3h6m-45 3h3m24 0h3m-12 1.5h3m9 1.5h3m-15 1.5h3m15 0h9m-45 3h3m24 0h3m-33 1.5h3m3 0h3m12 1.5h3m6 0h3m-30 1.5h3m36 0h3m-12 1.5h3m12 3h3m-9 1.5h3m3 4.5h3m53 1.5h3m-101 1.5h3m9 0h3m12 0h3m15 0h3m-18 4.5h3m-18 3h3m-24 1.5h3m6 1.5h6m15 0h3m-9 1.5h3m-3 3h3m15 0h3m-33 1.5h3m12 0h3m-12 1.5h3m6 1.5h3m-27 1.5h3m18 0h3m6 0h6m38 1.5h3m-32 1.5h3m12 0h2m-41 1.5h3m-18 1.5h3m12 0h3m-3 1.5h3m0 1.5h3m12 0h3m-42 1.5h3m-3 1.5h3m27 0h3m6 0h3m9 1.5h3m-42 1.5h3m18 1.5h3m-24 1.5h3m-21 4.5h3m9 0h3m24 0h6m3 0h3m-27 4.5h3m24 3h3m-12 3h3m-15 3h3m0 1.5h3m-3 1.5h3m-18 1.5h6m6 0h3m-9 3h3m6 0h3m15 0h3m-36 1.5h3m110 3h3m-95 1.5h3m-9 3h3m-21 1.5h3m24 4.5h3m-18 6h3m24 1.5h3m74 3h3m-39 1.5h3m-53 1.5h3m-24 1.5h3m3 0h3m3 0h3m-9 1.5h3m21 0h3m-51 1.5h3m30 0h3m-24 3h3m30 0h3m-51 3h3m30 0h6m-15 3h3m12 0h3m-27 1.5h3m33 0h3m-3 1.5h3m-30 1.5h3m-30 1.5h3m45 0h3m-12 1.5h3m-15 3h3m-24 3h3m-9 1.5h3m27 0h3m9 0h3m-36 1.5h6m12 0h3m24 1.5h3m38 0h3m-83 1.5h3m9 0h3m27 0h3m-45 1.5h6m21 0h3m3 0h3m-33 1.5h3m6 0h3m-27 3h3m6 0h3m12 1.5h3m86 0h3m-116 1.5h3m6 0h3m-15 1.5h3m15 1.5h3m3 1.5h3m24 3h3m-21 3h3m0 1.5h6m12 0h3m38 0h3m-92 3h3m3 0h3m27 0h3m-33 1.5h3m89 0h3m-71 4.5h3m9 1.5h3m68 1.5h3m-83 3h3m-21 4.5h3m6 0h3m-33 1.5h3m-3 3h3m6 0h3m15 0h3m6 0h3m-39 1.5h3m-3 1.5h3m6 0h3m18 0h3m6 0h3m3 0h3m-24 1.5h3m0 1.5h3m-15 1.5h3m36 0h3m-45 1.5h3m33 0h3m0 1.5h3m-24 1.5h3m-33 1.5h3m27 0h3m15 0h3m-39 1.5h3m24 0h6m-24 1.5h3m6 0h3m15 0h3m53 0h3m-12 1.5h3m-44 1.5h3m-39 4.5h6m9 1.5h3m18 0h3m-39 1.5h3m30 1.5h6m-18 1.5h3m-18 1.5h3m21 0h6m-39 1.5h3m18 0h3m-18 3h3m9 1.5h3m-18 3h3m3 0h3m3 1.5h3m18 0h3m-51 3h3m6 0h3m21 0h3m-15 1.5h6m21 0h3m-6 1.5h3m6 0h3m-54 3h3m33 0h3m3 0h3m-36 3h3m36 1.5h3m-48 1.5h3m9 0h3m15 0h3m12 0h3m-45 1.5h3m-3 1.5h3m33 0h3m-6 1.5h3m-36 1.5h3m24 0h3m12 0h3m-12 3h3m6 0h3m-57 1.5h6m9 0h3m18 0h3m6 0h3m-6 1.5h3m3 0h3m-30 1.5h9m-21 1.5h3m18 1.5h3m0 3h3m-27 1.5h3m27 0h3m-36 1.5h3m12 1.5h3m30 0h3m-6 1.5h3m-48 1.5h3m24 0h3m-27 1.5h3m24 0h3m-30 1.5h3m30 0h3m-42 1.5h3m18 1.5h3m3 0h3m-15 1.5h3m21 1.5h3m-12 1.5h3m12 0h6m-15 3h3m-6 3h3m-6 1.5h3m12 0h6m-27 1.5h3m21 1.5h3m-15 1.5h3m-33 1.5h3m15 0h3m-18 1.5h6m9 0h6m9 0h3m6 0h3m-45 1.5h3m24 0h3m-30 1.5h3m3 0h3m3 0h3m-15 1.5h9m18 0h3m-18 1.5h3m27 3h3m3 0h3m-9 1.5h3m-12 1.5h6m-36 1.5h3m3 0h3m6 0h3m-15 3h3m0 1.5h3m3 1.5h3m9 0h3m9 0h3m-39 1.5h3m15 0h3m-3 1.5h3m18 1.5h3m-9 1.5h3m-48 4.5h3m27 0h3m-21 1.5h3m-9 1.5h3m39 0h9m-21 4.5h3m12 1.5h3m-3 1.5h3m-9 1.5h3m6 3h3m-48 1.5h3m18 0h3m6 0h3m3 0h3m-39 3h3m15 0h3m24 0h3m6 3h3m38 0h3m9 0h3m-110 1.5h3m6 0h3m24 0h3m3 0h6m0 1.5h3m-24 1.5h3m-30 3h3m36 0h3m3 3h3m32 0h3m-59 1.5h3m15 0h3m-27 1.5h3m9 0h3m-24 1.5h3m30 0h9m-6 1.5h3m-27 1.5h3m-15 3h3m6 0h3m-12 3h3m6 0h3m-6 1.5h3m6 0h3m15 1.5h3m-33 1.5h3m0 6h3m30 0h3m-45 1.5h3m9 1.5h3m-15 3h3m18 0h3m-24 6h3m24 1.5h3m15 6h3m23 0h3m9 0h3m15 0h3m-51 1.5h3m6 0h3m6 0h3m9 0h3m-15 1.5h6m0 1.5h3m-35 4.5h6m17 0h3m18 0h3m3 0h6m6 0h3m-54 1.5h3m39 0h3m15 0h3m-57 1.5h3m15 0h6m6 0h3m18 0h6m-60 9h3m27 0h3m-39 1.5h3m12 1.5h3m42 0h3m-36 1.5h3m-3 1.5h3m-27 1.5h3m54 0h3m-68 1.5h3m2 0h3m27 0h3m3 0h3m-47 1.5h3m17 0h3m15 1.5h3m-41 1.5h3m68 0h3m-51 1.5h3m3 0h3m-32 1.5h3m8 0h3m54 0h3m-65 1.5h2m0 1.5h6m3 0h3m18 1.5h3m-41 1.5h3m26 0h3m3 0h3m3 0h3m3 0h3m3 0h3m15 0h3m-48 3h3m-21 1.5h3m-3 1.5h3m6 0h3m6 0h3m-3 1.5h3m24 0h3m-30 1.5h3m6 0h3m-38 3h3m23 0h3m18 0h3m21 0h3m-54 1.5h3m33 1.5h3m-3 1.5h3m9 0h6m-68 4.5h2m15 0h3m33 0h3m-54 1.5h3m15 0h3m9 0h3m-21 3h3m6 1.5h3m3 0h3m6 0h6m3 0h3m12 0h3m-33 1.5h3m-18 1.5h3m-6 1.5h3m-3 1.5h3m12 0h3m-32 1.5h5m6 0h3m51 0h3m-57 1.5h3m6 0h3m9 0h3m3 0h3m9 0h3m-3 1.5h3m12 0h3m-60 1.5h3m15 0h3m21 0h3m9 0h3m-63 3h3m-11 4.5h3m11 0h3m45 0h3m-18 1.5h3m9 0h3m3 0h3m-68 1.5h3m32 0h3m-44 1.5h3m53 0h3m-12 3h3m15 0h3m-24 1.5h3m-12 1.5h6m-6 1.5h3m9 0h3m-15 3h3m9 0h3m21 0h3m3 0h3m-68 3h2m6 0h3m39 0h3m9 0h6m-45 1.5h3m15 3h3m-27 1.5h3m33 0h3m-39 1.5h3m3 1.5h3m9 1.5h3m12 0h3m-48 1.5h3m21 0h3m27 0h3m-89 1.5h3m24 0h2m33 0h3m-15 1.5h3m24 0h3m-59 1.5h3m20 1.5h3m12 0h3m24 0h3m-57 1.5h3m33 0h3m18 0h3m-54 1.5h3m-14 1.5h2m27 0h3m6 0h3m9 0h3m-30 1.5h3m3 0h3m12 0h3m-36 1.5h3m48 0h3m-68 1.5h3m0 3h2m3 0h3m51 0h6m-45 1.5h3m18 0h3m-3 1.5h3m21 0h3m-63 1.5h3m3 0h3m48 0h3m-42 1.5h3m-6 1.5h6m-12 1.5h6m3 0h3m24 0h3m-30 1.5h3m6 3h3m-33 3h3m24 0h6m-41 1.5h3m5 0h3m18 0h3m3 0h3m6 0h3m12 1.5h6m3 0h3m-68 1.5h3m8 0h3m45 0h6m-57 1.5h3m15 0h3m0 1.5h3m-35 1.5h3m14 0h3m39 0h3m6 0h3m-68 1.5h3m14 0h3m15 0h3m-35 1.5h2m21 0h3m6 0h3m27 0h3m-71 4.5h3m41 0h3m15 0h3m-57 1.5h3m27 1.5h3m-27 1.5h3m9 0h3m-3 1.5h3m27 0h3m6 0h3m-65 1.5h3m14 0h3"/>
<path fill="none" stroke="#4d663a" stroke-width="1.5" d="M123 48.75h3m11 0h6m-17 1.5h3m29 0h3m3 0h3m-30 1.5h3m51 0h3m-39 1.5h6m15 0h3m-53 1.5h3m11 0h3m-6 1.5h6m21 0h3m24 0h3m-68 3h3m32 0h3m-27 1.5h3m6 0h3m-3 1.5h3m30 0h3m-21 1.5h3m-27 1.5h3m-17 1.5h3m8 0h3m42 0h3m-53 1.5h2m18 0h3m15 0h3m12 0h3m3 0h3m-45 1.5h3m12 0h3m-35 1.5h2m3 0h3m12 0h3m3 0h3m9 0h6m3 0h3m-56 1.5h3m11 0h3m48 0h3m-68 1.5h3m23 0h6m18 0h3m18 3h3m-63 1.5h3m6 0h3m27 0h3m9 1.5h3m-6 1.5h3m-62 1.5h6m5 0h3m18 0h6m9 0h3m-9 1.5h3m-27 1.5h3m9 0h3m27 0h6m-65 1.5h3m35 1.5h3m-15 1.5h3m30 1.5h6m-62 1.5h3m14 0h3m48 1.5h3m-66 1.5h3m6 1.5h3m9 0h3m-15 1.5h3m51 0h3m-51 1.5h3m-15 3h3m9 0h6m24 0h3m0 1.5h3m-42 1.5h3m33 1.5h3m15 0h3m-27 1.5h3m15 1.5h3m3 0h3m-60 1.5h3m-11 1.5h2m6 0h3m-17 1.5h3m3 0h2m36 0h6m15 0h3m-6 1.5h6m-65 1.5h3m11 0h3m-20 1.5h3m56 0h3m0 1.5h3m3 0h3m-57 1.5h3m33 0h3m6 0h3m-24 1.5h3m30 0h3m-36 1.5h6m6 0h6m12 0h3m-48 1.5h3m27 0h3m9 0h3m-3 1.5h3m-68 3h3m56 0h3m-62 1.5h6m2 0h3m30 0h3m6 1.5h3m-39 3h3m39 0h3m-56 1.5h3m38 0h6m-47 1.5h3m32 0h3m-24 1.5h3m9 0h3m27 0h3m-56 1.5h2m0 1.5h3m30 0h3m3 1.5h3m9 0h3m3 0h3m-3 3h3m-15 1.5h3m15 0h3m-68 1.5h2m15 0h3m24 0h3m6 0h3m-56 4.5h2m6 0h6m0 3h3m-15 3h3m3 0h3m-14 1.5h3m17 0h9m30 0h3m3 1.5h3m-18 1.5h3m6 1.5h3m6 1.5h3m-74 1.5h3m20 0h3m-23 1.5h3m29 0h3m3 0h3m3 0h3m3 6h3m15 0h3m-57 1.5h3m15 0h3m9 0h3m-50 1.5h3m3 0h2m6 0h3m6 0h3m6 0h3m6 0h6m9 0h3m3 0h6m-36 3h3m27 0h3m-57 1.5h6m39 0h3m12 0h3m-45 1.5h3m12 4.5h3m12 0h3m-33 1.5h3m21 0h3m-30 1.5h3m9 0h3m33 1.5h3m-51 3h3m-23 1.5h3m17 0h3m39 0h3m-68 1.5h3m44 1.5h3m-3 3h3m3 0h3m-42 3h3m33 0h6m9 0h3m-30 1.5h3m-21 1.5h3m27 0h3m9 0h3m-24 1.5h3m-44 1.5h3m26 0h3m9 0h3m27 0h3m-54 1.5h3m24 0h3m9 0h3m-62 1.5h3m20 0h3m6 0h3m12 0h3m12 0h3m3 1.5h3m-57 1.5h3m6 0h3m12 1.5h3m-33 1.5h3m30 0h3m15 0h3m-24 3h3m27 1.5h3m0 33h3m-6 1.5h3m-60 6h3m48 0h3m-24 3h3m6 1.5h3m-53 6h3m3 0h2m51 0h6m-51 1.5h3m21 0h3m18 0h3m-36 1.5h3m0 1.5h3m21 0h3m-48 1.5h3m3 1.5h3m27 3h3m-36 1.5h3m24 0h3m-15 1.5h3m-23 3h2m27 0h3m-12 1.5h3m3 0h3m6 0h3m-9 4.5h3m-24 1.5h3m45 1.5h3m-39 1.5h3m3 0h6m6 0h3m-9 1.5h3m3 1.5h3m-39 1.5h3m21 0h3m9 0h3m-12 1.5h3m12 1.5h3m-33 1.5h3m3 0h3m15 0h3m-27 1.5h3m0 1.5h3m18 3h3m-39 1.5h3m18 0h3m27 0h3m-30 1.5h3m36 0h3m-68 1.5h2m45 0h3m-53 3h3m23 1.5h3m18 3h3m-21 1.5h3m-15 1.5h3m36 1.5h3m6 1.5h3m-48 1.5h6m6 0h3m6 0h3m15 0h3m-62 1.5h3m8 3h3m21 0h3m-15 1.5h3m12 0h3m3 0h6m-24 1.5h3m30 1.5h3m6 0h3m-66 1.5h3m54 0h3m-54 6h3m-14 6h3m26 3h3m-32 4.5h3m0 7.5h2m30 15h3m-41 1.5h3m65 0h3m-57 1.5h6m24 1.5h3m15 0h3m-27 3h3m18 0h6m3 0h3m-12 1.5h3m-51 1.5h3m12 0h3m3 0h3m15 1.5h3m-45 1.5h3m12 0h3m45 0h3m-60 1.5h3m-11 1.5h2m9 0h3m3 0h3m-18 1.5h3m12 0h3m39 0h3m-9 4.5h3m9 1.5h3m-54 1.5h3m9 0h3m3 0h3m30 0h3m-92 1.5h3m-36 1.5h3m48 0h3m8 0h3m48 0h6m-51 1.5h3m3 1.5h3m39 0h3m-54 3h6m6 0h3m42 0h3m-71 1.5h3m59 0h3m-65 1.5h3m8 1.5h3m45 0h3m6 0h3m-18 1.5h3m6 0h6m-42 1.5h3m3 0h3m18 0h3m9 1.5h3m-48 3h3m21 1.5h3m21 0h3m-74 1.5h6m5 0h3m30 0h3m-9 1.5h3m12 0h3m-56 1.5h3m14 0h3m3 1.5h6m15 0h3m12 0h3m-39 1.5h3m39 0h3m-68 1.5h3m23 0h3m21 0h3m18 0h3m-60 1.5h3m9 4.5h3m21 0h3m6 0h3m-42 3h3m6 0h3m15 0h3m-30 1.5h3m-9 1.5h3m30 0h3m-36 1.5h6m27 0h3m3 0h3m15 0h3m-24 1.5h3m18 0h3m-45 1.5h3m-15 1.5h3m6 1.5h3m39 1.5h3m-3 1.5h3m-6 1.5h3m-57 3h3m18 0h3m18 0h3m12 0h3m-18 1.5h3m15 0h3m-27 1.5h3m-44 1.5h5m33 0h3m24 1.5h3m-66 1.5h3m15 0h3m21 1.5h3m-36 1.5h3m36 0h3m-24 1.5h6m9 0h3m15 0h6m-71 1.5h3m5 0h3m30 0h3m-39 1.5h3m21 0h6m3 0h3m3 0h3m12 0h3m-68 1.5h3m8 0h3m15 1.5h3m-23 1.5h2m42 0h6m3 0h3m-3 1.5h3m-51 1.5h3m54 0h3m-68 1.5h3m17 0h3m21 0h3m9 0h3m-9 1.5h6m6 0h3m-54 1.5h3m18 0h3m21 0h3m-45 1.5h3m30 3h3m-24 1.5h3m30 0h3m-36 1.5h3m12 0h3m18 0h3m3 1.5h3m-128 1.5h3m51 0h3m5 0h3m-5 1.5h2m12 0h3m6 0h3m39 0h3m-68 1.5h2m15 0h3m15 0h3m6 0h3m-15 1.5h3m-24 3h6m-15 1.5h3m3 0h3m9 0h3m15 0h3m3 0h3m-45 6h3m0 1.5h3m36 0h3m-12 1.5h3m15 0h3m-51 1.5h6m27 1.5h3m-39 1.5h3m-3 1.5h3m33 0h3m-6 1.5h3m3 0h3m-39 1.5h6m3 0h3m39 0h3m-48 1.5h3m18 0h3m18 0h3m-27 3h3m-38 1.5h3m32 0h3m-18 1.5h3m12 0h3m-38 1.5h3m35 3h6m6 0h6m-36 1.5h3m0 1.5h3m21 0h3m12 0h3m-65 1.5h3m35 0h6m9 3h6m3 0h3m6 0h3m-74 1.5h3m44 0h9m-27 1.5h3m-12 1.5h3m21 0h3m-39 3h3m3 0h3m18 0h3m9 0h3m-39 1.5h3m36 0h3m-53 3h3m47 0h3m-6 3h3m9 0h3m-21 1.5h6m-33 1.5h3m18 0h3m21 0h3m-39 1.5h3m-6 1.5h3m30 0h3m-33 3h3m36 1.5h3m6 0h3m-74 1.5h3m17 0h6m-12 1.5h3m18 0h6m3 0h3m6 0h3m3 0h3m3 0h3m-24 1.5h3m3 0h3m-45 1.5h3m9 0h3m15 3h3m18 1.5h3m-27 1.5h3m21 0h3m6 0h3m-15 1.5h3m6 0h3m-42 1.5h3m-18 6h3m24 0h3m15 0h3m-33 1.5h3m9 0h3m-24 1.5h3m45 0h3m-125 1.5h3m77 1.5h3m45 0h3m-74 1.5h3m41 0h3m-68 3h3m-30 1.5h3m39 0h3m-39 3h3m27 0h3m-12 1.5h3m9 0h9m-9 1.5h6m-12 1.5h9m-42 1.5h3m24 0h3m12 0h3m-6 1.5h3m-36 1.5h3m36 0h3m-42 3h3m30 0h3m-24 3h3m24 0h3m-42 3h3m36 1.5h3m-12 3h3m-45 1.5h3m36 1.5h3m3 0h3m-30 3h6m-24 1.5h3m12 1.5h3m24 0h3m6 1.5h3m-39 1.5h3m-12 1.5h3m42 0h3m-30 4.5h3m-15 1.5h3m71 1.5h3m-71 1.5h3m-27 1.5h3m21 1.5h3m-6 1.5h3m-3 1.5h3m6 0h3m-30 1.5h3m51 0h3m-36 1.5h3m0 1.5h6m18 0h3m-51 4.5h3m51 0h3m-48 1.5h3m6 1.5h3m12 1.5h3m-36 1.5h3m45 0h3m-36 1.5h3m6 1.5h3m21 1.5h3m-51 4.5h3m-3 1.5h3m6 1.5h3m21 0h3m18 0h3m11 1.5h3m18 0h3m-74 1.5h3m30 1.5h3m-33 1.5h3m21 0h3m6 0h3m-48 1.5h3m9 0h6m-24 12h3m24 4.5h3m-18 1.5h3m15 0h3m-30 1.5h3m21 3h3m-6 7.5h3m-24 4.5h3m6 0h3m36 3h3m-30 3h3m-24 1.5h3m42 0h3m-45 4.5h3m15 0h3m-30 1.5h3m-3 1.5h3m51 0h3m-42 1.5h3m3 0h3m6 0h3m-15 1.5h3m-24 3h3m48 0h3m-48 1.5h3m42 0h3m-24 1.5h3m-9 6h3m3 1.5h3m15 0h6m-51 1.5h3m9 0h3m3 1.5h3m18 0h3m-39 1.5h3m21 0h3m18 0h3m-30 1.5h3m-6 9h6m3 3h3m-6 1.5h3m-3 1.5h3m3 0h3"/>
<path fill="none" stroke="#5e8042" stroke-width="1.5" d="M126 48.75h3m-6 1.5h3m35 0h3m9 0h3m15 4.5h3m-48 4.5h3m42 0h3m0 3h3m-57 3h3m-20 3h3m11 0h3m33 0h3m-36 1.5h3m27 0h3m-12 1.5h3m0 1.5h3m-36 1.5h3m48 0h3m-42 1.5h3m6 3h3m30 0h3m-48 1.5h3m48 1.5h3m-57 1.5h3m27 0h3m24 0h3m-15 1.5h3m-36 3h3m-23 1.5h2m39 1.5h3m-47 1.5h3m14 0h3m3 1.5h3m42 3h3m-15 1.5h3m-21 3h3m6 0h3m-42 1.5h3m12 0h3m-9 1.5h3m-9 1.5h3m27 0h3m3 0h3m15 0h6m-57 3h3m39 0h3m3 0h3m-51 1.5h3m3 0h3m-3 1.5h3m39 1.5h3m-9 3h3m6 0h3m-65 1.5h2m12 1.5h3m36 0h3m9 0h3m-66 3h3m6 0h6m36 0h3m-62 1.5h3m38 0h3m27 0h3m-74 1.5h3m8 0h3m-3 1.5h3m-6 1.5h3m3 7.5h3m6 0h3m18 0h3m-33 1.5h3m3 0h3m30 0h3m-33 3h3m42 0h3m-54 1.5h3m3 0h3m42 0h3m-9 3h3m-51 9h3m-9 1.5h3m36 0h3m-27 1.5h3m36 0h6m-3 1.5h6m-71 1.5h3m59 3h3m-36 1.5h3m18 0h3m6 0h3m-56 1.5h2m6 1.5h3m-9 1.5h3m33 0h3m3 0h3m18 0h3m-45 3h3m33 1.5h3m3 0h3m-45 1.5h3m18 0h3m18 0h3m-51 1.5h3m-29 4.5h3m50 0h3m12 0h3m-3 1.5h3m-18 1.5h3m-45 1.5h3m54 0h3m-62 1.5h2m30 0h3m-3 1.5h3m-18 1.5h3m3 0h3m18 0h3m-36 1.5h3m-23 1.5h3m47 1.5h3m-44 3h2m42 1.5h3m-3 1.5h3m-53 1.5h3m47 0h3m15 1.5h3m-63 3h3m60 6h3m-27 3h3m-12 1.5h3m-3 3h3m24 0h3m-9 1.5h3m-36 3h3m9 3h3m-3 7.5h3m-33 48h3m3 0h3m15 0h3m6 0h3m-38 1.5h2m24 1.5h3m24 1.5h6m-68 1.5h3m3 0h3m62 0h3m-54 1.5h3m-17 1.5h3m11 4.5h3m51 0h3m-30 3h3m24 0h3m-30 6h3m-50 3h3m32 0h3m-32 3h3m23 0h3m-29 1.5h3m17 0h3m3 0h6m-38 1.5h3m6 1.5h2m27 1.5h3m27 0h3m-65 1.5h3m62 0h3m-54 3h3m6 0h3m3 0h3m24 1.5h3m-36 3h3m0 1.5h3m-9 1.5h3m6 0h3m-21 3h6m9 0h3m3 3h3m-3 3h3m-35 1.5h3m17 0h3m42 0h3m-68 4.5h3m26 0h3m-18 1.5h3m-20 1.5h3m3 1.5h8m6 1.5h3m45 0h3m-60 1.5h3m0 1.5h3m-6 1.5h3m-32 40.5h3m32 0h3m21 3h3m-44 1.5h3m65 0h3m-51 3h3m39 0h3m-57 1.5h3m3 0h3m-17 1.5h3m3 0h2m42 0h3m18 0h3m-15 1.5h3m-24 1.5h3m-41 1.5h3m3 0h2m21 1.5h3m36 1.5h3m-6 4.5h3m-65 3h3m8 0h3m3 0h3m45 4.5h3m-68 6h3m59 0h3m-60 1.5h3m15 3h3m9 0h3m24 0h3m-51 3h3m3 0h3m27 0h3m-15 3h3m15 0h3m9 0h3m-9 4.5h3m-18 4.5h3m15 1.5h3m-51 13.5h3m27 1.5h3m-53 3h3m44 4.5h3m-33 1.5h3m27 0h3m-33 1.5h3m9 0h3m-29 3h3m2 0h3m39 0h3m-56 3h3m32 1.5h3m-35 1.5h3m14 0h6m42 0h3m0 1.5h3m-33 1.5h3m-27 3h3m36 0h3m-39 1.5h3m39 0h3m-42 1.5h3m45 1.5h6m-36 1.5h3m30 0h3m-36 1.5h3m24 0h6m-74 3h3m53 1.5h3m-36 1.5h3m-26 1.5h3m26 0h3m-12 4.5h3m48 0h3m-51 1.5h3m12 0h3m3 1.5h3m-36 6h3m-11 10.5h3m35 4.5h3m-41 6h3m5 3h3m12 0h3m33 0h3m-48 3h3m42 0h3m6 1.5h3m-60 1.5h3m51 0h3m-15 1.5h3m-33 1.5h3m-15 3h3m54 1.5h3m-30 1.5h3m9 0h3m-48 1.5h3m54 1.5h3m3 0h3m-66 1.5h3m24 0h6m-41 4.5h3m35 3h6m-33 3h3m9 4.5h3m12 0h3m-41 1.5h3m8 4.5h3m-14 3h3m32 1.5h3m12 0h3m0 1.5h3m-36 1.5h3m24 0h3m-39 1.5h9m15 0h3m24 0h3m3 0h3m-24 4.5h3m21 1.5h3m-27 3h3m18 0h3m-51 1.5h3m12 7.5h3m27 0h3m-3 3h3m-65 1.5h3m32 1.5h3m-77 1.5h3m12 3h3m-12 6h3m-15 1.5h3m-18 1.5h3m27 0h3m-15 3h3m-3 3h3m9 1.5h3m-33 3h3m6 0h3m3 0h3m30 0h3m-42 1.5h3m9 0h3m30 0h3m-39 1.5h3m0 1.5h3m27 1.5h3m-27 3h3m24 0h3m-39 7.5h3m3 3h3m-18 3h3m42 6h3m-9 3h3m3 0h3m-3 1.5h3m-39 6h3m9 0h3m-30 6h3m48 4.5h3m-9 1.5h3m-30 4.5h3m-3 4.5h6m3 0h3m-3 6h3m-18 3h3m3 7.5h3m-24 1.5h3m21 0h3m24 0h3m-3 1.5h3m-9 3h3m-30 3h3m-12 3h3m6 0h3m-3 1.5h3m30 0h3m-57 1.5h3m9 0h3m18 1.5h3m-15 1.5h3m9 7.5h3m15 0h3m-27 3h3m24 0h3m-48 1.5h3m6 1.5h3m-12 1.5h3m-12 1.5h3m18 1.5h3m-21 1.5h3m6 4.5h3m9 0h3m3 0h3m-33 1.5h3m24 0h3m24 0h3m-51 1.5h3m24 0h3m-9 4.5h3m21 6h3m-3 1.5h3m-45 3h3m18 0h3m0 1.5h3m15 0h9m-12 3h3m0 12h3"/>
<path fill="none" stroke="#58783f" stroke-width="1.5" d="M129 48.75h5m57 0h3m-65 1.5h5m48 0h3m3 0h3m-65 3h3m62 0h3m-63 3h3m24 0h3m21 0h3m-54 1.5h3m0 6h3m36 0h3m-45 1.5h3m39 0h3m-39 1.5h3m54 0h3m-66 1.5h3m27 0h3m30 0h3m-12 1.5h3m-62 1.5h3m14 0h3m39 0h3m-62 1.5h5m60 0h3m-57 1.5h6m48 0h3m-51 3h3m3 1.5h3m-23 4.5h2m18 0h6m-24 4.5h3m27 0h3m9 0h3m-33 3h3m42 0h3m-36 3h3m-35 1.5h3m3 0h2m15 3h3m-12 1.5h3m9 1.5h3m-26 1.5h3m17 0h3m-26 1.5h3m5 0h3m54 0h6m-9 1.5h3m-65 3h3m59 1.5h3m-65 1.5h3m14 0h6m-6 1.5h3m39 1.5h3m9 0h3m-51 1.5h3m45 0h3m-57 1.5h6m-6 3h3m18 0h3m-35 3h5m6 3h3m27 0h3m9 0h3m3 0h3m-62 1.5h2m63 0h3m-51 4.5h3m21 3h3m-44 1.5h5m57 0h6m-12 3h3m-59 3h2m-5 3h3m8 3h3m12 0h3m39 0h3m-74 1.5h3m5 0h3m18 1.5h3m18 0h3m-42 1.5h3m51 0h3m-18 3h3m18 0h3m-66 3h3m6 0h3m3 1.5h3m-20 1.5h2m9 0h6m-17 1.5h2m12 0h3m-23 1.5h3m62 0h3m-48 1.5h6m12 0h3m-9 1.5h3m-6 1.5h3m6 0h3m24 0h3m0 1.5h3m-3 1.5h3m-57 4.5h3m48 1.5h3m-54 1.5h6m-17 1.5h3m14 0h3m15 0h3m-21 1.5h3m-3 1.5h3m12 0h3m12 0h3m-3 1.5h3m-36 1.5h3m21 0h3m18 0h3m-45 1.5h3m12 3h3m15 0h3m-30 1.5h3m24 0h3m15 0h3m-74 4.5h3m-3 1.5h3m35 0h3m-27 1.5h6m9 0h3m9 0h3m3 0h3m9 3h3m-45 1.5h3m42 0h3m6 0h3m-15 3h6m-48 1.5h3m6 1.5h3m-26 3h5m57 0h3m3 0h3m-15 1.5h3m-24 1.5h3m-33 1.5h3m0 1.5h3m6 0h3m48 0h3m-12 10.5h3m-48 3h3m48 1.5h3m-36 19.5h3m-30 1.5h3m42 0h3m-50 4.5h2m36 21h3m-36 1.5h3m21 3h3m3 0h3m-33 3h3m9 0h3m-15 1.5h3m-3 1.5h3m6 3h3m-17 1.5h5m9 0h3m0 1.5h9m-32 1.5h3m56 0h3m-62 1.5h3m14 3h3m18 0h3m27 1.5h3m-54 1.5h3m-17 1.5h3m23 0h3m30 0h3m-48 4.5h3m9 1.5h3m9 3h3m15 0h3m-36 1.5h3m-18 1.5h3m-14 1.5h3m0 3h3m5 3h3m12 1.5h3m12 1.5h3m18 0h3m-65 1.5h3m3 1.5h2m54 1.5h3m-54 1.5h3m30 0h3m-47 1.5h3m5 1.5h3m24 0h3m-38 1.5h3m5 0h3m9 0h3m21 0h3m-47 1.5h3m35 3h3m6 0h3m-18 3h3m24 0h3m-62 46.5h3m65 0h3m-65 3h2m21 0h3m30 0h3m-57 1.5h3m-8 1.5h3m35 0h3m9 0h3m3 0h3m3 0h3m-48 1.5h6m6 0h3m-27 1.5h3m3 0h3m3 0h3m6 0h3m21 4.5h3m-56 1.5h3m0 1.5h3m65 0h3m-54 3h3m-20 1.5h3m8 0h3m21 0h3m30 0h3m-42 1.5h3m-12 1.5h3m12 4.5h3m-38 1.5h3m53 1.5h3m9 0h3m-30 1.5h3m-36 1.5h3m6 0h6m12 3h3m-12 1.5h3m-24 1.5h3m27 0h3m18 0h3m-62 1.5h3m59 0h3m-33 3h3m-18 3h3m3 1.5h3m24 0h3m-36 1.5h3m39 0h3m-48 3h3m48 0h3m-18 1.5h3m-30 6h3m42 0h3m-57 1.5h6m9 0h3m33 0h3m-18 3h3m18 0h3m-24 3h3m-6 3h3m-47 1.5h3m8 1.5h3m6 0h3m-23 1.5h3m8 0h6m30 0h3m-27 1.5h3m-15 3h3m3 1.5h3m-26 1.5h3m65 0h3m-48 1.5h3m-6 1.5h3m48 0h3m-36 1.5h3m15 0h3m-53 1.5h3m20 0h3m21 0h3m-53 3h3m5 1.5h3m3 0h3m6 0h3m39 1.5h3m-24 3h3m18 0h3m-57 1.5h3m3 0h6m-20 6h3m8 3h3m9 0h3m18 0h3m-47 1.5h3m2 0h3m-14 1.5h3m47 3h3m21 1.5h3m-51 1.5h3m12 0h3m-12 1.5h3m-9 3h6m15 0h3m-36 1.5h6m9 0h3m-29 3h3m14 3h3m-20 1.5h3m5 1.5h3m12 3h3m-6 3h3m24 0h3m-36 3h3m18 0h6m-18 1.5h3m12 0h3m-27 3h3m21 1.5h3m6 0h9m-6 1.5h3m15 0h6m-63 1.5h3m51 4.5h3m-3 3h3m-48 1.5h3m-15 3h3m9 0h3m27 0h3m-39 1.5h3m33 0h3m15 1.5h3m-65 1.5h2m15 0h3m33 0h3m-51 1.5h3m48 0h3m-54 6h3m3 0h6m-9 3h3m27 0h6m6 0h3m3 1.5h3m-15 3h3m-18 1.5h3m9 0h3m6 0h3m-21 1.5h3m12 0h3m-15 1.5h3m21 0h3m0 1.5h3m-24 1.5h3m-42 1.5h3m3 0h3m21 0h3m18 1.5h3m-48 1.5h3m33 0h3m6 0h3m6 1.5h3m-24 4.5h3m15 4.5h3m3 1.5h3m-42 3h3m-32 3h3m17 6h3m6 1.5h3m-15 1.5h3m-65 3h6m6 0h3m-27 1.5h3m15 4.5h3m-6 1.5h3m-12 1.5h3m-9 1.5h3m33 0h3m-33 1.5h3m9 0h3m12 1.5h6m-24 1.5h3m33 0h3m-36 1.5h3m3 0h3m-12 3h3m3 1.5h3m0 1.5h3m18 0h3m-15 3h3m9 0h3m-30 3h3m21 0h6m-36 1.5h3m36 1.5h3m-48 3h3m18 0h3m12 3h3m6 1.5h3m-3 3h3m-48 4.5h3m42 1.5h3m-6 3h3m-54 1.5h3m6 0h3m-3 3h3m3 0h3m-3 3h3m6 0h3m-18 1.5h3m12 6h3m-3 3h3m-24 4.5h3m24 0h3m-18 3h3m36 0h3m-39 3h3m9 0h3m18 0h3m-48 1.5h3m15 6h3m27 3h3m-27 10.5h3m-3 4.5h3m-30 1.5h3m3 4.5h3m33 0h3m6 0h3m-48 3h3m-6 3h3m21 0h3m21 1.5h3m-6 1.5h3m-48 1.5h3m0 3h3m15 0h3m-27 6h3m3 1.5h3m18 0h3m-36 4.5h3m51 0h3m-51 1.5h6m18 0h3m-33 1.5h3m51 0h3m-9 6h3m-21 1.5h6m18 0h3m-27 3h3m18 1.5h3m0 4.5h6m-6 1.5h3m0 4.5h3"/>
<path fill="none" stroke="#3c4d32" stroke-width="1.5" d="M134 48.75h3m12 0h3m3 0h3m21 0h3m-74 3h3m12 0h3m8 0h3m9 0h6m18 0h3m-30 1.5h6m15 0h6m-27 1.5h3m6 0h3m9 0h3m6 0h3m-33 1.5h3m30 0h3m-42 1.5h3m-6 1.5h3m12 0h3m-18 3h3m6 0h3m6 0h3m-24 1.5h3m48 0h6m-54 1.5h3m9 0h3m3 1.5h3m9 0h3m-27 1.5h3m-6 1.5h3m15 0h3m6 0h3m15 3h6m-45 1.5h3m18 1.5h3m27 0h3m-36 1.5h3m-38 3h5m12 0h6m27 0h3m-74 1.5h3m21 0h2m30 0h3m21 0h3m-65 3h6m41 0h3m-44 1.5h2m39 0h3m-36 1.5h3m39 0h3m-36 1.5h3m18 0h9m-45 1.5h3m30 0h3m-30 1.5h3m9 0h9m15 0h3m-42 1.5h3m18 1.5h3m24 0h3m-107 1.5h3m80 0h3m9 0h3m-98 3h3m42 0h3m47 0h3m18 1.5h3m-42 1.5h3m-3 1.5h3m24 0h3m-15 3h3m-6 3h3m9 0h6m-27 1.5h3m3 1.5h3m3 0h3m-27 1.5h3m6 0h3m12 0h3m-30 1.5h3m9 0h3m3 0h3m-86 1.5h3m92 1.5h3m9 0h3m-39 1.5h3m18 0h6m-27 1.5h3m-6 1.5h3m6 0h3m3 0h3m3 0h3m-44 1.5h3m29 0h3m-12 1.5h6m24 0h3m-42 1.5h3m-20 1.5h3m11 0h6m-47 1.5h3m12 0h3m9 0h3m3 0h2m42 1.5h3m-36 1.5h3m42 0h3m-39 1.5h3m12 1.5h3m-27 1.5h3m21 0h3m15 0h6m-45 1.5h3m30 0h3m-24 1.5h3m12 0h3m-47 1.5h3m32 0h3m3 0h3m-33 1.5h3m51 0h3m-71 1.5h3m29 0h3m12 0h3m-33 1.5h3m3 0h3m18 0h3m-47 1.5h3m17 0h3m27 0h3m-18 3h3m3 0h3m-41 1.5h3m11 0h3m-12 4.5h3m39 0h3m-36 3h3m6 0h3m-18 1.5h3m30 0h3m9 0h3m6 1.5h3m-18 1.5h3m6 0h3m-62 4.5h3m8 0h3m6 0h3m18 0h3m9 0h3m-12 1.5h3m-44 1.5h3m20 0h3m3 0h3m6 0h3m6 0h6m-45 1.5h3m12 0h3m-80 1.5h3m77 0h3m12 0h3m15 0h3m-42 1.5h3m-23 3h5m33 0h3m-33 1.5h3m27 0h3m27 0h3m-21 1.5h3m-33 1.5h3m27 0h3m-42 1.5h3m9 0h3m-29 1.5h3m11 0h3m-17 1.5h3m62 0h6m-18 1.5h3m12 0h3m-68 1.5h3m26 0h3m21 0h3m-24 3h3m15 0h3m-30 1.5h3m15 0h6m3 0h3m-21 1.5h3m9 0h3m6 0h3m3 0h3m-80 1.5h3m20 0h3m15 0h3m15 1.5h3m-18 1.5h3m9 0h3m3 0h3m12 0h3m-15 1.5h3m-27 1.5h3m36 0h3m-95 1.5h3m71 0h3m-47 1.5h3m32 0h6m12 0h3m-3 1.5h3m-24 1.5h3m30 1.5h6m-63 1.5h3m21 0h3m6 0h3m21 0h3m-63 1.5h3m6 0h3m9 0h3m18 0h3m-21 1.5h3m33 0h3m-68 1.5h3m26 0h3m15 0h3m-36 1.5h3m30 0h3m3 0h3m6 0h3m-65 1.5h3m20 0h3m15 0h3m3 0h3m9 0h3m-65 1.5h3m3 1.5h2m3 0h3m18 0h3m36 0h3m-60 1.5h3m18 0h3m-38 1.5h3m0 1.5h3m5 0h3m15 0h3m18 0h3m18 0h3m-71 1.5h3m11 0h3m12 0h3m30 0h3m-128 1.5h3m9 0h6m15 0h3m53 1.5h3m9 0h3m27 1.5h3m-12 1.5h3m-59 1.5h2m63 0h3m-63 1.5h3m57 0h3m-51 1.5h6m-26 1.5h3m5 0h3m57 0h3m-63 1.5h3m9 0h3m18 0h3m-36 1.5h3m39 0h3m-48 1.5h3m54 0h3m-6 1.5h3m-45 1.5h3m3 1.5h3m33 1.5h3m-3 1.5h6m-60 3h3m6 0h3m27 1.5h3m-47 1.5h3m11 0h3m24 0h3m6 0h3m-36 1.5h3m39 0h3m-65 3h3m68 0h3m-68 1.5h2m-68 1.5h3m98 0h3m-41 1.5h3m32 1.5h3m-92 1.5h3m68 0h3m-9 4.5h3m9 0h3m39 3h3m-33 1.5h3m6 0h3m-47 1.5h3m26 0h3m15 0h6m-45 1.5h3m15 0h3m-15 3h3m39 0h3m-21 1.5h3m-24 1.5h3m15 0h3m-92 3h3m12 0h3m33 0h3m17 0h3m3 0h3m-74 1.5h3m53 0h3m24 0h3m-12 1.5h3m18 1.5h3m-45 1.5h3m12 0h3m18 0h3m-89 3h3m15 0h3m3 0h3m44 1.5h3m33 0h3m-48 1.5h3m15 0h3m18 0h3m-18 1.5h3m-9 1.5h3m12 0h6m-9 1.5h3m3 0h3m-18 3h3m9 0h3m6 0h3m6 0h3m-54 1.5h3m15 0h3m3 0h3m-9 1.5h3m-3 1.5h3m21 0h3m-15 1.5h3m6 0h3m-9 1.5h3m6 0h6m-39 1.5h3m-24 1.5h3m24 0h3m21 0h3m3 3h3m-24 1.5h3m-41 1.5h5m60 0h3m-27 1.5h6m-98 1.5h3m62 1.5h3m-9 1.5h3m42 0h3m9 0h3m-27 1.5h3m6 0h3m12 0h3m-57 1.5h3m39 0h9m-24 1.5h3m21 0h3m-45 1.5h3m-23 1.5h2m57 0h3m-128 1.5h3m92 1.5h3m-15 1.5h6m21 0h3m3 0h3m6 0h6m-71 1.5h3m-3 1.5h3m3 0h5m48 1.5h3m-39 1.5h3m-23 1.5h3m-6 1.5h3m11 0h3m9 1.5h3m30 3h3m-119 1.5h3m92 0h3m15 0h3m-30 1.5h3m3 0h3m33 3h3m-18 1.5h3m6 1.5h3m-9 1.5h3m0 1.5h3m-59 1.5h2m54 0h3m-62 6h3m2 0h3m18 0h3m15 0h3m3 0h3m-42 1.5h3m-11 1.5h2m60 0h3m-33 4.5h3m-3 3h3m-92 1.5h3m54 0h2m15 0h3m-86 1.5h3m116 0h3m9 0h3m-60 1.5h3m36 0h3m3 0h3m-51 1.5h3m18 0h3m-9 1.5h3m36 0h3m-42 1.5h3m12 0h3m9 0h3m-6 1.5h3m3 1.5h3m-56 1.5h3m59 0h3m-12 3h3m12 0h3m-63 1.5h3m12 1.5h3m27 0h6m3 0h3m3 0h3m-134 1.5h3m65 0h3m18 0h3m15 0h3m3 0h3m-45 1.5h3m39 0h3m15 0h3m-131 1.5h6m62 0h3m3 0h3m6 0h3m39 0h3m-125 1.5h3m110 0h3m-116 3h3m68 0h3m6 0h3m3 0h3m-21 1.5h3m-44 1.5h3m30 0h2m12 1.5h3m3 0h3m3 0h3m-15 1.5h3m15 0h3m-33 1.5h3m51 0h3m-62 1.5h3m26 0h3m-95 3h6m71 0h3m48 0h3m-60 1.5h6m6 0h3m3 0h3m36 0h3m-15 1.5h3m-24 1.5h3m15 0h3m-113 1.5h3m60 0h2m51 0h3m-95 1.5h3m6 0h3m50 1.5h3m-21 1.5h3m6 0h3m15 0h3m-21 1.5h3m36 0h3m-45 1.5h3m21 0h3m-21 1.5h3m6 0h3m-9 1.5h3m15 0h3m3 0h3m0 1.5h3m6 0h3m-65 1.5h3m50 0h3m15 0h3m-60 1.5h3m-11 1.5h5m15 0h3m24 0h12m-54 1.5h3m18 0h3m9 0h3m3 0h3m18 0h3m-74 1.5h3m47 0h3m-45 1.5h3m-71 1.5h3m3 0h3m6 0h3m21 0h3m41 0h3m12 0h3m3 1.5h3m9 0h3m-3 1.5h3m-36 1.5h3m27 0h3m3 0h3m-51 1.5h3m6 0h3m39 0h3m-54 1.5h3m24 1.5h3m12 0h3m-45 1.5h3m-8 1.5h2m54 0h3m-36 1.5h3m6 0h3m21 0h3m-36 1.5h3m24 0h6m-59 1.5h3m26 0h3m9 0h3m15 0h3m-30 3h3m18 0h3m3 0h3m-33 1.5h3m12 0h3m12 0h3m-36 1.5h3m3 0h3m12 0h3m-21 3h3m24 0h3m-39 1.5h3m18 0h3m3 0h3m-47 1.5h2m60 0h3m-39 1.5h3m27 0h3m6 0h3m-68 1.5h2m33 0h3m3 0h3m-39 3h6m12 0h3m18 0h3m-50 1.5h3m20 0h3m24 0h6m-62 1.5h3m6 0h2m24 0h3m9 0h3m-44 1.5h3m-60 1.5h3m54 0h3m29 0h3m-98 1.5h3m65 0h3m24 0h3m15 0h3m9 0h3m-12 1.5h3m12 0h3m-45 1.5h3m27 0h3m-6 1.5h3m-56 1.5h3m20 0h3m-86 1.5h3m62 0h3m18 0h3m3 0h3m6 0h3m3 0h3m15 0h3m-57 1.5h3m3 0h3m12 0h3m15 0h3m6 0h3m6 0h3m-21 1.5h3m9 0h3m-125 1.5h3m54 0h8m12 0h3m9 0h3m15 0h3m15 0h3m-68 1.5h5m36 0h3m6 0h3m9 0h3m-51 1.5h6m9 1.5h3m-27 3h3m3 0h3m12 0h3m12 0h6m-3 3h3m-47 1.5h3m32 0h3m18 0h3m3 0h3m-51 1.5h3m6 0h3m15 0h3m-15 1.5h3m36 0h3m-134 1.5h3m60 0h3m53 0h3m9 1.5h3m-74 1.5h3m11 0h3m27 0h3m-44 1.5h3m44 0h3m9 0h3m3 0h3m-51 1.5h3m12 0h3m-32 1.5h2m3 0h3m36 0h3m9 1.5h3m6 0h3m-68 1.5h2m3 0h3m48 0h9m-36 1.5h3m18 0h3m12 0h3m-68 3h2m-8 1.5h6m29 0h3m3 0h3m6 0h9m-45 1.5h3m24 0h3m15 0h3m-119 1.5h3m68 0h3m36 0h3m-48 1.5h3m27 0h3m-6 1.5h3m-24 1.5h3m42 0h6m-30 1.5h3m6 0h3m15 0h3m-57 1.5h3m6 0h3m-6 1.5h3m27 1.5h3m12 0h3m-122 1.5h3m65 0h3m24 0h3m-98 1.5h3m107 0h3m-12 1.5h3m-92 1.5h3m83 3h3m21 0h3m-12 1.5h3m-116 1.5h3m65 0h3m24 0h6m-35 3h2m12 0h3m-83 1.5h3m57 0h3m50 0h3m-48 1.5h3m-5 1.5h2m12 0h3m-17 1.5h2m36 0h3m3 0h3m-33 1.5h3m39 0h3m-21 1.5h3m9 0h3m6 0h3m-60 1.5h3m33 0h3m0 1.5h3m-50 1.5h3m8 0h3m42 0h3m6 0h3m-60 3h3m42 1.5h3m-77 1.5h3m53 0h3m21 0h3m-21 1.5h3m-104 1.5h3m74 0h3m30 0h3m6 0h6m-45 1.5h3m18 0h3m3 0h6m-6 1.5h3m12 0h3m-3 3h3m-24 1.5h3m18 0h3m-9 1.5h3m-36 1.5h3m15 0h6m6 1.5h3m15 0h3m-12 1.5h3m-62 1.5h3m35 0h3m15 0h3m-59 1.5h3m-57 1.5h3m-12 1.5h3m113 0h3m-65 1.5h3m-15 1.5h3m3 0h6m-18 1.5h3m-39 1.5h9m9 0h3m3 1.5h3m21 1.5h3m-51 1.5h3m9 0h3m30 0h6m-51 3h3m39 1.5h3m3 0h3m-48 1.5h3m42 0h3m-45 1.5h3m18 0h3m21 0h3m-51 1.5h3m48 0h3m-51 1.5h3m9 0h3m71 0h3m-56 3h3m3 0h3m6 0h3m-48 1.5h3m24 0h6m-12 1.5h3m9 0h3m-42 1.5h3m48 0h3m-54 1.5h3m3 0h3m42 1.5h3m-3 1.5h3m-54 1.5h3m42 1.5h3m-51 1.5h3m42 0h3m-48 1.5h3m18 4.5h3m-6 1.5h3m3 0h3m15 0h3m-45 1.5h3m3 0h3m27 0h3m-33 1.5h3m45 0h3m-54 1.5h3m18 0h3m-15 1.5h3m86 0h3m-86 1.5h3m12 0h3m56 0h3m-65 3h3m15 0h3m-48 1.5h3m3 0h3m18 0h3m3 0h3m-39 1.5h3m45 0h3m-45 3h3m3 0h3m3 1.5h3m27 0h3m-39 1.5h3m24 0h3m32 0h3m33 0h3m9 0h3m-125 3h3m27 0h3m18 0h3m-39 1.5h3m9 1.5h3m27 0h3m-42 1.5h3m0 3h6m-9 3h3m3 0h3m3 0h6m83 0h3m-122 1.5h3m18 0h3m6 0h3m-24 1.5h6m-15 1.5h3m3 0h3m3 0h3m21 0h3m3 0h3m3 0h3m6 0h3m-42 1.5h3m15 0h3m6 0h3m-18 1.5h3m44 1.5h3m-47 1.5h3m21 0h3m-60 1.5h3m6 0h3m27 0h6m-42 1.5h3m27 0h3m18 0h3m-48 1.5h3m9 0h3m15 0h3m3 1.5h3m-30 7.5h3m-21 1.5h3m57 0h3m-54 1.5h3m6 3h3m30 1.5h6m-24 3h3m-30 6h3m27 3h3m-36 1.5h3m30 4.5h3m-3 3h3m-3 1.5h3m-24 1.5h3m-15 3h3m9 3h3m-6 4.5h6m18 0h6m-15 3h3m-27 1.5h3m6 0h3m9 0h3m-18 6h3m3 0h3m15 0h3m3 0h3m6 0h3m3 0h3m-45 1.5h3m15 0h6m21 1.5h3m-42 1.5h3m-21 1.5h3m9 0h3m3 0h3m21 0h3m-36 1.5h3m6 0h3m6 0h3m-21 1.5h3m12 0h3m15 0h3m9 0h3m-54 1.5h3m45 1.5h3m-39 4.5h3m24 0h3m9 0h3m11 0h3m-47 1.5h3m77 0h3m-80 1.5h3m27 0h3m-30 1.5h3m9 0h3m-21 1.5h3m-12 1.5h3m0 3h3m24 0h3"/>
<path fill="none" stroke="#485e37" stroke-width="1.5" d="M143 48.75h3m0 1.5h3m-9 1.5h3m30 1.5h3m-39 1.5h3m6 0h3m21 0h3m9 0h6m-39 1.5h3m33 0h3m-59 3h5m3 0h3m3 0h3m-20 1.5h3m11 0h3m18 0h3m-9 1.5h6m6 0h3m15 0h3m-18 3h3m18 0h3m-68 1.5h3m20 0h3m21 0h6m-53 1.5h3m5 0h3m33 0h3m3 0h6m-56 1.5h5m36 0h3m6 0h3m-24 3h3m3 0h3m6 0h3m-12 1.5h3m-18 1.5h3m33 0h3m-62 4.5h3m8 0h3m24 0h3m-27 1.5h3m0 1.5h3m30 0h6m-18 1.5h3m-21 1.5h9m12 0h3m6 0h3m12 0h3m-65 1.5h3m35 0h3m21 0h3m-65 1.5h3m2 0h9m3 0h3m45 0h6m-71 1.5h3m17 0h3m24 0h3m-45 1.5h3m12 0h3m39 0h3m-21 1.5h3m6 0h3m-36 1.5h3m3 0h3m12 0h3m9 0h3m6 0h6m-65 3h2m18 0h3m6 0h3m12 0h3m12 0h3m-33 3h3m9 0h3m-12 1.5h3m9 1.5h3m9 0h3m-62 1.5h3m2 1.5h3m27 0h3m21 1.5h3m3 0h3m-71 1.5h8m3 0h3m-3 1.5h3m-14 1.5h3m0 1.5h3m59 0h3m-33 1.5h3m3 0h3m9 0h3m-48 1.5h3m33 0h3m21 0h3m-60 1.5h3m9 0h3m12 0h6m-89 1.5h3m53 0h3m57 0h3m-68 1.5h2m12 1.5h3m45 0h3m-51 1.5h6m18 0h3m-27 3h3m15 0h6m3 0h6m9 0h3m-27 1.5h3m-86 1.5h3m104 1.5h3m-27 1.5h3m24 0h3m0 1.5h3m-60 3h3m9 0h3m21 0h3m-44 1.5h2m48 0h3m6 0h3m-48 1.5h3m39 0h3m-65 1.5h3m5 0h3m60 0h3m-74 1.5h3m35 0h3m24 0h3m3 1.5h3m-60 1.5h3m-6 4.5h3m9 0h3m42 1.5h3m-71 1.5h3m62 0h3m-60 1.5h6m33 0h3m9 0h3m-51 3h3m12 0h3m-29 4.5h3m68 0h3m-54 1.5h3m45 0h6m-45 1.5h3m9 0h3m6 0h3m-45 3h3m3 0h3m27 0h3m9 0h3m-48 3h3m24 1.5h3m15 0h3m-116 1.5h3m60 0h2m30 0h3m-24 1.5h3m30 0h3m-27 1.5h3m-9 1.5h3m6 0h3m15 0h3m9 0h3m-36 1.5h3m30 0h3m-65 1.5h3m8 0h3m24 0h3m33 0h3m-6 1.5h3m-24 1.5h3m3 0h3m3 0h3m-59 1.5h3m14 0h3m9 0h3m-24 1.5h6m30 0h3m-44 1.5h2m48 0h3m9 1.5h3m-74 3h6m11 0h3m30 0h3m12 0h3m3 0h3m-42 1.5h3m27 1.5h3m3 0h3m-39 1.5h3m36 0h3m-74 1.5h3m14 1.5h3m33 0h6m15 0h3m-71 1.5h3m65 0h3m-68 1.5h2m12 0h3m42 1.5h3m-45 1.5h3m24 0h3m-47 1.5h5m48 0h6m-62 3h3m44 0h3m-39 1.5h3m42 0h3m-62 1.5h3m59 0h3m-51 1.5h3m33 0h3m-53 1.5h3m14 0h3m3 0h3m3 0h3m-6 1.5h3m15 0h3m21 0h3m-12 1.5h3m3 1.5h3m-68 1.5h6m-6 1.5h3m17 0h3m27 0h3m12 0h6m-63 1.5h3m48 0h3m-39 1.5h3m-6 1.5h3m-20 3h8m12 0h3m6 0h3m24 0h3m6 0h3m-48 1.5h3m-71 1.5h3m77 4.5h3m-32 3h2m57 1.5h3m-65 6h3m44 0h3m-104 10.5h3m48 1.5h3m5 1.5h3m-8 1.5h3m47 1.5h3m15 1.5h3m-54 1.5h6m-3 4.5h3m42 3h3m-45 3h3m27 0h3m-39 1.5h3m42 0h3m-6 1.5h3m-18 1.5h3m21 0h3m-27 1.5h3m-24 1.5h3m-32 1.5h3m29 0h3m-24 1.5h3m12 0h3m42 0h6m-71 1.5h3m17 0h3m18 1.5h3m-47 1.5h6m32 1.5h3m24 0h3m-60 3h3m-14 1.5h3m14 0h3m42 1.5h3m-62 1.5h3m62 0h3m-42 1.5h3m27 0h3m9 0h3m-12 3h3m3 0h3m-45 3h3m3 0h3m27 1.5h3m6 0h3m-57 1.5h3m27 0h3m-44 3h3m23 0h6m6 3h3m-12 1.5h3m-12 1.5h3m-12 1.5h3m3 0h3m12 1.5h3m21 0h3m9 0h3m-63 1.5h3m9 1.5h3m9 1.5h3m-24 1.5h3m12 0h3m6 0h3m21 0h3m-27 1.5h3m-12 1.5h3m36 0h3m-39 1.5h3m3 0h9m9 0h3m-45 1.5h3m12 1.5h3m9 0h3m-33 1.5h3m-14 1.5h3m53 1.5h3m6 0h3m-15 1.5h3m15 0h3m-77 3h3m3 1.5h3m23 0h3m36 0h3m-65 1.5h2m6 0h3m45 0h3m3 3h3m-60 4.5h3m0 3h3m48 0h3m-65 6h3m20 0h3m-12 4.5h3m-20 1.5h3m59 4.5h3m-54 1.5h3m-14 1.5h3m47 1.5h3m12 0h3m-62 1.5h2m54 0h3m-24 1.5h3m-68 6h3m89 0h3m-42 3h3m-9 1.5h3m3 1.5h3m27 0h3m-15 1.5h3m-6 1.5h6m-24 1.5h3m-21 1.5h3m-11 1.5h3m14 1.5h3m21 0h3m-41 1.5h3m2 0h3m9 0h3m24 0h6m9 0h3m-42 4.5h3m3 1.5h3m36 0h3m-48 1.5h3m12 0h3m-35 1.5h2m39 0h6m12 1.5h3m-51 3h3m21 0h3m27 0h3m-66 1.5h3m39 1.5h3m-104 1.5h3m68 0h3m9 1.5h3m15 0h6m6 1.5h3m-62 3h3m5 0h3m18 0h3m-35 1.5h3m38 0h3m27 0h3m-60 1.5h3m30 0h3m-50 1.5h3m11 0h3m6 1.5h3m21 0h3m15 1.5h3m-60 1.5h3m-3 1.5h3m42 0h3m-9 1.5h6m3 0h3m6 1.5h3m-54 3h3m30 0h3m-42 1.5h3m12 1.5h3m9 0h3m27 1.5h3m-51 1.5h3m-17 1.5h5m6 3h3m45 0h6m-39 1.5h3m9 0h3m21 0h3m-42 1.5h3m36 0h3m-39 1.5h3m36 0h3m-63 1.5h3m3 0h6m48 0h3m-60 1.5h3m30 0h3m-21 1.5h6m15 0h3m6 0h3m-30 1.5h3m33 0h3m-45 1.5h3m18 0h3m-9 1.5h3m9 1.5h3m15 1.5h3m-65 1.5h2m6 0h3m30 0h3m-39 1.5h3m12 0h3m-3 1.5h3m12 1.5h3m12 0h3m-53 1.5h2m6 0h3m30 0h3m3 1.5h3m-59 1.5h3m59 0h3m3 1.5h3m-39 1.5h3m-6 1.5h3m24 0h6m3 0h3m-59 1.5h2m51 0h3m6 0h3m-125 1.5h3m86 0h3m21 1.5h3m6 0h3m-36 1.5h3m6 0h3m-24 1.5h3m21 0h3m3 0h3m12 0h3m-57 1.5h3m33 0h3m-24 1.5h3m36 0h3m-68 1.5h3m2 0h3m21 0h3m6 0h3m-3 1.5h3m0 1.5h3m-36 1.5h6m-20 1.5h6m20 0h6m-21 1.5h6m30 0h3m-39 1.5h3m3 0h3m9 0h3m-18 1.5h3m27 0h3m-30 1.5h3m-14 1.5h3m11 0h3m18 0h3m6 0h3m18 0h3m-42 1.5h3m-32 4.5h3m20 0h3m3 0h3m-32 1.5h3m3 0h2m15 0h3m3 0h3m-24 1.5h3m12 1.5h3m-15 3h3m24 1.5h3m-6 1.5h3m-21 1.5h3m3 0h3m-3 1.5h3m-26 1.5h3m17 1.5h3m-3 1.5h3m42 0h3m-62 1.5h2m6 1.5h3m48 0h3m-60 1.5h3m12 0h3m36 0h3m-65 1.5h3m8 0h3m39 0h3m-48 1.5h3m36 0h3m-33 1.5h3m39 0h3m-51 3h3m21 0h3m-27 3h3m-8 1.5h2m9 0h3m39 0h3m-39 1.5h3m15 3h3m-30 1.5h9m12 0h3m21 0h3m-113 1.5h3m33 0h3m83 0h3m-63 1.5h6m18 0h3m3 0h3m3 0h3m12 0h3m-30 1.5h3m12 0h3m-47 1.5h2m24 0h3m24 0h3m3 1.5h3m-6 1.5h3m-54 1.5h3m30 0h6m-33 1.5h3m3 0h3m12 0h3m9 0h3m9 0h6m-65 3h3m5 0h3m-14 1.5h3m5 1.5h3m39 0h6m3 1.5h3m-39 1.5h3m12 0h3m12 0h3m9 0h3m-24 1.5h3m-24 1.5h3m9 1.5h3m3 0h3m18 0h3m-65 1.5h3m8 0h3m36 0h3m3 0h3m-18 3h3m18 1.5h3m-51 1.5h3m36 0h3m-33 1.5h3m-6 1.5h3m-83 1.5h3m0 1.5h3m3 0h3m71 0h3m12 0h6m6 0h3m0 3h3m12 0h3m-128 1.5h3m62 0h3m6 0h3m-6 1.5h3m24 1.5h3m12 1.5h3m3 0h3m-15 1.5h3m-113 6h3m0 1.5h3m3 0h3m30 0h3m-24 1.5h3m9 0h3m6 0h3m6 0h3m-12 1.5h3m-33 1.5h3m12 0h3m0 4.5h3m18 0h3m-27 1.5h3m9 0h3m3 0h3m-3 1.5h3m6 0h3m-18 1.5h6m-39 1.5h3m27 0h3m-15 1.5h6m-12 1.5h3m-15 1.5h6m30 0h3m9 1.5h3m-21 3h3m6 0h3m9 1.5h3m-57 3h3m15 0h3m-6 1.5h3m0 3h3m-15 6h3m36 1.5h3m-42 1.5h3m33 0h3m-36 1.5h3m6 0h3m-3 1.5h3m0 1.5h3m3 1.5h3m9 0h3m6 0h3m-48 1.5h3m3 0h3m-9 1.5h3m3 1.5h3m9 0h3m24 0h3m-48 1.5h3m30 0h3m-42 3h3m48 0h3m-45 1.5h3m24 0h3m-15 3h3m74 0h3m-50 1.5h3m-33 1.5h3m15 0h3m6 0h6m-39 1.5h3m30 0h3m-30 3h3m21 0h3m3 0h3m-24 1.5h3m21 0h3m-12 3h3m6 3h3m-39 3h3m-6 1.5h6m9 0h3m12 0h3m3 0h3m-30 1.5h3m71 0h3m21 0h3m-125 3h3m12 0h3m27 0h3m-51 1.5h3m48 0h3m0 1.5h3m-45 1.5h3m-15 3h3m54 4.5h3m-54 1.5h6m15 6h3m-6 1.5h3m-3 3h6m0 1.5h3m-30 1.5h3m3 0h3m-9 1.5h3m3 0h3m18 0h3m21 0h3m-54 1.5h6m9 1.5h3m-21 3h3m30 0h3m-15 15h3m-15 4.5h3m12 1.5h3m24 0h3m-6 1.5h3m6 0h3m-39 1.5h3m24 1.5h3m-18 7.5h3m6 0h3m-33 1.5h3m9 0h3m21 1.5h6m-15 1.5h3m-36 3h3m48 1.5h3m17 6h3m-68 4.5h3m-15 1.5h3m51 0h3"/>
<path fill="none" stroke="#37442f" stroke-width="1.5" d="M146 48.75h3m9 0h3m15 0h3m6 1.5h3m-15 1.5h6m0 1.5h3m3 0h6m-68 1.5h3m20 1.5h3m24 0h3m18 0h3m-24 1.5h3m3 0h3m6 0h6m-86 1.5h3m53 0h3m3 1.5h3m18 0h6m-33 1.5h3m-44 1.5h3m26 0h6m36 0h3m-68 1.5h2m18 0h3m33 0h3m-45 1.5h3m39 0h3m-9 3h3m-24 1.5h3m-15 1.5h6m15 1.5h3m6 0h3m6 0h3m-48 1.5h3m18 0h3m21 0h3m-62 1.5h3m11 0h3m21 0h3m3 0h3m6 0h3m-24 1.5h3m18 0h3m-116 3h3m74 0h3m24 0h9m0 1.5h3m-116 1.5h3m60 0h2m36 0h3m6 0h3m-48 1.5h3m3 0h3m3 1.5h3m9 0h3m27 0h3m-12 1.5h3m-21 1.5h3m-89 1.5h3m21 0h3m68 0h3m6 0h3m-21 1.5h3m15 0h3m-45 1.5h3m39 0h3m-56 1.5h3m-54 3h3m59 0h3m12 0h6m24 1.5h3m-59 1.5h3m26 0h3m9 0h3m9 0h6m-53 1.5h2m36 0h3m-36 3h3m51 0h3m-21 1.5h6m-21 1.5h3m33 0h3m-122 1.5h3m86 0h3m-3 1.5h3m-15 3h6m-29 1.5h3m47 0h3m-116 1.5h3m104 0h3m-30 1.5h3m-68 1.5h3m71 1.5h3m24 0h3m-6 1.5h6m3 0h3m-54 3h3m42 0h3m-92 1.5h3m41 0h3m48 0h3m3 0h3m-57 1.5h3m21 1.5h3m-21 1.5h3m3 0h3m21 0h3m-24 1.5h3m9 0h3m12 0h3m-51 3h3m24 0h6m0 1.5h3m6 0h3m18 0h3m-48 1.5h3m15 0h3m-33 1.5h3m33 0h3m-24 1.5h3m9 0h3m12 0h3m-77 1.5h3m35 0h6m24 0h3m-53 1.5h6m65 0h3m-68 1.5h2m3 0h3m9 0h3m6 0h3m-18 3h3m6 0h3m27 0h6m-54 1.5h3m42 0h3m-42 3h3m21 0h3m-38 3h3m47 1.5h3m-3 1.5h3m-39 1.5h3m27 0h3m3 0h3m-56 3h3m17 1.5h3m-17 1.5h2m18 0h3m6 0h3m-32 1.5h2m24 0h3m15 0h3m-15 6h6m18 3h3m3 3h3m-60 1.5h3m30 0h6m-42 1.5h3m18 0h3m3 0h3m-95 3h3m57 0h3m50 0h9m-36 1.5h3m3 0h3m9 0h3m21 0h3m-30 4.5h3m-104 1.5h3m51 0h3m14 0h3m15 0h3m6 0h3m-47 1.5h3m17 0h3m9 0h3m9 0h3m-12 3h3m-27 1.5h3m15 1.5h6m21 0h3m-53 1.5h3m5 0h3m-6 1.5h3m12 0h3m33 0h3m-62 1.5h3m8 0h3m3 0h3m9 0h3m39 0h3m-30 1.5h3m-47 1.5h3m3 1.5h2m15 0h3m15 0h3m15 0h3m-39 3h3m45 0h3m-39 1.5h3m6 0h3m-33 1.5h3m24 0h3m-38 1.5h2m45 0h3m-48 1.5h3m18 0h3m33 0h3m-57 1.5h3m15 0h3m6 0h3m21 0h3m-45 1.5h3m6 0h3m-9 1.5h3m21 0h3m3 0h3m-36 1.5h3m39 0h3m-51 1.5h3m3 0h3m3 0h3m12 0h3m15 0h9m-62 1.5h5m3 0h3m9 0h3m12 0h3m15 0h3m-24 1.5h3m6 1.5h3m-47 1.5h3m35 0h3m15 0h6m-77 1.5h3m44 0h3m15 0h3m-39 1.5h3m27 0h3m-30 1.5h3m-20 1.5h3m11 0h3m3 1.5h3m0 1.5h3m24 0h3m12 0h3m-30 1.5h3m12 0h3m-27 1.5h3m24 1.5h3m-36 1.5h3m6 0h3m21 0h3m-51 1.5h3m33 0h3m-101 1.5h3m104 0h3m9 0h3m-63 1.5h3m12 0h3m15 0h3m15 0h3m-56 1.5h2m54 0h3m-33 1.5h3m27 0h9m-42 1.5h3m33 0h3m-30 1.5h3m6 0h3m21 1.5h3m-45 1.5h3m-26 1.5h2m3 0h3m33 0h3m-107 3h3m24 0h3m6 0h3m18 0h6m41 0h3m21 0h3m-125 1.5h3m68 0h3m24 0h3m-42 3h3m33 0h3m-24 1.5h3m3 1.5h3m15 0h3m-33 1.5h3m18 1.5h3m-41 1.5h3m41 0h3m15 3h3m-80 1.5h3m18 0h2m36 0h3m21 0h6m-122 4.5h6m48 0h2m36 0h3m-3 1.5h3m12 0h3m3 0h3m-48 1.5h3m15 0h3m6 0h3m-42 1.5h3m54 1.5h6m-116 1.5h3m110 0h3m-60 1.5h3m6 0h3m30 1.5h3m-30 1.5h6m-15 1.5h3m42 1.5h3m-36 1.5h3m9 0h3m6 3h3m-12 1.5h9m-95 1.5h3m83 0h3m27 0h3m-39 1.5h3m27 0h3m-39 3h3m30 0h3m-36 1.5h3m9 1.5h3m-3 1.5h3m3 0h6m3 0h3m-24 1.5h3m6 0h12m15 0h3m-98 1.5h3m86 0h3m-62 1.5h2m39 0h3m18 0h3m-24 3h3m6 0h3m-86 1.5h3m3 0h3m50 0h3m-95 3h3m65 1.5h3m21 0h3m30 0h3m-27 1.5h3m9 0h3m9 0h3m-9 1.5h3m-21 3h3m18 0h3m6 0h3m-42 1.5h3m24 0h3m-3 1.5h3m-39 1.5h3m36 0h3m-45 1.5h3m36 0h3m-12 4.5h3m9 0h3m-45 1.5h3m30 0h3m9 0h3m-48 1.5h3m-15 1.5h3m48 0h3m-9 4.5h3m3 0h3m-36 1.5h3m15 0h3m24 0h3m-71 1.5h5m45 0h3m3 1.5h3m-45 1.5h3m6 0h3m3 0h3m27 1.5h3m-57 3h3m6 1.5h3m3 0h3m27 0h3m-39 1.5h3m48 0h3m-33 3h3m-33 1.5h3m30 0h3m15 0h3m-62 1.5h6m17 0h3m15 0h3m6 0h3m12 0h3m-68 1.5h3m32 1.5h3m3 0h3m-41 1.5h3m59 0h3m-6 1.5h3m3 1.5h3m-71 1.5h3m8 0h3m39 0h3m-56 1.5h3m5 0h3m6 3h3m21 0h3m-92 1.5h3m80 1.5h3m21 1.5h3m-27 1.5h3m-15 1.5h3m21 0h3m-15 1.5h3m6 0h3m-21 1.5h3m12 1.5h6m15 3h3m-27 1.5h3m-18 1.5h3m9 0h3m6 0h3m-27 1.5h3m3 0h3m12 0h6m9 0h3m-59 1.5h3m56 0h3m-86 1.5h3m-39 1.5h3m92 0h3m12 0h6m-15 3h3m-59 1.5h3m3 0h3m32 0h3m24 0h3m-101 1.5h3m9 0h3m15 0h3m29 0h3m3 1.5h3m24 0h3m-30 1.5h3m6 0h3m15 0h3m-110 1.5h6m57 0h2m18 0h3m3 0h6m-95 1.5h3m83 0h3m6 0h3m-35 3h2m24 0h3m24 0h3m-56 1.5h2m24 0h3m0 1.5h3m12 0h3m6 0h3m6 0h3m-68 1.5h3m38 0h3m9 4.5h3m-42 1.5h3m12 0h3m-21 1.5h3m33 0h6m0 1.5h3m-33 1.5h3m12 0h3m27 0h3m-36 3h3m15 0h3m-33 1.5h3m27 0h3m-15 1.5h3m12 0h3m-59 1.5h3m5 0h3m6 0h3m-9 3h3m36 1.5h3m-104 1.5h3m86 0h3m-36 1.5h3m12 0h3m0 1.5h3m30 0h3m-33 1.5h3m24 1.5h3m-36 1.5h6m-18 6h3m42 0h3m-36 1.5h3m0 1.5h3m27 0h6m-107 1.5h3m65 0h3m39 0h3m-119 3h3m107 0h3m-54 1.5h3m21 0h3m30 0h3m-39 1.5h3m33 0h3m-33 1.5h3m15 0h6m-48 1.5h6m15 0h6m21 0h3m9 0h3m-71 1.5h3m20 0h3m6 0h3m6 0h3m6 0h3m9 0h3m-65 1.5h3m41 0h3m18 0h3m-51 1.5h3m33 0h3m-104 1.5h3m62 0h3m9 0h3m-29 3h2m15 0h3m3 0h6m24 0h3m-15 3h3m-110 1.5h3m63 0h2m12 0h3m9 0h3m-29 1.5h2m39 0h3m9 0h3m-54 1.5h3m21 0h3m27 0h6m-62 1.5h2m36 0h3m15 0h3m-3 1.5h3m-125 1.5h3m92 0h3m12 0h6m-56 1.5h3m0 1.5h5m24 0h3m6 0h3m12 0h3m-53 1.5h2m33 0h3m12 0h6m-51 1.5h3m3 0h3m42 0h3m-48 1.5h3m12 0h3m21 0h3m-53 1.5h2m18 0h3m3 0h3m30 0h3m-125 3h6m54 0h3m26 0h3m12 0h3m3 0h3m-30 1.5h3m42 0h3m-51 1.5h6m-21 1.5h3m33 0h3m6 0h3m15 0h3m-63 1.5h3m48 0h3m3 0h3m-39 1.5h3m3 0h3m-6 1.5h6m-3 1.5h3m3 0h3m-15 1.5h3m18 0h3m3 0h3m-54 1.5h3m6 0h3m15 0h3m3 0h3m24 0h3m-131 1.5h3m63 0h2m36 0h3m-47 1.5h3m35 0h6m6 0h3m6 0h3m-21 1.5h3m3 0h3m3 0h3m3 0h3m-51 1.5h3m15 0h3m18 0h3m6 0h3m-48 1.5h3m-6 1.5h3m45 0h3m6 0h3m-15 1.5h3m-51 1.5h3m30 0h9m12 0h3m-59 1.5h2m9 0h3m-3 1.5h3m42 0h3m-45 1.5h3m-56 3h3m62 0h3m3 0h6m3 0h3m-30 1.5h3m27 0h6m-48 1.5h3m15 1.5h3m-12 3h3m15 0h3m-9 1.5h3m6 0h3m24 1.5h3m-128 1.5h3m65 0h3m18 0h3m-92 1.5h3m45 0h3m68 0h3m-39 1.5h3m12 0h3m-18 1.5h3m-71 3h3m45 4.5h3m38 0h3m9 1.5h3m-42 1.5h3m-12 1.5h3m12 0h3m-12 1.5h3m-71 1.5h3m83 0h6m-98 1.5h3m89 0h3m15 0h3m-12 1.5h3m0 1.5h3m6 0h3m-9 1.5h3m-27 1.5h3m12 1.5h3m-101 1.5h3m107 0h3m-36 1.5h3m18 0h3m12 0h3m-50 1.5h2m3 0h3m6 0h3m-23 1.5h3m0 1.5h5m33 0h3m6 0h3m18 0h3m-131 1.5h6m110 1.5h3m-39 1.5h3m45 1.5h3m-21 1.5h3m6 0h3m6 0h3m-48 1.5h3m3 0h3m18 1.5h3m-12 1.5h3m6 0h3m0 1.5h3m12 0h3m-15 1.5h9m-125 1.5h3m-3 1.5h3m3 0h3m15 0h3m18 0h3m6 0h3m65 0h3m-125 1.5h3m21 3h3m-30 1.5h3m3 0h3m27 0h3m6 0h3m-45 1.5h3m24 0h3m9 0h6m-6 1.5h3m-45 1.5h3m6 0h3m24 0h3m-30 1.5h3m-12 1.5h3m9 1.5h3m21 0h3m-36 1.5h3m18 0h3m18 0h3m6 0h3m68 0h3m-89 1.5h3m15 0h3m32 0h3m-44 1.5h3m-54 1.5h3m36 0h3m83 0h3m3 0h3m-134 1.5h3m33 0h3m9 0h3m-48 1.5h3m12 1.5h3m-21 1.5h3m12 0h3m-18 1.5h3m9 0h3m9 0h6m6 0h3m3 0h3m-39 3h3m27 0h3m-33 3h3m12 0h3m6 0h3m3 0h3m-24 1.5h3m21 0h6m-42 1.5h3m33 3h3m12 0h3m-51 1.5h3m21 0h3m6 0h3m3 0h3m-45 1.5h3m36 1.5h3m-45 3h3m30 1.5h3m-27 1.5h6m12 0h3m-27 1.5h3m24 0h3m12 0h3m-48 3h3m3 0h3m6 0h3m21 0h3m6 0h3m3 0h3m-30 1.5h3m0 1.5h3m6 0h3m9 0h3m38 0h3m-92 1.5h3m-6 1.5h3m21 0h3m30 0h3m-18 1.5h3m26 0h3m9 0h3m39 0h3m-80 1.5h3m-9 1.5h6m-12 1.5h3m-36 1.5h3m36 0h3m-21 1.5h3m-21 1.5h3m3 0h3m-12 1.5h3m9 1.5h3m30 0h9m-30 1.5h3m-27 1.5h3m39 1.5h3m3 0h3m20 0h3m-38 1.5h3m3 0h3m-42 1.5h3m39 0h3m62 3h3m-110 1.5h3m15 0h6m9 0h3m12 0h3m-51 1.5h3m21 0h3m3 0h3m-30 1.5h3m-6 1.5h3m27 0h3m0 3h6m-33 1.5h3m101 0h3m-101 1.5h3m9 0h3m0 3h3m-21 3h3m-9 1.5h3m0 3h3m89 0h3m-92 3h3m-12 1.5h3m33 0h3m68 0h3m-45 4.5h3m-74 3h3m33 1.5h3m3 0h3m0 1.5h3m-36 1.5h3m-15 6h3m12 0h3m18 1.5h3m-21 1.5h3m-3 4.5h3m18 0h3m-6 3h3m6 1.5h3m-30 1.5h3m18 0h9m-30 1.5h3m9 0h3m6 1.5h6m-42 1.5h3m15 0h3m3 1.5h3m9 0h3m6 0h6m65 0h3m-113 1.5h3m15 0h3m21 0h3m74 0h3m-113 1.5h3m24 0h3m-24 1.5h3m15 0h3m-45 1.5h3m33 0h3m6 0h3m-48 1.5h3m42 0h3m-27 1.5h3m-9 1.5h3m27 0h3m-9 1.5h3m-27 1.5h3m3 0h3m-18 1.5h3m9 0h3m9 0h3m15 0h3m3 0h3m20 4.5h3m3 0h3m-56 1.5h3m21 0h3m29 0h3m24 0h3m-107 1.5h3m27 0h3m-15 1.5h3m24 0h6m-42 1.5h3m-9 1.5h3m6 0h3m18 0h3m6 0h3m-51 1.5h3m3 0h3m45 0h3m-33 1.5h3m3 0h3m15 0h3m3 0h3"/>
<path fill="none" stroke="#425534" stroke-width="1.5" d="M152 48.75h3m30 0h3m-54 1.5h3m6 0h3m6 0h6m21 0h3m-56 1.5h8m9 0h3m39 0h6m-57 1.5h3m12 0h3m-18 1.5h3m12 0h3m6 0h3m18 0h3m-59 1.5h3m29 0h3m21 0h3m-53 1.5h2m39 1.5h3m9 0h3m-62 1.5h3m26 0h3m33 0h3m-42 1.5h3m21 0h6m-42 1.5h3m9 0h3m24 0h3m15 1.5h3m-51 1.5h3m39 0h3m-36 1.5h3m6 0h3m12 3h3m-51 1.5h3m18 0h3m-29 1.5h3m5 0h3m33 0h3m-50 1.5h3m3 0h2m36 0h3m3 0h3m-47 1.5h2m3 0h3m15 0h3m18 0h3m6 0h3m-18 1.5h3m21 0h3m-63 1.5h3m21 0h3m12 0h6m-104 4.5h3m56 0h3m3 0h3m9 0h6m-32 1.5h3m8 1.5h3m15 0h3m15 0h3m-50 1.5h3m29 0h3m-35 1.5h3m3 0h2m3 0h6m12 0h3m6 0h3m3 0h3m21 0h3m-116 1.5h3m53 0h3m42 0h3m-51 3h3m9 0h3m15 0h3m-98 1.5h3m71 0h3m3 0h3m6 1.5h3m33 1.5h3m-39 1.5h3m9 1.5h6m-36 1.5h3m30 1.5h3m-36 1.5h3m-14 1.5h3m2 0h3m12 0h3m24 1.5h3m-47 1.5h2m6 0h3m33 0h3m6 0h3m-59 1.5h3m2 0h6m-6 1.5h6m6 0h3m15 0h3m-38 1.5h3m5 0h6m33 0h3m-30 1.5h3m21 0h3m-44 3h5m21 0h3m30 0h3m-3 1.5h3m3 0h3m-27 1.5h3m-9 1.5h3m6 0h3m15 0h3m-45 3h3m-23 1.5h2m-5 1.5h3m32 0h3m-27 1.5h3m30 0h3m-3 1.5h3m-47 1.5h3m41 1.5h3m12 0h3m-62 1.5h3m14 0h3m42 0h6m-60 1.5h3m15 0h3m-24 1.5h6m-59 1.5h3m62 0h3m24 0h3m-47 1.5h3m2 0h3m33 0h9m18 0h3m-68 1.5h2m30 0h3m-33 1.5h6m27 0h3m-18 3h3m24 0h3m-12 1.5h3m21 0h3m0 1.5h3m-48 1.5h3m24 0h3m-39 1.5h6m-3 1.5h3m6 0h3m27 0h3m9 0h3m-71 3h3m32 0h3m9 0h3m3 0h3m-59 1.5h3m32 0h3m30 0h3m-54 3h3m12 0h3m3 0h3m6 0h3m3 0h3m-50 1.5h2m9 0h3m24 0h3m9 0h3m6 0h3m-42 1.5h3m6 0h3m-38 3h3m20 0h3m-18 1.5h3m45 0h3m-59 1.5h3m50 0h3m3 0h3m-48 1.5h6m39 0h3m9 1.5h3m-27 1.5h3m12 0h3m-21 1.5h3m-65 1.5h3m59 0h3m0 1.5h3m-33 1.5h3m-23 1.5h3m17 0h6m18 0h6m-21 4.5h3m-6 1.5h6m12 0h3m-30 1.5h3m15 0h3m9 0h3m18 1.5h3m-60 1.5h3m9 0h3m36 0h6m-62 1.5h5m6 0h3m9 0h3m24 0h3m-36 1.5h3m30 0h3m-3 1.5h3m6 0h3m-65 1.5h3m23 0h3m30 0h3m-54 1.5h3m51 0h3m-42 1.5h3m6 0h3m18 0h9m6 0h3m-57 1.5h6m6 1.5h3m18 1.5h3m18 0h3m-39 1.5h3m21 0h3m9 0h3m-71 1.5h3m5 0h6m3 1.5h3m3 0h3m6 0h3m18 0h3m-53 1.5h3m5 0h6m3 0h3m21 0h3m-30 1.5h3m3 0h3m30 0h3m6 0h3m-62 1.5h2m48 0h3m9 0h3m-42 1.5h3m3 0h3m33 1.5h3m-68 1.5h2m12 0h3m27 0h3m-47 3h2m21 0h3m12 0h3m24 0h3m-3 1.5h3m-74 1.5h3m5 0h3m-11 1.5h3m47 0h3m-110 1.5h3m68 1.5h3m3 0h3m21 0h3m15 0h3m-57 3h3m27 0h3m-27 1.5h3m21 1.5h3m18 0h3m-9 1.5h3m-21 1.5h3m-9 1.5h3m-24 1.5h3m27 0h3m18 0h3m-113 1.5h3m110 3h3m-59 1.5h2m6 0h3m27 1.5h3m6 0h3m-6 6h3m-18 4.5h3m-89 4.5h3m12 0h3m65 3h3m-18 1.5h3m42 3h3m-24 1.5h3m-38 3h2m12 1.5h6m9 0h3m-35 3h3m32 0h3m-44 1.5h3m44 0h3m-3 1.5h3m15 0h3m-57 1.5h3m18 0h6m-9 3h3m36 0h3m-3 1.5h3m-36 1.5h3m6 0h3m-33 1.5h3m9 0h3m45 0h3m-42 1.5h3m-29 1.5h2m21 0h3m33 0h3m-62 1.5h2m15 1.5h3m6 1.5h3m-3 1.5h6m-9 1.5h3m6 0h3m12 0h3m9 0h3m-6 3h3m-27 1.5h3m18 0h3m6 0h3m-33 1.5h3m0 1.5h3m27 0h3m-66 1.5h3m48 0h3m-12 1.5h3m-42 1.5h3m21 1.5h3m21 0h3m-51 3h3m15 0h3m30 3h3m-27 3h3m-35 3h5m21 0h3m33 0h3m-68 3h3m56 1.5h3m-18 1.5h3m-12 1.5h3m-3 1.5h3m21 0h6m-48 1.5h3m-74 1.5h3m45 0h3m8 0h3m9 0h3m21 0h3m24 1.5h3m-74 1.5h3m38 0h6m6 1.5h3m-33 1.5h3m39 0h6m-63 1.5h3m12 0h3m12 0h3m3 0h3m-98 1.5h3m45 0h3m26 0h3m30 0h3m-33 3h3m27 1.5h3m3 0h3m-68 1.5h3m38 6h3m9 0h6m9 0h3m-24 4.5h3m0 1.5h3m-21 3h3m33 0h3m-54 1.5h3m33 1.5h3m-6 6h3m-53 1.5h3m23 0h3m42 4.5h3m-131 4.5h3m65 0h3m27 1.5h3m6 0h3m9 0h3m6 0h3m-51 1.5h3m45 0h3m-66 1.5h6m6 0h3m27 0h6m-45 1.5h6m33 0h3m-47 1.5h2m30 0h3m-6 1.5h3m3 0h3m27 0h3m-39 3h3m3 0h3m3 1.5h3m0 1.5h3m6 0h3m-51 1.5h3m39 0h3m-42 3h6m6 0h6m-29 1.5h3m2 0h3m27 0h3m-24 1.5h3m27 0h3m6 0h3m-3 1.5h3m-51 1.5h3m18 0h3m27 0h3m3 0h6m-63 1.5h3m-68 1.5h3m6 0h3m59 1.5h3m51 1.5h3m-122 1.5h3m65 0h3m9 0h3m36 0h3m-42 3h3m3 0h3m21 3h3m9 0h3m-68 1.5h2m15 0h3m15 0h3m-33 1.5h3m3 0h3m12 0h3m12 0h6m9 0h3m-54 1.5h3m-11 3h3m20 0h3m6 0h3m-9 1.5h3m18 0h3m-113 1.5h3m57 0h3m20 0h6m6 0h3m-12 1.5h3m3 0h3m27 0h3m-62 1.5h3m5 1.5h3m21 0h3m33 0h3m-30 3h3m0 1.5h3m18 0h3m-54 1.5h3m9 0h3m-15 1.5h3m6 0h3m42 1.5h3m-63 1.5h3m9 0h3m30 0h3m3 0h3m-65 1.5h3m-3 1.5h3m8 0h3m12 0h3m-15 1.5h3m27 0h3m3 0h3m9 0h3m-62 1.5h3m5 0h3m42 0h3m3 0h3m6 0h3m-71 1.5h3m20 0h3m30 0h3m3 0h3m-48 1.5h3m21 0h3m-33 1.5h3m15 0h3m24 0h3m-27 1.5h3m24 0h6m-36 1.5h3m-9 3h3m21 0h3m-33 1.5h3m24 1.5h3m-21 1.5h3m27 0h3m9 0h3m-71 1.5h3m2 0h3m18 0h3m6 0h6m6 0h3m12 0h3m-42 3h3m30 0h3m-51 1.5h3m30 0h3m-44 1.5h3m50 0h3m6 0h3m-54 1.5h3m3 0h3m6 1.5h3m21 0h3m-24 1.5h3m24 0h6m-18 1.5h3m18 0h3m-45 1.5h3m24 0h6m-116 1.5h3m104 0h3m12 0h3m-65 1.5h3m14 0h3m6 0h3m-35 1.5h3m11 0h3m18 0h3m-27 1.5h3m3 0h3m9 0h3m21 0h3m12 0h3m-42 1.5h3m42 0h3m-48 1.5h3m9 0h3m-30 1.5h3m9 0h3m18 1.5h3m-101 1.5h3m65 0h3m6 0h3m12 0h3m24 0h3m-110 1.5h3m42 0h3m11 0h3m12 0h3m9 1.5h3m12 0h3m-45 1.5h3m3 0h3m-18 3h3m9 0h3m36 0h3m-51 1.5h3m15 0h3m-21 1.5h6m18 0h3m3 0h3m6 0h6m-39 1.5h3m24 0h3m-68 1.5h3m18 0h3m14 0h3m3 0h3m9 0h3m-95 1.5h3m65 0h3m0 1.5h3m21 0h3m0 1.5h3m-24 1.5h3m6 0h3m9 0h3m27 0h3m-74 1.5h3m8 0h3m30 0h3m-12 1.5h3m30 0h6m-71 1.5h5m30 0h6m12 0h3m6 0h3m-48 1.5h6m-3 1.5h3m39 0h3m-62 1.5h5m33 0h3m-27 1.5h3m45 0h3m-68 4.5h3m44 0h3m-36 1.5h3m15 0h3m-15 1.5h3m30 0h3m-21 3h3m30 0h3m-36 1.5h3m-41 1.5h3m47 0h3m-3 1.5h3m9 0h3m6 1.5h3m-57 1.5h3m3 0h3m21 0h3m9 0h3m-48 1.5h3m18 0h3m15 0h3m3 0h3m-62 1.5h3m50 1.5h3m9 0h3m-68 1.5h3m8 0h3m30 1.5h3m-9 1.5h3m3 0h3m-101 1.5h3m59 1.5h3m39 0h6m3 1.5h3m0 1.5h3m-65 1.5h3m3 1.5h2m9 0h3m33 0h3m9 1.5h3m-60 1.5h3m3 0h3m18 0h3m-18 1.5h3m12 0h3m-30 1.5h3m6 1.5h6m21 1.5h3m-30 1.5h3m3 0h3m24 0h3m-18 1.5h3m24 1.5h3m-18 1.5h3m-24 1.5h3m27 0h3m-53 1.5h2m54 0h3m-65 1.5h3m5 0h3m30 0h3m12 0h3m-21 1.5h3m6 0h3m3 0h3m-45 1.5h3m36 0h3m6 0h3m9 0h3m-66 1.5h3m12 0h3m18 0h3m18 1.5h3m-15 1.5h3m9 3h3m3 0h3m-9 1.5h6m-33 1.5h6m6 0h3m9 0h6m-30 1.5h3m27 3h3m-21 1.5h3m15 0h3m-27 1.5h3m12 0h3m3 3h3m-98 1.5h3m-27 1.5h6m15 0h3m15 0h3m-18 3h3m21 1.5h3m-39 1.5h3m-15 1.5h3m9 0h3m33 1.5h3m-21 1.5h3m15 1.5h3m-51 1.5h3m-9 1.5h3m6 0h3m30 1.5h3m12 1.5h3m-54 4.5h3m36 0h3m-39 1.5h3m-6 1.5h3m3 0h3m12 0h3m9 1.5h3m-30 3h3m12 0h3m-3 1.5h3m62 0h3m-41 1.5h3m-54 1.5h3m12 0h3m-15 1.5h3m9 0h3m3 0h3m-27 1.5h3m3 0h6m24 0h3m6 0h3m-45 1.5h3m12 0h3m3 0h3m3 0h3m15 0h3m-33 1.5h3m6 1.5h3m3 0h3m15 0h3m-15 1.5h3m-24 1.5h3m30 0h3m-3 1.5h3m-36 1.5h3m6 0h6m-27 1.5h3m12 0h3m-24 3h3m51 0h3m-39 1.5h3m6 0h3m-27 1.5h3m18 0h3m-21 1.5h3m18 0h3m24 0h3m-36 1.5h3m9 0h3m9 1.5h3m15 3h3m-57 1.5h6m12 0h3m-12 1.5h3m9 0h6m12 0h3m-42 1.5h3m21 0h3m18 0h3m-45 1.5h3m18 0h3m21 0h3m-60 1.5h3m15 0h3m6 0h3m-21 3h3m45 0h3m-48 3h3m12 0h3m9 1.5h3m12 0h3m-48 1.5h3m3 0h6m9 0h3m24 1.5h3m-57 1.5h3m18 0h3m3 1.5h3m41 0h3m-68 1.5h3m39 0h3m-36 3h6m18 0h6m0 1.5h3m-33 1.5h3m15 3h3m0 1.5h3m-39 4.5h3m6 0h3m-3 1.5h3m-12 1.5h3m-6 3h6m24 0h3m-18 1.5h3m6 7.5h3m15 3h3m-45 1.5h3m36 3h3m-21 3h6m-9 1.5h3m-18 1.5h3m12 1.5h3m-3 3h3m-15 1.5h3m12 0h3m6 0h3m9 6h3m-18 1.5h6m15 0h3m-12 1.5h3m-12 1.5h6m18 0h3m-54 3h3m15 1.5h6m30 0h3m-57 3h3m42 0h3m-36 1.5h3m12 0h3m21 0h3m-51 1.5h6m21 0h3m3 0h3m-9 1.5h3m-24 1.5h3m15 0h3m-30 1.5h3m21 0h3m27 0h3m-42 1.5h3m9 0h6m-27 1.5h3m9 0h3m98 6h3m-92 1.5h3m-30 1.5h3m15 0h3m-24 3h3m24 0h3m-9 1.5h3m27 0h3"/>
<path fill="none" stroke="#75a24c" stroke-width="1.5" d="M161 48.75h3m-41 21h3m62 0h3m-3 1.5h3m-62 3h2m30 4.5h3m24 1.5h3m-3 1.5h3m-45 1.5h3m42 0h3m0 7.5h3m-66 3h3m3 0h3m48 0h3m3 4.5h3m-15 3h3m-56 1.5h2m-8 3h3m3 0h5m54 0h3m-62 3h2m0 1.5h3m0 7.5h6m-6 6h3m3 1.5h3m42 1.5h3m-65 10.5h3m3 1.5h2m21 12h3m39 0h3m-45 4.5h3m39 0h3m-74 3h3m11 1.5h3m3 0h3m42 0h3m3 1.5h3m-66 1.5h3m51 1.5h3m-51 1.5h3m51 3h3m-54 4.5h6m0 1.5h3m-3 4.5h3m12 0h3m-18 1.5h3m12 4.5h3m-18 3h3m-6 3h3m-23 1.5h3m11 0h9m15 0h3m-38 1.5h3m53 0h3m-3 1.5h3m-51 3h3m-6 3h3m48 10.5h3m-48 76.5h3m-11 4.5h2m-11 6h3m17 1.5h3m-20 3h6m20 1.5h3m-18 1.5h3m-8 1.5h5m9 0h3m-17 4.5h5m-3 3h3m12 3h3m-29 4.5h3m20 0h3m0 1.5h6m-32 3h3m8 1.5h3m57 0h3m-71 1.5h6m26 1.5h3m-9 6h3m12 0h3m-47 1.5h3m3 1.5h3m26 0h3m-29 1.5h2m42 4.5h3m15 0h3m-48 3h3m-9 3h3m-3 1.5h3m-12 48h3m18 0h3m-29 1.5h3m5 4.5h3m15 0h3m36 3h3m-33 1.5h3m-38 1.5h3m14 4.5h3m-15 12h3m60 7.5h3m-21 3h3m12 13.5h3m0 4.5h3m-24 10.5h3m-53 1.5h3m44 1.5h3m21 1.5h3m-36 10.5h3m-44 3h3m23 7.5h3m-12 1.5h3m0 3h3m-20 1.5h3m-6 3h3m17 1.5h3m18 0h3m-3 1.5h3m-41 1.5h3m8 3h3m-14 7.5h3m41 25.5h3m24 0h3m-3 12h3m-3 4.5h3m-6 16.5h3m-12 3h3m-45 9h3m48 0h3m-6 1.5h3m-24 12h3m-47 1.5h3m11 0h3m-11 4.5h2m6 0h3m-3 6h3m-17 1.5h3m-42 13.5h3m-6 1.5h3m3 10.5h3m27 15h6m-12 7.5h3m0 7.5h3m0 30h3m-36 16.5h3m33 0h3m-12 3h3m-24 1.5h3m-18 1.5h3m12 0h3m-24 1.5h3m24 3h3m21 1.5h3m-9 3h3m-27 3h3m-3 1.5h3m21 3h3m-33 1.5h3m3 0h3m-27 1.5h6m18 0h6m15 1.5h3m6 0h3m-48 1.5h3m6 4.5h3m0 7.5h3m-18 1.5h3m45 1.5h3"/>
<path fill="none" stroke="#313c2c" stroke-width="1.5" d="M167 48.75h3m24 0h3m-42 3h3m-35 1.5h3m26 0h3m39 0h3m-3 1.5h3m-92 1.5h3m44 0h3m-59 1.5h3m27 0h3m20 0h3m6 0h6m6 0h3m3 0h3m-56 1.5h3m29 0h3m-29 1.5h5m24 0h3m-3 3h3m6 0h3m9 0h3m-86 1.5h3m24 0h3m17 0h3m18 0h3m12 0h3m6 0h3m-24 1.5h3m12 0h3m-107 3h3m50 0h3m24 0h3m-92 3h3m83 1.5h6m3 0h3m-80 1.5h3m18 0h3m-45 1.5h3m80 0h3m39 0h3m-116 4.5h3m68 0h3m12 0h3m12 0h3m-119 3h3m77 0h6m24 0h3m12 0h3m-65 1.5h3m38 0h3m9 0h3m-36 1.5h3m27 0h3m-101 1.5h3m9 0h3m86 1.5h3m-77 1.5h3m56 0h3m-98 3h3m77 0h3m18 1.5h3m12 0h3m3 0h3m-30 1.5h3m3 0h3m-30 1.5h3m15 0h3m24 0h3m-113 4.5h3m18 0h3m68 0h3m-50 3h3m17 0h3m6 0h3m-21 1.5h3m42 0h3m-39 1.5h3m-68 1.5h3m50 0h3m-5 1.5h2m45 0h3m-56 1.5h3m23 3h3m27 0h3m-33 1.5h3m15 0h3m9 0h3m-119 1.5h3m6 0h3m104 0h3m3 0h3m-122 1.5h3m95 0h15m-30 1.5h3m36 0h3m-21 1.5h3m-110 4.5h3m36 0h3m38 0h6m-77 1.5h3m59 1.5h3m30 1.5h3m-21 4.5h3m15 0h3m6 0h3m-18 1.5h3m12 1.5h6m-48 1.5h3m39 0h3m-30 1.5h3m-89 1.5h3m6 0h3m65 0h3m15 0h3m21 0h3m-122 1.5h6m80 0h3m21 0h6m-116 1.5h3m92 1.5h3m18 0h3m-51 1.5h3m27 0h3m-15 1.5h3m18 0h3m-6 1.5h3m-21 1.5h3m15 1.5h3m-3 1.5h3m-15 1.5h3m6 0h3m3 0h3m-12 1.5h3m-18 1.5h6m6 0h3m18 0h3m-33 3h3m24 0h3m-83 4.5h3m38 0h3m30 0h3m18 4.5h3m-51 1.5h3m24 0h3m9 0h6m-12 1.5h3m-24 1.5h3m-6 1.5h3m-92 3h6m3 0h3m51 0h3m20 0h3m33 0h3m-122 1.5h3m77 0h3m-29 1.5h3m26 0h3m6 0h3m18 0h3m-119 1.5h3m12 0h3m95 0h3m-12 1.5h3m-107 3h3m65 1.5h6m3 0h3m48 3h3m-39 1.5h3m6 0h3m-27 3h3m12 0h3m-29 1.5h2m36 0h3m9 0h3m9 0h3m-21 1.5h3m-86 1.5h3m68 0h3m21 0h3m3 0h6m-68 1.5h2m12 0h3m42 0h3m-125 1.5h3m57 0h3m20 0h3m21 0h3m12 0h3m-27 1.5h3m-30 1.5h3m12 0h6m9 0h3m15 0h6m-68 1.5h3m23 0h3m12 0h3m-12 1.5h3m-15 1.5h3m39 1.5h3m-51 3h3m-9 1.5h3m21 0h3m12 0h3m-107 1.5h3m71 0h3m33 0h3m3 0h3m-59 1.5h3m11 0h3m36 0h3m-53 1.5h2m15 0h6m18 0h6m-36 1.5h3m24 1.5h3m6 0h3m15 0h3m-80 1.5h3m6 0h3m5 1.5h3m42 0h3m-110 1.5h3m65 0h3m6 0h3m6 0h3m27 0h3m-68 1.5h3m14 0h3m39 0h3m-39 1.5h3m12 0h3m18 0h3m-59 1.5h3m2 0h3m12 0h3m3 0h3m15 0h3m6 0h3m3 1.5h3m-12 1.5h3m9 0h3m-51 1.5h3m51 0h3m-42 1.5h3m-18 3h3m21 0h3m24 0h3m-6 1.5h3m-30 1.5h3m15 0h3m-45 1.5h3m21 0h3m-38 1.5h3m5 0h3m30 0h3m6 0h3m-113 1.5h3m95 0h3m15 0h3m-113 1.5h3m48 0h3m11 0h3m6 0h3m9 0h3m6 0h3m6 0h3m3 0h3m-42 1.5h3m-15 1.5h3m15 0h3m33 0h3m-125 1.5h3m68 0h3m3 0h3m12 0h3m3 0h3m24 0h3m-62 1.5h2m-5 1.5h3m50 0h6m-51 1.5h3m9 0h3m12 0h3m18 0h6m-54 1.5h3m39 1.5h3m-42 1.5h3m27 0h3m-21 1.5h3m30 0h3m3 0h3m-54 1.5h3m0 1.5h3m12 0h3m33 0h3m-71 1.5h3m26 0h9m-38 1.5h3m11 0h3m6 0h3m-86 1.5h3m33 0h3m29 0h3m24 0h6m18 0h6m-12 1.5h3m-86 1.5h3m95 0h3m-119 1.5h3m80 3h3m15 0h3m15 0h3m-92 1.5h3m18 0h3m14 0h3m15 0h3m-62 1.5h3m26 0h3m24 0h3m3 0h3m-104 1.5h3m3 0h3m104 0h6m3 0h3m-113 1.5h3m21 0h3m68 0h3m9 0h3m-110 1.5h3m92 0h3m-65 1.5h3m26 0h3m27 0h3m-6 1.5h3m18 0h3m-30 1.5h3m-6 1.5h3m9 0h6m3 0h3m-77 1.5h3m38 0h3m9 0h3m9 0h3m-6 1.5h3m12 0h3m-9 1.5h3m-104 1.5h3m89 0h3m6 0h3m18 0h3m-27 1.5h3m0 3h6m12 1.5h3m-101 1.5h3m80 0h3m-15 1.5h3m3 0h3m3 0h3m-39 1.5h3m33 0h3m-56 1.5h3m32 0h6m24 0h3m-24 1.5h3m18 1.5h3m-83 1.5h3m80 0h3m-122 1.5h9m74 0h3m6 0h3m6 0h6m-6 1.5h3m-33 6h3m42 0h3m-21 1.5h3m-42 3h3m39 0h6m-6 3h3m-42 1.5h3m21 0h3m33 0h3m-60 1.5h3m-62 1.5h3m74 0h3m36 0h3m-39 3h3m24 0h3m-125 3h3m6 0h3m68 0h3m9 0h3m3 0h6m27 0h3m-42 1.5h3m6 0h3m3 0h3m-50 1.5h3m35 0h3m6 0h9m-30 1.5h3m-26 1.5h5m36 0h3m18 0h3m-125 1.5h3m54 0h3m3 0h2m33 0h3m9 0h3m6 0h3m-59 1.5h2m24 0h3m36 0h3m-74 1.5h3m32 0h3m27 0h3m-89 1.5h3m29 0h3m9 0h3m24 1.5h3m-30 1.5h3m9 0h6m18 0h3m-15 1.5h6m-50 1.5h3m2 0h3m42 0h3m6 0h6m-68 1.5h3m8 0h3m18 0h3m33 0h3m-86 1.5h3m77 0h6m-128 1.5h3m60 0h2m6 0h3m3 0h3m3 0h3m3 0h3m-92 1.5h9m71 0h3m27 0h3m12 1.5h3m-68 1.5h5m21 0h3m18 0h3m3 0h3m-53 1.5h2m18 0h3m6 0h3m-24 1.5h3m24 0h3m6 0h3m6 1.5h3m-51 1.5h3m3 0h3m24 0h3m-33 1.5h3m24 0h3m12 0h3m-24 1.5h3m6 0h3m-41 1.5h2m48 0h3m3 0h3m-42 3h3m21 0h3m-50 1.5h3m17 0h3m42 0h3m-122 1.5h3m24 0h3m9 0h3m65 0h3m-83 1.5h6m32 0h3m51 0h3m-86 1.5h3m23 0h3m39 0h6m-24 1.5h3m-15 1.5h3m15 0h3m24 0h3m-21 4.5h3m-3 1.5h3m-15 1.5h3m-98 1.5h6m95 1.5h3m-101 3h3m122 0h3m-86 1.5h3m12 0h3m47 0h3m6 0h3m-62 1.5h3m3 1.5h2m3 0h6m27 0h9m-42 1.5h3m39 0h3m-104 1.5h3m95 0h3m-83 1.5h3m15 0h3m3 0h3m-12 1.5h3m47 0h3m18 0h3m-6 1.5h3m-3 1.5h3m-48 1.5h3m3 0h6m3 0h3m21 1.5h3m-12 1.5h3m-92 1.5h3m48 0h3m5 0h3m51 0h3m-119 1.5h3m104 0h3m-30 1.5h6m-83 4.5h3m56 0h3m51 0h3m-80 1.5h3m83 0h3m-128 1.5h6m77 0h6m12 1.5h3m9 0h3m-48 1.5h3m45 0h3m-45 1.5h6m3 0h3m9 0h3m12 0h3m-27 1.5h3m6 0h3m-27 1.5h3m9 0h3m-12 1.5h3m6 0h3m24 0h3m-27 1.5h3m-32 1.5h3m29 0h3m3 0h3m9 1.5h3m-89 3h3m3 0h3m41 0h3m30 0h3m15 0h3m-12 1.5h3m-51 1.5h3m-8 1.5h2m27 1.5h6m-12 1.5h3m27 0h3m-39 1.5h3m-23 1.5h3m2 0h3m-3 1.5h3m33 0h3m-44 1.5h3m53 0h3m3 0h3m-116 1.5h3m56 0h3m6 0h3m30 0h3m6 0h3m-48 3h3m9 0h3m6 0h3m9 0h3m-47 3h2m60 0h3m-65 1.5h2m33 0h3m-89 3h3m71 0h3m9 0h3m18 0h3m-45 1.5h3m18 0h3m-9 3h3m6 0h3m-50 1.5h3m41 1.5h3m27 0h3m-3 1.5h3m-12 1.5h3m-42 1.5h3m30 1.5h3m3 0h3m6 0h3m-131 4.5h3m60 0h2m12 0h3m18 0h6m-41 4.5h2m24 0h3m12 0h3m6 0h9m-116 1.5h3m95 0h3m9 0h6m-125 3h9m51 0h6m8 0h3m15 0h3m12 0h3m-3 1.5h3m9 0h3m-116 1.5h3m86 1.5h9m15 0h3m-6 1.5h3m3 0h3m-30 1.5h3m18 0h3m3 0h3m6 0h3m-134 1.5h3m110 0h3m-116 1.5h3m89 0h3m3 0h9m21 0h6m-131 1.5h3m65 0h3m39 1.5h3m15 0h3m-63 1.5h6m48 0h3m-125 1.5h3m68 0h6m27 0h3m15 0h3m-89 1.5h3m68 0h6m-12 1.5h6m12 0h3m-59 1.5h2m45 0h3m-39 1.5h3m36 0h3m-56 1.5h3m41 0h3m15 0h9m-71 3h3m38 0h3m18 0h3m-65 1.5h3m35 0h3m15 0h3m-122 1.5h3m63 0h2m45 0h3m-36 3h3m12 0h3m15 0h3m-36 1.5h3m-77 1.5h3m59 0h3m30 1.5h3m15 0h3m-122 1.5h3m68 0h3m12 0h3m33 0h3m-86 1.5h3m6 0h3m29 0h3m36 0h3m-122 1.5h3m74 0h3m6 1.5h3m-23 1.5h2m15 0h3m15 0h3m18 0h3m-18 3h3m6 0h3m-71 1.5h3m59 0h6m-27 1.5h3m-6 1.5h3m-68 1.5h3m18 0h3m15 0h3m8 0h3m54 0h3m-98 1.5h3m41 0h3m-80 1.5h3m9 0h3m3 0h3m21 0h3m15 0h3m5 0h6m27 0h3m3 0h3m-47 1.5h3m38 0h3m-18 1.5h3m12 0h6m-47 1.5h3m-66 1.5h3m92 0h3m-27 1.5h3m-11 1.5h3m8 0h3m24 0h6m6 0h3m-24 3h3m30 0h3m-51 1.5h3m-12 1.5h3m3 0h3m-11 1.5h2m3 0h3m27 0h3m-38 1.5h2m-68 1.5h3m71 0h3m3 0h3m-83 3h3m74 0h3m-80 1.5h3m39 0h3m18 0h3m-63 1.5h3m77 0h3m39 0h3m-128 1.5h3m80 0h3m-71 1.5h3m0 1.5h3m101 0h3m-83 1.5h3m44 0h3m0 3h3m9 0h3m6 0h3m-113 3h3m113 0h3m-36 1.5h3m36 0h3m-9 1.5h9m-122 1.5h3m98 0h3m-27 1.5h3m-83 3h3m95 0h6m21 0h3m-68 1.5h3m17 0h3m27 0h3m-104 1.5h3m56 0h3m33 0h3m-95 3h3m9 0h3m15 1.5h6m6 0h3m14 0h3m-68 1.5h3m27 0h3m-36 1.5h3m0 1.5h3m27 0h3m89 0h3m-95 1.5h3m-27 3h3m0 3h3m15 0h3m-12 1.5h3m15 0h3m0 1.5h3m3 0h3m-54 1.5h3m27 0h3m-21 3h3m-6 1.5h3m30 0h3m68 0h3m6 0h3m-83 3h3m35 0h3m-68 1.5h3m12 0h3m-27 1.5h3m12 0h3m-15 3h3m24 0h3m50 0h3m-86 3h3m80 0h3m-92 1.5h3m9 0h3m21 0h3m-36 1.5h3m3 0h3m116 0h3m-134 1.5h6m36 0h3m-9 1.5h3m24 0h3m26 0h3m-86 3h3m18 1.5h3m3 0h6m6 1.5h3m74 0h3m-125 1.5h3m30 0h3m6 0h3m-9 1.5h3m-21 1.5h3m3 0h3m12 0h3m0 1.5h3m-39 1.5h3m42 0h3m-45 1.5h3m18 0h3m-6 1.5h3m21 1.5h3m9 1.5h2m9 0h3m33 0h3m-71 1.5h3m-24 1.5h3m89 0h3m-119 1.5h3m33 1.5h3m89 0h3m-110 1.5h3m21 0h3m6 0h3m14 0h3m-65 1.5h3m24 0h3m-27 1.5h3m104 0h3m-119 1.5h3m6 0h3m3 0h3m9 0h3m12 0h3m44 0h3m-56 1.5h3m50 0h3m27 0h3m6 0h3m-125 1.5h3m3 0h3m18 0h6m3 0h3m-45 1.5h3m24 0h3m9 0h3m-15 3h3m6 0h3m-36 1.5h3m36 0h3m-15 1.5h3m74 0h3m-110 1.5h3m104 0h3m18 0h3m-104 3h3m3 0h6m3 1.5h3m-24 1.5h3m-15 1.5h3m-9 1.5h3m62 0h3m-71 1.5h3m21 0h3m-30 1.5h3m36 0h3m-3 1.5h6m68 0h3m-74 4.5h3m26 0h3m-71 1.5h3m36 1.5h6m38 0h3m-86 3h3m24 0h3m41 1.5h3m-74 1.5h3m33 0h3m-3 6h3m-27 1.5h3m21 0h3m-27 1.5h6m-6 1.5h3m21 1.5h3m-6 1.5h3m-27 4.5h3m24 0h3m-6 3h3m-3 1.5h3m-30 1.5h3m24 0h3m-21 1.5h3m18 0h3m-3 1.5h3m24 0h2m33 0h3m-95 3h3m-9 1.5h3m9 0h3m-12 1.5h6m6 0h3m24 0h3m-48 1.5h3m6 0h3m33 0h3m-39 1.5h3m9 0h3m33 0h3m-60 1.5h3m71 0h3m54 0h3m-128 1.5h3m9 1.5h3m18 0h3m3 0h3m6 0h3m74 0h3m-122 1.5h3m21 1.5h3m3 0h3m-45 4.5h3m33 0h3m-39 1.5h3m48 0h3m-36 3h3m18 1.5h6m32 0h3m-44 1.5h3m35 0h3m45 0h3m-51 1.5h3m30 0h3m-98 1.5h3m15 0h3m-33 1.5h3m24 1.5h3m27 0h3m23 0h3m-29 1.5h3m-54 1.5h3m27 0h6m-39 1.5h3m3 0h3m12 0h3m27 0h3"/>
<path fill="none" stroke="#6f9a4a" stroke-width="1.5" d="M170 48.75h3m-42 4.5h3m-5 1.5h2m3 1.5h3m33 6h3m21 7.5h3m-60 1.5h3m48 6h3m-60 1.5h3m12 0h3m39 0h3m3 6h3m-6 3h3m-71 4.5h3m14 0h3m30 1.5h3m-50 1.5h3m2 3h3m57 0h3m-65 1.5h2m-5 1.5h3m23 0h3m-24 1.5h3m48 0h3m9 4.5h3m-12 9h3m-27 1.5h3m24 7.5h3m-68 1.5h3m41 0h3m-30 9h3m-17 1.5h3m53 0h3m-48 3h3m33 1.5h3m15 7.5h3m-12 1.5h3m-42 1.5h3m42 0h3m-51 3h3m30 0h3m-50 3h3m8 3h3m42 0h6m-42 1.5h3m24 0h3m18 0h3m-6 1.5h3m-12 3h6m-6 1.5h3m-39 1.5h3m24 0h3m-36 4.5h3m21 4.5h6m9 0h3m12 0h3m-36 1.5h3m-3 3h3m18 0h3m-65 1.5h3m50 3h3m6 0h3m9 0h3m-68 1.5h2m0 1.5h3m51 0h3m-57 3h3m9 0h3m42 0h3m-45 4.5h3m-6 3h3m15 0h3m-33 10.5h3m6 0h3m42 0h3m-54 70.5h3m57 1.5h3m-57 1.5h3m-6 1.5h3m48 0h3m-68 1.5h3m-6 1.5h3m14 3h3m15 0h3m-29 3h2m0 3h3m3 3h3m-11 3h2m6 0h3m-9 1.5h3m60 0h3m-33 3h3m27 0h3m-60 1.5h3m0 4.5h3m-20 1.5h3m29 1.5h3m-18 6h3m9 4.5h3m9 0h3m-36 3h3m24 0h3m-18 4.5h3m-6 6h3m9 1.5h3m-35 3h3m41 0h3m21 3h3m-68 3h3m14 48h3m-9 1.5h3m12 0h3m39 3h3m-54 1.5h3m45 0h3m-48 1.5h3m45 0h3m-65 6h2m12 3h3m-20 1.5h3m8 13.5h3m0 3h3m-9 6h6m21 0h3m-3 4.5h3m-41 9h3m-3 1.5h3m65 7.5h3m-71 3h3m44 3h3m21 1.5h3m-74 1.5h3m17 0h3m-23 1.5h3m-3 1.5h3m44 1.5h3m-27 3h3m-26 3h3m20 0h3m-3 1.5h3m42 1.5h3m-57 7.5h3m6 0h3m24 0h3m-15 3h3m-27 1.5h3m6 1.5h3m-29 6h3m50 1.5h3m-53 13.5h3m35 0h3m-41 15h3m35 7.5h3m3 0h3m18 4.5h3m3 0h3m-63 12h3m0 4.5h3m-17 7.5h3m32 3h3m-15 1.5h3m33 0h3m6 3h3m-57 1.5h3m6 0h3m12 0h3m21 0h3m-3 1.5h3m3 0h3m-21 6h3m18 7.5h3m-54 10.5h3m-23 3h3m8 0h3m-17 7.5h3m-42 6h6m33 0h3m-48 3h3m6 0h3m6 0h3m0 1.5h3m-9 1.5h3m-6 3h3m-6 1.5h3m3 10.5h3m-12 3h3m21 0h3m-24 3h3m9 1.5h3m-15 1.5h3m-6 12h3m12 0h3m-3 34.5h3m15 1.5h3m3 7.5h3m-27 3h3m-36 12h3m3 1.5h3m45 0h3m-36 1.5h3m6 0h3m21 0h3m-33 1.5h3m27 6h3m-6 1.5h3m3 0h3m-60 1.5h3m6 3h3m15 1.5h3m27 0h3m-54 1.5h3m21 0h3m21 1.5h3m-51 3h3m24 0h3m-12 1.5h3m27 0h3m-36 4.5h3m6 1.5h3m-24 1.5h3m12 0h6m24 3h3m0 7.5h3m-3 1.5h3m-3 10.5h3m-12 1.5h3"/>
<path fill="none" stroke="#536f3c" stroke-width="1.5" d="M173 48.75h3m-6 1.5h3m18 0h6m-36 1.5h3m-35 1.5h2m39 0h3m-42 1.5h3m-8 1.5h5m30 0h3m-35 6h2m6 0h3m42 0h3m3 0h3m-65 1.5h5m9 0h3m48 0h3m-33 1.5h3m-35 1.5h5m27 0h3m6 0h3m-21 1.5h3m-21 1.5h3m12 0h3m-29 1.5h3m38 0h3m6 0h3m15 0h3m-21 1.5h3m-30 1.5h3m-26 3h3m41 0h3m15 0h3m-62 1.5h3m26 0h3m-9 1.5h3m42 0h3m-74 1.5h3m35 4.5h3m30 0h3m-68 1.5h2m18 1.5h6m30 0h3m-48 1.5h3m39 0h3m-56 1.5h2m30 0h3m27 0h3m-71 1.5h3m26 0h3m9 0h6m15 0h3m-51 1.5h6m21 0h3m3 0h3m-101 1.5h3m62 1.5h3m-17 3h3m35 0h3m3 0h3m6 0h3m-42 1.5h3m33 0h3m-33 3h6m27 0h3m-33 1.5h3m33 0h3m-21 1.5h3m18 3h3m-45 1.5h6m45 0h3m-57 1.5h3m42 0h3m-65 3h3m47 0h3m6 0h3m9 0h3m-74 1.5h3m62 0h3m-68 3h3m11 0h3m6 0h3m-23 4.5h3m38 1.5h3m12 0h3m-3 1.5h3m-45 3h6m18 0h3m27 0h3m-68 1.5h2m3 1.5h3m39 0h3m-33 1.5h3m18 0h3m3 0h3m18 1.5h3m-74 1.5h3m5 0h3m6 0h3m-20 1.5h3m3 0h2m15 1.5h3m42 0h3m-54 1.5h3m3 0h3m33 0h3m-56 3h2m54 0h3m-59 3h2m-5 1.5h3m8 0h3m39 3h3m-56 1.5h3m0 3h2m39 0h3m6 0h3m6 1.5h3m-39 1.5h3m-21 3h3m-11 1.5h3m2 0h6m-14 1.5h3m3 0h2m9 0h3m36 0h3m-12 1.5h3m21 0h3m-57 1.5h3m18 0h3m24 0h3m-39 1.5h3m27 0h6m-33 1.5h3m-27 4.5h3m9 0h3m3 1.5h3m-15 1.5h3m33 0h3m-53 4.5h3m62 0h3m-3 1.5h3m-71 1.5h3m41 1.5h3m-15 1.5h3m30 1.5h3m-27 1.5h6m-6 1.5h3m24 0h3m-48 1.5h3m-26 1.5h3m23 0h3m0 1.5h3m36 0h6m-65 1.5h2m3 0h3m-14 3h3m5 3h3m-8 3h5m9 1.5h3m-12 1.5h3m-5 3h5m48 0h3m9 1.5h3m-66 1.5h3m-11 1.5h3m17 0h3m15 0h3m-38 1.5h3m53 0h3m-21 1.5h3m-38 4.5h2m3 1.5h3m57 3h3m-15 36h3m-33 1.5h3m-3 10.5h3m18 0h3m-45 1.5h3m18 0h3m12 0h3m-27 1.5h3m27 1.5h3m15 0h3m-33 1.5h3m-27 3h3m9 0h3m-15 3h3m-3 4.5h3m30 0h3m9 0h3m-51 1.5h3m45 7.5h3m-42 1.5h3m36 0h3m-36 3h3m6 0h3m-18 1.5h3m3 0h3m3 1.5h3m-29 1.5h2m15 0h3m42 0h3m-65 1.5h2m57 0h3m3 0h3m-36 3h3m-24 1.5h3m3 0h6m3 0h3m3 0h3m-38 1.5h3m-9 1.5h3m44 1.5h3m3 1.5h3m9 0h3m-59 3h2m18 3h3m3 1.5h6m6 0h3m18 1.5h3m-42 1.5h6m-15 1.5h3m-6 1.5h3m-11 3h2m15 1.5h3m27 0h3m-59 1.5h3m29 0h3m3 1.5h3m24 0h3m-51 1.5h3m27 0h3m-21 1.5h3m6 18h3m33 10.5h3m-3 1.5h3m-48 6h3m33 9h3m-6 1.5h3m9 0h3m-74 1.5h3m3 0h2m60 0h3m-39 1.5h3m30 1.5h3m-45 1.5h3m6 0h3m3 0h3m12 0h3m6 0h3m-62 1.5h3m32 0h3m0 1.5h3m9 0h3m3 0h3m3 0h3m-62 3h2m-8 1.5h3m29 1.5h3m3 0h3m9 0h3m-47 3h2m15 0h3m-26 1.5h3m5 0h3m18 0h3m21 0h3m9 0h3m-68 1.5h3m53 0h3m-51 4.5h3m48 0h3m-3 1.5h3m-48 1.5h3m3 0h3m15 0h3m-41 3h3m56 0h3m-42 1.5h3m42 1.5h3m-68 1.5h3m5 0h3m9 0h3m-9 1.5h3m3 0h6m0 1.5h3m3 0h3m30 1.5h3m-18 1.5h3m-113 1.5h3m71 0h3m24 1.5h3m12 0h3m-45 1.5h3m3 0h3m6 0h3m-12 1.5h3m6 0h3m33 0h6m-68 3h3m14 0h3m6 0h3m-15 3h3m45 0h3m-24 1.5h3m-27 1.5h3m-12 1.5h3m-6 6h3m12 0h3m18 1.5h3m21 0h3m-27 1.5h3m18 1.5h3m-42 1.5h3m33 0h3m-45 1.5h3m-12 1.5h3m9 0h3m33 0h3m6 0h3m-54 1.5h6m27 0h3m-42 3h3m12 3h3m9 0h3m-27 3h3m21 0h3m-38 1.5h3m5 0h6m30 0h3m18 0h3m-33 3h3m-30 1.5h3m3 0h3m51 0h3m-77 1.5h3m6 0h2m12 0h3m3 0h3m21 0h3m-53 1.5h3m5 0h3m12 0h6m-32 1.5h3m6 0h2m21 0h3m-29 1.5h3m59 3h3m-54 1.5h3m9 0h6m6 1.5h3m-3 1.5h3m-6 1.5h3m-3 1.5h3m12 0h3m18 0h3m-68 1.5h2m15 0h3m3 0h6m18 0h3m15 0h3m-77 3h3m26 0h3m9 0h3m12 0h3m-21 4.5h3m33 0h3m-51 3h3m18 0h3m12 1.5h3m-116 7.5h3m65 6h3m0 6h3m36 0h3m-42 3h3m3 0h3m-18 1.5h3m30 1.5h3m21 0h3m-45 4.5h3m24 0h3m-3 1.5h3m-45 3h3m27 1.5h3m-3 4.5h3m-21 1.5h3m-12 3h3m3 0h3m27 0h3m-27 1.5h3m-86 9h3m57 0h3m17 0h6m15 0h3m-36 1.5h3m6 0h3m21 0h3m-44 3h3m8 0h3m27 3h3m3 0h3m-12 1.5h3m6 0h3m9 0h3m-3 3h3m-51 1.5h3m3 0h3m-12 1.5h3m0 1.5h3m3 0h3m21 1.5h3m-21 1.5h3m21 0h3m9 0h3m-51 1.5h3m21 1.5h3m-3 1.5h3m12 4.5h6m-18 3h3m-21 4.5h3m27 1.5h3m6 0h3m-24 1.5h3m30 0h3m-42 1.5h3m3 0h3m-3 1.5h3m21 1.5h3m6 0h3m-113 1.5h3m-12 1.5h3m39 0h6m-60 1.5h3m27 0h3m12 0h6m-27 1.5h3m-24 1.5h3m51 0h3m-57 3h3m51 0h3m-57 1.5h3m39 1.5h3m-45 1.5h3m3 0h3m-12 1.5h3m6 0h3m21 1.5h3m-24 1.5h3m18 0h3m9 1.5h3m-15 3h3m21 0h3m-27 1.5h3m6 0h3m3 0h3m-21 4.5h3m-24 1.5h3m15 0h3m0 3h6m12 0h3m3 0h3m-27 3h3m-3 1.5h3m-21 1.5h3m15 0h3m-6 1.5h3m24 1.5h3m-3 1.5h3m-24 3h3m-30 1.5h3m39 3h3m-33 1.5h3m-12 1.5h3m6 0h3m12 3h3m-15 1.5h3m30 1.5h3m-36 6h3m9 0h3m12 0h3m-48 1.5h3m15 0h3m9 4.5h3m-15 3h3m18 0h3m-24 1.5h3m30 0h6m-27 1.5h3m15 0h6m-39 1.5h3m3 1.5h3m-15 1.5h3m36 0h3m-27 1.5h3m12 0h3m-21 4.5h3m24 0h3m-48 1.5h3m3 0h3m15 1.5h3m-6 7.5h3m-21 1.5h3m12 0h3m24 4.5h3m-45 1.5h3m-12 3h3m-3 1.5h3m30 1.5h3m-24 4.5h3m6 1.5h3m6 0h3m18 0h3m-45 3h3m45 1.5h3m-57 4.5h3m45 6h3m-54 3h3m45 0h3m-24 3h3m3 1.5h3m-30 1.5h3m12 0h3m33 1.5h3m-36 9h6m27 0h3m-54 1.5h6m36 1.5h3m-27 3h6m9 0h3m-42 1.5h6m42 1.5h3m-51 3h3m3 12h3"/>
<path fill="none" stroke="#9d262c" stroke-width="1.5" d="M114 50.25h3m0 40.5h3m0 1.5h3m-6 21h3m-3 10.5h3m-3 1.5h3m-39 1.5h3m24 9h3m9 3h3m-54 16.5h6m45 1.5h3m-36 1.5h3m-21 1.5h3m27 0h3m15 3h6m-9 1.5h3m-48 4.5h3m21 0h3m-9 1.5h3m-15 9h3m9 0h3m3 0h3m18 3h3m-3 4.5h3m-3 6h3m-30 6h3m-6 4.5h3m-18 3h3m21 0h3m-21 3h3m9 0h6m6 6h6m-24 3h3m-12 3h3m30 0h3m-21 3h3m30 0h3m-42 1.5h3m12 0h3m3 1.5h3m-12 7.5h3m-9 4.5h3m30 3h3m-42 1.5h6m21 0h3m-24 7.5h3m-9 1.5h3m30 1.5h3m0 1.5h3m-27 10.5h3m15 0h3m3 6h3m0 1.5h3m-3 6h3m-12 6h3m3 7.5h3m-3 3h3m-6 9h3m-36 1.5h3m6 0h3m21 1.5h6m-6 9h3m-24 3h3m-6 1.5h3m-9 1.5h3m24 4.5h3m-30 1.5h3m27 3h3m0 3h3m-27 1.5h3m-9 3h3m3 7.5h3m-9 3h3m12 0h3m-27 7.5h3m3 1.5h3m3 0h3m21 4.5h3m3 0h3m-33 3h3m-9 6h3m24 0h3m-33 6h6m6 0h3m18 0h3m-3 1.5h3m-39 3h3m6 1.5h3m30 0h3m-42 1.5h3m-3 1.5h3m6 1.5h3m-9 3h3m33 4.5h3m-36 6h3m21 0h3m-36 3h6m-6 3h3m36 6h3m0 3h3m-42 3h6m-6 10.5h3m-3 3h3m-3 1.5h3m9 0h3m21 0h3m-33 3h3m30 3h3m-42 9h3m3 0h3m27 1.5h3m-39 1.5h3m12 6h3m18 0h3m-33 3h3m24 1.5h3m-30 6h6m6 0h3m-9 1.5h3m-12 1.5h3m6 4.5h6m3 30h3m15 10.5h3m-42 1.5h3m33 1.5h3m0 6h3m-33 6h3m-3 3h3m27 1.5h3m-3 1.5h3m-36 4.5h3m24 0h3m-27 1.5h3m21 1.5h3m0 30h3m-3 4.5h3m-24 24h3m9 0h3m-15 1.5h3m-3 1.5h3m-18 1.5h3m-3 3h3m9 0h3m6 4.5h3m9 1.5h3m26 25.5h3m-3 3h3m-3 1.5h3m-3 1.5h3m-20 15h5m9 0h3m-12 10.5h3m9 0h3m-17 6h2m-2 19.5h2m12 1.5h3m15 0h3m-21 1.5h3m21 0h3m-44 7.5h3m17 0h6m-6 1.5h3m6 0h3m-3 6h3m33 22.5h3m-33 18h3m-12 3h3m6 30h3m30 0h3m-74 4.5h3m38 0h3m15 0h6"/>
<path fill="none" stroke="#93262b" stroke-width="1.5" d="M120 50.25h3m-3 6h3m-3 1.5h3m-6 10.5h3m0 3h3m-27 7.5h3m9 0h3m9 6h3m-36 9h3m27 1.5h3m-3 4.5h3m-27 9h3m18 12h3m-6 19.5h6m-3 3h3m-36 6h3m33 0h3m-33 1.5h3m24 0h3m-30 1.5h3m30 0h3m-42 1.5h3m33 0h3m-30 1.5h3m6 0h3m15 1.5h3m0 1.5h3m-48 1.5h3m3 0h6m3 0h6m21 7.5h3m-3 4.5h3m-51 3h3m39 0h3m-3 4.5h3m0 4.5h3m-3 1.5h3m0 1.5h3m-33 6h3m3 1.5h3m21 0h3m-3 6h3m-33 1.5h3m-9 1.5h3m-9 3h3m39 0h3m-21 3h3m18 1.5h3m-54 1.5h3m30 0h3m15 1.5h3m-3 1.5h3m-9 3h3m-33 3h3m27 0h6m-39 1.5h9m3 0h3m-3 3h3m-15 1.5h3m3 3h3m-6 1.5h3m-6 3h3m-9 9h3m24 1.5h3m15 0h3m-39 1.5h3m33 3h3m-12 1.5h3m-3 3h3m-3 4.5h3m0 1.5h3m-36 1.5h3m3 0h3m27 1.5h3m-3 4.5h3m-33 9h3m-6 1.5h3m30 1.5h3m-39 3h3m33 1.5h3m-39 3h3m12 0h3m15 0h3m-6 1.5h3m3 0h3m-36 1.5h3m-6 9h3m6 0h3m24 0h3m-9 1.5h3m-3 1.5h3m-21 3h3m-3 1.5h3m18 0h3m0 3h3m-39 1.5h3m-3 3h3m3 1.5h3m-9 1.5h3m9 0h3m-15 1.5h6m3 0h3m-12 1.5h3m3 1.5h3m21 0h3m-24 10.5h3m3 0h3m12 4.5h3m-3 1.5h3m-24 1.5h3m18 1.5h3m0 3h3m-42 3h6m24 0h3m6 0h3m-27 3h3m-6 3h3m0 1.5h3m27 1.5h3m-42 1.5h3m-3 1.5h3m-3 1.5h3m30 0h3m-24 6h3m-15 1.5h3m3 1.5h3m27 1.5h3m-33 1.5h3m30 3h3m-6 1.5h3m-27 3h3m18 3h3m-36 1.5h3m3 1.5h6m18 0h3m-21 7.5h3m24 1.5h3m-39 3h3m-9 3h3m12 1.5h3m21 0h6m-45 1.5h3m36 1.5h3m-27 1.5h3m18 1.5h3m-39 1.5h3m6 3h3m30 21h3m-39 4.5h3m3 12h3m0 1.5h3m-9 3h3m-15 4.5h3m9 0h3m3 4.5h3m21 0h6m-36 1.5h3m21 1.5h3m6 4.5h3m-51 1.5h3m12 0h3m21 0h3m6 0h3m-12 4.5h3m-39 7.5h3m6 15h3m30 3h3m-36 1.5h3m33 12h3m-51 16.5h3m15 6h3m21 1.5h3m0 1.5h3m-21 3h3m15 0h3m0 7.5h3m-42 7.5h3m-3 4.5h3m9 0h3m-3 19.5h3m24 0h3m-6 10.5h3m-12 9h3m-36 1.5h6m21 0h3m-30 1.5h3m12 4.5h3m-18 6h3m6 1.5h3m6 0h3m56 4.5h3m-24 19.5h3m24 7.5h3m-30 9h3m48 6h3m-59 9h3m56 7.5h3m-45 18h6m45 1.5h3m-66 3h3m18 4.5h3m27 3h3m0 1.5h3m-42 4.5h3m45 25.5h3m-57 3h3m39 0h3m-36 16.5h3m6 0h3m12 0h3m9 0h3m-65 13.5h3m3 1.5h2m3 1.5h3m15 1.5h3m-26 3h2m-5 1.5h3m14 0h3m-3 10.5h3m-17 1.5h2m30 0h3"/>
<path fill="none" stroke="#699147" stroke-width="1.5" d="M137 50.25h3m9 0h3m9 4.5h3m6 1.5h3m-42 6h3m27 0h3m27 0h3m-51 6h3m45 0h3m-21 1.5h3m6 0h3m-54 1.5h3m18 0h3m-12 1.5h3m48 1.5h3m-66 1.5h3m3 3h3m24 0h3m-3 1.5h3m-3 3h3m15 4.5h3m-3 1.5h3m0 1.5h3m-42 3h3m12 0h3m-3 4.5h3m21 0h3m-57 1.5h3m9 1.5h3m-3 7.5h3m42 1.5h3m-9 3h3m-45 3h3m-6 3h3m36 0h3m-18 3h3m18 3h3m-56 1.5h5m3 0h3m54 0h3m-63 7.5h3m9 0h3m-18 1.5h3m27 0h3m-30 1.5h3m3 0h3m18 0h3m-41 1.5h3m56 1.5h3m-3 1.5h3m3 0h3m-48 3h3m-3 3h3m-6 1.5h3m39 0h6m-54 1.5h3m54 6h3m-21 3h3m-47 1.5h2m-5 1.5h3m-3 6h3m41 0h3m-12 4.5h3m-27 1.5h3m48 0h3m-57 4.5h3m18 0h3m33 0h3m-60 1.5h3m54 0h3m-15 1.5h3m9 0h3m-71 3h3m11 0h3m54 0h3m-45 3h3m39 1.5h3m-63 1.5h6m6 0h3m33 0h3m-62 3h3m26 0h3m3 0h3m12 3h3m15 0h3m-33 1.5h3m-35 1.5h2m3 0h3m45 0h3m-27 1.5h3m30 7.5h3m-33 12h3m-24 3h3m3 7.5h3m-9 51h3m48 0h3m-45 1.5h3m-6 3h6m-6 1.5h6m-12 3h3m-14 3h2m-5 1.5h3m17 0h3m-23 6h3m5 3h3m-11 1.5h3m20 0h3m33 0h3m-42 1.5h3m-15 1.5h6m-11 1.5h2m24 0h3m-21 1.5h3m-6 4.5h3m18 0h3m36 0h3m-74 1.5h3m3 1.5h2m6 1.5h3m51 6h3m-51 4.5h3m21 0h3m18 0h3m-57 1.5h3m-14 3h3m35 1.5h3m-35 1.5h2m-2 1.5h2m-11 3h3m8 0h3m3 3h3m-14 1.5h3m-9 1.5h3m17 1.5h3m-14 1.5h2m-2 45h2m9 0h3m-20 4.5h3m65 0h6m-24 1.5h3m-53 3h3m3 0h2m42 0h3m-30 1.5h3m12 3h3m-3 9h3m27 9h3m-33 1.5h3m-24 3h3m18 4.5h3m27 0h3m-71 3h3m35 3h3m27 0h3m0 1.5h3m-6 3h3m-24 6h3m21 0h3m-27 1.5h3m-50 3h3m44 4.5h3m-50 1.5h3m20 1.5h3m42 4.5h3m0 1.5h3m-54 7.5h3m-26 4.5h3m20 0h3m15 1.5h3m-30 6h3m24 1.5h3m-24 7.5h3m27 6h3m15 0h6m-33 4.5h3m-41 4.5h3m35 0h3m-33 3h3m9 1.5h3m-23 18h3m20 4.5h3m-26 1.5h3m65 0h3m-71 13.5h3m68 0h3m-39 1.5h3m-18 10.5h3m45 3h3m-12 1.5h3m-15 3h3m18 3h3m-71 3h3m59 3h3m6 0h3m-21 1.5h3m-18 1.5h3m27 7.5h3m-68 6h3m53 0h6m-30 1.5h3m-27 1.5h3m-6 1.5h3m6 0h3m-9 4.5h3m-3 1.5h3m18 0h3m-29 3h2m3 0h3m21 0h3m-12 1.5h3m-65 12h3m30 0h3m-3 1.5h3m-27 1.5h3m-9 7.5h3m-9 3h3m-6 4.5h3m12 6h3m21 1.5h3m-9 4.5h3m-33 3h3m24 3h3m-24 1.5h3m24 0h3m-24 6h3m21 3h3m-3 10.5h3m-48 21h3m-6 10.5h3m18 0h3m21 0h3m-27 1.5h3m-9 1.5h3m-24 1.5h3m0 7.5h3m21 4.5h3m-33 3h3m0 1.5h3m21 0h3m3 6h3m-6 1.5h3m15 0h3m6 0h3m-30 1.5h3m-9 1.5h6m-30 1.5h3m27 1.5h3m0 3h3m21 0h3m-57 1.5h3m51 0h3m-39 3h3m-21 1.5h3m-3 13.5h3"/>
<path fill="none" stroke="#80b352" stroke-width="1.5" d="M140 50.25h3m-17 12h3m62 7.5h3m-54 1.5h3m39 0h3m-24 12h3m-24 10.5h3m-12 7.5h3m3 0h3m0 1.5h3m45 0h3m-27 1.5h3m-33 1.5h3m45 0h3m-54 10.5h3m-5 3h2m9 4.5h3m-14 1.5h2m6 0h3m6 1.5h3m45 15h3m-63 13.5h3m45 0h3m0 3h3m-36 1.5h3m-3 1.5h3m-9 7.5h3m3 0h3m30 0h3m-51 4.5h3m-17 6h3m14 0h3m30 0h3m-53 1.5h3m56 4.5h3m-45 4.5h3m-20 1.5h3m8 1.5h3m-11 9h3m65 0h3m-71 81h3m-6 1.5h3m-3 3h3m0 6h3m11 0h3m-17 6h3m-6 9h3m-3 1.5h3m20 1.5h3m-20 3h2m-8 1.5h3m8 0h3m6 1.5h3m-9 1.5h3m12 3h3m-9 6h3m-23 1.5h3m14 0h3m3 0h3m-32 4.5h3m20 4.5h6m-15 1.5h3m48 7.5h3m-48 3h3m-3 52.5h3m-20 1.5h3m26 3h3m30 0h3m-48 1.5h3m48 22.5h3m-6 7.5h3m0 21h3m0 10.5h3m-74 15h3m14 0h3m-23 1.5h3m0 1.5h3m35 3h3m-41 3h3m-6 1.5h3m17 12h6m24 40.5h3m15 1.5h3m0 3h3m-71 12h3m65 0h3m-6 1.5h3m-3 3h3m-3 1.5h3m0 1.5h3m0 4.5h3m-3 9h3m-3 7.5h3m-9 1.5h3m-3 4.5h3m-30 4.5h3m-38 4.5h3m20 0h3m3 0h3m-18 4.5h3m0 4.5h3m9 1.5h3m-68 12h3m-3 1.5h3m3 3h3m-15 7.5h3m9 4.5h3m-15 1.5h3m30 7.5h3m-6 1.5h3m-27 1.5h3m3 0h3m-3 1.5h3m-3 1.5h3m-3 10.5h3m21 0h3m-54 46.5h3m39 4.5h3m-30 1.5h3m6 0h6m-6 4.5h3m15 0h3m-27 9h3m3 1.5h3m-21 1.5h3m-15 3h3m30 4.5h3m-24 1.5h3m-12 1.5h3m42 0h3m-27 1.5h6m24 3h3m-9 6h3"/>
<path fill="none" stroke="#648944" stroke-width="1.5" d="M176 50.25h3m-42 3h6m18 0h3m-24 4.5h3m-3 1.5h3m-20 3h3m14 4.5h3m48 0h3m-9 1.5h3m-45 1.5h3m6 0h3m-21 3h3m57 0h3m-9 1.5h3m-3 1.5h3m-60 1.5h3m12 0h3m-20 1.5h2m9 0h3m27 0h3m21 0h3m-60 1.5h3m42 0h3m6 0h3m0 1.5h3m-12 1.5h3m-48 4.5h3m51 0h3m-57 1.5h3m42 6h3m-65 3h3m17 0h3m36 1.5h3m-51 1.5h3m48 0h3m-45 1.5h3m39 0h3m6 0h3m-71 1.5h3m11 0h3m18 0h3m-24 1.5h3m18 0h3m-35 1.5h2m36 1.5h3m-33 1.5h3m21 0h3m-33 9h3m3 1.5h3m6 0h3m-23 3h3m56 0h3m-45 3h3m-9 1.5h3m-11 4.5h5m-11 3h3m56 0h9m-3 1.5h3m-3 12h3m-18 1.5h3m-24 3h3m30 0h3m-51 1.5h3m-11 1.5h2m21 0h3m-9 1.5h3m-26 3h3m44 1.5h3m15 0h3m-57 6h3m54 1.5h3m-63 4.5h3m9 0h3m39 0h3m-30 4.5h3m21 0h3m-54 1.5h3m24 0h3m-41 1.5h3m6 0h5m12 0h3m-23 1.5h3m20 0h6m-26 1.5h2m21 0h3m6 4.5h3m-38 1.5h3m32 0h3m9 0h3m12 0h3m-21 1.5h3m15 0h3m-62 1.5h2m15 1.5h3m3 0h3m-32 1.5h3m8 4.5h3m45 0h3m-48 4.5h3m-3 3h3m30 3h3m-21 3h3m6 0h3m27 1.5h3m-57 4.5h3m6 1.5h3m12 9h3m-41 3h3m62 48h3m-71 1.5h3m17 0h3m0 3h3m-3 1.5h3m9 0h3m-35 1.5h3m-6 4.5h3m14 6h3m0 1.5h3m-9 1.5h3m6 1.5h3m48 0h3m-51 4.5h3m-6 1.5h3m3 0h3m39 0h3m-48 4.5h6m-32 1.5h3m26 0h3m-32 1.5h3m-3 1.5h3m14 0h3m6 0h3m-20 1.5h5m9 0h3m-20 1.5h5m6 1.5h3m-17 1.5h3m8 0h9m6 1.5h3m6 0h3m0 1.5h3m-24 1.5h3m6 1.5h3m9 0h3m30 0h3m-57 1.5h3m6 0h3m-32 1.5h3m23 0h3m-20 1.5h2m21 0h3m36 0h3m-60 4.5h3m12 0h3m39 3h3m-45 3h3m15 0h3m-27 1.5h3m-9 1.5h3m12 0h3m12 0h3m24 0h3m-68 45h2m-2 1.5h2m9 0h3m18 1.5h3m-27 4.5h3m6 0h3m-20 1.5h2m21 0h3m21 0h3m-45 1.5h3m0 1.5h3m36 0h3m15 0h3m-66 1.5h3m15 0h3m39 1.5h3m-54 1.5h3m12 0h3m-21 1.5h3m3 1.5h3m-6 4.5h3m48 0h3m-68 6h3m59 1.5h3m-65 1.5h3m53 1.5h3m-56 1.5h2m12 3h3m-15 4.5h3m30 0h3m6 0h3m-33 3h3m45 4.5h3m-24 3h3m-50 1.5h3m44 0h3m0 4.5h3m-6 3h3m-6 1.5h6m-33 3h3m48 0h3m-54 1.5h3m51 0h3m-57 1.5h3m-3 4.5h6m33 0h3m6 0h3m-18 1.5h3m15 6h6m-77 4.5h3m50 3h3m-12 6h3m-44 4.5h3m35 0h3m-24 3h3m30 0h3m-53 1.5h3m17 0h3m-12 1.5h3m3 1.5h3m-20 1.5h3m11 0h3m33 0h3m15 4.5h3m-48 1.5h3m45 0h3m-36 3h3m-18 3h3m-26 16.5h3m14 0h6m-15 3h9m3 4.5h3m-23 3h3m-3 3h3m35 1.5h3m-18 3h3m-26 6h3m11 0h3m45 4.5h3m-45 3h3m0 7.5h3m-18 3h3m27 0h3m-27 1.5h3m21 0h3m12 0h3m3 1.5h3m-9 3h3m15 1.5h3m-63 1.5h3m21 0h3m30 0h3m-71 1.5h3m11 1.5h9m12 1.5h3m21 0h3m-21 1.5h3m-6 1.5h3m30 3h3m-74 3h3m-3 1.5h3m65 0h3m-3 1.5h3m-57 3h3m24 0h3m-41 3h5m6 0h3m18 0h3m-27 1.5h3m-14 3h3m32 0h3m-24 1.5h3m12 0h6m15 6h3m-95 1.5h3m12 0h3m15 3h3m-33 4.5h3m-18 3h3m33 0h3m-24 1.5h3m24 0h3m-21 1.5h3m24 0h3m-33 1.5h3m21 0h3m-30 6h3m3 1.5h3m24 4.5h3m-54 1.5h3m24 0h3m12 3h3m-27 1.5h3m24 0h3m-3 1.5h3m-27 1.5h3m3 1.5h3m-12 4.5h3m-24 3h3m21 0h6m18 0h6m-33 1.5h3m6 1.5h3m-15 1.5h3m30 1.5h3m-36 1.5h6m21 0h3m0 4.5h3m-51 4.5h3m42 16.5h3m-30 1.5h3m24 0h3m-30 9h3m-21 3h3m45 0h3m-21 7.5h3m-30 1.5h3m-9 6h3m9 0h3m42 1.5h3m-57 1.5h3m42 1.5h3m-21 1.5h3m-27 1.5h3m-9 1.5h3m9 3h3m39 0h3m-36 1.5h3m30 0h3m-54 3h3m3 1.5h3m-9 1.5h3m21 0h3m-3 6h3m-24 1.5h3m-9 1.5h3m6 0h6m-9 3h3m-3 3h3m18 0h3m0 1.5h3m18 0h3m3 12h3m-39 1.5h3m-21 1.5h3m0 1.5h3m-3 1.5h3m15 0h3"/>
<path fill="none" stroke="#6d2429" stroke-width="1.5" d="M84 53.25h3m6 0h6m15 0h3m-27 1.5h3m-24 3h3m-3 4.5h3m39 0h3m-33 4.5h3m-3 1.5h3m24 1.5h3m3 0h3m-36 4.5h3m9 4.5h3m21 1.5h3m-45 3h3m9 0h3m12 0h3m-12 6h3m12 1.5h3m-18 1.5h3m3 0h3m15 0h3m-51 1.5h3m9 4.5h3m30 1.5h3m-36 1.5h3m0 1.5h3m-6 3h3m21 0h3m6 1.5h6m-9 1.5h3m-18 1.5h3m15 4.5h3m-42 4.5h3m-3 4.5h3m15 0h3m0 1.5h3m12 0h3m-3 1.5h3m3 1.5h3m-39 4.5h3m33 0h3m-39 1.5h3m9 0h3m-21 1.5h3m33 0h3m-33 4.5h3m-9 1.5h3m42 0h3m-12 9h3m-21 1.5h3m-27 1.5h3m15 0h3m-18 6h3m33 0h3m-42 1.5h3m6 0h3m24 0h3m-33 1.5h3m36 0h3m-45 3h3m9 0h3m-18 1.5h3m18 0h3m12 0h3m12 0h3m-51 1.5h3m21 0h3m-30 1.5h3m9 0h6m12 0h3m9 0h3m-33 3h3m30 0h6m-30 1.5h3m9 4.5h6m12 0h3m-33 4.5h3m-18 1.5h3m18 1.5h3m18 1.5h3m-12 3h3m-18 1.5h3m21 0h3m-48 1.5h3m9 4.5h3m9 0h3m-15 3h3m-9 1.5h3m12 0h6m-21 1.5h3m3 0h3m3 0h3m-30 1.5h3m36 0h3m-27 1.5h3m12 0h3m-24 1.5h3m3 0h3m33 1.5h3m-33 1.5h3m24 0h6m-45 1.5h3m15 0h3m24 0h3m-12 1.5h6m-21 1.5h3m12 0h3m-15 1.5h6m6 0h3m-42 1.5h3m12 0h3m3 0h3m21 0h3m-21 1.5h3m-3 3h3m15 0h3m-27 1.5h3m24 0h3m-21 1.5h3m18 0h3m-27 3h3m15 0h3m50 3h3m-74 3h3m-15 1.5h3m104 0h3m-98 1.5h3m-15 1.5h3m-18 3h3m45 0h3m-57 1.5h3m42 0h6m-21 1.5h3m6 0h3m12 0h3m71 1.5h3m-110 3h3m0 1.5h6m-15 3h3m77 1.5h3m-77 1.5h3m-6 1.5h3m27 0h3m3 0h3m-42 4.5h3m3 0h3m-21 1.5h3m12 1.5h3m6 0h3m12 0h3m47 3h3m15 0h3m-101 1.5h6m-12 1.5h3m21 0h3m6 0h3m-27 1.5h3m24 0h3m-24 1.5h3m12 6h6m-21 1.5h3m-18 3h3m18 0h3m21 4.5h3m-6 6h3m-27 4.5h3m24 0h3m41 0h3m-44 3h3m-9 1.5h3m-3 1.5h3m-18 3h3m-12 1.5h3m21 0h3m0 1.5h3m-39 1.5h3m18 0h3m-6 3h3m-12 1.5h3m21 0h6m-33 6h3m30 0h3m-6 1.5h3m-51 1.5h3m36 0h3m3 0h6m-27 6h3m21 1.5h3m-6 3h3m-36 3h3m33 0h3m-24 1.5h3m-27 3h6m24 0h3m-24 1.5h3m30 0h6m-3 1.5h3m-36 3h3m9 0h3m18 0h3m-15 1.5h3m-18 1.5h3m-15 9h3m-9 1.5h3m45 0h3m-42 3h3m15 0h3m-33 1.5h3m27 0h6m-24 3h6m6 6h3m-30 1.5h3m-3 1.5h3m33 0h3m12 1.5h3m-24 3h3m3 0h3m15 0h3m-21 1.5h6m-30 1.5h3m3 0h3m6 1.5h6m21 0h3m-27 3h3m83 0h3m-95 1.5h3m-9 1.5h3m59 0h3m-38 7.5h6m-27 3h3m30 1.5h3m-42 1.5h3m18 0h3m-21 1.5h3m-3 1.5h3m9 0h3m-15 1.5h3m6 0h3m21 0h3m-36 1.5h3m-6 1.5h6m0 3h3m104 1.5h3m-119 1.5h3m3 1.5h3m24 4.5h3m-27 3h3m21 0h3m-36 1.5h3m3 0h3m24 0h3m-30 1.5h3m30 0h3m-48 1.5h3m27 0h6m3 0h6m68 1.5h3m-95 1.5h3m21 1.5h3m-6 1.5h3m-33 1.5h3m33 0h3m-48 1.5h3m9 0h3m-6 1.5h3m15 1.5h6m-30 1.5h3m21 0h3m-27 1.5h3m-15 1.5h3m45 0h3m0 3h3m-54 1.5h3m21 3h3m3 0h3m-9 1.5h3m18 0h3m-42 3h3m15 0h3m21 1.5h3m-12 1.5h3m-42 1.5h3m18 0h3m-9 1.5h3m6 0h3m-18 1.5h3m9 0h3m6 1.5h3m-24 1.5h3m24 0h3m59 0h3m-53 1.5h3m-54 1.5h3m21 1.5h3m-6 1.5h3m9 0h3m-27 1.5h3m33 0h3m3 1.5h3m-42 6h3m36 0h3m0 1.5h3m-6 1.5h3m-42 1.5h3m18 0h3m-3 1.5h3m18 3h3m-33 3h3m0 3h3m12 0h3m6 1.5h3m-33 1.5h3m30 0h3m-12 3h3m-3 1.5h3m6 0h3m-45 1.5h3m18 0h3m12 0h3m0 1.5h3m-12 1.5h3m3 0h3m-42 1.5h3m33 1.5h3m0 4.5h3m-6 1.5h3m-18 4.5h6m12 0h3m0 1.5h3m-33 1.5h6m15 1.5h3m9 0h3m-39 1.5h3m33 0h3m-24 3h3m0 1.5h3m3 0h3m-42 1.5h3m6 0h3m74 0h3m-83 1.5h3m45 0h3m-48 1.5h3m15 0h3m24 1.5h3m-36 3h3m3 0h3m21 0h3m-3 1.5h3m0 1.5h3m-36 4.5h3m15 0h3m6 0h3m3 0h3m-39 1.5h3m30 0h3m35 0h3m-38 1.5h3m-36 1.5h3m-9 1.5h3m24 0h3m6 0h3m0 3h3m-39 3h3m33 1.5h3m-39 1.5h3m9 0h3m-6 1.5h6m-24 1.5h3m3 0h3m3 1.5h3m-9 1.5h3m9 0h3m0 1.5h3m-12 1.5h3m24 1.5h3m-51 1.5h3m15 0h3m6 1.5h3m12 0h6m3 0h6m-42 1.5h3m12 0h3m-15 1.5h3m9 0h3m-15 1.5h3m6 1.5h3m24 1.5h3m-30 3h3m24 0h3m-18 4.5h3m3 1.5h3m-36 1.5h3m9 0h3m18 4.5h3m-6 1.5h3m-6 1.5h3m-33 1.5h3m24 0h3m6 0h3m-15 1.5h3m-24 1.5h3m30 0h3m12 4.5h3m35 0h3m6 0h3m-45 1.5h3m45 1.5h3m-53 1.5h2m12 0h3m21 0h3m3 0h3m-42 3h3m6 0h3m36 0h3m6 0h3m-65 1.5h2m27 0h3m24 0h3m-57 1.5h3m15 0h3m-26 1.5h3m14 0h3m21 0h3m3 0h3m-47 3h2m27 1.5h3m6 0h3m-36 3h3m15 0h3m-3 1.5h3m15 0h3m12 0h3m-48 3h3m18 0h3m-38 1.5h3m11 0h3m39 0h3m6 0h3m-63 1.5h3m27 0h3m-21 4.5h3m-20 1.5h3m29 3h3m18 4.5h3m6 0h3m-42 1.5h3m9 0h3m3 0h3m21 0h3m-65 1.5h2m9 1.5h3m3 6h3m3 0h3m12 0h3m-24 3h3m12 0h3m-38 1.5h3m-6 3h3m5 0h3m33 0h3m-36 4.5h3m15 0h6m-32 1.5h5m33 0h3m9 0h3m-30 3h3m-29 1.5h3m3 0h2m18 0h3m9 0h3m15 0h3m-15 1.5h3m21 1.5h3m-63 6h3m39 0h3m9 1.5h3m-65 1.5h6m14 1.5h3m-23 3h3m0 1.5h5m21 1.5h3m12 0h3m9 0h3m-15 1.5h3m3 0h3m-36 1.5h3m-20 1.5h3m0 3h3m8 0h3m-62 3h3m71 3h3m12 1.5h3m-6 3h3m6 0h3m18 1.5h3m-33 3h6m18 0h6m0 3h3m-39 3h6m-38 1.5h3m41 0h3m-15 1.5h3m-38 1.5h3m47 0h3m12 1.5h3m-33 1.5h3m21 0h3m-62 1.5h3m17 0h3m42 0h3m-57 1.5h3m48 0h3m-36 1.5h3m6 3h3m-30 1.5h3m27 0h3m12 0h6m-33 1.5h3m15 0h3m-27 1.5h3m-3 1.5h3m15 1.5h3m12 0h3m6 0h3m-68 1.5h6m44 0h3m-47 1.5h2m0 1.5h3m9 0h3m6 4.5h3m3 1.5h3m24 0h3m-59 3h2m42 0h3m-18 3h3m9 0h3m-50 1.5h3m20 0h6m-29 1.5h3m14 0h3m39 0h3m-56 3h2m3 0h3m15 0h3m24 0h3m-62 1.5h3m20 1.5h3m-20 1.5h3m2 3h3m3 0h3m39 0h6m3 0h6m-68 1.5h3m5 0h3m21 0h3m-24 1.5h3m12 0h3m0 1.5h3m18 0h3m12 1.5h3m-33 1.5h3m18 0h3"/>
<path fill="none" stroke="#7aab4f" stroke-width="1.5" d="M140 62.25h3m3 6h3m-3 3h3m-26 7.5h3m17 4.5h3m-6 1.5h3m-14 9h2m51 0h3m6 0h3m-63 31.5h3m48 9h3m-48 16.5h3m6 0h3m-20 1.5h2m-5 3h3m47 4.5h3m6 0h3m-27 9h3m24 0h3m-9 3h3m-56 1.5h2m60 1.5h3m-42 4.5h3m-21 4.5h3m3 0h3m-14 4.5h2m0 1.5h3m-14 1.5h3m59 1.5h3m-65 1.5h3m11 0h3m9 0h3m12 0h3m27 0h3m-39 93h3m3 0h3m-30 1.5h3m15 4.5h3m-15 1.5h3m12 0h3m-12 7.5h3m-29 4.5h3m6 3h2m63 1.5h3m-60 4.5h3m-6 3h3m3 1.5h3m48 1.5h3m-54 7.5h3m-9 6h3m3 0h3m6 1.5h3m-21 3h3m-14 1.5h6m17 0h3m-20 6h5m21 0h6m-32 3h8m12 57h3m-20 1.5h2m-5 30h3m14 0h3m42 6h3m-68 3h3m14 3h3m48 6h3m-51 3h3m-23 4.5h3m-3 4.5h3m65 1.5h3m0 6h3m-74 4.5h3m-3 1.5h3m14 13.5h3m-9 12h3m0 9h3m-9 22.5h3m57 12h3m0 1.5h3m-6 3h3m-6 1.5h3m3 3h3m-15 9h3m-12 3h3m18 1.5h3m-24 1.5h3m12 0h3m-18 6h3m-45 10.5h3m60 0h3m-54 3h3m-6 12h3m6 0h3m-9 3h3m-17 1.5h2m3 4.5h3m6 0h3m-59 6h3m-3 1.5h3m6 6h3m-18 4.5h3m36 16.5h3m-36 6h3m-3 3h3m24 0h6m0 9h3m-33 4.5h3m-9 19.5h3m3 9h3m-18 19.5h3m39 3h3m-30 3h3m-18 3h3m36 0h3m0 1.5h3m-30 4.5h3m18 0h3m-18 1.5h3m-24 3h3m39 3h3m-57 3h3m9 3h3m6 0h3m3 6h3m18 0h3"/>
<path fill="none" stroke="#b0262d" stroke-width="1.5" d="M117 71.25h3m0 7.5h3m-9 13.5h3m-3 1.5h3m0 7.5h3m-3 1.5h3m-9 3h3m3 12h3m0 1.5h3m-9 18h3m3 13.5h3m-9 9h3m-30 4.5h3m-9 4.5h3m36 36h3m-42 10.5h3m33 0h3m-39 4.5h3m6 1.5h3m-6 10.5h3m0 3h3m9 9h3m9 0h3m-3 7.5h3m3 0h3m-12 1.5h6m3 4.5h3m-3 4.5h3m-45 6h3m33 9h3m-3 3h3m-33 3h3m3 25.5h6m-12 1.5h6m0 6h3m-6 1.5h3m-6 3h3m0 7.5h3m21 4.5h3m-21 1.5h3m18 6h3m-24 9h3m-15 3h3m9 7.5h3m18 0h3m-3 6h3m-30 3h3m24 0h3m3 3h3m-30 3h3m18 1.5h3m-33 1.5h3m3 4.5h3m-6 1.5h3m21 4.5h3m-33 6h3m30 0h3m-6 7.5h3m6 3h3m-42 3h6m-3 1.5h3m27 1.5h3m-24 1.5h3m21 0h3m-33 24h3m-9 1.5h3m33 4.5h3m-36 9h3m9 0h3m15 0h3m-33 4.5h3m30 0h3m0 1.5h3m-42 3h3m30 0h3m0 7.5h3m-6 3h3m-24 3h6m21 1.5h3m-30 1.5h3m-9 1.5h3m-6 7.5h3m30 34.5h3m-21 85.5h3m-27 3h3m-3 3h3m6 0h3m9 1.5h3m53 18h3m-12 25.5h3m-15 1.5h3m9 4.5h3m-15 6h3m-3 6h3m24 27h3m-30 1.5h3m24 1.5h3m-18 4.5h3m-15 3h3m-8 1.5h3m2 0h3m24 0h6m-21 66h3m-3 13.5h3"/>
<path fill="none" stroke="#8bc457" stroke-width="1.5" d="M194 71.25h3m-3 21h3m-6 15h3m-65 28.5h2m12 15h3m39 0h3m-59 4.5h2m51 4.5h3m9 0h3m-68 15h2m-2 4.5h2m0 13.5h3m39 0h3m9 0h3m-15 1.5h3m-36 105h3m-12 4.5h3m-14 1.5h3m17 1.5h3m-9 1.5h3m3 1.5h3m-23 1.5h3m-3 1.5h3m3 4.5h3m-3 4.5h3m8 1.5h3m-3 10.5h3m-20 3h3m3 1.5h3m-9 4.5h3m3 0h3m59 133.5h3m-68 3h3m14 3h3m-20 73.5h3m65 6h3m-6 10.5h3m3 3h3m-6 12h3m-3 4.5h3m-71 12h3m-3 3h3m-6 3h3m-3 1.5h3m17 0h3m0 3h3m-9 4.5h3m-44 7.5h3m-3 19.5h3m12 10.5h3m-33 3h3m27 9h3m-30 54h3m33 0h3m-9 1.5h3m-45 6h3m12 1.5h3m24 6h3m-48 4.5h3m15 0h3m-3 1.5h3m30 1.5h3m-51 3h3m-9 1.5h3m0 1.5h3m12 0h3m6 0h3m0 1.5h3m-12 3h3m30 0h3m-9 3h3"/>
<path fill="none" stroke="#a6262c" stroke-width="1.5" d="M120 72.75h3m-3 10.5h3m-3 7.5h3m-3 6h3m-6 7.5h3m0 4.5h3m-3 1.5h3m-3 4.5h3m-6 24h3m-3 4.5h3m-39 12h3m3 0h3m30 0h3m-42 3h3m-3 6h3m6 0h3m24 0h3m-12 4.5h3m6 0h3m0 4.5h3m-42 6h3m30 0h3m0 10.5h3m-6 9h3m-33 7.5h3m-6 6h3m0 3h3m6 0h3m-15 1.5h3m6 0h3m0 1.5h3m-15 3h3m9 3h3m-9 3h3m-6 15h3m-9 1.5h3m0 3h3m9 3h3m21 1.5h3m-3 3h3m-6 7.5h3m-3 3h3m-6 3h3m-24 6h3m24 1.5h3m-39 18h3m27 0h3m0 1.5h3m-27 22.5h3m21 1.5h6m-39 4.5h3m0 1.5h3m-6 4.5h3m6 0h3m-12 3h3m0 1.5h3m-3 6h3m6 0h3m-6 3h3m-9 1.5h3m3 0h3m-6 3h3m-6 1.5h3m30 1.5h3m-36 6h3m27 1.5h3m-33 3h3m0 1.5h3m-6 3h3m33 3h3m-6 1.5h3m-42 1.5h3m12 0h3m-3 1.5h3m15 1.5h3m3 0h6m-30 10.5h3m21 1.5h3m-27 3h3m21 0h3m-36 4.5h3m-9 3h3m33 0h3m0 1.5h3m0 1.5h3m-36 1.5h3m-6 1.5h3m27 1.5h3m3 9h3m-42 13.5h3m-3 12h3m-3 3h3m33 7.5h3m-3 1.5h3m-36 1.5h3m24 7.5h3m-21 3h3m24 3h3m-48 4.5h3m15 4.5h3m21 33h3m-33 6h3m30 0h3m-6 3h3m-33 3h6m21 0h3m0 3h3m0 13.5h3m-6 7.5h3m0 21h3m-3 7.5h3m-9 3h3m-30 31.5h3m24 3h3m-24 1.5h3m-9 3h3m3 3h3m6 1.5h3m21 28.5h3m2 1.5h3m18 52.5h3m36 10.5h3m-71 1.5h3m11 0h3m3 0h3m3 0h3m0 6h3m6 27h3m-38 46.5h3m-3 4.5h3m29 0h3"/>
<path fill="none" stroke="#91cd5a" stroke-width="1.5" d="M182 78.75h3m9 15h3m-68 7.5h2m9 0h3m45 0h3m3 9h3m-3 25.5h3m-57 15h3m3 4.5h3m36 0h3m-42 4.5h3m42 0h3m-3 1.5h3m-12 1.5h3m9 4.5h3m-60 1.5h3m-3 10.5h3m-6 7.5h3m-8 6h2m63 0h3m-57 1.5h3m-9 3h3m-8 4.5h2m6 84h3m-14 1.5h11m3 0h3m-23 10.5h3m0 1.5h3m-6 1.5h3m3 0h3m-9 1.5h3m0 3h6m17 0h3m42 0h3m-65 1.5h2m15 0h3m-23 1.5h3m8 0h3m-20 1.5h3m8 0h3m57 0h3m-71 1.5h3m5 0h3m6 0h3m-9 1.5h3m-14 1.5h6m-9 1.5h3m3 0h3m-9 6h6m-6 3h3m0 3h6m2 0h3m6 0h3m-23 1.5h6m11 0h3m-20 3h6m8 0h3m-11 1.5h3m-6 1.5h3m8 1.5h3m-8 1.5h2m9 0h3m-3 6h3m-12 3h6m3 0h3m-3 1.5h3m-9 1.5h3m-3 54h3m54 3h3m-54 34.5h3m45 0h6m0 9h3m-74 27h3m14 10.5h3m-20 3h3m14 1.5h3m-20 4.5h3m-3 1.5h3m20 4.5h3m-9 1.5h3m48 43.5h3m-3 6h6m-6 6h3m-3 6h6m-6 3h6m-3 3h3m-6 3h3m-3 1.5h3m0 1.5h3m-3 1.5h3m-9 1.5h3m3 0h3m-9 7.5h9m-6 7.5h3m-6 1.5h3m3 1.5h3m-77 4.5h3m6 0h8m3 0h21m-41 1.5h3m8 0h6m3 0h3m9 0h3m-35 1.5h3m8 0h3m18 0h3m-35 1.5h3m6 0h2m6 0h3m3 0h3m6 0h3m3 0h3m-9 1.5h9m-30 1.5h3m18 0h3m-35 1.5h14m9 0h6m-29 1.5h6m3 0h5m3 0h3m9 0h6m3 0h3m-38 1.5h3m3 0h5m6 0h3m6 0h6m3 0h3m-24 1.5h3m9 0h6m-35 1.5h3m6 0h8m3 0h3m9 0h3m3 0h3m-65 3h3m-6 9h6m-12 4.5h3m-6 12h3m6 0h3m18 9h3m-27 1.5h3m-9 7.5h6m30 0h3m-48 54h3m33 0h6m-54 1.5h3m45 0h6m-27 1.5h6m18 0h3m-33 1.5h6m30 0h3m-3 1.5h3m-12 1.5h6m3 0h3m-54 3h3m12 0h3m3 0h3m27 0h3m-33 1.5h3m21 0h3m-33 3h9m18 0h3m-45 1.5h3m12 0h6m21 1.5h3m6 0h3m-12 1.5h3m6 0h3m-54 1.5h3m15 0h3m21 0h6m-33 1.5h3m9 0h3m12 0h3m-3 1.5h6m-33 1.5h6m21 0h3m-45 1.5h3m12 0h6m24 0h6m-57 1.5h3m48 0h3m-48 1.5h3m18 0h3m18 0h6m-6 1.5h12m-36 1.5h3m27 0h6m-12 1.5h3m6 0h3m-27 1.5h3m-24 1.5h3m36 0h3m-30 1.5h6m18 0h3m-39 1.5h3m6 0h3m24 0h6m3 0h3"/>
<path fill="none" stroke="#86bc55" stroke-width="1.5" d="M131 83.25h3m48 0h3m3 0h3m0 18h3m-33 7.5h3m-21 27h3m45 15h3m-51 4.5h3m45 0h3m-63 6h3m6 9h3m24 4.5h3m-30 22.5h3m-12 1.5h3m-14 87h3m0 6h3m-6 1.5h3m0 3h3m3 7.5h2m0 1.5h3m24 3h3m-27 3h3m-14 1.5h3m8 1.5h3m3 3h3m-9 6h3m-14 1.5h3m3 0h2m12 1.5h3m-12 1.5h3m-11 7.5h3m2 1.5h3m6 0h3m3 0h3m-29 1.5h6m11 1.5h3m0 64.5h3m-3 1.5h3m-6 3h3m51 42h3m-6 4.5h3m-51 25.5h3m51 4.5h3m-74 18h3m-3 3h3m-3 1.5h3m68 43.5h3m-6 6h3m-6 1.5h3m-3 1.5h3m0 10.5h3m-6 9h3m3 4.5h3m-71 21h5m-8 3h3m20 0h3m-29 7.5h3m8 1.5h3m6 0h3m-47 6h3m-9 3h3m21 22.5h3m-3 13.5h3m-33 58.5h3m6 3h3m-9 1.5h3m-3 1.5h3m27 3h3m0 4.5h3m-27 6h3m-27 10.5h3m21 0h3m15 1.5h3m-48 3h3m42 0h3m-21 3h3m12 3h6"/>
<path fill="none" stroke="#e02830" stroke-width="1.5" d="M117 93.75h6m-3 6h3m-3 1.5h3m-3 1.5h3m-3 15h3m-6 4.5h3m0 3h3m-9 1.5h3m3 0h3m-3 1.5h3m-6 7.5h3m-3 24h3m-33 9h3m30 6h3m-42 31.5h3m36 3h3m-36 3h3m30 0h3m-36 9h3m9 22.5h3m18 0h3m-9 6h3m-6 6h6m3 4.5h3m-3 6h3m-9 1.5h3m3 3h3m-9 1.5h3m3 0h3m-9 1.5h3m-6 1.5h3m3 3h6m-9 4.5h3m3 0h3m-42 22.5h3m0 7.5h3m-3 3h3m-3 1.5h3m-3 4.5h3m6 10.5h3m-12 6h3m-3 3h3m-6 6h6m-6 3h6m-3 7.5h3m6 4.5h3m-12 4.5h3m33 3h3m-9 1.5h3m-33 3h3m-3 6h3m24 0h3m-30 1.5h3m24 0h6m-24 1.5h3m24 0h3m-3 3h3m-39 1.5h3m27 0h3m-33 1.5h3m33 0h3m-36 1.5h3m3 0h3m18 0h3m-3 1.5h3m3 6h3m-36 1.5h3m24 3h3m-33 1.5h3m24 0h3m-36 3h3m30 0h12m-12 1.5h3m3 0h6m-45 3h3m33 0h3m-24 39h3m-12 9h3m30 10.5h3m-3 4.5h3m0 70.5h3m-39 58.5h3m9 0h3m3 0h3m9 0h6m-3 1.5h3m-39 1.5h3m9 0h3m21 0h3m-33 1.5h6m21 0h6m-27 1.5h3m21 0h3m-24 1.5h3m15 0h6m-6 1.5h6m-39 1.5h3m3 1.5h3m6 0h3m15 0h6m-36 1.5h6m27 0h3m-39 1.5h3m3 0h3m27 0h3m23 162h3"/>
<path fill="none" stroke="#cd272f" stroke-width="1.5" d="M120 95.25h3m-6 3h3m-6 7.5h6m-6 3h3m3 7.5h3m-6 10.5h3m-3 10.5h3m0 3h3m-36 19.5h3m30 0h3m-9 46.5h3m-27 6h3m21 36h3m-36 1.5h3m36 3h3m-3 3h3m-6 10.5h3m-3 16.5h3m-36 24h3m-3 1.5h3m-6 1.5h3m-3 15h3m0 7.5h3m0 3h3m24 3h3m-33 4.5h3m6 7.5h3m-15 6h3m9 25.5h3m24 0h3m-12 16.5h3m3 6h3m0 7.5h3m-30 43.5h3m-15 148.5h3m-3 1.5h3m9 0h3m-9 4.5h3m-12 3h3m6 0h3m12 0h3m-21 1.5h3m27 0h3m26 28.5h3m-15 66h3"/>
<path fill="none" stroke="#ba272e" stroke-width="1.5" d="M120 98.25h3m-3 22.5h3m-3 1.5h3m-9 6h3m-3 7.5h3m3 9h3m-6 10.5h3m-30 13.5h3m24 10.5h3m-6 1.5h3m-3 16.5h3m-30 18h3m24 0h3m-21 12h3m-9 16.5h3m-12 1.5h6m30 7.5h3m-36 22.5h3m27 0h3m3 1.5h3m-12 7.5h3m-21 3h3m15 0h3m3 3h3m-33 3h3m-3 15h3m-6 3h3m24 6h3m-21 4.5h3m21 6h3m-36 7.5h3m-6 3h3m9 0h3m21 0h3m-39 7.5h3m6 1.5h3m24 0h3m-33 10.5h3m30 1.5h3m-9 7.5h3m-33 1.5h3m6 0h3m-3 1.5h3m-15 1.5h6m27 3h3m-30 3h3m-3 4.5h3m-6 1.5h3m24 1.5h3m0 1.5h3m-6 3h3m0 9h3m-24 1.5h3m15 0h3m-27 4.5h3m3 0h3m-9 3h6m-9 57h3m6 1.5h3m-3 3h3m21 4.5h3m-3 3h3m0 57h3m-33 70.5h3m-6 1.5h3m-6 1.5h3m-3 3h3m-6 1.5h3m33 3h3m-39 1.5h3m59 70.5h3m-20 16.5h3m14 9h3m-12 1.5h3m3 0h3m9 0h3"/>
<path fill="none" stroke="#c3272e" stroke-width="1.5" d="M120 105.75h3m-9 18h3m3 0h3m-3 10.5h3m-27 1.5h3m21 1.5h3m-6 13.5h3m-3 1.5h3m-33 54h3m30 0h3m-6 6h3m-30 3h3m-6 3h6m-3 13.5h3m3 12h3m18 6h3m0 18h3m-6 6h3m-6 10.5h3m0 3h3m-36 18h3m6 4.5h3m15 6h3m3 0h3m-39 21h3m6 0h3m24 0h3m-33 7.5h3m-9 10.5h6m-3 7.5h3m3 0h3m-12 7.5h3m30 0h3m3 3h3m-39 3h3m24 0h3m6 3h3m-33 4.5h3m-9 3h3m30 7.5h6m-6 3h3m-33 9h3m24 0h3m3 0h3m-3 33h3m-42 9h3m33 30h3m-3 58.5h3m0 12h3m-24 55.5h3m12 1.5h3m-30 6h3m0 3h6m3 1.5h3m-21 1.5h3m59 42h3m-15 6h3m-5 48h2"/>
<path fill="none" stroke="#d6282f" stroke-width="1.5" d="M120 135.75h3m-30 19.5h3m18 13.5h3m3 0h3m-6 6h3m-27 37.5h3m-6 12h3m18 48h3m6 3h3m-12 7.5h3m-21 30h3m-15 3h3m-3 12h3m-3 12h3m3 25.5h3m30 0h3m-3 1.5h3m-39 3h3m6 7.5h3m24 0h3m-36 12h3m24 0h3m-33 10.5h3m30 0h3m-39 3h3m0 3h3m-3 6h3m6 48h3m-12 6h3m33 4.5h3m-3 51h3m-48 82.5h3m9 0h3m3 0h3m-12 1.5h3m9 12h3"/></g>
<g shape-rendering="crispEdges" filter="url(#bl)"><path fill="none" stroke="#332325" stroke-width="1.5" d="M277 48.75h3m18 0h3m28 0h3m-52 1.5h3m21 0h3m-24 1.5h3m21 0h3m22 0h3m61 1.5h3m3 1.5h3m-122 1.5h3m-6 1.5h3m46 0h6m-28 1.5h3m58 0h3m31 1.5h3m-116 1.5h3m40 0h3m55 0h3m-107 1.5h3m12 0h3m6 0h4m76 0h3m-116 1.5h3m37 0h3m-3 1.5h3m12 0h3m58 3h3m-119 4.5h3m6 0h3m6 0h3m3 0h3m28 0h3m3 0h3m-64 3h3m21 0h3m25 1.5h6m-43 1.5h3m12 0h3m-27 1.5h3m12 0h3m37 0h3m-9 1.5h3m0 1.5h3m49 0h3m-98 1.5h3m28 0h3m3 0h3m12 0h3m34 0h3m-95 3h3m37 0h3m24 0h3m15 0h7m-104 1.5h3m15 0h3m16 0h3m-40 1.5h3m27 0h3m-21 1.5h3m3 0h3m6 0h3m-24 1.5h3m-3 1.5h3m6 1.5h3m28 0h3m6 0h3m46 0h3m-107 1.5h3m24 0h3m-21 1.5h3m12 0h3m25 0h3m27 0h3m-64 1.5h3m-21 3h3m46 0h3m49 0h3m18 0h3m-113 1.5h3m43 0h3m-43 1.5h3m-18 1.5h6m3 0h6m34 0h3m67 0h3m-119 1.5h3m82 0h3m-91 1.5h3m-6 1.5h3m21 0h3m64 0h3m-97 1.5h3m49 0h3m-46 3h3m85 0h4m15 0h3m-67 1.5h3m-34 1.5h3m0 1.5h3m-18 3h3m3 1.5h3m37 1.5h3m43 1.5h3m-67 6h3m-3 1.5h3m-16 6h3m13 1.5h3m-37 1.5h3m6 0h3m-9 1.5h3m3 0h3m37 3h3m-55 3h6m46 0h3m24 0h3m3 0h3m6 0h4m24 0h3m-91 1.5h3m79 0h3m-21 1.5h3m3 0h3m6 0h3m12 0h3m-76 1.5h3m12 0h3m34 0h3m-37 1.5h3m43 1.5h3m-107 1.5h3m19 0h3m39 0h3m12 0h4m6 0h3m6 0h3m3 0h3"/>
<path fill="none" stroke="#2b3329" stroke-width="1.5" d="M280 48.75h3m61 0h3m12 0h3m12 0h4m-10 3h3m3 0h4m3 0h3m9 0h3m-55 1.5h3m34 0h3m-40 1.5h3m37 0h3m-52 1.5h3m61 0h3m-43 1.5h3m-55 1.5h3m-24 1.5h3m49 0h3m18 0h3m6 0h3m6 0h4m12 0h3m-113 1.5h3m85 0h3m28 0h3m-61 1.5h3m15 0h3m9 0h7m3 0h3m-83 1.5h3m61 0h6m25 0h3m3 0h3m-76 1.5h3m3 0h6m6 0h3m21 0h7m3 0h3m18 0h3m-67 1.5h3m-61 1.5h3m101 0h9m-34 1.5h3m12 4.5h4m3 0h3m-40 1.5h3m15 1.5h3m-85 1.5h3m15 0h6m28 0h3m12 0h3m28 0h3m9 0h3m-19 3h4m15 0h3m3 1.5h3m-125 1.5h3m82 0h3m34 0h3m-119 3h3m12 0h3m34 0h3m6 0h3m-55 1.5h3m89 0h3m-52 1.5h3m9 0h3m31 0h3m15 0h3m3 0h3m-94 1.5h3m24 0h3m43 0h3m-3 1.5h3m6 0h3m-6 1.5h3m-31 1.5h3m22 0h3m-19 1.5h4m9 0h3m-76 1.5h3m39 0h3m31 0h6m-6 4.5h3m6 0h3m-107 1.5h3m6 0h3m10 0h3m9 0h6m21 0h3m3 0h3m3 0h3m7 0h3m18 0h3m-70 1.5h3m3 0h3m24 0h3m-30 3h3m12 0h3m43 0h3m-40 1.5h3m25 0h3m-12 3h3m12 0h3m3 0h3m-6 3h3m-52 1.5h3m40 0h6m-46 3h3m31 0h3m9 0h3m-34 3h3m13 0h3m0 1.5h3m6 1.5h6m-28 1.5h4m9 0h6m6 1.5h3m-12 1.5h3m-15 1.5h3m6 0h3m3 0h3m3 0h3m-6 1.5h3m-12 1.5h3m3 0h3m3 0h3m-3 3h3m-12 1.5h3m-101 1.5h3m89 0h3m3 0h3m9 0h3m-24 1.5h3m15 0h3m-43 3h3m31 0h3m-6 3h3m3 0h3m-113 3h3m6 0h3m3 0h3m40 0h3m6 0h6m49 0h3m-27 1.5h3m-104 4.5h3m9 0h6m22 0h3m-43 1.5h3m3 0h3m37 0h3m-46 1.5h3m31 0h6m6 0h3"/>
<path fill="none" stroke="#2a2225" stroke-width="1.5" d="M283 48.75h3m15 0h3m28 0h3m67 0h3m-128 3h3m18 0h3m-18 1.5h9m9 0h3m6 0h4m45 0h6m25 0h3m-113 1.5h3m125 0h3m-134 1.5h3m94 1.5h4m12 1.5h3m-116 1.5h3m101 0h3m-107 1.5h3m30 0h4m73 0h3m-110 1.5h3m9 0h3m22 0h3m12 0h3m67 0h3m-119 1.5h3m37 0h3m3 0h3m27 0h3m16 0h3m15 0h3m-125 1.5h6m18 0h3m-18 3h3m40 0h3m27 0h3m-82 1.5h3m104 0h3m-92 4.5h3m3 0h3m-9 1.5h3m73 0h4m18 0h3m-122 1.5h3m6 1.5h3m31 0h3m21 0h3m9 0h3m15 0h4m15 0h3m3 0h3m-28 1.5h4m-95 1.5h3m37 0h3m-43 1.5h3m12 1.5h6m52 0h3m34 0h3m-92 3h3m80 0h6m-107 1.5h6m6 0h9m40 0h3m6 0h3m37 0h3m-119 1.5h3m18 0h3m-21 1.5h3m12 0h3m37 0h3m6 0h3m21 0h3m19 0h6m6 0h3m-116 7.5h3m49 0h3m40 0h3m-9 3h3m-89 1.5h3m95 0h3m-95 1.5h3m55 0h3m28 0h3m9 0h3m-125 1.5h3m79 0h3m9 0h4m-16 1.5h3m13 0h3m-86 1.5h3m95 0h3m-64 1.5h3m58 0h3m-119 1.5h3m6 0h3m-6 1.5h3m6 3h6m31 0h3m55 0h3m-104 1.5h3m55 0h3m-67 1.5h3m-3 1.5h6m9 0h3m-18 3h6m28 0h3m24 0h3m52 0h3m-116 4.5h3m76 0h3m22 3h3m-113 1.5h3m104 0h3m-104 3h3m-9 6h6m6 0h3m98 3h3m-37 1.5h3m28 0h3m-98 3h3m25 3h3m76 0h3m-110 1.5h3m110 0h3m-52 3h3m-42 1.5h3m64 0h3m-73 1.5h3m85 0h3"/>
<path fill="none" stroke="#5a2428" stroke-width="1.5" d="M286 48.75h3m6 0h3m16 0h6m-25 1.5h3m-12 1.5h6m22 0h3m12 0h3m-9 1.5h3m-49 1.5h3m21 0h3m-18 1.5h3m3 0h3m22 0h3m-31 1.5h3m25 0h3m-31 1.5h3m-6 1.5h3m12 0h3m10 0h3m-34 3h3m6 1.5h3m-6 1.5h3m15 0h3m-33 1.5h3m3 0h6m43 0h3m-18 1.5h3m3 0h3m-9 1.5h6m-46 1.5h3m18 0h3m25 1.5h3m-22 1.5h3m16 0h3m3 0h3m-46 1.5h3m15 0h3m4 0h3m-7 3h4m-19 1.5h3m6 1.5h3m-30 4.5h6m18 0h3m10 1.5h3m3 0h3m3 0h3m-9 1.5h3m6 0h3m-43 1.5h3m95 0h3m-73 1.5h3m3 0h3m-28 1.5h3m6 0h3m13 0h6m3 0h3m-58 1.5h3m9 1.5h3m15 0h3m4 0h3m-22 1.5h3m31 0h3m-55 3h3m6 0h3m3 1.5h3m3 0h3m3 0h3m19 3h3m-34 1.5h3m3 0h3m25 0h3m-15 3h3m-34 1.5h3m6 0h3m3 1.5h3m3 0h3m16 0h6m-52 1.5h3m24 0h3m16 0h3m-40 1.5h3m28 1.5h3m-46 1.5h3m15 0h3m3 0h6m-30 1.5h3m12 0h3m22 3h3m-19 1.5h3m-27 1.5h3m-3 1.5h3m-3 3h3m24 3h3m-24 1.5h3m-6 3h3m-6 1.5h3m0 1.5h3m34 4.5h3m-13 1.5h3m-9 3h3m3 0h3m-21 1.5h3m58 1.5h3m34 0h3m-107 1.5h6m37 0h3m58 1.5h6m-28 1.5h3m3 0h3m-39 1.5h3m33 0h7m21 0h3m3 0h3m-58 1.5h3m12 0h3m-15 1.5h3m6 0h3m40 0h3"/>
<path fill="none" stroke="#632428" stroke-width="1.5" d="M289 48.75h3m15 0h3m22 1.5h3m-43 1.5h3m22 0h3m3 0h3m-40 3h3m0 1.5h3m18 0h4m15 0h3m-31 1.5h3m22 1.5h3m-19 1.5h4m3 1.5h3m0 1.5h3m-31 4.5h3m3 0h3m-15 3h3m18 0h3m16 0h3m-34 1.5h3m16 1.5h6m-6 1.5h3m9 1.5h3m-12 1.5h3m-31 3h3m40 0h3m-34 1.5h3m3 0h3m-24 1.5h3m31 1.5h3m3 0h3m-31 1.5h3m9 3h4m-4 1.5h4m42 1.5h3m-67 1.5h3m34 1.5h3m-15 1.5h3m-34 1.5h3m3 0h3m12 0h3m7 0h3m-40 3h3m49 0h3m-52 1.5h3m43 0h3m-9 1.5h6m-22 1.5h3m-21 1.5h3m15 0h3m13 0h3m-3 3h3m-49 1.5h3m21 0h3m-3 6h3m-21 1.5h3m6 0h3m3 0h3m-6 1.5h3m9 0h3m7 0h3m-34 1.5h3m21 0h4m-34 1.5h3m0 4.5h6m-12 1.5h3m37 0h3m-43 3h3m21 0h3m3 1.5h3m19 0h3m-40 1.5h3m6 0h3m28 0h3m-49 1.5h3m0 4.5h3m37 1.5h3m-52 3h3m18 0h3m-3 1.5h6m-30 1.5h3m9 0h3m-12 1.5h3m15 0h3m22 0h3m15 6h3m9 0h3m40 1.5h3m9 0h3m-46 1.5h6m-3 1.5h6m16 0h3m-12 1.5h3"/>
<path fill="none" stroke="#80252a" stroke-width="1.5" d="M292 48.75h3m15 0h4m6 0h3m-37 1.5h3m18 0h3m-3 4.5h3m10 0h3m-3 7.5h3m3 0h3m-34 1.5h3m-3 4.5h3m6 0h3m22 0h3m-6 1.5h3m-6 1.5h3m-9 1.5h3m6 0h6m-12 1.5h3m-13 1.5h4m-22 1.5h3m19 1.5h3m6 0h3m-34 3h3m22 0h3m-10 1.5h4m6 0h3m-40 4.5h3m6 0h3m9 0h3m22 0h3m-6 3h3m-12 1.5h3m6 1.5h3m-15 1.5h3m3 0h3m-34 1.5h3m9 0h3m-12 6h3m15 4.5h4m9 0h3m-6 1.5h3m-13 3h4m-25 1.5h3m3 1.5h3m22 0h3m0 6h3m-25 1.5h3m-12 1.5h3m9 6h3m0 1.5h3m22 0h3m-52 3h3m15 1.5h3m22 0h3m-52 1.5h3m24 0h3m0 1.5h3m-24 1.5h3m21 0h4m18 0h3m-34 1.5h3m-21 1.5h3m12 0h3m-6 1.5h3m16 0h3m-37 1.5h3m6 1.5h3m25 1.5h3m-28 1.5h3m-15 3h3m9 0h3m31 0h3m15 3h3"/>
<path fill="none" stroke="#262b27" stroke-width="1.5" d="M304 48.75h3m31 0h3m15 0h3m6 0h3m-39 1.5h3m33 0h3m6 0h4m6 0h3m-107 1.5h3m61 0h3m18 0h3m31 0h3m-122 1.5h3m24 0h3m37 0h3m-6 1.5h3m-9 1.5h3m33 0h4m3 0h9m-110 3h3m18 0h3m70 0h13m12 0h3m-104 1.5h3m43 0h3m12 0h3m6 0h3m16 0h3m18 0h3m-107 1.5h3m77 0h3m15 0h3m-40 1.5h3m40 0h3m-128 1.5h3m18 0h3m46 0h3m22 0h3m6 0h3m-107 1.5h3m101 0h3m6 0h6m3 0h3m-34 1.5h4m-95 1.5h3m70 0h3m-76 1.5h3m-6 3h3m15 0h3m77 0h3m18 0h3m3 0h3m-70 1.5h3m52 0h6m-119 1.5h6m67 0h3m37 0h3m-43 3h3m6 0h3m-30 1.5h3m27 0h3m19 0h3m-52 1.5h3m24 0h3m22 0h3m-110 3h3m3 0h3m25 0h3m27 0h3m24 0h4m-92 3h3m104 0h3m-113 1.5h3m46 0h3m46 0h3m15 0h3m6 0h3m-116 1.5h3m46 0h3m3 0h3m6 0h3m28 0h3m-113 1.5h3m101 0h3m12 0h6m-128 4.5h3m104 0h3m9 6h3m-116 1.5h3m12 0h3m31 0h3m27 0h3m3 0h3m7 0h3m-101 1.5h6m12 0h3m3 3h3m58 0h6m10 0h3m9 0h3m-113 1.5h3m3 0h3m70 0h3m22 0h3m-28 3h3m25 1.5h3m6 1.5h3m-125 1.5h6m82 0h3m22 0h3m9 0h3m-18 1.5h6m-3 1.5h6m-98 1.5h3m28 0h3m58 0h3m-98 3h3m34 0h6m6 0h3m12 0h3m9 0h3m28 0h3m-64 1.5h3m46 1.5h6m-28 1.5h3m10 0h3m9 0h3m3 3h3m-46 1.5h3m37 0h3m-3 3h3m-15 1.5h3m-49 4.5h3m9 0h3m15 0h3m-39 3h3m6 1.5h3m46 0h3m6 0h3m-28 4.5h4m-37 1.5h3m-67 1.5h6m91 0h7m6 0h3m-52 3h3m3 0h3m21 0h3m10 0h3m-95 1.5h3m9 0h3m16 0h3m-37 1.5h3m9 0h3m6 0h3m10 0h3m3 1.5h3m15 0h3"/>
<path fill="none" stroke="#8a252b" stroke-width="1.5" d="M323 48.75h3m-3 1.5h3m-9 4.5h3m-31 13.5h3m31 0h3m-6 1.5h3m-13 1.5h4m-22 1.5h3m15 12h4m15 0h3m-46 3h6m34 4.5h3m-19 6h4m12 6h3m-15 9h3m3 0h6m-16 3h7m-10 1.5h3m10 3h3m-16 3h3m-24 4.5h3m18 0h3m-9 1.5h3m10 0h3m-22 1.5h3m-18 1.5h6m43 0h3m-37 1.5h3m-3 3h3m-21 1.5h3m9 0h3m6 0h3m0 1.5h3m-27 3h3m18 3h3m25 3h3m-25 1.5h3m-30 3h3m3 0h3m92 10.5h3"/>
<path fill="none" stroke="#c3272e" stroke-width="1.5" d="M326 48.75h3m-6 39h3m0 10.5h3m-3 1.5h3m-12 13.5h3m-3 4.5h3m-6 3h3m-10 4.5h3m22 0h3m-25 3h4m12 9h3m-19 1.5h4m-19 1.5h3m-3 3h3m-12 3h3m6 0h3m9 0h3m-3 4.5h3"/>
<path fill="none" stroke="#699147" stroke-width="1.5" d="M335 48.75h3m-3 1.5h3m3 7.5h3m18 10.5h3m-12 3h3m49 1.5h3m-73 1.5h3m70 0h3m-40 7.5h3m-6 1.5h3m-33 1.5h3m27 7.5h3m-12 3h3m-27 1.5h3m3 0h3m3 0h3m58 0h3m-76 3h3m15 0h3m9 3h3m28 7.5h3m-55 3h3m15 4.5h6m3 0h3m31 1.5h3m-67 1.5h3m18 0h3m-12 4.5h3m9 0h3m37 0h3m-64 3h3m3 0h6m0 3h3m-12 4.5h3m-12 1.5h3m6 0h6m15 1.5h3m37 0h3m-49 4.5h3m-15 4.5h3m0 1.5h3m0 4.5h3m19 0h3m-86 4.5h3m28 0h6m-22 1.5h7"/>
<path fill="none" stroke="#425534" stroke-width="1.5" d="M341 48.75h3m24 0h3m19 0h3m-34 1.5h3m-6 1.5h3m19 0h3m-25 1.5h3m9 0h3m37 0h3m-58 1.5h3m28 0h6m-25 1.5h3m10 0h3m12 0h3m-15 1.5h3m-40 1.5h3m6 0h3m15 0h3m31 0h6m-61 1.5h3m3 1.5h3m12 0h3m-27 1.5h3m6 0h3m9 0h3m22 0h6m-40 1.5h3m34 3h3m9 0h3m-67 1.5h3m3 0h3m21 1.5h7m3 0h3m15 1.5h3m-61 1.5h3m18 0h6m13 1.5h3m-37 1.5h3m18 0h3m25 0h6m-67 1.5h3m37 0h3m-43 1.5h3m37 1.5h6m6 0h6m-119 1.5h3m55 0h3m24 4.5h3m28 0h3m6 3h3m-21 1.5h3m-67 1.5h3m21 0h3m-6 1.5h3m3 0h3m15 0h3m10 0h3m-7 1.5h4m18 0h6m-64 1.5h3m37 1.5h6m21 0h3m-70 1.5h3m43 0h3m3 1.5h3m-28 3h3m-33 1.5h3m40 1.5h3m21 0h3m-61 1.5h3m21 1.5h3m-30 1.5h3m58 0h3m3 0h3m-73 1.5h6m3 0h3m6 0h3m22 0h3m-31 1.5h3m3 0h3m22 0h3m21 0h3m-24 1.5h3m3 0h3m6 0h3m3 1.5h3m-30 1.5h3m18 0h3m-24 3h3m18 0h3m3 0h3m-21 1.5h3m-55 1.5h3m12 0h3m25 1.5h3m12 0h6m6 0h3m-49 1.5h3m-21 1.5h3m18 0h3m37 0h3m-24 1.5h3m6 1.5h3m-43 1.5h3m9 0h3m3 0h3m-12 1.5h3m19 0h3m15 0h3m-21 1.5h3m3 0h3m3 1.5h3m-49 1.5h3m28 0h3m3 1.5h3m-52 3h3m52 0h3m-37 1.5h6m-30 3h3m58 0h3m-55 1.5h3m37 0h3m21 0h3m-24 1.5h3m3 0h3m3 0h3m-21 3h3m-101 3h3m15 0h6m3 1.5h4m18 0h3m-34 1.5h6m19 0h3m-37 1.5h3m6 0h3"/>
<path fill="none" stroke="#4d663a" stroke-width="1.5" d="M347 48.75h3m55 0h3m-67 1.5h3m9 0h3m12 0h6m16 0h3m-58 1.5h3m21 4.5h3m-15 1.5h6m-3 1.5h3m-18 3h3m15 0h3m49 3h3m-52 1.5h3m49 0h3m-30 1.5h3m-16 1.5h3m-24 1.5h3m31 1.5h6m12 0h3m-43 1.5h3m-3 1.5h3m40 0h3m-40 1.5h3m-12 1.5h6m9 1.5h3m-30 1.5h3m15 0h3m19 0h3m-28 1.5h3m-21 1.5h3m6 0h3m25 0h3m3 0h3m-19 1.5h3m16 1.5h3m-25 3h3m10 1.5h3m-46 1.5h3m43 3h3m24 3h3m-9 1.5h3m-55 1.5h3m6 0h3m31 0h3m12 0h3m-6 1.5h3m-37 1.5h3m-24 1.5h3m43 0h3m-43 3h3m25 1.5h3m9 0h3m-31 1.5h3m-36 1.5h3m6 0h3m37 0h3m21 0h3m-67 1.5h3m15 0h3m-27 1.5h3m43 0h3m-49 1.5h6m9 0h6m19 0h3m-16 1.5h3m40 0h3m-30 1.5h3m-28 1.5h3m19 1.5h6m3 0h3m-40 1.5h3m-12 3h3m3 1.5h3m52 0h3m-24 1.5h3m3 0h3m6 0h3m-52 1.5h3m52 0h3m-27 3h3m27 0h3m-21 3h3m-15 1.5h3m-46 1.5h6m37 0h3m-46 1.5h3m33 0h3m-18 1.5h3m46 0h3m-73 1.5h3m3 0h3m3 0h3m21 1.5h3m19 1.5h3m-18 1.5h3m-89 6h3m-9 1.5h3"/>
<path fill="none" stroke="#648944" stroke-width="1.5" d="M350 48.75h3m-3 6h3m-6 1.5h3m55 1.5h3m-58 6h3m49 4.5h3m-34 1.5h3m-24 1.5h3m-12 1.5h3m30 0h4m30 4.5h3m-67 1.5h3m-6 4.5h3m3 1.5h3m18 0h3m0 1.5h3m-33 1.5h3m58 0h3m-37 3h3m-21 4.5h3m12 1.5h3m0 1.5h3m-27 1.5h3m61 1.5h3m-49 1.5h3m-9 3h3m-9 3h3m55 3h3m-61 3h3m12 0h3m-18 1.5h3m15 0h3m-21 1.5h3m3 0h6m0 1.5h3m-9 1.5h3m9 0h3m3 0h4m-43 1.5h3m6 0h3m24 3h3m-39 3h3m36 0h4m27 0h3m-64 1.5h3m12 0h3m9 0h3m4 0h3m-34 3h3m-12 1.5h3m12 4.5h3m12 1.5h3m-12 1.5h6m43 1.5h3m-70 3h6m-9 1.5h3m9 3h3m3 0h3m-9 1.5h3m15 0h3m-30 1.5h3m-67 4.5h3m3 0h3m31 0h3m12 0h3m-15 1.5h3"/>
<path fill="none" stroke="#485e37" stroke-width="1.5" d="M353 48.75h3m31 0h3m-52 1.5h3m46 0h3m18 1.5h3m-76 1.5h3m-3 1.5h6m30 0h3m31 0h3m-49 3h3m-24 4.5h3m3 0h3m34 0h3m-43 3h3m6 0h3m0 1.5h3m-15 1.5h3m34 0h3m6 0h3m-25 1.5h3m34 0h3m-67 1.5h3m24 0h3m22 0h3m12 0h3m-70 1.5h3m37 0h3m-19 1.5h3m37 0h3m-61 1.5h3m18 0h3m-21 1.5h3m40 0h3m-58 3h3m3 0h3m-3 1.5h3m9 0h3m3 0h3m-12 1.5h6m28 0h3m15 3h3m3 0h3m-55 1.5h3m-9 1.5h3m-18 1.5h3m43 3h3m-49 1.5h3m33 0h3m28 0h3m-43 1.5h3m37 0h3m-61 1.5h3m15 0h3m43 0h3m-61 1.5h3m3 0h3m-24 1.5h3m15 0h3m9 0h3m10 0h3m-43 1.5h3m12 0h3m18 0h4m3 0h3m-34 1.5h3m3 0h3m9 0h3m31 0h3m3 0h3m-64 1.5h3m3 0h3m28 0h3m9 0h3m-15 1.5h3m-43 1.5h6m3 0h3m52 0h3m-73 1.5h3m-6 1.5h3m6 0h3m31 1.5h3m6 0h3m-37 1.5h3m31 0h3m12 0h3m-49 7.5h3m19 0h3m3 0h3m21 0h3m-61 1.5h3m12 0h3m28 0h3m-58 1.5h3m52 0h3m-21 3h3m9 0h3m-52 6h3m12 0h6m16 0h3m-19 1.5h3m43 0h3m-24 1.5h3m9 0h3m-24 1.5h3m21 0h3m-31 1.5h4m27 0h3m-37 3h3m-18 1.5h3m3 0h3m-18 1.5h3m34 0h3m9 0h3m3 0h3m-27 3h3m27 0h3m-24 1.5h3m-43 1.5h3m52 0h3m-24 1.5h3m12 0h3m-40 3h3m-33 3h6m-55 3h3m40 0h3m-28 1.5h3"/>
<path fill="none" stroke="#462326" stroke-width="1.5" d="M362 48.75h3m-64 1.5h3m-3 1.5h3m16 1.5h3m-34 1.5h3m37 0h3m-12 1.5h3m-28 1.5h6m25 0h3m-43 1.5h3m3 0h6m22 0h3m18 0h3m-55 1.5h9m-6 1.5h6m89 1.5h3m-95 1.5h3m9 0h3m10 0h6m-28 1.5h3m-12 3h3m12 0h3m46 0h3m-67 1.5h3m12 0h3m25 0h3m-31 1.5h3m-3 1.5h3m80 0h3m-110 1.5h3m9 0h3m22 0h3m-16 1.5h3m25 0h3m-52 1.5h3m9 0h6m22 1.5h3m70 0h3m-70 1.5h3m-46 1.5h3m3 0h3m3 1.5h3m22 0h3m-31 4.5h3m61 0h3m-55 1.5h3m-24 1.5h3m-3 1.5h3m3 0h3m37 0h3m-58 1.5h3m0 1.5h3m9 0h3m3 0h3m3 0h3m13 0h3m-37 1.5h3m9 0h3m28 0h3m0 1.5h3m-9 1.5h3m-28 1.5h3m19 0h3m-49 1.5h3m40 0h3m9 0h3m-43 1.5h3m6 0h3m13 0h3m-43 1.5h3m-3 1.5h3m6 0h3m0 1.5h3m15 0h3m16 0h3m45 1.5h4m-98 1.5h3m15 0h3m-12 1.5h6m-6 1.5h3m3 0h6m31 0h3m-49 1.5h3m37 1.5h3m-43 3h6m12 0h3m19 0h9m-46 4.5h3m12 0h3m-9 3h3m-3 1.5h6m-12 3h3m-9 1.5h3m34 0h3m-46 1.5h3m-3 1.5h3m9 0h3m9 0h3m92 6h3m-104 3h3m-21 1.5h3m49 0h3m-58 6h3m34 0h3m21 0h3m52 0h3m-95 1.5h6m13 0h6m39 0h3m34 0h3m-67 1.5h3m21 0h6m31 0h3m-55 1.5h3m40 0h6m6 0h3m-58 1.5h6m6 0h3m31 0h3m-61 1.5h3m18 0h3m46 0h3m-131 1.5h3m76 0h3m43 0h3"/>
<path fill="none" stroke="#3c4d32" stroke-width="1.5" d="M371 48.75h3m-18 1.5h3m19 0h3m15 0h3m9 0h3m-52 1.5h3m40 0h6m-55 1.5h3m9 1.5h6m22 0h3m3 0h3m-61 1.5h3m0 1.5h3m46 0h3m12 0h3m-73 1.5h3m6 0h3m6 0h3m3 0h6m-21 1.5h3m55 0h3m-67 1.5h3m30 0h4m30 0h3m-76 1.5h3m46 0h3m12 0h3m-58 1.5h3m9 0h3m12 0h3m-21 3h9m28 0h3m-15 1.5h3m24 0h6m-67 1.5h3m34 0h3m18 0h3m-18 1.5h6m3 0h3m-49 3h3m9 1.5h3m19 0h3m-34 1.5h3m15 0h3m7 0h3m3 0h3m15 0h3m-125 1.5h3m73 0h3m22 0h3m18 0h3m-52 3h3m22 0h3m15 0h3m3 0h3m-43 1.5h3m13 0h3m6 0h9m-58 1.5h3m6 0h3m6 0h3m34 1.5h3m-58 3h6m15 0h3m-12 1.5h3m-3 1.5h3m18 0h4m6 1.5h3m-9 1.5h3m-40 1.5h3m9 0h3m46 0h3m-58 1.5h3m18 0h3m19 0h3m3 3h3m-52 1.5h3m34 0h3m-49 1.5h3m3 0h3m40 0h3m15 0h3m-64 1.5h3m40 0h3m-9 1.5h3m3 0h6m-19 1.5h4m9 0h3m-43 1.5h3m9 0h3m3 0h3m31 1.5h3m-34 1.5h3m19 0h3m6 0h3m-61 1.5h3m30 0h4m12 1.5h3m-49 1.5h3m12 0h3m19 0h3m-22 3h3m34 0h6m-46 1.5h3m9 0h3m4 0h3m3 1.5h3m12 0h3m-18 3h3m-37 1.5h3m3 0h3m28 0h3m-55 1.5h3m3 0h3m27 0h3m34 0h3m-61 3h3m28 0h3m24 0h3m-73 1.5h6m-9 1.5h3m43 0h3m9 0h3m-15 1.5h3m-34 1.5h3m40 0h3m-58 1.5h3m49 0h9m-18 1.5h3m21 0h3m-24 4.5h3m15 1.5h3m-24 1.5h3m15 1.5h3m-12 1.5h3m-55 3h3m6 0h3m3 0h3m-67 1.5h3m0 1.5h3m3 0h3m16 3h3m-37 1.5h3"/>
<path fill="none" stroke="#202224" stroke-width="1.5" d="M378 48.75h3m15 0h3m-28 3h3m16 0h3m-89 1.5h3m64 0h3m7 0h3m3 0h3m3 0h3m6 0h3m-122 1.5h3m92 0h3m-77 1.5h3m95 0h3m-76 3h6m61 0h3m3 0h3m-125 1.5h3m46 0h6m27 0h3m28 0h6m-116 1.5h3m43 0h3m30 0h3m13 0h3m15 0h3m-122 1.5h3m49 0h3m-52 1.5h3m107 0h3m-31 1.5h3m19 0h3m3 0h3m-116 3h3m18 0h3m40 0h3m30 0h4m18 0h3m-122 1.5h3m49 0h3m-49 3h3m70 0h3m22 0h3m9 0h3m-113 1.5h3m43 0h3m67 0h3m-15 1.5h3m9 1.5h3m-125 1.5h3m24 0h3m43 0h3m-76 1.5h3m107 1.5h3m6 0h3m-46 1.5h3m-76 1.5h3m3 0h3m43 0h3m-34 3h3m3 0h3m55 0h3m31 0h6m-12 1.5h3m-67 1.5h3m6 0h3m21 0h3m31 0h3m-122 1.5h3m21 0h3m3 0h3m19 0h3m-31 1.5h3m28 1.5h3m24 0h3m-61 1.5h3m70 0h7m6 0h3m6 0h3m-119 1.5h6m-9 1.5h3m61 4.5h3m15 0h3m12 0h4m-92 1.5h3m76 0h3m3 0h7m3 0h3m-92 1.5h3m46 0h3m15 0h3m9 0h3m16 1.5h3m-92 1.5h6m22 0h6m21 0h3m22 0h3m-52 3h3m-43 1.5h3m6 0h3m83 0h3m-107 3h3m12 0h3m3 4.5h3m10 0h3m12 0h3m-43 1.5h3m-3 1.5h3m3 0h3m55 0h3m15 0h7m6 0h3m-110 1.5h3m82 1.5h3m-88 1.5h3m91 3h4m-95 1.5h3m3 0h6m64 0h3m22 6h3m12 1.5h3m-55 1.5h3m3 0h3m37 0h3m-9 3h3m6 0h3m-61 1.5h3m6 0h3m49 1.5h3m-104 4.5h3m6 0h3m25 0h3m33 0h3m4 0h6m-86 1.5h3m9 0h4m3 0h3m9 0h3m67 0h3m-6 1.5h3m-37 1.5h3m34 0h3m-58 1.5h3m15 0h3m-73 1.5h3m86 0h3m-95 1.5h3m76 0h6"/>
<path fill="none" stroke="#37442f" stroke-width="1.5" d="M381 48.75h6m12 0h3m-40 1.5h3m16 0h3m-46 1.5h3m43 0h3m9 0h3m-25 1.5h4m-22 1.5h6m-18 1.5h3m9 0h3m3 0h3m34 0h3m-49 1.5h3m6 0h3m6 0h3m16 0h3m6 0h3m-67 1.5h3m21 0h3m-58 1.5h3m31 0h3m12 0h3m28 0h3m-22 1.5h3m-24 1.5h3m15 0h3m40 0h3m-70 1.5h3m6 0h3m43 0h3m-52 1.5h3m12 0h3m-18 1.5h3m46 0h3m-15 1.5h3m15 0h3m-61 1.5h3m64 0h3m-61 3h3m3 1.5h3m-24 1.5h3m43 0h3m-19 1.5h3m6 0h4m6 0h3m3 0h3m-28 1.5h3m34 0h3m-58 1.5h3m46 0h6m0 1.5h3m-49 1.5h3m25 1.5h3m-3 1.5h3m12 0h3m-64 1.5h6m18 0h3m16 0h3m21 0h3m-55 1.5h3m3 0h3m12 0h4m-28 3h3m6 0h6m43 0h3m-37 1.5h4m9 1.5h3m3 1.5h3m-37 1.5h3m31 0h3m-116 1.5h3m58 0h3m6 0h3m21 0h4m21 0h3m3 0h3m-21 1.5h3m-55 1.5h3m52 0h3m-40 6h3m43 0h3m6 0h3m-134 1.5h3m18 0h3m40 0h3m6 0h3m49 0h6m-49 1.5h3m9 0h7m-19 1.5h3m31 0h3m-3 1.5h3m0 3h3m0 1.5h3m-43 1.5h3m25 0h3m-55 1.5h6m6 0h3m34 0h3m6 0h3m-37 1.5h3m6 0h3m22 0h3m-40 3h3m34 0h3m-12 1.5h3m15 0h3m-21 1.5h3m9 0h3m-9 1.5h6m-61 3h3m52 0h3m-19 1.5h4m12 0h3m-31 1.5h3m9 0h4m-19 1.5h3m-27 1.5h3m49 0h3m-6 1.5h3m-22 1.5h3m10 0h3m15 0h3m9 0h3m-33 3h3m12 0h3m3 0h3m-34 3h3m19 0h3m-52 1.5h3m3 3h3m55 0h3m-52 1.5h3m3 0h3m6 0h3m19 0h3m-119 4.5h6m3 0h3m3 0h3m12 0h3m-33 1.5h3m15 0h3m12 0h4m18 0h3m-25 1.5h7"/>
<path fill="none" stroke="#502427" stroke-width="1.5" d="M393 48.75h3m-119 1.5h3m3 0h3m40 1.5h3m-37 1.5h9m-9 1.5h3m31 0h3m-49 1.5h3m15 0h3m-24 1.5h3m3 0h6m9 1.5h3m9 0h4m3 0h3m6 1.5h3m-31 1.5h3m13 0h3m-28 1.5h3m3 3h3m12 0h4m9 0h3m67 0h3m-101 3h3m34 0h3m3 0h3m-49 1.5h6m3 0h3m-24 1.5h6m6 1.5h3m12 0h3m13 0h3m-40 1.5h3m6 0h3m3 0h3m19 0h3m-40 1.5h3m31 0h3m6 0h3m-31 1.5h3m-15 1.5h3m95 0h3m-110 1.5h3m18 0h6m-27 1.5h3m6 0h3m3 0h3m19 0h3m9 0h3m-37 1.5h3m16 0h3m-10 1.5h3m4 0h3m0 3h3m3 0h3m30 3h3m34 0h3m-86 1.5h4m-34 1.5h3m3 0h3m6 1.5h3m19 0h3m-31 4.5h3m3 0h3m6 0h3m25 0h3m-52 1.5h3m9 1.5h3m3 0h3m3 0h3m-6 1.5h3m7 1.5h3m76 0h3m-86 1.5h4m-37 1.5h6m18 0h3m6 0h4m-22 1.5h3m12 0h3m7 3h3m-43 3h3m3 0h3m3 1.5h3m12 0h3m3 0h4m-34 1.5h3m6 0h3m40 0h3m-58 4.5h3m101 1.5h3m-80 4.5h3m22 0h3m-52 3h3m27 1.5h4m-34 6h3m24 3h3m13 0h3m6 0h3m-58 7.5h3m3 0h3m9 4.5h3m34 0h3m15 0h3m-6 1.5h3m6 0h6m6 0h6m7 0h3m18 0h6m-49 1.5h3m-24 1.5h3m40 0h3m6 0h3m15 0h3m-73 1.5h3m3 0h6m28 0h3m-43 1.5h3m9 0h3"/>
<path fill="none" stroke="#313c2c" stroke-width="1.5" d="M408 48.75h3m-12 1.5h9m-104 1.5h3m40 0h3m37 0h3m-113 1.5h3m52 0h3m3 0h3m3 0h3m18 0h3m31 0h3m-98 1.5h3m55 0h3m25 0h3m3 0h3m-28 1.5h3m16 0h3m15 0h3m-46 1.5h6m7 0h3m6 0h3m6 0h3m3 0h3m-122 1.5h3m101 0h3m3 0h3m-25 1.5h3m25 0h3m-43 1.5h3m31 0h3m-92 1.5h3m31 0h3m33 1.5h4m6 0h3m21 0h3m-70 1.5h3m21 0h3m10 0h3m18 1.5h3m-46 3h3m3 0h3m28 0h9m-28 3h4m6 0h3m3 0h3m-15 1.5h3m6 0h6m12 0h3m-52 1.5h3m46 0h3m-15 1.5h6m-70 1.5h3m70 1.5h3m3 1.5h3m-76 3h3m15 0h3m9 0h3m10 0h3m9 0h3m3 0h3m6 0h3m-131 3h6m9 0h3m37 0h3m12 0h3m18 0h3m13 0h3m21 0h3m-131 1.5h3m55 0h3m9 0h3m25 0h3m9 0h3m-110 1.5h3m12 0h3m40 0h3m21 0h3m34 0h3m3 0h3m-46 1.5h3m10 0h3m9 0h3m-37 1.5h3m22 0h3m6 0h6m3 0h3m-64 1.5h3m12 0h6m-3 1.5h6m37 0h3m3 0h3m-70 1.5h3m58 0h3m-119 1.5h3m61 0h3m31 0h3m0 1.5h3m12 0h3m-9 1.5h3m3 0h3m-55 3h3m3 0h3m52 0h3m-43 1.5h3m22 0h3m3 0h3m-104 1.5h3m49 0h3m18 0h3m10 0h3m-9 1.5h3m9 0h3m-12 1.5h3m-6 1.5h3m24 0h3m-9 1.5h3m-70 3h3m49 0h3m-49 1.5h3m18 0h3m22 0h3m-46 1.5h3m9 0h3m40 0h3m-58 1.5h3m-67 3h3m113 0h3m-28 1.5h3m10 1.5h3m15 1.5h3m-18 3h3m9 0h3m6 0h3m-58 1.5h3m49 0h3m-18 4.5h3m9 0h3m-28 1.5h4m-34 1.5h3m46 0h3m-15 1.5h3m3 0h3m15 0h3m-21 1.5h3m-9 1.5h3m-101 1.5h3m88 0h4m3 0h3m-3 3h3m3 0h3m3 0h3m-104 3h3m9 0h3m3 0h4m12 0h3m33 0h3m3 0h3m19 0h3m-104 1.5h3m43 0h3m30 0h3m19 0h3m15 0h3m-67 1.5h3m-70 1.5h6m24 0h3m7 0h3m-16 1.5h3m7 0h3m9 0h6m-52 3h3m21 0h6"/>
<path fill="none" stroke="#762529" stroke-width="1.5" d="M289 50.25h3m18 0h4m-4 1.5h4m0 1.5h3m9 0h3m-19 1.5h4m9 1.5h3m-19 7.5h3m4 0h3m-16 4.5h3m3 0h3m7 0h3m-13 1.5h3m10 3h3m-28 4.5h3m-12 1.5h3m3 0h3m12 0h3m7 1.5h3m-13 1.5h3m13 0h3m-46 3h3m37 0h3m3 0h3m-12 3h3m3 3h3m-6 1.5h6m-37 3h3m12 0h3m7 1.5h3m3 1.5h3m-34 1.5h3m18 0h7m6 0h3m-37 3h3m12 0h6m-24 1.5h3m34 0h3m-22 4.5h3m10 0h3m0 1.5h6m0 3h6m-22 1.5h4m-10 1.5h3m13 0h3m-25 1.5h3m3 0h3m22 0h3m-15 1.5h3m-10 3h4m6 0h3m-3 1.5h3m3 0h3m-43 1.5h3m40 1.5h3m-49 1.5h3m6 4.5h3m37 0h3m-37 1.5h3m28 0h3m-37 1.5h3m-9 1.5h3m37 0h3m0 1.5h3m-58 1.5h3m9 0h3m37 0h3m-49 1.5h9m12 0h3m10 0h3m-28 1.5h3m9 1.5h3m19 0h3m-52 1.5h3m3 0h3m6 0h3m9 0h3m-3 1.5h3m-12 1.5h3m-15 1.5h3m0 1.5h3m6 1.5h6m6 0h3m13 1.5h3m52 6h3m6 0h3m6 0h3m-37 1.5h3m25 1.5h3"/>
<path fill="none" stroke="#9d262c" stroke-width="1.5" d="M292 50.25h3m25 1.5h3m-6 1.5h3m3 1.5h3m-6 12h3m3 0h3m-19 1.5h4m0 1.5h3m-7 3h4m12 6h3m-19 3h4m12 1.5h3m-12 1.5h3m-6 3h3m3 12h3m-6 1.5h3m-25 1.5h3m12 0h4m6 3h3m-6 4.5h3m-10 15h4m3 1.5h3m3 0h3m-9 3h3m-13 3h3m7 0h3m-31 1.5h3m22 0h3m6 0h6m3 0h3m-12 3h3m-43 3h3m21 0h3m19 6h6m-15 1.5h3m-43 3h3m34 0h3m-25 1.5h3m19 0h3m12 1.5h3"/>
<path fill="none" stroke="#6d2429" stroke-width="1.5" d="M298 50.25h3m16 0h3m-25 6h3m3 0h3m3 1.5h7m9 0h3m-19 3h3m7 0h3m-22 3h3m25 0h3m-37 3h3m19 0h3m-37 1.5h3m31 3h3m-31 1.5h6m15 0h3m22 0h3m-31 6h3m3 0h4m6 0h3m-37 3h3m25 0h3m-28 3h6m12 0h3m0 1.5h4m-19 1.5h3m34 0h3m18 1.5h3m-61 6h3m31 0h3m-46 1.5h3m18 0h3m16 0h3m-25 1.5h3m0 3h3m10 0h6m-9 1.5h3m-6 1.5h6m-13 1.5h10m-3 4.5h3m-13 3h3m3 0h4m3 3h3m-28 1.5h6m34 0h3m-12 1.5h3m-43 6h3m3 0h3m6 0h3m-12 3h3m6 0h6m28 0h3m-43 1.5h3m34 0h3m-46 1.5h3m15 3h3m-9 6h3m-3 1.5h3m3 1.5h3m-21 1.5h3m9 0h3m9 0h4m3 0h3m-31 1.5h3m15 1.5h3m4 1.5h3m-7 1.5h4m-25 1.5h3m82 10.5h4m15 0h3m-61 1.5h3m27 0h3"/>
<path fill="none" stroke="#ba272e" stroke-width="1.5" d="M314 50.25h3m-7 45h4m9 1.5h3m-12 18h3m6 0h3m-25 3h3m22 0h3m-19 3h4m-19 4.5h3m6 0h3m0 4.5h3m-3 4.5h3m-6 6h3m22 1.5h3m-12 3h3m-13 1.5h4m6 0h3m-28 1.5h3m0 3h3m28 0h3m-12 3h3"/>
<path fill="none" stroke="#cd272f" stroke-width="1.5" d="M320 50.25h3m-13 19.5h4m-4 18h4m12 24h3m-6 10.5h3m-3 3h3m0 1.5h3m-34 6h6m22 16.5h3m-12 3h3m6 1.5h3"/>
<path fill="none" stroke="#e02830" stroke-width="1.5" d="M326 50.25h3m-6 22.5h3m-16 4.5h4m6 10.5h3m-13 30h7m-3 7.5h3m3 0h3m3 0h3m-9 1.5h3m-9 1.5h3m3 0h9m-19 1.5h4m9 0h6m-15 1.5h3m-7 1.5h4m6 0h6m-9 1.5h6m-13 3h4m6 0h3m-3 1.5h9m-15 1.5h3m3 0h3m3 0h3m-15 1.5h3m3 0h3m-13 1.5h7m6 0h6m-15 3h3m9 0h3m-6 1.5h6m-34 3h3m16 0h3m3 0h6m-6 1.5h3m3 0h3m-19 1.5h7"/>
<path fill="none" stroke="#536f3c" stroke-width="1.5" d="M344 50.25h3m6 1.5h3m49 1.5h3m-24 4.5h3m-46 3h3m3 1.5h3m3 1.5h3m12 3h3m-6 1.5h3m-6 1.5h3m3 1.5h6m19 1.5h3m-43 1.5h3m-21 1.5h3m9 0h3m9 1.5h3m16 0h3m-46 1.5h3m3 0h3m24 1.5h3m37 0h3m-61 1.5h3m9 1.5h3m37 1.5h3m-24 3h3m-13 1.5h3m-3 1.5h3m-36 4.5h3m43 1.5h3m3 0h3m12 0h3m-24 3h3m15 0h3m-58 3h3m6 0h3m43 0h3m-67 1.5h3m12 0h3m3 0h3m16 0h3m-46 1.5h3m70 0h3m-6 1.5h3m-73 3h3m0 3h3m9 0h3m21 1.5h4m-40 1.5h3m6 0h3m3 1.5h3m-6 1.5h3m15 0h3m-21 3h3m15 1.5h3m3 0h4m-31 1.5h3m-3 1.5h3m15 0h3m37 0h6m-52 1.5h3m40 0h3m-67 3h3m18 1.5h3m-18 3h3m-9 4.5h3m6 0h3m52 0h3m-61 1.5h3m9 0h3m12 0h3m22 1.5h3m-55 1.5h3m-3 3h3m9 0h3m15 0h4m24 0h3m-61 1.5h3m58 0h3m-52 3h3m15 0h4m-98 6h3m15 0h3m28 6h3"/>
<path fill="none" stroke="#8bc457" stroke-width="1.5" d="M347 50.25h3m0 22.5h3m6 0h3m-18 45h3m58 4.5h3m-70 7.5h3m64 0h3m-70 9h3m6 3h3m55 0h3m-67 9h3m61 0h3m-55 3h3m6 0h3m3 0h3m34 0h3m-85 4.5h3"/>
<path fill="none" stroke="#58783f" stroke-width="1.5" d="M350 50.25h3m-6 4.5h3m24 0h4m-10 1.5h3m34 0h3m-73 1.5h6m6 12h3m3 3h6m-18 1.5h3m9 1.5h3m52 0h3m-61 3h3m49 0h3m-49 3h3m19 1.5h3m-7 1.5h4m30 0h3m-37 3h4m-34 7.5h3m6 0h3m6 0h3m-18 3h3m12 3h3m-24 1.5h3m34 0h3m24 0h3m-64 1.5h3m27 0h4m-28 1.5h3m3 3h3m-18 1.5h3m61 0h3m-43 3h3m28 1.5h3m-21 1.5h3m0 1.5h3m12 0h3m-64 3h3m33 1.5h3m0 3h4m24 0h3m-43 1.5h3m-18 1.5h3m21 0h3m-27 1.5h3m0 1.5h3m-3 1.5h3m15 0h3m31 0h3m-70 1.5h3m6 4.5h3m12 0h3m19 1.5h3m-43 1.5h3m21 0h3m34 1.5h3m-31 1.5h4m12 1.5h3m15 0h3m-6 1.5h3m-58 1.5h3m15 0h3m-24 1.5h3m21 0h7m6 0h3m-28 1.5h3m-27 1.5h3m-31 4.5h3m-15 1.5h3m25 0h3"/>
<path fill="none" stroke="#5e8042" stroke-width="1.5" d="M393 50.25h3m-61 6h3m15 0h3m49 6h3m-73 6h3m46 0h3m-52 1.5h3m-3 1.5h3m33 3h3m-33 1.5h3m18 0h3m3 0h3m-3 1.5h3m37 4.5h3m-67 1.5h6m21 0h3m-15 1.5h6m13 3h3m9 0h3m-22 4.5h3m31 3h3m-73 3h3m33 0h3m-33 1.5h3m24 1.5h6m-33 3h3m21 0h3m-33 4.5h3m46 0h3m9 0h3m-40 1.5h3m22 3h3m-52 3h3m15 4.5h3m22 0h3m-7 1.5h4m-34 1.5h3m58 0h3m-73 1.5h3m18 0h3m15 4.5h4m30 0h3m-58 1.5h3m49 1.5h3m-46 1.5h3m40 1.5h3m-49 1.5h3m-6 1.5h3m-3 1.5h3m3 0h6m10 0h3m21 1.5h3m3 0h3m-52 1.5h3m6 0h3m-21 3h3m6 0h3m16 0h3m-16 1.5h3m-33 1.5h3m21 1.5h3m40 0h3m-40 1.5h3m37 0h3m-24 1.5h3m15 0h3m-104 4.5h6m3 0h7"/>
<path fill="none" stroke="#3d2326" stroke-width="1.5" d="M295 51.75h3m43 0h3m18 0h3m-36 1.5h3m52 0h3m-92 1.5h6m31 0h3m-28 1.5h3m-6 1.5h3m-30 1.5h3m43 0h3m-3 1.5h3m52 0h3m-95 1.5h3m12 0h3m3 0h3m13 0h3m-3 1.5h3m52 0h3m-92 1.5h3m6 0h3m9 0h7m12 0h3m3 0h3m-52 1.5h3m15 0h3m-15 3h3m6 0h3m-6 1.5h3m-12 3h3m37 0h3m64 0h3m-122 1.5h3m9 0h3m46 1.5h3m-61 1.5h3m12 1.5h3m16 0h3m9 0h3m52 0h3m-86 3h3m13 0h3m-40 1.5h3m21 0h6m25 0h3m-40 1.5h3m6 0h3m31 0h3m46 0h3m6 3h3m-82 1.5h3m67 0h3m15 0h3m-116 1.5h3m9 0h3m25 0h3m39 0h4m-98 6h6m9 0h3m0 1.5h6m92 0h3m-101 1.5h3m95 0h3m-70 1.5h3m-52 1.5h3m6 0h3m95 0h3m-113 1.5h3m6 0h6m-3 1.5h3m49 0h3m-61 1.5h3m43 1.5h3m-52 1.5h3m9 1.5h3m-12 1.5h3m12 0h3m-15 1.5h3m34 0h3m-46 1.5h3m24 1.5h3m-27 3h3m-9 1.5h3m9 0h3m15 3h3m80 0h3m6 0h3m-98 1.5h3m-27 1.5h3m6 1.5h6m-15 4.5h3m15 0h3m31 0h3m39 0h4m3 0h3m-92 6h3m-12 3h3m73 0h3m-52 3h4m-37 1.5h3m9 0h3m6 0h3m28 0h3m52 0h3m9 0h3m-110 6h3m25 0h3m9 0h3m52 0h3m9 0h3m-92 1.5h3m31 0h3m-9 1.5h3m12 0h3m21 0h4m-37 1.5h3m9 0h3m18 0h7m3 0h3m18 0h3m-67 1.5h3m12 0h3m43 0h3m-64 1.5h3m9 0h3m3 0h3m22 0h6m6 0h3m9 0h3m-70 1.5h3m3 0h3m37 0h3m6 0h3m9 0h3"/>
<path fill="none" stroke="#75a24c" stroke-width="1.5" d="M350 51.75h3m-6 16.5h3m21 0h3m-12 4.5h3m6 15h3m34 0h3m-61 9h3m18 7.5h3m-27 9h3m46 0h3m-28 3h3m-3 3h3m-27 1.5h3m55 0h3m-40 1.5h3m-9 1.5h3m-30 9h3m3 0h3m21 0h3m10 0h3m-37 1.5h3m18 0h3m0 1.5h3m-6 1.5h3m-33 1.5h3m67 0h3m-58 4.5h3m12 0h3m-27 1.5h3m-9 1.5h3m24 0h3m-3 3h6m-15 1.5h3m6 0h3m43 0h3m-49 1.5h3m0 1.5h3m-82 4.5h3m0 1.5h3"/>
<path fill="none" stroke="#6f9a4a" stroke-width="1.5" d="M350 53.25h3m-3 13.5h3m12 6h3m-21 1.5h3m21 1.5h3m-27 3h3m18 0h3m-27 6h3m58 0h3m-55 3h3m3 0h3m6 6h3m37 1.5h3m-49 4.5h3m6 0h3m31 9h3m-73 4.5h3m18 0h3m46 0h3m-52 3h3m6 0h3m37 0h3m-34 1.5h4m-43 1.5h3m9 0h3m21 1.5h3m-27 1.5h3m-6 3h3m15 0h3m-3 3h3m3 1.5h3m-15 3h3m49 0h3m-58 4.5h3m49 0h3m-37 1.5h3m-39 1.5h3m3 0h3m27 0h3m-33 3h3m-6 7.5h3m3 0h3m-9 1.5h3m12 0h3m3 1.5h3m46 0h3m-91 4.5h3m3 1.5h3"/>
<path fill="none" stroke="#93262b" stroke-width="1.5" d="M314 54.75h3m-25 3h3m25 0h3m-9 1.5h3m3 1.5h3m-3 7.5h3m-22 4.5h3m6 1.5h4m6 1.5h3m-6 1.5h3m3 0h3m-6 4.5h3m3 0h3m-22 6h3m0 1.5h4m0 3h3m-7 9h4m6 1.5h3m3 0h3m-19 1.5h4m6 3h3m-9 4.5h3m-10 1.5h3m4 6h3m-10 1.5h3m7 0h3m6 0h3m-12 7.5h3m-31 1.5h3m34 1.5h3m-43 1.5h3m12 0h3m-18 1.5h3m28 1.5h3m-25 3h3m31 0h3m-40 1.5h3m22 0h3m3 0h3m6 1.5h3m-34 4.5h3m-27 1.5h3m49 0h3m-22 1.5h4m18 1.5h3m-25 1.5h4m-10 1.5h3m22 0h3"/>
<path fill="none" stroke="#d6282f" stroke-width="1.5" d="M314 56.25h3m9 31.5h3m-19 43.5h4m9 0h3m-6 4.5h3m-6 3h3m12 4.5h3m-15 6h3m-22 4.5h3"/>
<path fill="none" stroke="#a6262c" stroke-width="1.5" d="M326 56.25h3m-15 1.5h3m-3 10.5h3m9 0h3m-15 4.5h3m-28 6h3m25 16.5h3m-6 7.5h3m-3 6h3m3 3h3m-3 6h3m-9 4.5h3m-3 1.5h3m-16 1.5h3m6 1.5h4m-19 3h3m-9 3h3m12 0h3m7 0h3m9 0h3m-19 1.5h4m-28 3h3m9 0h3m6 0h3m7 0h3m-19 1.5h3m-9 3h3m9 0h7m-28 1.5h3m12 0h3m3 0h3m10 0h3m6 0h3m-9 3h3m-40 1.5h3m-3 3h3m37 0h3m0 1.5h3"/>
<path fill="none" stroke="#7aab4f" stroke-width="1.5" d="M350 56.25h3m-3 6h3m52 6h3m-61 4.5h3m18 0h6m-6 9h3m-21 6h3m52 0h3m-37 9h3m-24 1.5h3m-9 4.5h3m21 0h3m-9 1.5h3m-18 6h3m28 7.5h3m24 0h3m-70 4.5h3m24 0h3m-30 3h3m24 3h3m-9 3h3m12 1.5h4m-37 4.5h3m12 0h3m9 0h3m-24 1.5h3m15 0h3m-24 1.5h3m6 0h3m52 0h3m-43 1.5h3m-18 4.5h3m9 0h3m6 0h4m-7 1.5h3m-3 4.5h3m-36 1.5h3m6 0h6"/>
<path fill="none" stroke="#80b352" stroke-width="1.5" d="M350 68.25h3m-9 4.5h3m-6 4.5h3m61 4.5h3m-37 3h3m-36 3h3m3 0h3m21 7.5h3m-27 1.5h3m21 0h3m-6 3h3m-33 3h3m33 0h3m-21 10.5h3m-15 4.5h3m24 0h3m37 7.5h3m-73 7.5h3m3 0h3m21 1.5h3m-27 3h3m24 0h3m-33 1.5h3m6 0h3m3 4.5h3m-6 4.5h3m52 0h3m-33 3h3"/>
<path fill="none" stroke="#91cd5a" stroke-width="1.5" d="M368 68.25h3m37 4.5h3m-76 15h3m9 0h3m18 0h3m-24 30h3m-15 12h3m15 3h3m6 0h3m6 0h3m-21 1.5h3m-3 7.5h3m12 4.5h3m-6 4.5h3m-33 1.5h3m6 1.5h3m24 0h3"/>
<path fill="none" stroke="#86bc55" stroke-width="1.5" d="M335 72.75h3m70 6h3m-46 9h3m-33 30h3m70 0h3m-61 7.5h3m-15 3h3m12 1.5h3m15 4.5h3m-27 9h3m3 0h3m18 0h4m-7 3h3m-6 1.5h3"/>
<path fill="none" stroke="#b0262d" stroke-width="1.5" d="M310 96.75h4m12 12h3m-6 9h3m-3 6h3m3 1.5h3m-37 3h3m31 0h3m-12 1.5h3m-3 1.5h3m-9 4.5h3m6 6h6m-12 1.5h3m-6 4.5h3m-16 3h3m0 1.5h3m-21 1.5h3m28 0h3"/></g>
<g shape-rendering="crispEdges">
<rect x="63" y="805" width="7" height="5.5" fill="#d7363a"/>
<rect x="70" y="805" width="3" height="5.5" fill="#4660b6"/>
<rect x="73" y="805" width="53" height="5.5" fill="#d7363a"/>
<rect x="126" y="805" width="71" height="5.5" fill="#4660b6"/>
<rect x="277" y="169" width="59" height="5.5" fill="#d7363a"/>
<rect x="336" y="169" width="75" height="5.5" fill="#4660b6"/>
<rect x="276" y="268" width="53" height="5" fill="#d7363a"/>
<rect x="329" y="268" width="68" height="5" fill="#4660b6"/>
<rect x="397" y="268" width="3" height="5" fill="#d7363a"/>
<rect x="400" y="268" width="6" height="5" fill="#4660b6"/>
<rect x="406" y="268" width="3" height="5" fill="#d7363a"/>
<rect x="276" y="259.6" width="53" height="4.9" fill="#c8282e"/>
<rect x="329" y="259.6" width="49" height="4.9" fill="#8cc450"/>
<rect x="378" y="259.6" width="21" height="4.9" fill="#2a1a14"/>
<rect x="399" y="259.6" width="10" height="4.9" fill="#4c7a30"/>
</g>
<path d="M47.1 241.5H45.9V463.8H50.6M45.9 352.7H45.4V581.1H49.7M46.3 674.3H45.6V757.7H47.8M45.6 716H44.5V789.9H50.9" stroke="#666" stroke-width="0.55" fill="none"/>
<path d="M61.2 48.8H60V49.4H61.2M61.2 50.6H60.3V51.2H61.2M61.2 50H59.1V50.9H60.3M61.2 51.8H60.6V52.4H61.2M61.2 53H60.3V53.6H61.2M60.3 53.3H59.1V54.2H61.2M60.6 52.1H58V53.8H59.1M59.1 50.4H57.6V52.9H58M60 49.1H56.4V51.7H57.6M61.2 54.8H59.9V55.4H61.2M61.2 56H60.1V56.6H61.2M59.9 55.1H58.7V56.3H60.1M61.2 57.2H60.4V57.8H61.2M60.4 57.5H59.2V58.4H61.2M58.7 55.7H57.8V58H59.2M56.4 50.4H55.1V56.8H57.8M61.2 59H60.6V59.6H61.2M61.2 60.2H60.5V60.8H61.2M61.2 61.4H60.4V62H61.2M60.4 61.7H59.4V62.6H61.2M60.5 60.5H58.5V62.1H59.4M61.2 63.2H60.1V63.8H61.2M58.5 61.3H57.1V63.5H60.1M60.6 59.3H55.9V62.4H57.1M61.2 64.4H59.9V65H61.2M59.9 64.7H58.6V65.6H61.2M58.6 65.1H57.3V66.2H61.2M55.9 60.9H54.9V65.7H57.3M55.1 53.6H53.8V63.3H54.9M61.2 66.8H59.9V67.4H61.2M61.2 68H60V68.6H61.2M60 68.3H59.2V69.2H61.2M59.9 67.1H58.6V68.8H59.2M61.2 69.8H59.9V70.4H61.2M61.2 71.6H60.7V72.2H61.2M61.2 71H59.6V71.9H60.7M59.9 70.1H58.9V71.4H59.6M58.6 67.9H57.3V70.8H58.9M61.2 72.8H60.5V73.4H61.2M60.5 73.1H60V74H61.2M60 73.5H59V74.6H61.2M57.3 69.3H56.9V74.1H59M61.2 75.2H60.7V75.8H61.2M61.2 76.4H60.5V77H61.2M60.7 75.5H59.1V76.7H60.5M61.2 77.6H60.3V78.2H61.2M61.2 78.8H60.2V79.4H61.2M60.3 77.9H59.2V79.1H60.2M59.2 78.5H58.2V80H61.2M59.1 76.1H56.9V79.2H58.2M61.2 81.2H59.8V81.8H61.2M61.2 80.6H58.9V81.5H59.8M61.2 82.4H60.8V83H61.2M58.9 81H58.1V82.7H60.8M61.2 84.2H60.2V84.8H61.2M61.2 83.6H59.7V84.5H60.2M61.2 85.4H60.3V86H61.2M59.7 84H58.6V85.7H60.3M58.1 81.9H57.3V84.9H58.6M61.2 87.8H59.8V88.4H61.2M61.2 87.2H59.2V88.1H59.8M61.2 86.6H58.3V87.6H59.2M61.2 89H60.5V89.6H61.2M58.3 87.1H57.5V89.3H60.5M61.2 90.8H60.2V91.4H61.2M61.2 90.2H59.5V91.1H60.2M57.5 88.2H56.7V90.6H59.5M57.3 83.4H55.6V89.4H56.7M56.9 77.7H55.1V86.4H55.6M56.9 71.7H54.1V82H55.1M53.8 58.4H52.6V76.9H54.1M61.2 92H60.4V92.6H61.2M61.2 93.2H60.5V93.8H61.2M60.5 93.5H59.7V94.4H61.2M60.4 92.3H58.5V94H59.7M61.2 95.6H60.6V96.2H61.2M61.2 95H59.9V95.9H60.6M58.5 93.1H57.4V95.4H59.9M61.2 96.8H60.3V97.4H61.2M61.2 98.6H60.6V99.2H61.2M60.6 98.9H59.9V99.8H61.2M61.2 98H58.7V99.3H59.9M60.3 97.1H57.6V98.7H58.7M61.2 100.4H60.5V101H61.2M61.2 101.6H60.5V102.2H61.2M60.5 100.7H59.7V101.9H60.5M61.2 102.8H60.4V103.4H61.2M59.7 101.3H58.9V103.1H60.4M57.6 97.9H56.3V102.2H58.9M61.2 105.2H59.8V105.8H61.2M59.8 105.5H59V106.4H61.2M61.2 104.6H57.6V105.9H59M61.2 104H56.3V105.3H57.6M56.3 100H55.6V104.6H56.3M57.4 94.3H54.5V102.3H55.6M61.2 107.6H60.7V108.2H61.2M61.2 107H59.7V107.9H60.7M61.2 108.8H60.7V109.4H61.2M61.2 110H59.9V110.6H61.2M59.9 110.3H58.6V111.2H61.2M58.6 110.8H57.6V111.8H61.2M60.7 109.1H57.2V111.3H57.6M59.7 107.4H56V110.2H57.2M61.2 112.4H60.1V113H61.2M61.2 114.2H60.2V114.8H61.2M61.2 113.6H59.4V114.5H60.2M61.2 116H60.3V116.6H61.2M61.2 115.4H59.1V116.3H60.3M59.4 114H58.4V115.8H59.1M60.1 112.7H57.7V114.9H58.4M56 108.8H55.1V113.8H57.7M61.2 117.2H59.9V117.8H61.2M61.2 119H59.9V119.6H61.2M61.2 118.4H59.5V119.3H59.9M59.5 118.8H58.8V120.2H61.2M61.2 120.8H60.3V121.4H61.2M58.8 119.5H57.9V121.1H60.3M59.9 117.5H57.1V120.3H57.9M61.2 122H60.7V122.6H61.2M60.7 122.3H60.2V123.2H61.2M57.1 118.9H56.5V122.8H60.2M55.1 111.3H54.6V120.8H56.5M61.2 123.8H60.5V124.4H61.2M61.2 125H60.1V125.6H61.2M61.2 126.2H60.4V126.8H61.2M60.1 125.3H59.5V126.5H60.4M60.5 124.1H58.8V125.9H59.5M61.2 128H60.1V128.6H61.2M61.2 127.4H59.3V128.3H60.1M58.8 125H58.3V127.8H59.3M61.2 129.8H60.2V130.4H61.2M61.2 129.2H59V130.1H60.2M58.3 126.4H57.5V129.6H59M54.6 116.1H53.4V128H57.5M54.5 98.3H52.4V122.1H53.4M52.6 67.7H51.5V110.2H52.4M61.2 131.6H60.7V132.2H61.2M60.7 131.9H59.9V132.8H61.2M61.2 131H59V132.3H59.9M61.2 134H60V134.6H61.2M61.2 133.4H59.3V134.3H60M59.3 133.8H58.5V135.2H61.2M58.5 134.5H57.9V135.8H61.2M59 131.7H56.7V135.2H57.9M61.2 136.4H60.1V137H61.2M60.1 136.7H59.1V137.6H61.2M59.1 137.1H58.6V138.2H61.2M61.2 138.8H60.8V139.4H61.2M58.6 137.7H58V139.1H60.8M56.7 133.4H55.5V138.4H58M61.2 141.2H60.6V141.8H61.2M61.2 140.6H60.2V141.5H60.6M61.2 140H58.9V141.1H60.2M61.2 142.4H59.8V143H61.2M59.8 142.7H58.9V143.6H61.2M58.9 143.1H57.7V144.2H61.2M61.2 144.8H60.3V145.4H61.2M61.2 146H59.9V146.6H61.2M61.2 148.4H60V149H61.2M61.2 147.8H59.3V148.7H60M61.2 147.2H58.7V148.2H59.3M59.9 146.3H58.1V147.7H58.7M61.2 149.6H60.4V150.2H61.2M60.4 149.9H59.6V150.8H61.2M58.1 147H57.2V150.3H59.6M60.3 145.1H56.5V148.7H57.2M57.7 143.7H55.6V146.9H56.5M58.9 140.5H55.1V145.3H55.6M55.5 135.9H54.2V142.9H55.1M61.2 152H60.1V152.6H61.2M61.2 153.2H60.3V153.8H61.2M60.1 152.3H59.1V153.5H60.3M61.2 151.4H57.8V152.9H59.1M61.2 154.4H60.7V155H61.2M57.8 152.1H56.6V154.7H60.7M61.2 155.6H60.6V156.2H61.2M61.2 156.8H60.6V157.4H61.2M60.6 155.9H59.6V157.1H60.6M61.2 158.6H60.1V159.2H61.2M61.2 158H58.7V158.9H60.1M59.6 156.5H58V158.4H58.7M61.2 159.8H60.4V160.4H61.2M58 157.5H56.8V160.1H60.4M56.6 153.4H55.6V158.8H56.8M61.2 161H60.8V161.6H61.2M61.2 162.8H60.6V163.4H61.2M61.2 162.2H59.8V163.1H60.6M60.8 161.3H59.1V162.6H59.8M55.6 156.1H54.4V162H59.1M54.2 139.4H53.7V159H54.4M61.2 164H60.1V164.6H61.2M60.1 164.3H58.8V165.2H61.2M58.8 164.8H58V165.8H61.2M61.2 166.4H59.8V167H61.2M58 165.3H57.1V166.7H59.8M61.2 167.6H60.1V168.2H61.2M61.2 168.8H59.9V169.4H61.2M61.2 170H60.6V170.6H61.2M59.9 169.1H59.3V170.3H60.6M60.1 167.9H58.7V169.7H59.3M57.1 166H56V168.8H58.7M61.2 171.2H60.5V171.8H61.2M61.2 173H60.7V173.6H61.2M61.2 172.4H60.2V173.3H60.7M60.5 171.5H58.9V172.8H60.2M61.2 174.2H60.4V174.8H61.2M58.9 172.2H58V174.5H60.4M61.2 175.4H60.5V176H61.2M60.5 175.7H59.6V176.6H61.2M58 173.3H57.1V176.1H59.6M56 167.4H55.4V174.7H57.1M61.2 177.2H60.5V177.8H61.2M61.2 178.4H60.7V179H61.2M60.5 177.5H59.2V178.7H60.7M61.2 180.2H60V180.8H61.2M60 180.5H58.9V181.4H61.2M61.2 179.6H58.2V180.9H58.9M61.2 182H60.1V182.6H61.2M58.2 180.3H56.9V182.3H60.1M59.2 178.1H56.3V181.3H56.9M61.2 183.2H60.1V183.8H61.2M60.1 183.5H59.2V184.4H61.2M56.3 179.7H55.7V183.9H59.2M61.2 185H60.1V185.6H61.2M61.2 186.2H60.1V186.8H61.2M60.1 186.5H59.1V187.4H61.2M60.1 185.3H58.5V186.9H59.1M61.2 188H59.9V188.6H61.2M61.2 189.2H60.5V189.8H61.2M59.9 188.3H58.7V189.5H60.5M58.7 188.9H57.7V190.4H61.2M58.5 186.1H56.8V189.6H57.7M55.7 181.8H54.7V187.9H56.8M55.4 171.1H53.8V184.9H54.7M61.2 192.2H60V192.8H61.2M61.2 191.6H59.1V192.5H60M61.2 191H57.9V192H59.1M61.2 194H59.9V194.6H61.2M61.2 193.4H59.5V194.3H59.9M61.2 195.2H60V195.8H61.2M61.2 196.4H60.5V197H61.2M60 195.5H59.2V196.7H60.5M59.5 193.8H58.3V196.1H59.2M57.9 191.5H56.8V195H58.3M53.8 178H53V193.2H56.8M53.7 149.2H51.8V185.6H53M61.2 198.2H60.6V198.8H61.2M60.6 198.5H60V199.4H61.2M61.2 197.6H59.2V198.9H60M61.2 200H60.4V200.6H61.2M60.4 200.3H59.8V201.2H61.2M59.8 200.8H58.8V201.8H61.2M61.2 202.4H60.6V203H61.2M58.8 201.3H58.2V202.7H60.6M61.2 204.2H59.9V204.8H61.2M61.2 203.6H58.6V204.5H59.9M58.6 204H57.8V205.4H61.2M58.2 202H56.8V204.7H57.8M59.2 198.3H55.8V203.4H56.8M61.2 206H60.2V206.6H61.2M60.2 206.3H59.1V207.2H61.2M61.2 208.4H60.3V209H61.2M60.3 208.7H59.4V209.6H61.2M61.2 207.8H58.5V209.1H59.4M59.1 206.8H57.9V208.5H58.5M61.2 210.8H60.1V211.4H61.2M61.2 210.2H59.3V211.1H60.1M61.2 212H59.8V212.6H61.2M59.3 210.6H58V212.3H59.8M57.9 207.6H57.3V211.5H58M61.2 213.2H60.7V213.8H61.2M60.7 213.5H60V214.4H61.2M57.3 209.5H56.7V213.9H60M61.2 215H60.5V215.6H61.2M60.5 215.3H59.2V216.2H61.2M61.2 217.4H60.1V218H61.2M60.1 217.7H58.9V218.6H61.2M58.9 218.1H58.2V219.2H61.2M61.2 216.8H57V218.7H58.2M61.2 219.8H60.4V220.4H61.2M60.4 220.1H59.2V221H61.2M57 217.7H56.1V220.6H59.2M59.2 215.8H55.5V219.1H56.1M56.7 211.7H55.1V217.4H55.5M55.8 200.8H54.6V214.6H55.1M61.2 221.6H60.1V222.2H61.2M60.1 221.9H59.4V222.8H61.2M61.2 223.4H60V224H61.2M59.4 222.3H58.6V223.7H60M61.2 224.6H60.1V225.2H61.2M61.2 225.8H60.3V226.4H61.2M61.2 227H60.6V227.6H61.2M60.3 226.1H59.8V227.3H60.6M60.1 224.9H59.2V226.7H59.8M58.6 223H57.4V225.8H59.2M61.2 228.8H60.6V229.4H61.2M61.2 228.2H59.8V229.1H60.6M61.2 231.2H60.6V231.8H61.2M61.2 230.6H59.7V231.5H60.6M61.2 230H59.2V231H59.7M59.8 228.6H58.8V230.5H59.2M61.2 232.4H60.4V233H61.2M61.2 233.6H60.8V234.2H61.2M60.4 232.7H59V233.9H60.8M61.2 236H60.6V236.6H61.2M61.2 235.4H59.6V236.3H60.6M61.2 234.8H58.8V235.8H59.6M59 233.3H58.3V235.3H58.8M61.2 237.2H60.5V237.8H61.2M61.2 238.4H60.5V239H61.2M61.2 240.2H60V240.8H61.2M61.2 239.6H58.9V240.5H60M60.5 238.7H58.2V240H58.9M61.2 242H59.8V242.6H61.2M61.2 241.4H58.8V242.3H59.8M58.2 239.4H57.8V241.8H58.8M60.5 237.5H57.3V240.6H57.8M58.3 234.3H56.8V239.1H57.3M58.8 229.6H56.2V236.7H56.8M57.4 224.4H55.8V233.1H56.2M61.2 243.2H60.3V243.8H61.2M61.2 244.4H60.7V245H61.2M60.7 244.7H60V245.6H61.2M61.2 246.2H59.9V246.8H61.2M60 245.1H59.3V246.5H59.9M60.3 243.5H58.6V245.8H59.3M61.2 247.4H60.4V248H61.2M60.4 247.7H59.7V248.6H61.2M58.6 244.7H57.6V248.1H59.7M61.2 249.2H60.1V249.8H61.2M61.2 250.4H59.9V251H61.2M59.9 250.7H59.1V251.6H61.2M60.1 249.5H58.3V251.1H59.1M61.2 252.2H60V252.8H61.2M58.3 250.3H57.4V252.5H60M57.6 246.4H56.7V251.4H57.4M61.2 253.4H60.6V254H61.2M61.2 254.6H60.8V255.2H61.2M60.6 253.7H59.8V254.9H60.8M61.2 255.8H60.1V256.4H61.2M59.8 254.3H59.2V256.1H60.1M61.2 257H60.2V257.6H61.2M61.2 258.2H60.3V258.8H61.2M60.3 258.5H59V259.4H61.2M60.2 257.3H57.9V258.9H59M59.2 255.2H57.2V258.1H57.9M61.2 260.6H59.8V261.2H61.2M61.2 260H59.3V260.9H59.8M61.2 261.8H60.7V262.4H61.2M61.2 263H60.5V263.6H61.2M60.7 262.1H60.1V263.3H60.5M59.3 260.4H58.8V262.7H60.1M57.2 256.7H56.1V261.6H58.8M61.2 264.2H60.6V264.8H61.2M61.2 265.4H60V266H61.2M60 265.7H59V266.6H61.2M60.6 264.5H57.8V266.1H59M61.2 267.8H60V268.4H61.2M61.2 267.2H59.4V268.1H60M61.2 270.2H60.3V270.8H61.2M60.3 270.5H59.7V271.4H61.2M61.2 269.6H58.5V270.9H59.7M58.5 270.3H57.4V272H61.2M61.2 269H56.4V271.1H57.4M59.4 267.6H55.2V270.1H56.4M61.2 272.6H60.3V273.2H61.2M61.2 274.4H60V275H61.2M60 274.7H59.4V275.6H61.2M61.2 273.8H58.4V275.1H59.4M60.3 272.9H57.5V274.5H58.4M61.2 276.2H60.7V276.8H61.2M57.5 273.7H56.8V276.5H60.7M55.2 268.9H54.3V275.1H56.8M57.8 265.3H53.8V272H54.3M61.2 277.4H60.6V278H61.2M60.6 277.7H59.8V278.6H61.2M61.2 279.2H60.4V279.8H61.2M60.4 279.5H59.9V280.4H61.2M59.8 278.1H59.2V279.9H59.9M61.2 281.6H59.9V282.2H61.2M59.9 281.9H58.5V282.8H61.2M61.2 281H57.5V282.4H58.5M59.2 279H56.2V281.7H57.5M61.2 283.4H59.9V284H61.2M61.2 284.6H60.3V285.2H61.2M59.9 283.7H58.7V284.9H60.3M61.2 285.8H59.9V286.4H61.2M61.2 287H59.9V287.6H61.2M59.9 286.1H59.3V287.3H59.9M58.7 284.3H58.2V286.7H59.3M56.2 280.4H55.1V285.5H58.2M53.8 268.7H53.1V282.9H55.1M56.1 259.1H52.2V275.8H53.1M56.7 248.9H51.1V267.5H52.2M55.8 228.8H50.7V258.2H51.1M54.6 207.7H49.5V243.5H50.7M51.8 167.4H48.8V225.6H49.5M51.5 88.9H48V196.5H48.8M61.2 288.8H60.7V289.4H61.2M61.2 288.2H60.1V289.1H60.7M61.2 290H59.9V290.6H61.2M59.9 290.3H59.1V291.2H61.2M61.2 291.8H60.5V292.4H61.2M59.1 290.8H58.3V292.1H60.5M61.2 293H60.4V293.6H61.2M60.4 293.3H59.2V294.2H61.2M58.3 291.4H57.6V293.8H59.2M60.1 288.6H56.7V292.6H57.6M61.2 295.4H60.8V296H61.2M61.2 294.8H60.2V295.7H60.8M61.2 296.6H60.7V297.2H61.2M60.7 296.9H60.1V297.8H61.2M61.2 298.4H59.8V299H61.2M59.8 298.7H58.6V299.6H61.2M60.1 297.4H57.3V299.1H58.6M60.2 295.2H56.8V298.2H57.3M61.2 301.4H60.4V302H61.2M61.2 300.8H60V301.7H60.4M61.2 300.2H59V301.2H60M56.8 296.8H56.3V300.7H59M61.2 302.6H60V303.2H61.2M61.2 304.4H60.7V305H61.2M61.2 303.8H59.9V304.7H60.7M60 302.9H58.9V304.2H59.9M56.3 298.7H55.2V303.6H58.9M56.7 290.6H53.9V301.2H55.2M61.2 306.2H60.3V306.8H61.2M60.3 306.5H59V307.4H61.2M61.2 305.6H58.1V306.9H59M61.2 308.6H60.1V309.2H61.2M61.2 308H58.9V308.9H60.1M61.2 310.4H59.9V311H61.2M61.2 309.8H58.7V310.7H59.9M58.7 310.2H57.6V311.6H61.2M58.9 308.4H56.8V310.9H57.6M58.1 306.3H55.9V309.7H56.8M61.2 312.2H60.1V312.8H61.2M61.2 313.4H60.4V314H61.2M60.4 313.7H59.6V314.6H61.2M60.1 312.5H58.7V314.1H59.6M55.9 308H54.7V313.3H58.7M53.9 295.9H53V310.7H54.7M61.2 315.2H60.4V315.8H61.2M61.2 316.4H60.2V317H61.2M60.2 316.7H59.7V317.6H61.2M59.7 317.1H58.7V318.2H61.2M60.4 315.5H57.8V317.7H58.7M61.2 318.8H59.9V319.4H61.2M61.2 320.6H60.3V321.2H61.2M60.3 320.9H59V321.8H61.2M61.2 320H57.6V321.4H59M59.9 319.1H56.6V320.7H57.6M61.2 322.4H60.6V323H61.2M61.2 323.6H60.5V324.2H61.2M61.2 325.4H59.9V326H61.2M61.2 324.8H59.1V325.7H59.9M60.5 323.9H58.3V325.2H59.1M60.6 322.7H57.6V324.6H58.3M56.6 319.9H56V323.6H57.6M57.8 316.6H55.4V321.8H56M61.2 328.4H60.3V329H61.2M61.2 327.8H59.1V328.7H60.3M61.2 327.2H57.9V328.2H59.1M61.2 326.6H56.8V327.7H57.9M56.8 327.2H55.6V329.6H61.2M55.4 319.2H54.9V328.4H55.6M53 303.3H52.3V323.8H54.9M61.2 330.8H60.7V331.4H61.2M61.2 330.2H60.1V331.1H60.7M61.2 332.6H60.6V333.2H61.2M61.2 332H59.2V332.9H60.6M59.2 332.4H58.1V333.8H61.2M60.1 330.6H57.1V333.1H58.1M61.2 335H60.6V335.6H61.2M61.2 334.4H60V335.3H60.6M61.2 336.8H60.4V337.4H61.2M60.4 337.1H59.9V338H61.2M61.2 336.2H59.1V337.6H59.9M61.2 338.6H60.5V339.2H61.2M59.1 336.9H58.5V338.9H60.5M61.2 340.4H60.4V341H61.2M61.2 339.8H59.1V340.7H60.4M58.5 337.9H58V340.2H59.1M60 334.9H57.4V339.1H58M57.1 331.9H55.7V337H57.4M61.2 341.6H60.5V342.2H61.2M61.2 342.8H60.4V343.4H61.2M60.5 341.9H59.3V343.1H60.4M59.3 342.5H58.1V344H61.2M61.2 344.6H60.3V345.2H61.2M61.2 345.8H60V346.4H61.2M60.3 344.9H59.3V346.1H60M61.2 347H59.9V347.6H61.2M61.2 348.2H59.8V348.8H61.2M59.9 347.3H58.6V348.5H59.8M59.3 345.5H58V347.9H58.6M58.1 343.2H57.3V346.7H58M61.2 349.4H60.4V350H61.2M61.2 351.8H60V352.4H61.2M61.2 351.2H58.6V352.1H60M61.2 350.6H57.5V351.6H58.6M61.2 353H60V353.6H61.2M57.5 351.1H57V353.3H60M60.4 349.7H56.1V352.2H57M61.2 354.2H60.5V354.8H61.2M61.2 356H60.4V356.6H61.2M61.2 355.4H59.4V356.3H60.4M61.2 357.2H59.9V357.8H61.2M59.4 355.9H58.2V357.5H59.9M60.5 354.5H56.9V356.7H58.2M61.2 358.4H60.7V359H61.2M60.7 358.7H59.7V359.6H61.2M61.2 360.2H60.5V360.8H61.2M61.2 361.4H60.3V362H61.2M60.5 360.5H59.4V361.7H60.3M61.2 362.6H59.9V363.2H61.2M59.4 361.1H58.1V362.9H59.9M59.7 359.1H57.1V362H58.1M56.9 355.6H56.1V360.6H57.1M56.1 351H55V358.1H56.1M57.3 345H54.5V354.5H55M61.2 364.4H60.4V365H61.2M61.2 363.8H59V364.7H60.4M59 364.2H58.2V365.6H61.2M58.2 364.9H57.6V366.2H61.2M61.2 366.8H59.9V367.4H61.2M59.9 367.1H58.8V368H61.2M61.2 368.6H60.5V369.2H61.2M58.8 367.6H57.9V368.9H60.5M57.6 365.6H56.8V368.2H57.9M54.5 349.7H53.8V366.9H56.8M61.2 370.4H60.4V371H61.2M61.2 369.8H59.4V370.7H60.4M61.2 371.6H60.7V372.2H61.2M59.4 370.2H58.7V371.9H60.7M61.2 372.8H60.8V373.4H61.2M58.7 371.1H57.7V373.1H60.8M61.2 374H60V374.6H61.2M61.2 375.2H59.9V375.8H61.2M60 374.3H59V375.5H59.9M59 374.9H57.9V376.4H61.2M57.7 372.1H57.2V375.6H57.9M53.8 358.3H52.5V373.9H57.2M55.7 334.4H51.7V366.1H52.5M61.2 377.6H60.2V378.2H61.2M61.2 377H59.7V377.9H60.2M61.2 379.4H60V380H61.2M61.2 380.6H60.5V381.2H61.2M60 379.7H59.2V380.9H60.5M61.2 378.8H58.2V380.3H59.2M59.7 377.4H57.4V379.5H58.2M61.2 381.8H60.4V382.4H61.2M60.4 382.1H59.8V383H61.2M57.4 378.5H56V382.6H59.8M61.2 383.6H60V384.2H61.2M61.2 386H60.4V386.6H61.2M61.2 385.4H59.1V386.3H60.4M61.2 384.8H57.8V385.9H59.1M57.8 385.3H57.1V387.2H61.2M60 383.9H56.3V386.3H57.1M61.2 387.8H60.4V388.4H61.2M60.4 388.1H59.9V389H61.2M61.2 389.6H60.8V390.2H61.2M59.9 388.6H58.6V389.9H60.8M56.3 385.1H55.3V389.2H58.6M56 380.5H54.3V387.2H55.3M51.7 350.3H51.2V383.8H54.3M52.3 313.5H50.5V367H51.2M48 142.7H47.1V340.3H50.5M61.2 390.8H59.9V391.4H61.2M61.2 392.6H60.2V393.2H61.2M61.2 392H59.4V392.9H60.2M59.9 391.1H58.2V392.4H59.4M61.2 393.8H60.6V394.4H61.2M60.6 394.1H60.1V395H61.2M60.1 394.6H59.3V395.6H61.2M58.2 391.8H57.5V395.1H59.3M61.2 396.2H60.6V396.8H61.2M61.2 397.4H59.9V398H61.2M59.9 397.7H59.1V398.6H61.2M59.1 398.1H58.4V399.2H61.2M60.6 396.5H57.8V398.7H58.4M57.5 393.4H57V397.6H57.8M61.2 399.8H59.9V400.4H61.2M61.2 401H60.7V401.6H61.2M59.9 400.1H59.1V401.3H60.7M57 395.5H56.2V400.7H59.1M61.2 402.8H60.7V403.4H61.2M60.7 403.1H60V404H61.2M61.2 402.2H59.2V403.6H60M61.2 405.2H60.6V405.8H61.2M61.2 404.6H59.5V405.5H60.6M61.2 406.4H60V407H61.2M60 406.7H59.2V407.6H61.2M59.5 405.1H58.3V407.1H59.2M59.2 402.9H57.3V406.1H58.3M61.2 408.8H60.2V409.4H61.2M60.2 409.1H59.5V410H61.2M61.2 410.6H60.1V411.2H61.2M59.5 409.6H58.9V410.9H60.1M61.2 408.2H57.7V410.2H58.9M61.2 411.8H60.3V412.4H61.2M61.2 413.6H60.4V414.2H61.2M61.2 413H59.3V413.9H60.4M60.3 412.1H58.3V413.4H59.3M58.3 412.8H57.8V414.8H61.2M57.7 409.2H56.7V413.8H57.8M61.2 415.4H60.3V416H61.2M60.3 415.7H59.4V416.6H61.2M61.2 417.2H60.6V417.8H61.2M60.6 417.5H60.1V418.4H61.2M59.4 416.1H58.3V417.9H60.1M61.2 419H59.9V419.6H61.2M59.9 419.3H58.6V420.2H61.2M58.3 417H57.3V419.8H58.6M56.7 411.5H55.3V418.4H57.3M57.3 404.5H54.1V414.9H55.3M56.2 398.1H53V409.7H54.1M61.2 420.8H60.4V421.4H61.2M61.2 422H60.2V422.6H61.2M60.4 421.1H59.6V422.3H60.2M61.2 423.2H60.2V423.8H61.2M61.2 424.4H60.1V425H61.2M60.2 423.5H59.5V424.7H60.1M61.2 425.6H60.4V426.2H61.2M61.2 426.8H60.7V427.4H61.2M60.4 425.9H59.9V427.1H60.7M59.5 424.1H58.6V426.5H59.9M61.2 428H60.6V428.6H61.2M61.2 429.8H59.9V430.4H61.2M61.2 429.2H58.6V430.1H59.9M60.6 428.3H57.7V429.6H58.6M58.6 425.3H56.9V429H57.7M59.6 421.7H56.4V427.1H56.9M61.2 431.6H60.3V432.2H61.2M61.2 431H59.5V431.9H60.3M59.5 431.4H58.8V432.8H61.2M61.2 433.4H60.3V434H61.2M61.2 435.2H59.8V435.8H61.2M61.2 434.6H58.6V435.5H59.8M60.3 433.7H57.5V435.1H58.6M57.5 434.4H56.2V436.4H61.2M58.8 432.1H55.7V435.4H56.2M61.2 437H59.8V437.6H61.2M61.2 438.2H60.6V438.8H61.2M61.2 439.4H60.3V440H61.2M60.3 439.7H59.5V440.6H61.2M60.6 438.5H58.2V440.1H59.5M59.8 437.3H57.1V439.3H58.2M61.2 441.2H60.4V441.8H61.2M61.2 442.4H60.5V443H61.2M60.4 441.5H59.4V442.7H60.5M57.1 438.3H56.1V442.1H59.4M61.2 444.2H60.2V444.8H61.2M61.2 443.6H59.5V444.5H60.2M61.2 445.4H59.9V446H61.2M59.9 445.7H58.8V446.6H61.2M58.8 446.1H58V447.2H61.2M59.5 444.1H57.6V446.7H58M56.1 440.2H55.1V445.4H57.6M55.7 433.8H54V442.8H55.1M56.4 424.4H52.6V438.3H54M53 403.9H52V431.3H52.6M61.2 447.8H60.2V448.4H61.2M60.2 448.1H59.2V449H61.2M61.2 449.6H60.6V450.2H61.2M60.6 449.9H59.6V450.8H61.2M59.2 448.6H57.9V450.4H59.6M61.2 452H60.7V452.6H61.2M61.2 451.4H59.5V452.3H60.7M57.9 449.5H57.1V451.9H59.5M61.2 453.2H59.8V453.8H61.2M57.1 450.7H56.1V453.5H59.8M61.2 455H60.6V455.6H61.2M61.2 456.8H60.5V457.4H61.2M61.2 456.2H59.1V457.1H60.5M60.6 455.3H58.6V456.6H59.1M61.2 454.4H57.4V456H58.6M61.2 458H60.3V458.6H61.2M61.2 459.2H60.5V459.8H61.2M60.3 458.3H59.7V459.5H60.5M57.4 455.2H56.5V458.9H59.7M61.2 460.4H60.7V461H61.2M61.2 462.2H60.2V462.8H61.2M61.2 461.6H59.2V462.5H60.2M60.7 460.7H58.5V462.1H59.2M61.2 463.4H60.4V464H61.2M61.2 464.6H60.5V465.2H61.2M61.2 465.8H60.1V466.4H61.2M60.1 466.1H59V467H61.2M60.5 464.9H58.1V466.6H59M60.4 463.7H57.2V465.7H58.1M58.5 461.4H56.5V464.7H57.2M61.2 468.2H59.9V468.8H61.2M59.9 468.5H58.9V469.4H61.2M58.9 468.9H57.9V470H61.2M61.2 467.6H57V469.5H57.9M56.5 463H56V468.5H57M56.5 457H54.6V465.8H56M56.1 452.1H54V461.4H54.6M52 417.6H51.2V456.7H54M61.2 471.2H60.4V471.8H61.2M61.2 470.6H59.9V471.5H60.4M61.2 473H60.1V473.6H61.2M61.2 472.4H58.8V473.3H60.1M59.9 471.1H57.5V472.9H58.8M61.2 474.2H60.5V474.8H61.2M61.2 475.4H60.5V476H61.2M61.2 477.2H60.7V477.8H61.2M61.2 476.6H59.3V477.5H60.7M60.5 475.7H58.9V477.1H59.3M60.5 474.5H57.5V476.4H58.9M57.5 472H56.9V475.4H57.5M61.2 478.4H60.2V479H61.2M60.2 478.7H59.7V479.6H61.2M61.2 480.2H60.3V480.8H61.2M59.7 479.1H58.3V480.5H60.3M61.2 482H60.1V482.6H61.2M61.2 481.4H58.8V482.3H60.1M58.3 479.8H57.5V481.9H58.8M61.2 483.2H60.8V483.8H61.2M61.2 484.4H60.1V485H61.2M60.8 483.5H59.4V484.7H60.1M61.2 485.6H60.4V486.2H61.2M61.2 486.8H59.8V487.4H61.2M59.8 487.1H59V488H61.2M60.4 485.9H58.3V487.6H59M59.4 484.1H57.6V486.7H58.3M61.2 488.6H60.2V489.2H61.2M61.2 490.4H60.7V491H61.2M61.2 489.8H60.1V490.7H60.7M61.2 491.6H60.5V492.2H61.2M60.1 490.2H58.8V491.9H60.5M60.2 488.9H57.8V491.1H58.8M57.6 485.4H56.8V490H57.8M61.2 493.4H60.4V494H61.2M60.4 493.7H59.3V494.6H61.2M61.2 492.8H58.6V494.1H59.3M61.2 495.2H60.6V495.8H61.2M61.2 496.4H60.1V497H61.2M60.1 496.7H59.5V497.6H61.2M60.6 495.5H58.4V497.1H59.5M58.6 493.5H57.5V496.3H58.4M56.8 487.7H56V494.9H57.5M57.5 480.8H55.1V491.3H56M56.9 473.7H54.3V486.1H55.1M61.2 498.2H60.1V498.8H61.2M61.2 499.4H60.6V500H61.2M60.1 498.5H58.8V499.7H60.6M61.2 500.6H60V501.2H61.2M60 500.9H58.7V501.8H61.2M61.2 502.4H60.2V503H61.2M58.7 501.4H57.4V502.7H60.2M61.2 503.6H59.9V504.2H61.2M57.4 502H56.1V503.9H59.9M58.8 499.1H55.2V503H56.1M54.3 479.9H53.7V501H55.2M51.2 437.2H50.6V490.5H53.7M61.2 504.8H59.8V505.4H61.2M61.2 506H59.8V506.6H61.2M61.2 507.2H60.7V507.8H61.2M59.8 506.3H58.5V507.5H60.7M59.8 505.1H57.9V506.9H58.5M61.2 508.4H59.9V509H61.2M57.9 506H57.2V508.7H59.9M61.2 510.2H60.2V510.8H61.2M61.2 509.6H59.3V510.5H60.2M61.2 511.4H60.5V512H61.2M61.2 512.6H59.9V513.2H61.2M60.5 511.7H58.7V512.9H59.9M59.3 510H57.5V512.3H58.7M61.2 514.4H60.6V515H61.2M61.2 513.8H60V514.7H60.6M57.5 511.2H56.1V514.2H60M57.2 507.4H54.8V512.7H56.1M61.2 516.2H59.9V516.8H61.2M61.2 515.6H59.2V516.5H59.9M61.2 517.4H59.9V518H61.2M59.9 517.7H59.2V518.6H61.2M61.2 519.8H60.4V520.4H61.2M61.2 519.2H59.6V520.1H60.4M61.2 521H60.2V521.6H61.2M59.6 519.6H59V521.3H60.2M59.2 518.1H58.4V520.5H59M59.2 516H57.4V519.3H58.4M61.2 522.2H60.4V522.8H61.2M61.2 523.4H60.7V524H61.2M61.2 524.6H60.4V525.2H61.2M61.2 526.4H60.3V527H61.2M61.2 525.8H59.1V526.7H60.3M60.4 524.9H58.3V526.2H59.1M60.7 523.7H57.1V525.6H58.3M60.4 522.5H56.2V524.6H57.1M57.4 517.7H55.7V523.6H56.2M61.2 527.6H60.3V528.2H61.2M61.2 528.8H60V529.4H61.2M61.2 530.6H60.4V531.2H61.2M61.2 530H60V530.9H60.4M60 529.1H59V530.4H60M60.3 527.9H58.1V529.8H59M55.7 520.6H54.8V528.8H58.1M54.8 510H53.9V524.7H54.8M61.2 532.4H60V533H61.2M60 532.7H59.3V533.6H61.2M61.2 531.8H58.8V533.1H59.3M58.8 532.5H57.9V534.2H61.2M61.2 535.4H60.7V536H61.2M61.2 534.8H59.5V535.7H60.7M59.5 535.2H58.7V536.6H61.2M61.2 537.2H60V537.8H61.2M58.7 535.9H57.3V537.5H60M61.2 538.4H59.9V539H61.2M57.3 536.7H56.3V538.7H59.9M61.2 540.2H60.7V540.8H61.2M61.2 539.6H60.2V540.5H60.7M56.3 537.7H55.1V540H60.2M57.9 533.3H54.4V538.9H55.1M61.2 542H60.7V542.6H61.2M61.2 543.2H60.6V543.8H61.2M60.6 543.5H59.5V544.4H61.2M60.7 542.3H58.3V544H59.5M61.2 541.4H57.3V543.1H58.3M61.2 545H60.6V545.6H61.2M60.6 545.3H59.6V546.2H61.2M59.6 545.8H58.3V546.8H61.2M57.3 542.3H56.7V546.3H58.3M54.4 536.1H53.4V544.3H56.7M61.2 547.4H60.6V548H61.2M60.6 547.7H59.5V548.6H61.2M61.2 549.2H60.5V549.8H61.2M60.5 549.5H59.9V550.4H61.2M59.5 548.1H58.9V550H59.9M61.2 551H60.4V551.6H61.2M58.9 549H58.1V551.3H60.4M61.2 552.2H60V552.8H61.2M61.2 554H59.9V554.6H61.2M61.2 553.4H58.7V554.3H59.9M58.7 553.8H57.7V555.2H61.2M60 552.5H56.9V554.5H57.7M61.2 556.4H60.7V557H61.2M61.2 555.8H59.9V556.7H60.7M59.9 556.2H58.9V557.6H61.2M56.9 553.5H56.1V556.9H58.9M61.2 558.2H60.2V558.8H61.2M61.2 559.4H60.3V560H61.2M60.3 559.7H59.4V560.6H61.2M60.2 558.5H58.1V560.1H59.4M61.2 561.8H60.5V562.4H61.2M61.2 561.2H59.2V562.1H60.5M58.1 559.3H57.6V561.6H59.2M61.2 563H60.3V563.6H61.2M57.6 560.5H56.5V563.3H60.3M56.1 555.2H55.5V561.9H56.5M58.1 550.2H54.8V558.6H55.5M53.4 540.2H52.8V554.4H54.8M53.9 517.4H51.9V547.3H52.8M61.2 564.2H59.8V564.8H61.2M61.2 566H60.5V566.6H61.2M61.2 565.4H59.4V566.3H60.5M59.8 564.5H58.2V565.8H59.4M61.2 567.2H60.3V567.8H61.2M61.2 568.4H60.5V569H61.2M61.2 569.6H60.3V570.2H61.2M60.3 569.9H59V570.8H61.2M61.2 571.4H60.7V572H61.2M61.2 572.6H60.4V573.2H61.2M60.7 571.7H59.5V572.9H60.4M59 570.3H58.3V572.3H59.5M60.5 568.7H57.8V571.3H58.3M60.3 567.5H57.4V570H57.8M61.2 573.8H59.9V574.4H61.2M61.2 575.6H60.2V576.2H61.2M61.2 575H59.7V575.9H60.2M61.2 576.8H60.6V577.4H61.2M59.7 575.4H58.3V577.1H60.6M59.9 574.1H57.7V576.3H58.3M57.4 568.8H56.7V575.2H57.7M58.2 565.2H56V572H56.7M61.2 578.6H60.7V579.2H61.2M61.2 579.8H60V580.4H61.2M60.7 578.9H58.6V580.1H60M61.2 578H57.5V579.5H58.6M61.2 581H60.5V581.6H61.2M60.5 581.3H59.9V582.2H61.2M61.2 582.8H60V583.4H61.2M59.9 581.8H59.4V583.1H60M57.5 578.7H56.4V582.4H59.4M61.2 584H60V584.6H61.2M61.2 585.2H60V585.8H61.2M60 584.3H59.5V585.5H60M56.4 580.6H55.7V584.9H59.5M61.2 587H59.9V587.6H61.2M61.2 586.4H58.8V587.3H59.9M61.2 588.2H60.4V588.8H61.2M60.4 588.5H59.5V589.4H61.2M58.8 586.8H57.6V589H59.5M55.7 582.7H54.5V587.9H57.6M56 568.6H53.7V585.3H54.5M51.9 532.3H51.1V576.9H53.7M61.2 590.6H60.6V591.2H61.2M60.6 590.9H59.6V591.8H61.2M61.2 590H58.7V591.3H59.6M61.2 592.4H59.9V593H61.2M58.7 590.7H57.7V592.7H59.9M61.2 593.6H60V594.2H61.2M61.2 595.4H60.1V596H61.2M61.2 594.8H59.5V595.7H60.1M59.5 595.2H58.4V596.6H61.2M58.4 595.9H57.4V597.2H61.2M60 593.9H56.1V596.6H57.4M61.2 597.8H60.5V598.4H61.2M56.1 595.2H54.8V598.1H60.5M61.2 599H60.2V599.6H61.2M61.2 600.2H60.1V600.8H61.2M60.2 599.3H59.2V600.5H60.1M54.8 596.7H54.1V599.9H59.2M57.7 591.7H52.8V598.3H54.1M61.2 602H60V602.6H61.2M61.2 601.4H58.9V602.3H60M61.2 603.8H60.4V604.4H61.2M60.4 604.1H59.4V605H61.2M61.2 603.2H58.6V604.5H59.4M58.9 601.8H57.5V603.9H58.6M61.2 605.6H60.2V606.2H61.2M60.2 605.9H58.9V606.8H61.2M58.9 606.3H57.8V607.4H61.2M57.5 602.9H56.5V606.9H57.8M61.2 608.6H60.2V609.2H61.2M61.2 608H59.2V608.9H60.2M59.2 608.4H58.5V609.8H61.2M56.5 604.9H55.5V609.1H58.5M52.8 595H52.2V607H55.5M61.2 610.4H60V611H61.2M61.2 611.6H60.4V612.2H61.2M61.2 612.8H59.9V613.4H61.2M59.9 613.1H58.8V614H61.2M60.4 611.9H57.6V613.5H58.8M60 610.7H57.1V612.7H57.6M61.2 615.2H60.7V615.8H61.2M61.2 616.4H59.9V617H61.2M60.7 615.5H58.9V616.7H59.9M61.2 614.6H58.2V616.1H58.9M61.2 617.6H60.4V618.2H61.2M58.2 615.3H56.9V617.9H60.4M57.1 611.7H56V616.6H56.9M52.2 601H51.7V614.2H56M51.1 554.6H49.7V607.6H51.7M61.2 620.6H59.5V621.2H61.2M61.2 620H58.2V620.9H59.5M61.2 621.8H60.2V622.4H61.2M58.2 620.5H57.1V622.1H60.2M61.2 623H59.3V623.6H61.2M57.1 621.3H56.5V623.3H59.3M61.2 624.2H59.6V624.8H61.2M61.2 626.6H60.4V627.2H61.2M61.2 626H58.5V626.9H60.4M61.2 625.4H57.4V626.5H58.5M59.6 624.5H55.6V625.9H57.4M56.5 622.3H53.9V625.2H55.6M61.2 628.4H59.7V629H61.2M61.2 627.8H58.4V628.7H59.7M61.2 629.6H60.4V630.2H61.2M61.2 630.8H60.5V631.4H61.2M60.4 629.9H59.3V631.1H60.5M58.4 628.2H56.6V630.5H59.3M61.2 632H60.3V632.6H61.2M61.2 633.2H60.3V633.8H61.2M60.3 632.3H58.5V633.5H60.3M56.6 629.4H56V632.9H58.5M61.2 635H59.8V635.6H61.2M61.2 634.4H59.2V635.3H59.8M61.2 636.8H59.5V637.4H61.2M59.5 637.1H57.8V638H61.2M61.2 636.2H56.5V637.5H57.8M59.2 634.8H54.8V636.9H56.5M61.2 638.6H60.1V639.2H61.2M60.1 638.9H59.5V639.8H61.2M54.8 635.9H54.1V639.4H59.5M61.2 640.4H60.5V641H61.2M61.2 641.6H59.4V642.2H61.2M61.2 642.8H59.5V643.4H61.2M59.4 641.9H57.6V643.1H59.5M57.6 642.5H56.7V644H61.2M60.5 640.7H55.9V643.2H56.7M54.1 637.6H52.4V642H55.9M61.2 645.2H60.5V645.8H61.2M61.2 644.6H59.6V645.5H60.5M61.2 646.4H59.6V647H61.2M59.6 645H58.9V646.7H59.6M61.2 647.6H60.6V648.2H61.2M58.9 645.9H57V647.9H60.6M52.4 639.8H51.6V646.9H57M56 631.1H49.9V643.3H51.6M53.9 623.8H48.2V637.2H49.9M61.2 648.8H60.5V649.4H61.2M61.2 650H59.4V650.6H61.2M59.4 650.3H58.4V651.2H61.2M58.4 650.8H57.7V651.8H61.2M60.5 649.1H56.8V651.3H57.7M61.2 653H59.7V653.6H61.2M61.2 652.4H57.8V653.3H59.7M56.8 650.2H55.4V652.8H57.8M61.2 654.8H60.4V655.4H61.2M61.2 654.2H59.1V655.1H60.4M61.2 656H59.6V656.6H61.2M59.1 654.6H58.1V656.3H59.6M61.2 657.2H59.9V657.8H61.2M58.1 655.5H56.7V657.5H59.9M61.2 659H59.7V659.6H61.2M61.2 658.4H58.9V659.3H59.7M56.7 656.5H55.3V658.8H58.9M55.4 651.5H53.4V657.7H55.3M61.2 660.2H59.8V660.8H61.2M61.2 661.4H59.6V662H61.2M59.6 661.7H58.2V662.6H61.2M59.8 660.5H57.3V662.2H58.2M53.4 654.6H52.1V661.3H57.3M48.2 630.5H46.9V658H52.1M61.2 663.2H59.4V663.8H61.2M61.2 664.4H60.4V665H61.2M59.4 663.5H57.5V664.7H60.4M61.2 665.6H60.1V666.2H61.2M61.2 666.8H59.9V667.4H61.2M60.1 665.9H58V667.1H59.9M61.2 668H59.7V668.6H61.2M59.7 668.3H58.3V669.2H61.2M61.2 669.8H59.5V670.4H61.2M58.3 668.8H57.6V670.1H59.5M58 666.5H55.8V669.4H57.6M57.5 664.1H54.4V668H55.8M61.2 671H60.5V671.6H61.2M61.2 672.8H59.5V673.4H61.2M59.5 673.1H58.7V674H61.2M61.2 672.2H58V673.5H58.7M60.5 671.3H56.9V672.9H58M54.4 666H53.2V672.1H56.9M61.2 674.6H59.9V675.2H61.2M61.2 676.4H59.8V677H61.2M59.8 676.7H59V677.6H61.2M61.2 675.8H58.4V677.2H59M59.9 674.9H57.2V676.5H58.4M61.2 678.2H60.1V678.8H61.2M60.1 678.5H58.3V679.4H61.2M57.2 675.7H55.6V679H58.3M53.2 669.1H52.4V677.3H55.6M61.2 680H60.1V680.6H61.2M61.2 681.2H59.7V681.8H61.2M61.2 682.4H59.7V683H61.2M61.2 683.6H59.4V684.2H61.2M61.2 684.8H59.8V685.4H61.2M59.4 683.9H58V685.1H59.8M59.7 682.7H57V684.5H58M59.7 681.5H55.6V683.6H57M60.1 680.3H54.1V682.5H55.6M52.4 673.2H51V681.4H54.1M61.2 686H60.6V686.6H61.2M60.6 686.3H59.7V687.2H61.2M61.2 688.4H60.5V689H61.2M60.5 688.7H59.1V689.6H61.2M61.2 687.8H58.5V689.2H59.1M58.5 688.5H56.9V690.2H61.2M59.7 686.8H55.9V689.3H56.9M61.2 691.4H60.4V692H61.2M61.2 690.8H58.8V691.7H60.4M58.8 691.2H58.2V692.6H61.2M58.2 691.9H57.5V693.2H61.2M55.9 688H55.2V692.6H57.5M61.2 694.4H59.9V695H61.2M61.2 693.8H58.8V694.7H59.9M61.2 695.6H59.5V696.2H61.2M61.2 697.4H59.5V698H61.2M61.2 696.8H58.5V697.7H59.5M59.5 695.9H56.8V697.2H58.5M56.8 696.6H55.1V698.6H61.2M58.8 694.2H54V697.6H55.1M61.2 699.2H59.5V699.8H61.2M61.2 700.4H60.2V701H61.2M59.5 699.5H58.7V700.7H60.2M54 695.9H53.2V700.1H58.7M55.2 690.3H51.4V698H53.2M51 677.3H50.3V694.2H51.4M61.2 702.2H59.4V702.8H61.2M61.2 701.6H58.1V702.5H59.4M61.2 704H60.4V704.6H61.2M61.2 703.4H59.6V704.3H60.4M58.1 702H56.7V703.8H59.6M61.2 705.2H59.3V705.8H61.2M59.3 705.5H58.6V706.4H61.2M61.2 707H59.3V707.6H61.2M58.6 706H56.9V707.3H59.3M56.7 702.9H55.1V706.6H56.9M61.2 708.2H60.1V708.8H61.2M61.2 709.4H59.4V710H61.2M61.2 711.2H60.2V711.8H61.2M61.2 713H60V713.6H61.2M61.2 712.4H58.1V713.3H60M60.2 711.5H56.4V712.8H58.1M61.2 710.6H54.7V712.2H56.4M59.4 709.7H53.2V711.4H54.7M60.1 708.5H52.4V710.5H53.2M55.1 704.8H50.9V709.5H52.4M61.2 714.2H60.4V714.8H61.2M61.2 715.4H60.1V716H61.2M60.4 714.5H59.4V715.7H60.1M61.2 716.6H60.2V717.2H61.2M61.2 717.8H60.2V718.4H61.2M60.2 716.9H58.5V718.1H60.2M58.5 717.5H57.6V719H61.2M59.4 715.1H55.8V718.2H57.6M61.2 719.6H60V720.2H61.2M60 719.9H59.3V720.8H61.2M61.2 722H59.9V722.6H61.2M59.9 722.3H59.1V723.2H61.2M61.2 721.4H58.1V722.8H59.1M59.3 720.4H57.1V722.1H58.1M55.8 716.7H54V721.2H57.1M50.9 707.2H50.2V718.9H54M61.2 723.8H60.5V724.4H61.2M61.2 725.6H60V726.2H61.2M61.2 725H58.3V725.9H60M60.5 724.1H57.4V725.5H58.3M61.2 726.8H60.5V727.4H61.2M61.2 728.6H60.5V729.2H61.2M61.2 728H59.2V728.9H60.5M60.5 727.1H58.5V728.5H59.2M57.4 724.8H56V727.8H58.5M61.2 730.4H59.8V731H61.2M61.2 729.8H58.3V730.7H59.8M58.3 730.2H57.7V731.6H61.2M56 726.3H55.1V730.9H57.7M61.2 732.8H59.4V733.4H61.2M59.4 733.1H58.4V734H61.2M61.2 732.2H57.5V733.5H58.4M61.2 735.8H59.5V736.4H61.2M61.2 735.2H58.3V736.1H59.5M61.2 734.6H57.2V735.6H58.3M57.5 732.9H55.3V735.1H57.2M61.2 737H60V737.6H61.2M61.2 738.8H60.3V739.4H61.2M61.2 738.2H59.5V739.1H60.3M60 737.3H57.9V738.6H59.5M61.2 740H60V740.6H61.2M60 740.3H58.6V741.2H61.2M57.9 738H56.4V740.8H58.6M61.2 741.8H59.5V742.4H61.2M56.4 739.4H55.2V742.1H59.5M55.3 734H54.2V740.7H55.2M55.1 728.6H52.4V737.4H54.2M50.2 713H48.6V733H52.4M50.3 685.7H47.6V723H48.6M46.9 644.2H46.3V704.4H47.6M61.2 743.6H59.6V744.2H61.2M61.2 744.8H60.2V745.4H61.2M59.6 743.9H57.9V745.1H60.2M61.2 743H56.8V744.5H57.9M61.2 746H60.6V746.6H61.2M61.2 747.2H59.4V747.8H61.2M61.2 748.4H60.4V749H61.2M59.4 747.5H58.5V748.7H60.4M60.6 746.3H57.7V748.1H58.5M56.8 743.8H55.7V747.2H57.7M61.2 749.6H60.1V750.2H61.2M61.2 751.4H60.3V752H61.2M61.2 750.8H59.1V751.7H60.3M59.1 751.2H57.7V752.6H61.2M61.2 753.2H59.9V753.8H61.2M57.7 751.9H56.4V753.5H59.9M60.1 749.9H55.6V752.7H56.4M61.2 754.4H60.2V755H61.2M61.2 756.2H59.9V756.8H61.2M61.2 755.6H58.8V756.5H59.9M60.2 754.7H57.8V756H58.8M55.6 751.3H54.6V755.4H57.8M55.7 745.5H53.8V753.3H54.6M61.2 757.4H60.2V758H61.2M61.2 759.2H60.5V759.8H61.2M60.5 759.5H58.7V760.4H61.2M61.2 758.6H57V760H58.7M57 759.3H55.4V761H61.2M55.4 760.1H53.9V761.6H61.2M60.2 757.7H52.1V760.9H53.9M61.2 762.2H59.5V762.8H61.2M59.5 762.5H57.8V763.4H61.2M61.2 764.6H59.9V765.2H61.2M61.2 764H58.5V764.9H59.9M57.8 763H56.7V764.5H58.5M52.1 759.3H50.4V763.7H56.7M61.2 765.8H59.6V766.4H61.2M59.6 766.1H58.8V767H61.2M61.2 767.6H60.3V768.2H61.2M60.3 767.9H59.4V768.8H61.2M58.8 766.5H57.4V768.4H59.4M61.2 770H60.5V770.6H61.2M61.2 769.4H58.8V770.3H60.5M57.4 767.5H56.3V769.8H58.8M61.2 771.2H59.8V771.8H61.2M61.2 772.4H60.2V773H61.2M59.8 771.5H58.6V772.7H60.2M56.3 768.6H55.7V772.1H58.6M50.4 761.5H49.4V770.4H55.7M53.8 749.4H47.8V765.9H49.4M61.2 773.6H59.7V774.2H61.2M59.7 773.9H58.7V774.8H61.2M61.2 775.4H59.5V776H61.2M59.5 775.7H58.5V776.6H61.2M58.7 774.4H57.1V776.2H58.5M61.2 777.8H60.1V778.4H61.2M61.2 777.2H58.8V778.1H60.1M57.1 775.2H56.1V777.6H58.8M61.2 779H60.4V779.6H61.2M60.4 779.3H58.6V780.2H61.2M58.6 779.8H56.7V780.8H61.2M61.2 781.4H60.3V782H61.2M60.3 781.7H58.7V782.6H61.2M61.2 783.2H60V783.8H61.2M61.2 784.4H59.8V785H61.2M61.2 785.6H60.2V786.2H61.2M59.8 784.7H59.1V785.9H60.2M60 783.5H58.4V785.3H59.1M58.7 782.2H57.5V784.4H58.4M56.7 780.3H54.8V783.3H57.5M61.2 786.8H60.1V787.4H61.2M60.1 787.1H58.3V788H61.2M58.3 787.5H56.6V788.6H61.2M61.2 789.2H59.5V789.8H61.2M56.6 788.1H55.1V789.5H59.5M54.8 781.8H53.2V788.8H55.1M61.2 791H60.6V791.6H61.2M61.2 790.4H59.7V791.3H60.6M61.2 792.2H60.3V792.8H61.2M60.3 792.5H59.6V793.4H61.2M59.7 790.8H58.6V793H59.6M61.2 794H59.8V794.6H61.2M58.6 791.9H56.7V794.3H59.8M53.2 785.3H52.6V793.1H56.7M56.1 776.5H51.7V789.2H52.6M61.2 795.2H59.8V795.8H61.2M61.2 797H60.2V797.6H61.2M61.2 796.4H58.8V797.3H60.2M58.8 796.8H57.7V798.2H61.2M61.2 798.8H60.3V799.4H61.2M60.3 799.1H59.4V800H61.2M57.7 797.5H56.1V799.5H59.4M59.8 795.5H55V798.5H56.1M51.7 782.8H50.9V797H55" stroke="#000" stroke-width="1.0" fill="none"/>
<path d="M45.4 466.88L45.4 538M45.4 538L30.5 538M44.52 752.95L44.52 785M44.52 785L30.5 785M30.5 538L30.5 785" stroke="#666" stroke-width="0.6" fill="none" />
<rect x="61" y="48.3" width="2.3" height="752.7" fill="#050505"/>
<path d="" stroke="#666" stroke-width="0.55" fill="none"/>
<path d="M274.8 49.3H273.7V49.9H274.8M274.8 48.8H273V49.6H273.7M274.8 50.4H274.4V51H274.8M273 49.2H272.1V50.7H274.4M274.8 51.5H274.1V52.1H274.8M274.1 51.8H273.3V52.6H274.8M272.1 50H271.7V52.2H273.3M274.8 53.2H274.3V53.8H274.8M274.3 53.5H273.5V54.3H274.8M271.7 51.1H270.7V53.9H273.5M274.8 54.8H273.9V55.4H274.8M274.8 55.9H274.2V56.5H274.8M274.2 56.2H273.3V57H274.8M273.9 55.1H272.3V56.6H273.3M274.8 57.6H274.2V58.1H274.8M274.8 58.7H274.5V59.2H274.8M274.2 57.9H273.3V59H274.5M272.3 55.9H271.4V58.4H273.3M270.7 52.5H270.3V57.2H271.4M274.8 60.3H274.3V60.9H274.8M274.8 59.8H273.5V60.6H274.3M274.8 61.4H273.8V62H274.8M274.8 62.5H274.1V63.1H274.8M273.8 61.7H273V62.8H274.1M273.5 60.2H272.3V62.3H273M274.8 63.6H274V64.2H274.8M274 63.9H273.4V64.8H274.8M274.8 65.3H274.1V65.8H274.8M273.4 64.3H272.4V65.6H274.1M274.8 66.4H273.7V67H274.8M272.4 65H271.8V66.7H273.7M274.8 68H273.7V68.6H274.8M274.8 67.5H272.8V68.3H273.7M274.8 69.2H273.9V69.7H274.8M274.8 70.2H273.8V70.8H274.8M273.9 69.4H273.3V70.5H273.8M272.8 67.9H271.8V70H273.3M274.8 71.3H274.3V71.9H274.8M274.3 71.6H273.5V72.5H274.8M273.5 72H272.8V73H274.8M271.8 68.9H270.8V72.5H272.8M274.8 73.5H274.4V74.1H274.8M274.4 73.8H273.6V74.7H274.8M270.8 70.7H269.9V74.2H273.6M271.8 65.8H268.8V72.5H269.9M272.3 61.2H267.8V69.2H268.8M270.3 54.8H267.3V65.2H267.8M274.8 76.3H274.2V76.8H274.8M274.8 75.8H273.3V76.6H274.2M274.8 75.2H272.4V76.2H273.3M274.8 77.4H273.9V78H274.8M274.8 78.5H273.8V79H274.8M273.8 78.8H273.1V79.6H274.8M273.1 79.2H272.6V80.2H274.8M274.8 81.2H274.2V81.8H274.8M274.8 80.7H273.5V81.5H274.2M272.6 79.7H271.6V81.1H273.5M273.9 77.7H270.8V80.4H271.6M274.8 82.9H274.4V83.5H274.8M274.8 82.3H273.9V83.2H274.4M273.9 82.8H273.5V84H274.8M270.8 79H270V83.4H273.5M272.4 75.7H269.3V81.2H270M274.8 85.1H274.2V85.7H274.8M274.2 85.4H273.8V86.2H274.8M274.8 84.5H273.1V85.8H273.8M269.3 78.4H268.9V85.2H273.1M274.8 86.8H273.8V87.3H274.8M274.8 87.8H274.1V88.4H274.8M273.8 87H273V88.1H274.1M274.8 89H273.9V89.5H274.8M273 87.6H272.6V89.2H273.9M274.8 90H274.4V90.6H274.8M274.4 90.3H273.8V91.2H274.8M273.8 90.7H272.9V91.7H274.8M274.8 92.2H274.3V92.8H274.8M274.8 93.3H274.3V93.9H274.8M274.3 93.6H273.6V94.5H274.8M274.3 92.5H272.7V94H273.6M272.9 91.2H272.2V93.3H272.7M272.6 88.4H271.5V92.2H272.2M274.8 95H274.3V95.6H274.8M274.3 95.3H273.6V96.1H274.8M274.8 96.7H274.1V97.2H274.8M273.6 95.7H272.6V96.9H274.1M271.5 90.3H271V96.3H272.6M268.9 81.8H268.1V93.3H271M267.3 60H266.6V87.6H268.1M274.8 98.3H273.9V98.8H274.8M274.8 97.8H272.8V98.6H273.9M274.8 100H273.7V100.5H274.8M274.8 99.4H273.3V100.2H273.7M273.3 99.8H272.9V101.1H274.8M272.8 98.2H272.4V100.4H272.9M274.8 102.2H273.7V102.7H274.8M274.8 101.6H272.8V102.4H273.7M274.8 103.2H274.2V103.8H274.8M274.2 103.5H273.8V104.3H274.8M272.8 102H272.3V103.9H273.8M274.8 104.9H274.4V105.5H274.8M274.8 106.6H273.8V107.1H274.8M273.8 106.8H273.2V107.7H274.8M274.8 106H272.6V107.2H273.2M274.4 105.2H271.8V106.6H272.6M272.3 103H270.9V105.9H271.8M274.8 108.8H274V109.3H274.8M274.8 108.2H273.1V109H274M270.9 104.4H270.3V108.6H273.1M272.4 99.3H269.9V106.5H270.3M266.6 73.8H266V102.9H269.9M274.8 109.8H274.3V110.4H274.8M274.8 111H274.4V111.5H274.8M274.3 110.1H273.6V111.2H274.4M274.8 112.1H273.8V112.6H274.8M274.8 113.2H273.9V113.7H274.8M273.8 112.3H272.9V113.4H273.9M274.8 114.2H274V114.8H274.8M274.8 115.4H273.9V115.9H274.8M274 114.5H273.4V115.6H273.9M272.9 112.9H272.1V115.1H273.4M273.6 110.7H271.2V114H272.1M274.8 116.5H274.2V117H274.8M274.8 117.5H274V118.1H274.8M274 117.8H273.5V118.7H274.8M274.2 116.7H272.7V118.2H273.5M271.2 112.3H270.8V117.5H272.7M274.8 119.2H273.9V119.8H274.8M274.8 120.3H273.7V120.9H274.8M273.9 119.5H273.2V120.6H273.7M270.8 114.9H269.7V120H273.2M266 88.3H265.3V117.5H269.7M274.8 121.4H274.3V122H274.8M274.8 122.5H274.3V123H274.8M274.8 124.2H274.1V124.7H274.8M274.8 123.6H273.5V124.4H274.1M274.3 122.8H272.5V124H273.5M274.3 121.7H271.5V123.4H272.5M274.8 125.2H273.9V125.8H274.8M274.8 126.4H274.3V126.9H274.8M274.3 126.6H273.4V127.5H274.8M273.9 125.5H272.6V127H273.4M274.8 128H274V128.6H274.8M272.6 126.3H272.2V128.3H274M271.5 122.5H270.6V127.3H272.2M274.8 129.1H273.9V129.7H274.8M273.9 129.4H273V130.2H274.8M273 129.8H272.6V130.8H274.8M270.6 124.9H269.8V130.3H272.6M274.8 131.9H274.4V132.4H274.8M274.8 131.3H273.9V132.1H274.4M273.9 131.7H272.9V132.9H274.8M269.8 127.6H269V132.3H272.9M265.3 102.9H264.3V130H269M274.8 133.5H274V134.1H274.8M274 133.8H273.4V134.6H274.8M274.8 135.2H274.2V135.7H274.8M274.8 136.8H274.3V137.4H274.8M274.3 137.1H273.8V137.9H274.8M274.8 136.2H273.1V137.5H273.8M274.2 135.4H272.2V136.9H273.1M273.4 134.2H271.4V136.1H272.2M274.8 138.4H273.9V139H274.8M273.9 138.7H273.2V139.6H274.8M271.4 135.2H270.5V139.1H273.2M274.8 140.1H274.3V140.7H274.8M274.3 140.4H273.7V141.2H274.8M270.5 137.2H269.6V140.8H273.7M274.8 141.8H274.2V142.3H274.8M274.2 142H273.5V142.9H274.8M269.6 139H269.2V142.4H273.5M274.8 143.4H274V143.9H274.8M274 143.7H273.3V144.5H274.8M269.2 140.7H268.3V144.1H273.3M264.3 116.4H263.3V142.4H268.3M274.8 145.1H274.3V145.6H274.8M274.8 146.2H274.4V146.7H274.8M274.8 147.2H273.7V147.8H274.8M273.7 147.5H272.8V148.4H274.8M274.4 146.4H272.2V147.9H272.8M272.2 147.2H271.2V148.9H274.8M274.8 149.4H274.2V150H274.8M271.2 148H270.6V149.7H274.2M274.3 145.3H269.7V148.9H270.6M274.8 151.1H274V151.7H274.8M274.8 150.6H273.1V151.4H274M269.7 147.1H269V151H273.1M274.8 152.2H274.1V152.8H274.8M269 149H268.3V152.5H274.1M274.8 153.3H274.1V153.9H274.8M268.3 150.8H267.4V153.6H274.1M274.8 154.4H274.4V154.9H274.8M267.4 152.2H266.9V154.7H274.4M263.3 129.4H263V153.4H266.9M274.8 155.5H274V156.1H274.8M274 155.8H272.9V156.6H274.8M274.8 157.7H274.1V158.2H274.8M274.8 157.2H273.5V158H274.1M273.5 157.6H272.8V158.8H274.8M272.9 156.2H272.4V158.2H272.8M274.8 159.4H273.9V159.9H274.8M272.4 157.2H271.8V159.6H273.9M274.8 160.4H274.4V161H274.8M271.8 158.4H270.9V160.7H274.4M274.8 161.6H274.3V162.1H274.8M270.9 159.6H269.9V161.8H274.3M274.8 162.7H274V163.2H274.8M269.9 160.7H268.9V162.9H274M274.8 163.8H274.1V164.3H274.8M268.9 161.8H268.2V164H274.1M263 141.4H262.4V162.9H268.2" stroke="#000" stroke-width="1.0" fill="none"/>
<path d="M262.44 152.17L262.44 147M262.44 147L244.6 147M244.6 147L244.6 161.4M244.6 161.4L262 161.4M262 161.4L262 159M262 159L270 159" stroke="#555" stroke-width="0.6" fill="none" />
<rect x="274.6" y="48.3" width="2.5" height="116.7" fill="#050505"/>
<path d="M64.49 48L64.49 41.76M67.47 48L67.47 41.76M70.44 48L70.44 34.7M73.42 48L73.42 40.28M76.4 48L76.4 40.28M82.36 48L82.36 42.51M85.33 48L85.33 42.51M79.38 48L79.38 37.22M91.29 48L91.29 39.08M94.27 48L94.27 39.08M88.31 48L88.31 32.52M100.22 48L100.22 42.27M103.2 48L103.2 42.27M106.18 48L106.18 40.98M109.16 48L109.16 40.98M97.24 48L97.24 35.15M112.13 48L112.13 41.91M115.11 48L115.11 41.91M118.09 48L118.09 38.43M121.07 48L121.07 38.43" stroke="#eaa4a4" stroke-width="0.8" fill="none" />
<path d="M124.04 48L124.04 42.39M127.02 48L127.02 42.39M130 48L130 39M132.98 48L132.98 44.1M135.96 48L135.96 44.1M138.93 48L138.93 43.42M141.91 48L141.91 43.42M144.89 48L144.89 43.5M147.87 48L147.87 43.5M150.84 48L150.84 42.42M153.82 48L153.82 42.42M156.8 48L156.8 42.97M159.78 48L159.78 42.97M162.76 48L162.76 44.03M165.73 48L165.73 44.03M168.71 48L168.71 38.19M174.67 48L174.67 43.63M177.64 48L177.64 43.63M171.69 48L171.69 40.26M180.62 48L180.62 42.11M183.6 48L183.6 42.11M186.58 48L186.58 42.54M189.56 48L189.56 42.54M192.53 48L192.53 37.97M195.51 48L195.51 29.6" stroke="#a4aae6" stroke-width="0.8" fill="none" />
<path d="M64.49 41.76L67.47 41.76M65.98 41.76L65.98 34.7M65.98 34.7L70.44 34.7M73.42 40.28L76.4 40.28M68.21 34.7L68.21 33.77M74.91 40.28L74.91 33.77M68.21 33.77L74.91 33.77M82.36 42.51L85.33 42.51M83.84 42.51L83.84 37.22M79.38 37.22L83.84 37.22M91.29 39.08L94.27 39.08M92.78 39.08L92.78 32.52M88.31 32.52L92.78 32.52M100.22 42.27L103.2 42.27M106.18 40.98L109.16 40.98M101.71 42.27L101.71 40.14M107.67 40.98L107.67 40.14M101.71 40.14L107.67 40.14M104.69 40.14L104.69 35.15M97.24 35.15L104.69 35.15M90.54 32.52L90.54 30.88M100.97 35.15L100.97 30.88M90.54 30.88L100.97 30.88M81.61 37.22L81.61 29.74M95.76 30.88L95.76 29.74M81.61 29.74L95.76 29.74M71.56 33.77L71.56 28.48M88.68 29.74L88.68 28.48M71.56 28.48L88.68 28.48M112.13 41.91L115.11 41.91M118.09 38.43L121.07 38.43M113.62 41.91L113.62 37.5M119.58 38.43L119.58 37.5M113.62 37.5L119.58 37.5M80.12 28.48L80.12 27M116.6 37.5L116.6 27M80.12 27L116.6 27M124.04 42.39L127.02 42.39M125.53 42.39L125.53 39M125.53 39L130 39M132.98 44.1L135.96 44.1M127.77 39L127.77 37.97M134.47 44.1L134.47 37.97M127.77 37.97L134.47 37.97M138.93 43.42L141.91 43.42M131.12 37.97L131.12 37.3M140.42 43.42L140.42 37.3M131.12 37.3L140.42 37.3M144.89 43.5L147.87 43.5M135.77 37.3L135.77 36.22M146.38 43.5L146.38 36.22M135.77 36.22L146.38 36.22M150.84 42.42L153.82 42.42M156.8 42.97L159.78 42.97M162.76 44.03L165.73 44.03M158.29 42.97L158.29 42.14M164.24 44.03L164.24 42.14M158.29 42.14L164.24 42.14M161.27 42.14L161.27 38.19M161.27 38.19L168.71 38.19M152.33 42.42L152.33 37.64M164.99 38.19L164.99 37.64M152.33 37.64L164.99 37.64M174.67 43.63L177.64 43.63M176.16 43.63L176.16 40.26M171.69 40.26L176.16 40.26M180.62 42.11L183.6 42.11M186.58 42.54L189.56 42.54M188.07 42.54L188.07 37.97M188.07 37.97L192.53 37.97M182.11 42.11L182.11 36.91M190.3 37.97L190.3 36.91M182.11 36.91L190.3 36.91M173.92 40.26L173.92 36.22M186.21 36.91L186.21 36.22M173.92 36.22L186.21 36.22M158.66 37.64L158.66 35.14M180.06 36.22L180.06 35.14M158.66 35.14L180.06 35.14M141.07 36.22L141.07 34.08M169.36 35.14L169.36 34.08M141.07 34.08L169.36 34.08M155.22 34.08L155.22 29.6M155.22 29.6L195.51 29.6M98.36 27L98.36 15M175.36 29.6L175.36 15M98.36 15L175.36 15M136.86 15L136.86 10.5" stroke="#444" stroke-width="0.6" fill="none" />
<path d="M278.52 48L278.52 43.69M281.57 48L281.57 43.69M284.61 48L284.61 44.44M287.66 48L287.66 44.44M293.75 48L293.75 45.35M296.8 48L296.8 45.35M290.7 48L290.7 42.94M299.84 48L299.84 44.32M302.89 48L302.89 44.32M305.93 48L305.93 41.58M312.02 48L312.02 43.82M315.07 48L315.07 43.82M318.11 48L318.11 40.67M308.98 48L308.98 37.94M324.2 48L324.2 45.17M327.25 48L327.25 45.17M321.16 48L321.16 42.02M330.3 48L330.3 45.54M333.34 48L333.34 45.54" stroke="#eaa4a4" stroke-width="0.8" fill="none" />
<path d="M339.43 48L339.43 43.73M342.48 48L342.48 43.73M345.52 48L345.52 40.32M336.39 48L336.39 37.22M351.61 48L351.61 44.35M354.66 48L354.66 44.35M348.57 48L348.57 41.03M363.8 48L363.8 44.05M366.84 48L366.84 44.05M360.75 48L360.75 39.85M369.89 48L369.89 36.82M357.7 48L357.7 33.19M372.93 48L372.93 44.2M375.98 48L375.98 44.2M382.07 48L382.07 44.65M385.11 48L385.11 44.65M379.02 48L379.02 41.66M388.16 48L388.16 45.04M391.2 48L391.2 45.04M394.25 48L394.25 42.59M397.3 48L397.3 42.59M403.39 48L403.39 43.78M406.43 48L406.43 43.78M400.34 48L400.34 40.43M409.48 48L409.48 28" stroke="#a4aae6" stroke-width="0.8" fill="none" />
<path d="M278.52 43.69L281.57 43.69M284.61 44.44L287.66 44.44M293.75 45.35L296.8 45.35M295.27 45.35L295.27 42.94M290.7 42.94L295.27 42.94M286.14 44.44L286.14 42.39M292.99 42.94L292.99 42.39M286.14 42.39L292.99 42.39M280.05 43.69L280.05 41.7M289.56 42.39L289.56 41.7M280.05 41.7L289.56 41.7M299.84 44.32L302.89 44.32M301.36 44.32L301.36 41.58M301.36 41.58L305.93 41.58M284.8 41.7L284.8 41.04M303.65 41.58L303.65 41.04M284.8 41.04L303.65 41.04M312.02 43.82L315.07 43.82M313.55 43.82L313.55 40.67M313.55 40.67L318.11 40.67M315.83 40.67L315.83 37.94M308.98 37.94L315.83 37.94M324.2 45.17L327.25 45.17M325.73 45.17L325.73 42.02M321.16 42.02L325.73 42.02M330.3 45.54L333.34 45.54M323.44 42.02L323.44 41.38M331.82 45.54L331.82 41.38M323.44 41.38L331.82 41.38M312.4 37.94L312.4 37.37M327.63 41.38L327.63 37.37M312.4 37.37L327.63 37.37M294.23 41.04L294.23 37M320.02 37.37L320.02 37M294.23 37L320.02 37M339.43 43.73L342.48 43.73M340.95 43.73L340.95 40.32M340.95 40.32L345.52 40.32M343.24 40.32L343.24 37.22M336.39 37.22L343.24 37.22M351.61 44.35L354.66 44.35M353.14 44.35L353.14 41.03M348.57 41.03L353.14 41.03M339.81 37.22L339.81 36.6M350.85 41.03L350.85 36.6M339.81 36.6L350.85 36.6M363.8 44.05L366.84 44.05M365.32 44.05L365.32 39.85M360.75 39.85L365.32 39.85M363.03 39.85L363.03 36.82M363.03 36.82L369.89 36.82M366.46 36.82L366.46 33.19M357.7 33.19L366.46 33.19M372.93 44.2L375.98 44.2M382.07 44.65L385.11 44.65M383.59 44.65L383.59 41.66M379.02 41.66L383.59 41.66M374.45 44.2L374.45 40.83M381.31 41.66L381.31 40.83M374.45 40.83L381.31 40.83M362.08 33.19L362.08 32.45M377.88 40.83L377.88 32.45M362.08 32.45L377.88 32.45M388.16 45.04L391.2 45.04M394.25 42.59L397.3 42.59M403.39 43.78L406.43 43.78M404.91 43.78L404.91 40.43M400.34 40.43L404.91 40.43M395.77 42.59L395.77 39.5M402.62 40.43L402.62 39.5M395.77 39.5L402.62 39.5M389.68 45.04L389.68 38.71M399.2 39.5L399.2 38.71M389.68 38.71L399.2 38.71M369.98 32.45L369.98 31.81M394.44 38.71L394.44 31.81M369.98 31.81L394.44 31.81M345.33 36.6L345.33 31.02M382.21 31.81L382.21 31.02M345.33 31.02L382.21 31.02M363.77 31.02L363.77 28M363.77 28L409.48 28M307.12 37L307.12 15M386.62 28L386.62 15M307.12 15L386.62 15M346.87 15L346.87 11" stroke="#444" stroke-width="0.6" fill="none" />
<path d="M277.66 259.8L277.66 258.05M280.99 259.8L280.99 258.05M284.31 259.8L284.31 258.52M287.64 259.8L287.64 258.52M290.96 259.8L290.96 256.83M297.61 259.8L297.61 259.09M300.94 259.8L300.94 259.09M294.29 259.8L294.29 257.14M304.26 259.8L304.26 258.29M307.59 259.8L307.59 258.29M310.91 259.8L310.91 259.06M314.24 259.8L314.24 259.06M317.56 259.8L317.56 258.71M320.89 259.8L320.89 258.71M324.21 259.8L324.21 258.71M327.54 259.8L327.54 258.71" stroke="#c83a3e" stroke-width="1.0" fill="none" />
<path d="M334.19 259.8L334.19 257.59M337.51 259.8L337.51 257.59M330.86 259.8L330.86 253.5M347.49 259.8L347.49 258.46M350.81 259.8L350.81 258.46M344.16 259.8L344.16 256.09M340.84 259.8L340.84 253.75M357.46 259.8L357.46 258.31M360.79 259.8L360.79 258.31M354.14 259.8L354.14 254.7M364.11 259.8L364.11 250.92M370.76 259.8L370.76 257.4M374.09 259.8L374.09 257.4M377.41 259.8L377.41 254.22M367.44 259.8L367.44 249.05" stroke="#8cc450" stroke-width="1.0" fill="none" />
<path d="M380.74 259.8L380.74 258.75M384.06 259.8L384.06 258.75M387.39 259.8L387.39 257.44M390.71 259.8L390.71 257.44M394.04 259.8L394.04 252.24M397.36 259.8L397.36 257.53" stroke="#2a1c18" stroke-width="1.0" fill="none" />
<path d="M400.69 259.8L400.69 257.53M404.01 259.8L404.01 258.47M407.34 259.8L407.34 258.47" stroke="#5a8a3a" stroke-width="1.0" fill="none" />
<path d="M277.66 258.05L280.99 258.05M284.31 258.52L287.64 258.52M285.98 258.52L285.98 256.83M285.98 256.83L290.96 256.83M297.61 259.09L300.94 259.09M299.27 259.09L299.27 257.14M294.29 257.14L299.27 257.14M304.26 258.29L307.59 258.29M310.91 259.06L314.24 259.06M305.92 258.29L305.92 255.88M312.58 259.06L312.58 255.88M305.92 255.88L312.58 255.88M296.78 257.14L296.78 253.85M309.25 255.88L309.25 253.85M296.78 253.85L309.25 253.85M288.47 256.83L288.47 251.68M303.02 253.85L303.02 251.68M288.47 251.68L303.02 251.68M317.56 258.71L320.89 258.71M324.21 258.71L327.54 258.71M319.23 258.71L319.23 256.7M325.88 258.71L325.88 256.7M319.23 256.7L325.88 256.7M295.74 251.68L295.74 249.51M322.55 256.7L322.55 249.51M295.74 249.51L322.55 249.51M279.33 258.05L279.33 248M309.15 249.51L309.15 248M279.33 248L309.15 248M334.19 257.59L337.51 257.59M335.85 257.59L335.85 253.5M330.86 253.5L335.85 253.5M347.49 258.46L350.81 258.46M349.15 258.46L349.15 256.09M344.16 256.09L349.15 256.09M346.66 256.09L346.66 253.75M340.84 253.75L346.66 253.75M357.46 258.31L360.79 258.31M359.12 258.31L359.12 254.7M354.14 254.7L359.12 254.7M356.63 254.7L356.63 250.92M356.63 250.92L364.11 250.92M370.76 257.4L374.09 257.4M372.42 257.4L372.42 254.22M372.42 254.22L377.41 254.22M374.92 254.22L374.92 249.05M367.44 249.05L374.92 249.05M360.37 250.92L360.37 245M371.18 249.05L371.18 245M360.37 245L371.18 245M343.75 253.75L343.75 243.18M365.78 245L365.78 243.18M343.75 243.18L365.78 243.18M380.74 258.75L384.06 258.75M387.39 257.44L390.71 257.44M389.05 257.44L389.05 252.24M389.05 252.24L394.04 252.24M397.36 257.53L400.69 257.53M391.54 252.24L391.54 249.9M399.02 257.53L399.02 249.9M391.54 249.9L399.02 249.9M382.4 258.75L382.4 245.78M395.28 249.9L395.28 245.78M382.4 245.78L395.28 245.78M404.01 258.47L407.34 258.47M388.84 245.78L388.84 244.21M405.67 258.47L405.67 244.21M388.84 244.21L405.67 244.21M354.76 243.18L354.76 240.51M397.26 244.21L397.26 240.51M354.76 240.51L397.26 240.51M333.36 253.5L333.36 238.6M376.01 240.51L376.01 238.6M333.36 238.6L376.01 238.6M294.24 248L294.24 229M354.68 238.6L354.68 229M294.24 229L354.68 229M324.46 229L324.46 225.5" stroke="#444" stroke-width="0.6" fill="none" />
<defs>
<linearGradient id="cg" x1="0" x2="1" y1="0" y2="0">
<stop offset="0" stop-color="#9ccc5a"/><stop offset="0.2" stop-color="#74a444"/><stop offset="0.45" stop-color="#101408"/><stop offset="0.5" stop-color="#000"/><stop offset="0.56" stop-color="#1a0606"/><stop offset="0.8" stop-color="#8c2228"/><stop offset="1" stop-color="#d02c34"/>
</linearGradient>
<filter id="bl" x="-2%" y="-1%" width="104%" height="102%"><feGaussianBlur stdDeviation="0.45 0.7"/></filter>
</defs>
<rect x="337.8" y="316.3" width="56.1" height="4.1" fill="url(#cg)"/>
<rect x="337.8" y="344.3" width="56.1" height="4.1" fill="url(#cg)"/>
<rect x="337.8" y="372.2" width="56.1" height="4.1" fill="url(#cg)"/>

<text x="2" y="11" font-size="16" font-weight="bold">a</text>
<text x="216" y="14" font-size="16" font-weight="bold">b</text>
<text x="216" y="234.3" font-size="16" font-weight="bold">c</text>
<text x="107.2" y="9.8" font-size="9.2">Tumor samples</text>
<text x="317" y="9.7" font-size="9.2">Tumor samples</text>
<text x="293.3" y="224" font-size="9.2">Tumor samples</text>
<g font-size="9.5">
<text x="2.2" y="654.7">2,071</text>
<text x="2.2" y="664.2">probe</text>
<text x="2.2" y="675">sets</text>
</g>
<rect x="2" y="677.5" width="37" height="8.5" fill="#fff"/>
<g font-size="7.8">
<text x="2.2" y="684.2">(FDR corr.</text>
<text x="2.2" y="693.2"><tspan font-style="italic">p</tspan>&lt;0.05;</text>
<text x="2.2" y="701.8">FC&gt;2)</text>
</g>
<path d="M26.7 662.3H30.5" stroke="#333" stroke-width="0.7"/>
<g font-size="9.5">
<text x="216.6" y="147">322</text>
<text x="216.6" y="157.5">probe</text>
<text x="216.6" y="167.5">sets</text>
</g>
<path d="M241.4 154.2H244.6" stroke="#333" stroke-width="0.7"/>
<g font-size="7.8">
<text x="216.6" y="176.5">(FWER corr.</text>
<text x="216.6" y="185.3"><tspan font-style="italic">p</tspan>&lt;0.05;</text>
<text x="216.6" y="193.8">FC&gt;2)</text>
</g>
<g text-anchor="middle">
<text x="251.5" y="260.7" font-size="9.6" font-style="italic">THBS4</text>
<text x="252.9" y="271.9" font-size="9">probe set</text>
<text x="252.5" y="279.8" font-size="7.9">(204776_at)</text>
</g>
<rect x="248" y="316" width="8" height="8" fill="#4a5fb0" stroke="#2c3c86" stroke-width="0.8"/>
<rect x="248" y="332.5" width="8" height="8" fill="#d83838" stroke="#8a2020" stroke-width="0.8"/>
<text x="261" y="324.4" font-size="12">Intestinal</text>
<text x="261" y="340.9" font-size="12">Diffuse</text>
<g font-size="8">
<text x="337.6" y="313.8" textLength="56" lengthAdjust="spacingAndGlyphs">Color range in A</text>
<text x="337.6" y="341.9" textLength="56" lengthAdjust="spacingAndGlyphs">Color range in B</text>
<text x="337.6" y="369.8" textLength="56" lengthAdjust="spacingAndGlyphs">Color range in C</text>
</g>
<g font-size="7.8">
<text x="329.8" y="327.6" textLength="18" lengthAdjust="spacingAndGlyphs">-4.62</text><text x="366.5" y="327.6" text-anchor="middle">0</text><text x="384.4" y="327.6" textLength="18.9" lengthAdjust="spacingAndGlyphs">+4.62</text>
<text x="329.8" y="355.7" textLength="18" lengthAdjust="spacingAndGlyphs">-3.73</text><text x="366.5" y="355.7" text-anchor="middle">0</text><text x="384.4" y="355.7" textLength="18.9" lengthAdjust="spacingAndGlyphs">+3.73</text>
<text x="329.8" y="383.5" textLength="18" lengthAdjust="spacingAndGlyphs">-2.86</text><text x="366.5" y="383.5" text-anchor="middle">0</text><text x="384.4" y="383.5" textLength="18.9" lengthAdjust="spacingAndGlyphs">+2.86</text>
</g>

</svg>
</body></html>
